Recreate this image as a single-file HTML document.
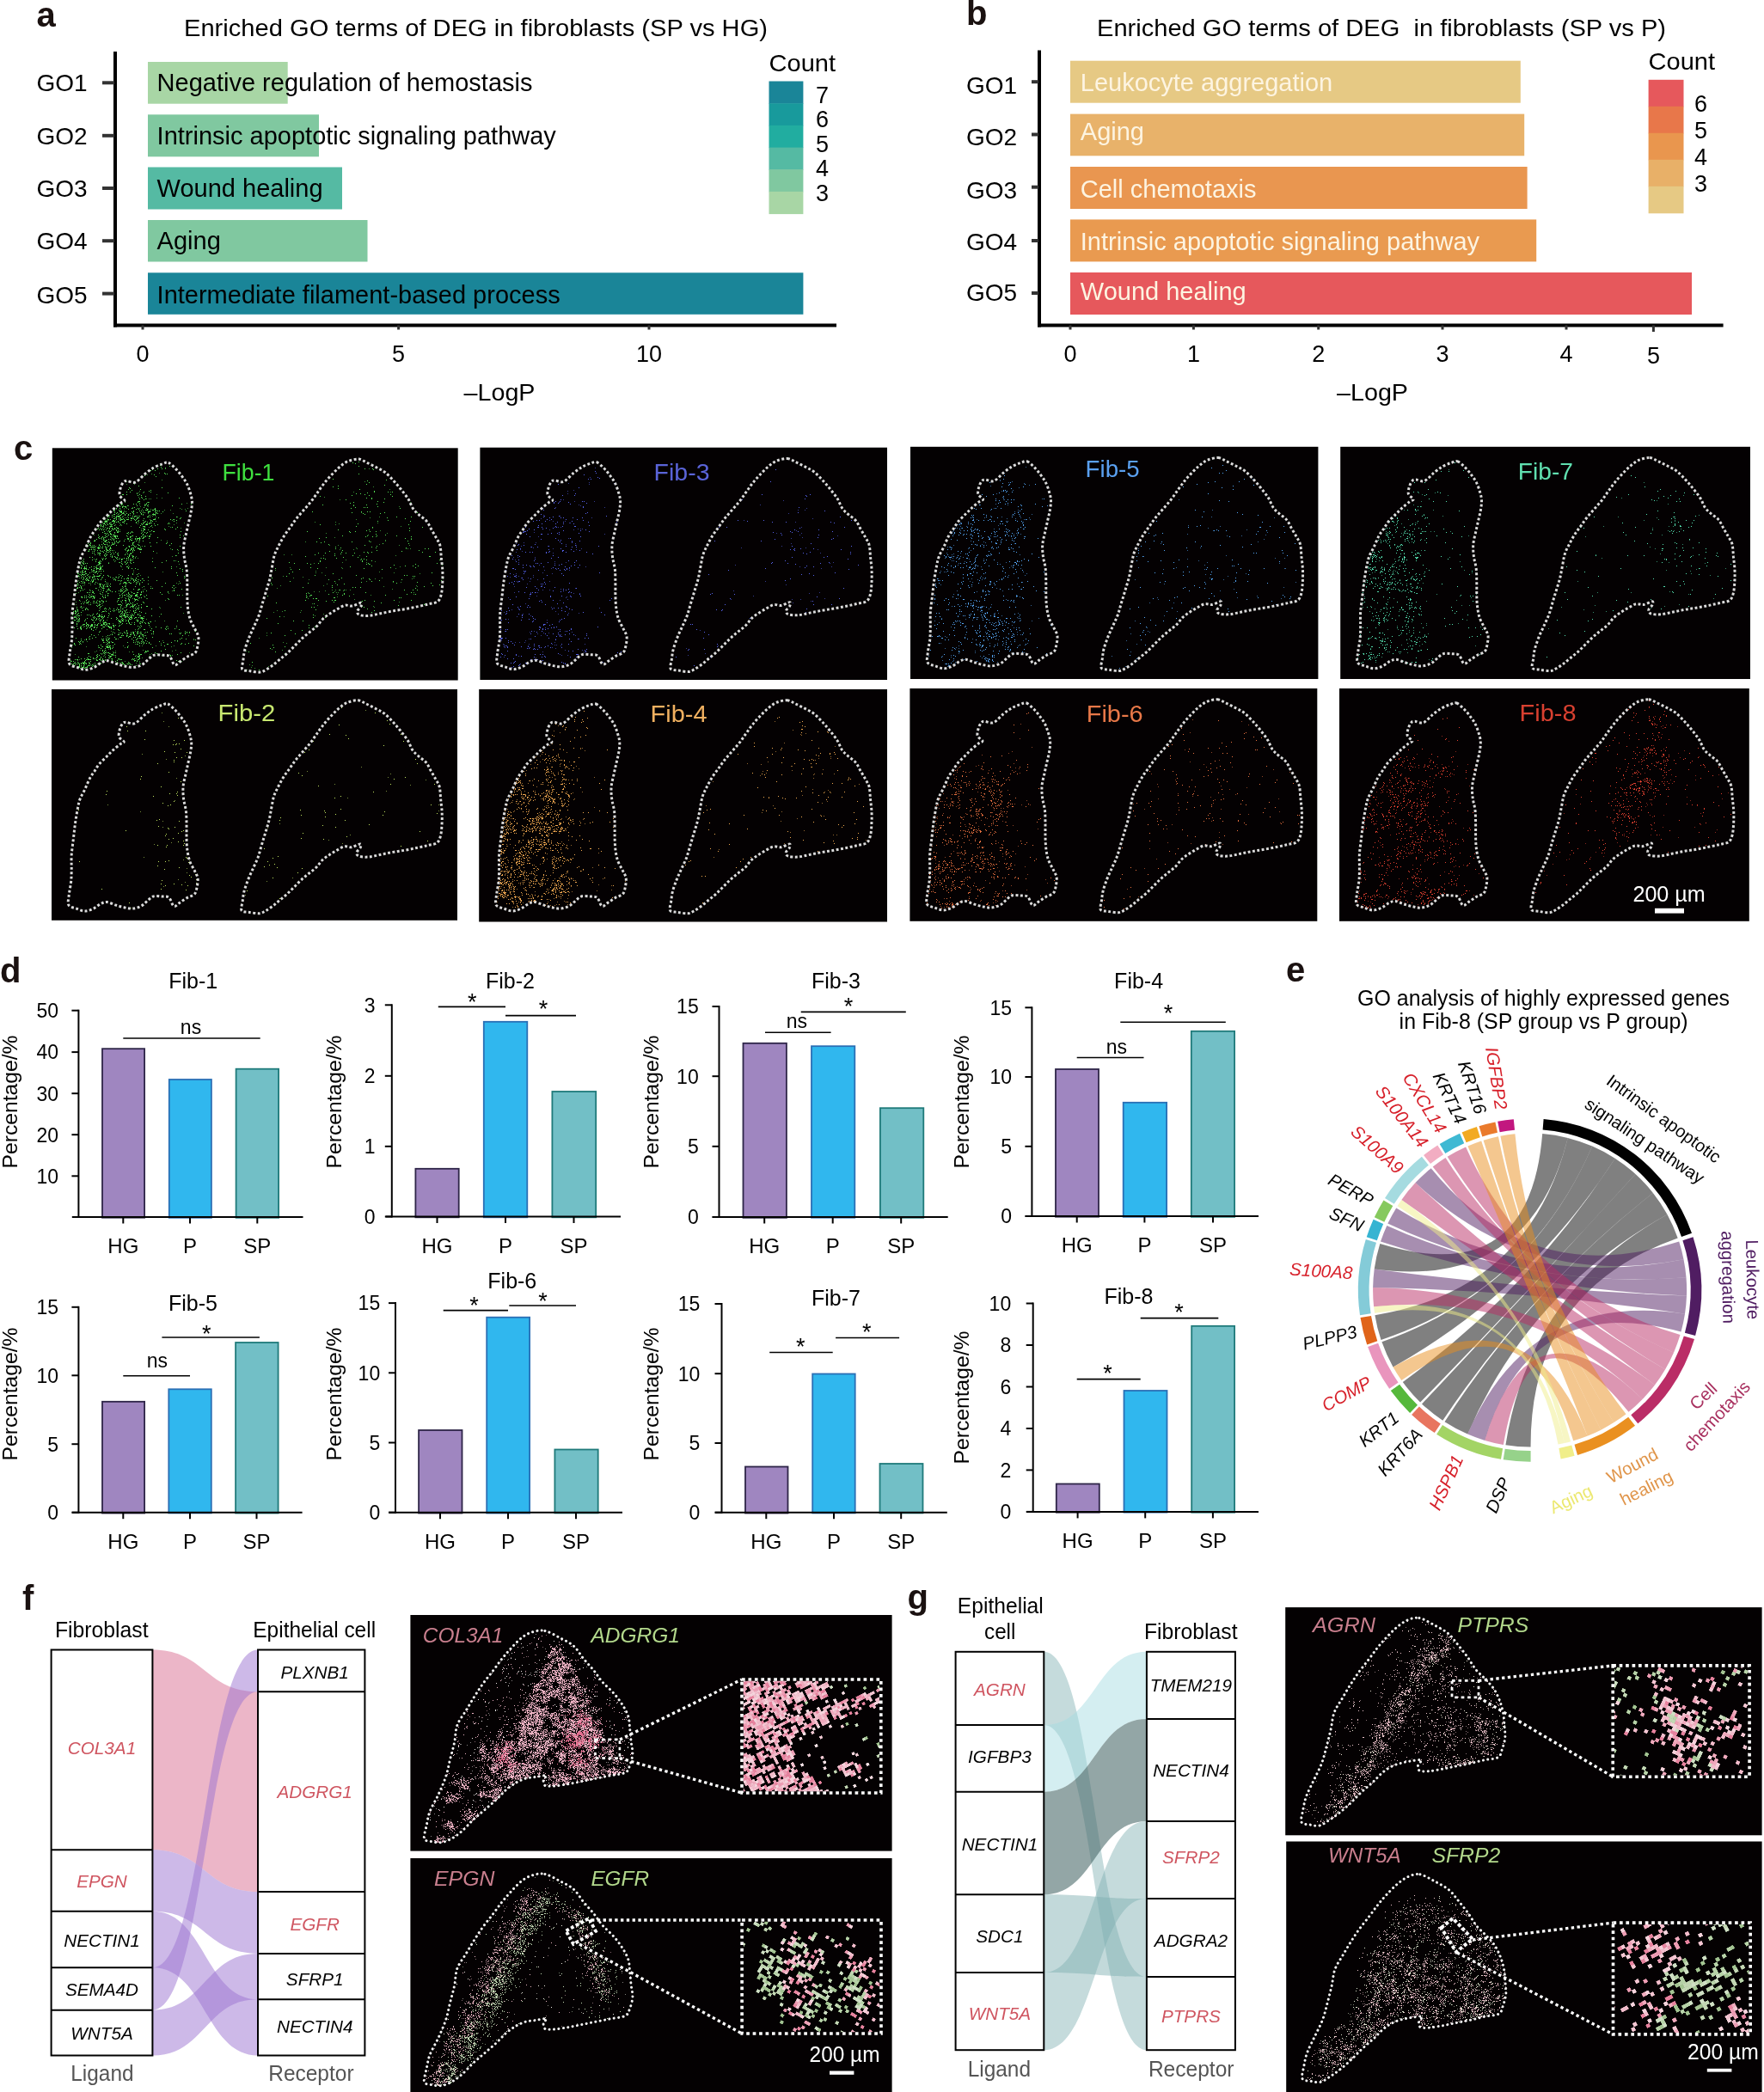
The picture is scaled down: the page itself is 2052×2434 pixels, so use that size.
<!DOCTYPE html>
<html><head><meta charset="utf-8"><title>Figure</title>
<style>
html,body{margin:0;padding:0;background:#fff;}
body{width:2052px;height:2434px;overflow:hidden;}
svg{display:block;font-family:"Liberation Sans",sans-serif;}
.mk{fill:none;stroke:none;}
</style></head><body>
<svg width="2052" height="2434" viewBox="0 0 2052 2434">
<rect width="2052" height="2434" fill="#fff"/>
<defs><marker id="m0" markerWidth="1.3" markerHeight="1.3" refX="0" refY="0" markerUnits="userSpaceOnUse"><rect width="1.3" height="1.3" fill="#55e055"/></marker><marker id="m1" markerWidth="1.3" markerHeight="1.3" refX="0" refY="0" markerUnits="userSpaceOnUse"><rect width="1.3" height="1.3" fill="#5560e8"/></marker><marker id="m2" markerWidth="1.3" markerHeight="1.3" refX="0" refY="0" markerUnits="userSpaceOnUse"><rect width="1.3" height="1.3" fill="#55a5f5"/></marker><marker id="m3" markerWidth="1.3" markerHeight="1.3" refX="0" refY="0" markerUnits="userSpaceOnUse"><rect width="1.3" height="1.3" fill="#55e0b0"/></marker><marker id="m4" markerWidth="1.3" markerHeight="1.3" refX="0" refY="0" markerUnits="userSpaceOnUse"><rect width="1.3" height="1.3" fill="#c0e060"/></marker><marker id="m5" markerWidth="1.3" markerHeight="1.3" refX="0" refY="0" markerUnits="userSpaceOnUse"><rect width="1.3" height="1.3" fill="#f0a850"/></marker><marker id="m6" markerWidth="1.3" markerHeight="1.3" refX="0" refY="0" markerUnits="userSpaceOnUse"><rect width="1.3" height="1.3" fill="#e87040"/></marker><marker id="m7" markerWidth="1.3" markerHeight="1.3" refX="0" refY="0" markerUnits="userSpaceOnUse"><rect width="1.3" height="1.3" fill="#e04030"/></marker><marker id="m8" markerWidth="1.1" markerHeight="1.1" refX="0" refY="0" markerUnits="userSpaceOnUse"><rect width="1.1" height="1.1" fill="#ece4e5"/></marker><marker id="m9" markerWidth="1.4" markerHeight="1.4" refX="0" refY="0" markerUnits="userSpaceOnUse"><rect width="1.4" height="1.4" fill="#ecb2c3"/></marker><marker id="m10" markerWidth="1.4" markerHeight="1.4" refX="0" refY="0" markerUnits="userSpaceOnUse"><rect width="1.4" height="1.4" fill="#e56f90"/></marker><clipPath id="cp1"><rect x="864.8" y="1955.8" width="158.2" height="128.4"/></clipPath><marker id="m11" markerWidth="3.6" markerHeight="3.6" refX="1.8" refY="1.8" markerUnits="userSpaceOnUse"><rect width="3.6" height="3.6" fill="#f4c6d2"/></marker><marker id="m12" markerWidth="3.6" markerHeight="3.6" refX="1.8" refY="1.8" markerUnits="userSpaceOnUse"><rect width="3.6" height="3.6" fill="#f0aabd"/></marker><marker id="m13" markerWidth="3.6" markerHeight="3.6" refX="1.8" refY="1.8" markerUnits="userSpaceOnUse"><rect width="3.6" height="3.6" fill="#e8839f"/></marker><marker id="m14" markerWidth="3.6" markerHeight="3.6" refX="1.8" refY="1.8" markerUnits="userSpaceOnUse"><rect width="3.6" height="3.6" fill="#ee9db4"/></marker><marker id="m15" markerWidth="3.6" markerHeight="3.6" refX="1.8" refY="1.8" markerUnits="userSpaceOnUse"><rect width="3.6" height="3.6" fill="#f6d3dc"/></marker><marker id="m16" markerWidth="3.6" markerHeight="3.6" refX="1.8" refY="1.8" markerUnits="userSpaceOnUse"><rect width="3.6" height="3.6" fill="#f2bccb"/></marker><marker id="m17" markerWidth="3.6" markerHeight="3.6" refX="1.8" refY="1.8" markerUnits="userSpaceOnUse"><rect width="3.6" height="3.6" fill="#cfe0c4"/></marker><marker id="m18" markerWidth="3.6" markerHeight="3.6" refX="1.8" refY="1.8" markerUnits="userSpaceOnUse"><rect width="3.6" height="3.6" fill="#b7d3a8"/></marker><marker id="m19" markerWidth="3.6" markerHeight="3.6" refX="1.8" refY="1.8" markerUnits="userSpaceOnUse"><rect width="3.6" height="3.6" fill="#f3d9df"/></marker><marker id="m20" markerWidth="3.6" markerHeight="3.6" refX="1.8" refY="1.8" markerUnits="userSpaceOnUse"><rect width="3.6" height="3.6" fill="#f6e3e7"/></marker><marker id="m21" markerWidth="3.6" markerHeight="3.6" refX="1.8" refY="1.8" markerUnits="userSpaceOnUse"><rect width="3.6" height="3.6" fill="#efc9d3"/></marker><marker id="m22" markerWidth="3.6" markerHeight="3.6" refX="1.8" refY="1.8" markerUnits="userSpaceOnUse"><rect width="3.6" height="3.6" fill="#a3c492"/></marker><marker id="m23" markerWidth="3.6" markerHeight="3.6" refX="1.8" refY="1.8" markerUnits="userSpaceOnUse"><rect width="3.6" height="3.6" fill="#c3d8b4"/></marker><marker id="m24" markerWidth="1.1" markerHeight="1.1" refX="0" refY="0" markerUnits="userSpaceOnUse"><rect width="1.1" height="1.1" fill="#e9e4dc"/></marker><marker id="m25" markerWidth="1.15" markerHeight="1.15" refX="0" refY="0" markerUnits="userSpaceOnUse"><rect width="1.15" height="1.15" fill="#e6b2bf"/></marker><marker id="m26" markerWidth="1.15" markerHeight="1.15" refX="0" refY="0" markerUnits="userSpaceOnUse"><rect width="1.15" height="1.15" fill="#c4dab5"/></marker><clipPath id="cp2"><rect x="864.9" y="2235.8" width="158.3" height="128.4"/></clipPath><marker id="m27" markerWidth="4" markerHeight="4" refX="2" refY="2" markerUnits="userSpaceOnUse"><rect width="4" height="4" fill="#ee9db4"/></marker><marker id="m28" markerWidth="4" markerHeight="4" refX="2" refY="2" markerUnits="userSpaceOnUse"><rect width="4" height="4" fill="#f6d3dc"/></marker><marker id="m29" markerWidth="4" markerHeight="4" refX="2" refY="2" markerUnits="userSpaceOnUse"><rect width="4" height="4" fill="#b7d3a8"/></marker><marker id="m30" markerWidth="4" markerHeight="4" refX="2" refY="2" markerUnits="userSpaceOnUse"><rect width="4" height="4" fill="#f2bccb"/></marker><marker id="m31" markerWidth="4" markerHeight="4" refX="2" refY="2" markerUnits="userSpaceOnUse"><rect width="4" height="4" fill="#f0aabd"/></marker><marker id="m32" markerWidth="4" markerHeight="4" refX="2" refY="2" markerUnits="userSpaceOnUse"><rect width="4" height="4" fill="#a3c492"/></marker><marker id="m33" markerWidth="4" markerHeight="4" refX="2" refY="2" markerUnits="userSpaceOnUse"><rect width="4" height="4" fill="#f4c6d2"/></marker><marker id="m34" markerWidth="4" markerHeight="4" refX="2" refY="2" markerUnits="userSpaceOnUse"><rect width="4" height="4" fill="#c3d8b4"/></marker><marker id="m35" markerWidth="4" markerHeight="4" refX="2" refY="2" markerUnits="userSpaceOnUse"><rect width="4" height="4" fill="#e8839f"/></marker><marker id="m36" markerWidth="4" markerHeight="4" refX="2" refY="2" markerUnits="userSpaceOnUse"><rect width="4" height="4" fill="#cfe0c4"/></marker><marker id="m37" markerWidth="1.15" markerHeight="1.15" refX="0" refY="0" markerUnits="userSpaceOnUse"><rect width="1.15" height="1.15" fill="#ecc2ca"/></marker><marker id="m38" markerWidth="1.1" markerHeight="1.1" refX="0" refY="0" markerUnits="userSpaceOnUse"><rect width="1.1" height="1.1" fill="#e4dfcf"/></marker><clipPath id="cp3"><rect x="1878.0" y="1939.7" width="155.3" height="125.7"/></clipPath><marker id="m39" markerWidth="4.5" markerHeight="4.5" refX="2.25" refY="2.25" markerUnits="userSpaceOnUse"><rect width="4.5" height="4.5" fill="#f0aabd"/></marker><marker id="m40" markerWidth="4.5" markerHeight="4.5" refX="2.25" refY="2.25" markerUnits="userSpaceOnUse"><rect width="4.5" height="4.5" fill="#b7d3a8"/></marker><marker id="m41" markerWidth="4.5" markerHeight="4.5" refX="2.25" refY="2.25" markerUnits="userSpaceOnUse"><rect width="4.5" height="4.5" fill="#ee9db4"/></marker><marker id="m42" markerWidth="4.5" markerHeight="4.5" refX="2.25" refY="2.25" markerUnits="userSpaceOnUse"><rect width="4.5" height="4.5" fill="#cfe0c4"/></marker><marker id="m43" markerWidth="4.5" markerHeight="4.5" refX="2.25" refY="2.25" markerUnits="userSpaceOnUse"><rect width="4.5" height="4.5" fill="#a3c492"/></marker><marker id="m44" markerWidth="4.5" markerHeight="4.5" refX="2.25" refY="2.25" markerUnits="userSpaceOnUse"><rect width="4.5" height="4.5" fill="#f4c6d2"/></marker><marker id="m45" markerWidth="4.5" markerHeight="4.5" refX="2.25" refY="2.25" markerUnits="userSpaceOnUse"><rect width="4.5" height="4.5" fill="#e8839f"/></marker><marker id="m46" markerWidth="4.5" markerHeight="4.5" refX="2.25" refY="2.25" markerUnits="userSpaceOnUse"><rect width="4.5" height="4.5" fill="#f6d3dc"/></marker><marker id="m47" markerWidth="4.5" markerHeight="4.5" refX="2.25" refY="2.25" markerUnits="userSpaceOnUse"><rect width="4.5" height="4.5" fill="#c3d8b4"/></marker><marker id="m48" markerWidth="4.5" markerHeight="4.5" refX="2.25" refY="2.25" markerUnits="userSpaceOnUse"><rect width="4.5" height="4.5" fill="#f2bccb"/></marker><marker id="m49" markerWidth="1.15" markerHeight="1.15" refX="0" refY="0" markerUnits="userSpaceOnUse"><rect width="1.15" height="1.15" fill="#ecc0c9"/></marker><marker id="m50" markerWidth="1.15" markerHeight="1.15" refX="0" refY="0" markerUnits="userSpaceOnUse"><rect width="1.15" height="1.15" fill="#dbe3cd"/></marker><clipPath id="cp4"><rect x="1878.3" y="2238.9" width="156.1" height="126.2"/></clipPath><marker id="m51" markerWidth="4.8" markerHeight="4.8" refX="2.4" refY="2.4" markerUnits="userSpaceOnUse"><rect width="4.8" height="4.8" fill="#f6d3dc"/></marker><marker id="m52" markerWidth="4.8" markerHeight="4.8" refX="2.4" refY="2.4" markerUnits="userSpaceOnUse"><rect width="4.8" height="4.8" fill="#f2bccb"/></marker><marker id="m53" markerWidth="4.8" markerHeight="4.8" refX="2.4" refY="2.4" markerUnits="userSpaceOnUse"><rect width="4.8" height="4.8" fill="#ee9db4"/></marker><marker id="m54" markerWidth="4.8" markerHeight="4.8" refX="2.4" refY="2.4" markerUnits="userSpaceOnUse"><rect width="4.8" height="4.8" fill="#f0aabd"/></marker><marker id="m55" markerWidth="4.8" markerHeight="4.8" refX="2.4" refY="2.4" markerUnits="userSpaceOnUse"><rect width="4.8" height="4.8" fill="#f4c6d2"/></marker><marker id="m56" markerWidth="4.8" markerHeight="4.8" refX="2.4" refY="2.4" markerUnits="userSpaceOnUse"><rect width="4.8" height="4.8" fill="#e8839f"/></marker><marker id="m57" markerWidth="4.8" markerHeight="4.8" refX="2.4" refY="2.4" markerUnits="userSpaceOnUse"><rect width="4.8" height="4.8" fill="#c3d8b4"/></marker><marker id="m58" markerWidth="4.8" markerHeight="4.8" refX="2.4" refY="2.4" markerUnits="userSpaceOnUse"><rect width="4.8" height="4.8" fill="#cfe0c4"/></marker><marker id="m59" markerWidth="4.8" markerHeight="4.8" refX="2.4" refY="2.4" markerUnits="userSpaceOnUse"><rect width="4.8" height="4.8" fill="#b7d3a8"/></marker><marker id="m60" markerWidth="4.8" markerHeight="4.8" refX="2.4" refY="2.4" markerUnits="userSpaceOnUse"><rect width="4.8" height="4.8" fill="#a3c492"/></marker></defs>
<g opacity="0.999">
<text x="42.5" y="30.6" font-size="40" fill="#1a1110" font-weight="bold">a</text>
<text x="214.0" y="41.5" font-size="27" fill="#000" textLength="679.0" lengthAdjust="spacingAndGlyphs">Enriched GO terms of DEG in fibroblasts (SP vs HG)</text>
<line x1="134.0" y1="60.0" x2="134.0" y2="380.5" stroke="#000" stroke-width="4"/>
<line x1="132.0" y1="378.5" x2="973.0" y2="378.5" stroke="#000" stroke-width="4"/>
<rect x="172.0" y="72.0" width="162.7" height="48.7" fill="#a8d6a5"/>
<line x1="119.0" y1="96.3" x2="133.0" y2="96.3" stroke="#333" stroke-width="4"/>
<text x="42.5" y="106.0" font-size="28" fill="#000">GO1</text>
<text x="182.6" y="106.0" font-size="29" fill="#000">Negative regulation of hemostasis</text>
<rect x="172.0" y="133.3" width="199.0" height="49.0" fill="#80c8a0"/>
<line x1="119.0" y1="157.8" x2="133.0" y2="157.8" stroke="#333" stroke-width="4"/>
<text x="42.5" y="167.6" font-size="28" fill="#000">GO2</text>
<text x="182.6" y="167.6" font-size="29" fill="#000">Intrinsic apoptotic signaling pathway</text>
<rect x="172.0" y="194.5" width="226.0" height="49.0" fill="#55baa3"/>
<line x1="119.0" y1="219.0" x2="133.0" y2="219.0" stroke="#333" stroke-width="4"/>
<text x="42.5" y="229.0" font-size="28" fill="#000">GO3</text>
<text x="182.6" y="229.0" font-size="29" fill="#000">Wound healing</text>
<rect x="172.0" y="256.0" width="255.5" height="48.5" fill="#80c8a0"/>
<line x1="119.0" y1="280.2" x2="133.0" y2="280.2" stroke="#333" stroke-width="4"/>
<text x="42.5" y="290.0" font-size="28" fill="#000">GO4</text>
<text x="182.6" y="290.0" font-size="29" fill="#000">Aging</text>
<rect x="172.0" y="317.3" width="762.4" height="48.5" fill="#1a8598"/>
<line x1="119.0" y1="341.6" x2="133.0" y2="341.6" stroke="#333" stroke-width="4"/>
<text x="42.5" y="352.5" font-size="28" fill="#000">GO5</text>
<text x="182.6" y="352.5" font-size="29" fill="#000">Intermediate filament-based process</text>
<line x1="166.0" y1="378.5" x2="166.0" y2="383.5" stroke="#333" stroke-width="3"/>
<text x="166.0" y="420.5" font-size="27" fill="#000" text-anchor="middle">0</text>
<line x1="463.6" y1="378.5" x2="463.6" y2="383.5" stroke="#333" stroke-width="3"/>
<text x="463.6" y="420.5" font-size="27" fill="#000" text-anchor="middle">5</text>
<line x1="755.0" y1="378.5" x2="755.0" y2="383.5" stroke="#333" stroke-width="3"/>
<text x="755.0" y="420.5" font-size="27" fill="#000" text-anchor="middle">10</text>
<text x="581.0" y="466.0" font-size="27.5" fill="#000" text-anchor="middle" textLength="83.0" lengthAdjust="spacingAndGlyphs">–LogP</text>
<text x="894.5" y="83.0" font-size="28" fill="#000" textLength="77.5" lengthAdjust="spacingAndGlyphs">Count</text>
<rect x="894.5" y="94.5" width="39.9" height="26.2" fill="#1a8598"/>
<rect x="894.5" y="120.2" width="39.9" height="26.2" fill="#189a9c"/>
<rect x="894.5" y="145.9" width="39.9" height="26.2" fill="#21ada0"/>
<rect x="894.5" y="171.6" width="39.9" height="26.2" fill="#55baa3"/>
<rect x="894.5" y="197.2" width="39.9" height="26.2" fill="#80c8a0"/>
<rect x="894.5" y="222.9" width="39.9" height="26.2" fill="#a8d6a5"/>
<text x="949.0" y="120.0" font-size="27" fill="#000">7</text>
<text x="949.0" y="148.4" font-size="27" fill="#000">6</text>
<text x="949.0" y="176.8" font-size="27" fill="#000">5</text>
<text x="949.0" y="205.2" font-size="27" fill="#000">4</text>
<text x="949.0" y="233.6" font-size="27" fill="#000">3</text>
<text x="1124.0" y="29.0" font-size="40" fill="#1a1110" font-weight="bold">b</text>
<text x="1276.0" y="41.5" font-size="27" fill="#000" textLength="662.0" lengthAdjust="spacingAndGlyphs">Enriched GO terms of DEG&#160;&#160;in fibroblasts (SP vs P)</text>
<line x1="1209.0" y1="58.5" x2="1209.0" y2="380.5" stroke="#000" stroke-width="4"/>
<line x1="1207.0" y1="378.5" x2="2004.6" y2="378.5" stroke="#000" stroke-width="4"/>
<rect x="1245.0" y="70.7" width="523.8" height="49.0" fill="#e6c984"/>
<line x1="1200.0" y1="95.2" x2="1208.0" y2="95.2" stroke="#333" stroke-width="4"/>
<text x="1124.0" y="109.0" font-size="28" fill="#000">GO1</text>
<text x="1256.8" y="106.0" font-size="29" fill="#fdf4e1">Leukocyte aggregation</text>
<rect x="1245.0" y="132.6" width="528.2" height="48.7" fill="#e8b26a"/>
<line x1="1200.0" y1="156.5" x2="1208.0" y2="156.5" stroke="#333" stroke-width="4"/>
<text x="1124.0" y="169.4" font-size="28" fill="#000">GO2</text>
<text x="1256.8" y="162.6" font-size="29" fill="#fdf4e1">Aging</text>
<rect x="1245.0" y="194.0" width="531.6" height="49.0" fill="#e99650"/>
<line x1="1200.0" y1="217.7" x2="1208.0" y2="217.7" stroke="#333" stroke-width="4"/>
<text x="1124.0" y="230.6" font-size="28" fill="#000">GO3</text>
<text x="1256.8" y="229.6" font-size="29" fill="#fdf4e1">Cell chemotaxis</text>
<rect x="1245.0" y="255.4" width="542.2" height="49.0" fill="#e99a50"/>
<line x1="1200.0" y1="280.0" x2="1208.0" y2="280.0" stroke="#333" stroke-width="4"/>
<text x="1124.0" y="290.8" font-size="28" fill="#000">GO4</text>
<text x="1256.8" y="290.8" font-size="29" fill="#fdf4e1">Intrinsic apoptotic signaling pathway</text>
<rect x="1245.0" y="317.0" width="723.0" height="49.0" fill="#e6585c"/>
<line x1="1200.0" y1="341.0" x2="1208.0" y2="341.0" stroke="#333" stroke-width="4"/>
<text x="1124.0" y="349.6" font-size="28" fill="#000">GO5</text>
<text x="1256.8" y="349.3" font-size="29" fill="#fdf4e1">Wound healing</text>
<line x1="1245.0" y1="378.5" x2="1245.0" y2="383.5" stroke="#333" stroke-width="3"/>
<text x="1245.0" y="420.5" font-size="27" fill="#000" text-anchor="middle">0</text>
<line x1="1388.4" y1="378.5" x2="1388.4" y2="383.5" stroke="#333" stroke-width="3"/>
<text x="1388.4" y="420.5" font-size="27" fill="#000" text-anchor="middle">1</text>
<line x1="1533.7" y1="378.5" x2="1533.7" y2="383.5" stroke="#333" stroke-width="3"/>
<text x="1533.7" y="420.5" font-size="27" fill="#000" text-anchor="middle">2</text>
<line x1="1678.0" y1="378.5" x2="1678.0" y2="383.5" stroke="#333" stroke-width="3"/>
<text x="1678.0" y="420.5" font-size="27" fill="#000" text-anchor="middle">3</text>
<line x1="1822.0" y1="378.5" x2="1822.0" y2="383.5" stroke="#333" stroke-width="3"/>
<text x="1822.0" y="420.5" font-size="27" fill="#000" text-anchor="middle">4</text>
<line x1="1923.4" y1="378.5" x2="1923.4" y2="386.0" stroke="#333" stroke-width="3"/>
<text x="1923.4" y="423.0" font-size="27" fill="#000" text-anchor="middle">5</text>
<text x="1596.5" y="466.0" font-size="27.5" fill="#000" text-anchor="middle" textLength="83.0" lengthAdjust="spacingAndGlyphs">–LogP</text>
<text x="1917.6" y="81.2" font-size="28" fill="#000" textLength="77.5" lengthAdjust="spacingAndGlyphs">Count</text>
<rect x="1917.6" y="92.8" width="40.9" height="31.5" fill="#e6585c"/>
<rect x="1917.6" y="123.8" width="40.9" height="31.5" fill="#e8774a"/>
<rect x="1917.6" y="154.8" width="40.9" height="31.5" fill="#e9964e"/>
<rect x="1917.6" y="185.8" width="40.9" height="31.5" fill="#e8b068"/>
<rect x="1917.6" y="216.8" width="40.9" height="31.5" fill="#e6c984"/>
<text x="1971.0" y="129.5" font-size="27" fill="#000">6</text>
<text x="1971.0" y="160.5" font-size="27" fill="#000">5</text>
<text x="1971.0" y="191.5" font-size="27" fill="#000">4</text>
<text x="1971.0" y="222.5" font-size="27" fill="#000">3</text>
<text x="16.0" y="535.4" font-size="40" fill="#1a1110" font-weight="bold">c</text>
<rect x="60.8" y="521.3" width="471.9" height="270.2" fill="#040102"/>
<path d="M186 541l11 1-10 1 5 1-9 1 5 0-11 1-2 1 5 0 11 3 1 1 2 0-15 1-11 1 13 1-16 1-14 5 10 5-11 2 38 0-37 1-2 1 14 0-10 1 22 0-2 1-26 1 4 0 16 0 8 0 20 1-36 1-17 1 1 0 4 0 15 0-2 1 4 0-24 1 29 0-5 1 1 1 43 0-46 1 7 0-2 1-6 2 1 0-2 1 12 0-10 1-21 1 1 0 13 0 3 0 12 0 41 0 11 0-81 1 28 0 3 0-24 1 11 0 9 0 3 0 29 0-64 1 3 0 3 0 3 0 1 0-4 1 4 0 10 0 11 0-32 1 4 0 14 0 7 0 10 0 10 0-47 1 16 0 9 0 3 0 10 0 9 0-48 1 6 0 31 0 1 0 1 0 6 0 1 0 2 0-48 1 1 0 6 0 2 0 14 0 7 0 2 0 2 0 8 0 7 0 2 0 2 0 31 0-77 1 1 0 1 0 3 0 2 0 7 0 2 0 17 0 1 0 1 0 6 0 9 0-56 1 3 0 5 0 2 0 11 0 5 0 4 0 3 0 2 0 4 0 9 0-46 1 7 0 1 0 4 0 4 0 4 0 9 0 17 0 2 0-51 1 1 0 4 0 4 0 4 0 4 0 15 0 2 0 11 0 1 0 1 0 1 0-54 1 4 0 9 0 1 0 5 0 4 0 24 0 7 0-54 1 6 0 3 0 1 0 1 0 1 0 16 0 3 0 1 0 2 0 2 0-37 1 5 0 8 0 1 0 3 0 14 0 15 0 1 0 2 0 31 0-70 1 5 0 9 0 3 0 2 0 5 0 1 0 1 0 23 0 26 0-78 1 1 0 5 0 2 0 3 0 9 0 1 0 2 0 4 0 8 0 13 0 29 0-84 1 1 0 2 0 7 0 5 0 1 0 1 0 2 0 3 0 1 0 1 0 7 0 2 0 20 0 1 0 1 0 18 0 4 0-78 1 7 0 1 0 8 0 5 0 7 0 5 0 4 0 5 0 9 0 30 0-83 1 1 0 1 0 6 0 1 0 1 0 1 0 4 0 7 0 16 0 9 0 6 0 2 0 25 0-83 1 3 0 2 0 9 0 2 0 2 0 5 0 1 0 15 0 9 0 1 0 3 0-50 1 7 0 4 0 7 0 5 0 14 0 8 0 8 0 1 0 21 0-76 1 1 0 3 0 3 0 20 0 17 0 6 0 1 0 2 0 6 0 16 0-78 1 5 0 3 0 3 0 1 0 1 0 10 0 25 0 4 0 1 0 1 0 12 0-66 1 3 0 13 0 30 0 13 0 4 0-63 1 2 0 9 0 1 0 1 0 36 0 1 0 1 0 7 0-40 1 27 0 6 0 32 0 6 0-92 1 10 0 1 0 2 0 3 0 3 0 3 0 1 0 29 0-53 1 4 0 10 0 3 0 2 0 5 0 30 0 1 0 23 0 13 0-89 1 3 0 2 0 3 0 8 0 4 0 32 0 1 0 4 0 20 0-66 1 3 0 6 0 2 0 27 0 2 0 10 0-55 1 6 0 1 0 9 0 2 0 14 0 21 0 4 0 1 0 31 0-91 1 8 0 6 0 3 0 1 0 12 0 3 0 2 0 14 0 3 0-49 1 6 0 20 0 3 0 13 0 6 0-62 1 15 0 5 0 1 0 37 0 9 0-61 1 12 0 5 0 1 0 34 0 43 0-87 1 11 0 1 0 2 0 11 0 7 0 20 0 39 0-98 1 4 0 5 0 4 0 4 0 1 0 1 0 2 0 15 0 1 0 6 0 6 0 3 0 2 0 4 0-59 1 4 0 4 0 12 0 17 0 11 0 5 0 16 0 26 0-94 1 2 0 3 0 10 0 5 0 2 0 11 0 1 0 8 0 2 0 1 0 1 0 1 0 4 0 7 0-61 1 14 0 2 0 4 0 17 0 2 0 6 0 2 0 3 0-52 1 10 0 3 0 9 0 20 0 1 0 9 0-53 1 1 0 11 0 1 0 1 0 12 0 4 0 5 0 6 0 8 0 8 0-44 1 4 0 7 0 5 0-33 1 19 0 3 0 3 0 7 0 17 0 1 0 19 0 8 0 12 0-92 1 3 0 15 0 11 0 2 0 21 0 39 0 6 0-95 1 14 0 3 0 1 0 2 0 6 0 2 0 22 0 6 0-56 1 1 0 4 0 6 0 14 0 6 0 8 0 10 0 2 0 6 0 36 0-95 1 14 0 3 0 7 0 24 0 6 0 12 0 7 0 34 0-104 1 1 0 1 0 2 0 1 0 4 0 8 0 2 0 4 0 22 0 7 0 6 0-55 1 5 0 1 0 1 0 1 0 2 0 1 0 4 0 5 0 19 0 6 0 2 0 5 0 53 0-99 1 9 0 5 0 18 0 6 0 8 0 1 0 1 0-58 1 2 0 18 0 3 0 18 0 4 0 3 0 3 0 7 0 1 0 1 0 36 0 6 0-93 1 3 0 5 0 3 0 1 0 3 0 2 0 18 0 1 0 2 0 3 0 2 0-53 1 6 0 8 0 2 0 4 0 25 0 30 0-58 1 4 0 2 0 8 0 20 0 9 0-56 1 2 0 5 0 1 0 1 0 21 0 15 0 55 0-91 1 6 0 7 0 3 0 4 0 12 0 3 0 1 0-42 1 5 0 9 0 4 0 9 0 8 0 5 0-29 1 2 0 14 0 13 0 4 0 50 0-82 1 8 0 3 0 17 0 4 0 1 0-51 1 3 0 23 0 4 0 2 0 13 0 5 0-31 1 12 0 9 0 3 0 2 0-52 1 15 0 7 0 3 0 14 0 2 0 3 0 1 0 5 0 4 0-44 1 4 0 8 0 13 0 9 0 8 0 5 0-58 1 20 0 31 0 4 0 1 0 41 0 9 0-108 1 3 0 14 0 4 0 2 0 24 0 4 0 32 0 30 0-112 1 19 0 1 0 24 0 6 0 3 0 3 0 4 0 33 0-92 1 3 0 2 0 14 0 1 0 10 0 15 0 6 0 5 0-55 1 18 0 27 0 4 0-52 1 1 1 5 0 12 0 4 0 3 0 21 0-42 1 8 0 3 0 9 0 29 0 1 0 51 0-107 1 2 0 4 0 6 0 8 0 4 0 1 0 32 0 31 0-86 1 3 0 1 0 1 0 1 0 9 0 3 0 1 0 1 0 2 0 1 0 32 0 4 0 4 0 42 0 10 0-109 1 2 0 4 0 6 0 3 0 1 0 1 0 43 0 52 0-116 1 12 0 1 0-14 1 4 0 13 0 3 0 2 0 3 0 92 0-119 1 3 0 2 0 1 0 9 0 3 0 1 0-22 1 6 0 8 0 6 0 95 0-115 1 9 0 1 0 13 0 4 0 37 0 7 0-66 1 1 0 2 0 4 0 6 0 46 0 5 0-65 1 7 0 15 0 4 0 5 0 15 0 9 0 57 0-116 1 1 0 8 0 4 0 7 0 2 0 1 0 1 0 1 0 11 0 16 0 18 0 54 0-117 1 10 0 2 0 10 0 9 0 7 0 37 0-78 1 7 0 3 0 3 0 11 0 13 0 6 0 4 0 7 0 10 0 56 0-117 1 3 0 10 0 3 0 20 0 11 0 3 0 2 0 3 0 2 0 11 0-69 1 3 0 2 0 1 0 6 0 6 0 3 0 15 0 2 0 21 0 2 0-57 1 2 0 1 0 5 0 29 0 2 0 2 0 7 0 7 0 3 0 5 0 4 0 15 0-88 1 13 0 1 0 14 0 34 0 4 0-68 1 6 0 9 0 4 0 33 0 1 0 5 0 8 0 7 0-69 1 2 0 5 0 22 0 18 0 2 0 1 0 1 0 4 0 1 0 10 0 30 0 17 0-119 1 20 0 5 0 1 0 1 0 6 0 5 0 11 0 19 0 14 0-83 1 27 0 3 0 2 0 4 0 21 0 16 0-69 1 23 0 4 0 82 0-108 1 22 0 4 0 4 0 1 0 3 0 14 0 3 0 12 0 10 0 21 0-98 1 2 0 2 0 24 0 82 0-111 1 1 0 4 0 17 0 8 0 1 0 26 0 29 0 2 0 25 0-76 1 21 0 8 0 6 0 1 0 49 0-123 1 8 0 8 0 10 0 6 0 5 0 2 0 13 0 6 0 2 0 12 0 42 0-109 1 14 0 21 0 10 0 3 0 1 0 4 0 24 0 32 0-94 1 15 0 7 0 4 0 6 0 4 0 20 0 2 0 29 0-94 1 3 0 3 0 1 0 11 0 24 0 6 0 4 0 6 0 1 0 4 0 22 0-98 1 21 0 7 0 9 0 17 0 7 0 6 0 1 0-39 1 30 0 3 0 9 0 4 0 1 0 24 0-84 1 18 0 3 0 14 0 3 0 2 0 1 0 4 0 2 0 2 0 4 0 1 0 5 0 7 0 36 0 2 0-110 1 2 0 8 0 11 0 33 0 5 0 1 0 1 0-65 1 1 0 10 0 1 0 2 0 1 0 13 0 20 0 7 0 1 0 2 0 8 0 8 0-73 1 3 0 2 0 4 0 5 0 11 0 2 0 29 0 11 0 2 0-55 1 7 0 21 0 1 0 8 0 3 0 7 0 39 0-94 1 49 0 7 0 1 0 1 0 37 0-104 1 8 0 18 0 19 0 5 0 3 0 1 0 4 0 7 0 3 0-57 1 6 0 6 0 4 0 4 0 23 0 4 0-52 1 4 0 14 0 4 0 21 0 25 0-66 1 1 0 1 0 6 0 2 0 2 0 34 0 5 0 3 0 13 0-73 1 3 0 52 0 3 0 7 0-73 1 19 0 11 0 21 0 1 0 1 0 1 0 7 0 1 0 2 0 4 0 3 0 7 0-52 1 3 0 26 0 6 0 7 0 2 0 5 0-67 1 19 0 4 0 30 0 5 0 2 0 1 0 15 0 1 0-82 1 27 0 24 0 6 0 5 0 3 0 7 0 3 0 46 0-115 1 5 0 22 0 5 0 9 0 21 0 2 0-70 1 10 0 2 0 20 0 2 0 9 0 8 0 2 0 18 0 1 0 15 0-86 1 9 0 3 0 33 0 2 0 1 0 9 0 11 0-71 1 3 0 6 0 19 0 16 0 2 0 7 0 4 0 2 0 9 0 2 0-72 1 2 0 1 0 2 0 29 0 1 0 3 0 5 0 10 0 2 0 2 0 3 0 10 0 7 0 57 0-131 1 6 0 44 0 4 0 4 0 2 0 9 0 7 0-79 1 2 0 4 0 22 0 13 0 15 0 3 0 2 0 23 0-79 1 18 0 4 0 28 0 2 0 2 0 9 0 7 0 27 0-103 1 5 0 12 0 2 0 12 0 3 0 26 0 3 0 1 0 6 0 6 0-69 1 1 0 13 0 10 0 1 0 5 0 5 0 13 0 2 0 2 0 1 0 1 0 7 0 1 0 2 0 7 0 1 0 13 0-89 1 22 0 5 0 1 0 2 0 1 0 1 0 2 0 18 0 1 0 5 0 2 0 1 0 4 0 15 0-81 1 2 0 20 0 2 0 8 0 2 0 5 0 10 0 10 0 4 0 2 0 1 0 1 0 4 0 1 0 3 0 3 0 1 0-76 1 3 0 9 0 8 0 3 0 3 0 4 0 10 0 7 0 6 0 8 0 3 0 3 0 8 0 1 0 1 0-77 1 3 0 14 0 6 0 23 0 6 0 2 0 7 0 1 0 1 0 13 0-79 1 1 0 4 0 16 0 1 0 3 0 5 0 1 0 3 0 17 0 5 0 7 0 11 0-70 1 2 0 6 0 22 0 19 0 3 0 1 0 3 0 3 0 10 0 1 0 6 0 40 0-117 1 2 0 25 0 22 0 1 0 1 0 9 0 14 0 12 0-90 1 15 0 9 0 11 0 1 0 1 0 1 0 17 0 10 0 6 0 9 0 3 0 4 0-83 1 11 0 14 0 6 0 4 0 2 0 1 0 15 0 5 0 3 0 13 0 6 0 4 0-84 1 8 0 1 0 3 0 1 0 4 0 1 0 3 0 3 0 5 0 2 0 1 0 2 0 29 0 4 0-60 1 4 0 3 0 3 0 1 0 3 0 2 0 1 0 4 0 1 0 4 0 9 0 1 0 2 0 5 0 34 0-84 1 5 0 6 0 2 0 3 0 1 0 1 0 18 0 1 0 6 0 6 0 22 0 4 0 41 0-112 1 12 0 4 0 1 0 10 0 1 0 5 0 1 0 2 0 3 0 30 0 19 0 12 0-107 1 7 0 1 0 7 0 3 0 5 0 3 0 15 0 2 0 58 0-97 1 4 0 6 0 6 0 12 0 11 0 32 0 15 0 16 0 3 0 8 0-109 1 12 0 26 0 5 0 30 0 1 0 25 0 15 0-100 1 30 0 9 0 28 0 51 0-110 1 31 0 13 0 18 0 49 0-112 1 16 0 13 0 10 0 1 0 4 0 4 0 8 0 7 0 39 0 3 0-87 1 5 0 2 0 5 0 2 0 1 0 7 0 5 0 50 0-68 1 13 0 4 0 4 0 1 0 12 0 2 0 19 0 2 0 10 0 6 0-109 1 24 0 7 0 1 0 13 0 1 0 4 0 9 0 1 0-57 1 16 0 16 0 2 0 4 0 9 0 6 0 5 0 2 0 43 0-108 1 43 0 3 0 1 0 10 0 1 0 4 0-55 1 22 0 6 0 1 0 9 0 6 0 2 0 20 0-89 1 19 0 16 0 4 0 33 0 2 0 1 0 1 0 6 0 41 0-117 1 6 0 4 0 14 0 2 0 6 0 8 0 1 0 18 0 6 0 50 0 7 0-116 1 19 0 4 0 1 0 2 0 32 0 69 0-133 1 25 0 1 0 4 0 31 0 14 0 34 0 3 0-115 1 2 0 3 0 29 0 35 0 4 0 2 0 19 0-93 1 28 0 6 0 1 0 3 0 1 0 17 0 7 0 5 0 7 0 6 0 17 0 9 0-113 1 7 0 32 0 37 0 2 0 3 0 3 0 3 0 38 0 8 0-133 1 6 0 32 0 9 0 26 0 16 0 19 0 1 0 15 0 5 0-128 1 30 0 70 0-73 1 11 0 2 0 1 0 3 0 31 0 29 0 34 0-106 1 4 0 1 0 1 0 2 0 21 0-33 1 9 0 1 0 1 0 2 0 3 0 17 0 29 0-60 1 5 0 6 0 2 0-2 1 64 0-73 1 3 0-3 1 50 0 2 0 1 0 15 0-66 1 33 0 15 0 1 0-50 1 2 0 1 0 2 0 1 0 6 0 2 0 34 0 12 0 30 0-108 1 1 0 14 0 4 0 6 0 34 0 21 0-69 1 16 0 1 0 1 0 24 0 6 0 2 0 1 0 30 0 12 0-94 1 3 0 11 0 4 0 2 0 2 0 28 0 36 0-95 1 10 0 14 0 1 0 1 0 28 0 3 0 1 0 1 0 36 0-107 1 14 0 12 0 5 0 6 0 6 0 25 0 2 0-60 1 7 0 4 0 14 0 1 0 35 0-68 1 4 0 4 0 6 0 2 0 6 0 3 0 11 0 8 0 16 0 2 0 6 0-75 1 2 0 1 0 10 0 2 0 1 0 1 0 1 0 7 0 3 0 1 0 3 0 3 0 2 0 15 0 2 0 12 0 2 0 5 0 1 0-62 1 13 0 1 0 4 0 2 0 3 0 3 0 5 0 6 0 20 0 1 0 48 0-123 1 3 0 13 0 7 0 29 0 25 0 48 0-120 1 3 0 6 0 2 0 5 0 33 0 6 0 7 0-63 1 5 0 3 0 2 0 1 0 1 0 1 0 5 0 6 0 7 0 23 0 10 0 12 0-79 1 2 0 2 0 1 0 2 0 2 0 2 0 3 0 3 0 3 0 39 0 1 0 5 0 1 0 2 0 12 0-79 1 8 0 6 0 9 0 37 0 9 0-67 1 6 0 2 0 3 0 5 0 1 0 1 0 4 0 50 0 3 0-71 1 1 0 1 0 5 0 4 0 6 0-15 1 3 0 1 0 1 0 2 0 1 0 1 0 9 0-17 1 2 0 3 0-3 1 4 0 2 0 316-241-7 1 3 1 4 3 7 3 9 0 1 1-17 5-30 6 62 1-22 1 2 2-3 2 21 1-54 1-6 1 6 2 25 1 17 2 0 1 16 0 5 0-29 1-13 1 5 0 5 1 30 0-45 1 20 0-57 1 84 0-30 2 6 0 0 1 15 0-45 1 37 2-28 1 35 0-39 1 31 1-63 1 51 0-15 1 28 1-26 1 10 0 4 0-19 1 57 0-102 4 57 0 7 0 3 0-21 1 38 0 38 0-63 1 20 0-18 1 37 3 17 0-28 1 21 1-20 2-12 1 38 0-61 3-44 1 103 0-61 2 19 1 58 0-15 1-83 2 36 0-3 1 50 0-119 1 49 0 7 0 17 0 7 0-30 1 30 2 11 1-50 1 29 0 11 0 23 0-36 1 8 0 45 0-99 1-8 1 100 0 7 1-49 2 45 0-106 1 9 0 32 0-36 1 72 1 30 0-93 1 42 1 14 1-48 1 42 0-36 1 41 0 35 0-82 1 104 0 4 0-100 2 40 0 49 0-104 1 84 0-70 1 26 0 4 0 5 0 59 0 15 0-136 1 8 0 24 0 10 0 16 0-39 1 7 0-30 1 23 1 21 0-55 1 71 0 73 0 1 0-101 1 17 0-43 1 3 0 15 0-13 1 42 0 3 0 3 1 85 0-139 1 49 0 11 0-60 1 49 0-85 1 6 1 15 0 13 0 58 0 80 0-147 1 65 0 3 0 54 0 30 0-55 1-26 1 39 0 9 0 6 0-79 1-46 1 93 0 29 0-163 1 49 0 54 0-85 1 10 0 96 0-104 3 162 1-166 1 51 0-21 2 48 0 56 0 3 0-140 1 147 0 2 0-166 2 81 0 25 0-2 1 9 0-47 1 12 0 36 0 37 0-26 1 72 0-176 1 52 0 43 0 25 0-37 1 65 0-170 1 43 0 103 0 40 0-101 1-84 1 76 0 119 0-125 1 117 0-10 1-141 1 34 0 24 0 3 0 6 0 64 1-88 2 5 0 70 0 10 0 5 0-98 3 38 0 53 0-122 1 3 0 41 0-18 1 18 0 73 0 10 0-127 1 5 0 1 0 36 0 50 0-137 1 49 0 46 0-50 1 32 1 1 0 75 0 2 0-102 1 3 0 1 0-13 2 15 0 16 0 3 0 1 0 34 0 34 0 20 0-99 1 42 0 14 0-47 1 32 0-99 1 122 0-78 1 128 1-30 1-42 1-59 1 3 0 58 0 4 2-60 1-36 1 104 0 18 0-21 2-68 3 15 0-54 2 39 1 14 0-68 1 31 3 11 0-29 3 36 2 7 2-7 1-21 3 13 0-36 3 28 1-12 2-40 9 26 2 14 2-13 1-4 1-25 4 31 0 11 2 1 0-4 4-35 6 23 3-15 6" class="mk" style="marker:url(#m0)"/>
<path d="M192 545l-7 5-9 1-5 1 17 6-41 2 21 1-12 1-9 1 9 0 6 8-3 2 2 0 5 0 16 2-42 1 21 2 21 1 6 0-18 1 3 0 2 0-30 1 15 2-15 1 26 0 2 0-3 1 47 0-49 1-30 1 24 0 6 0-30 1 1 0 4 0 6 0-6 1 1 0 19 0 9 0-18 1-10 1 3 0 7 0 8 0 47 0 9 0-83 1 5 0 25 0 7 0 3 0 4 0 32 0 4 0-71 1 37 0 10 0 7 0-58 1 32 0-32 2 42 0-44 1 6 0 28 0 6 0 9 0 14 0-46 1-28 1 24 0 15 0 9 0 3 0-35 1 5 0 8 0 16 0 5 0-50 1 6 0 2 0 2 0 44 0 25 0-72 1 11 0 2 0-23 1 11 0-13 1 16 0 36 0 27 0-79 1 4 0 8 0 5 0 37 0 24 0-79 1 24 0 36 0-58 1 38 0-34 1 2 0 44 0 3 0 29 0 9 0-95 1 13 0 28 0 6 0 1 0 30 0-81 1 18 0 68 0-79 1 6 0 10 0 2 0-27 1 6 0 7 0 25 0 44 0-76 1 2 0 6 0 45 0 4 0 21 0-82 1 3 0 91 0-89 1 12 0 1 0 30 0-25 1-14 2 11 0 30 0-1 1-44 1 3 0 1 0 8 0 14 0 2 1-40 1 16 0 4 0 4 0 2 1 18 0 12 0 3 0 1 0 2 0 2 0-50 1 7 0 18 0 26 0-54 1 1 0 8 0 37 0-34 1 2 0 19 0 10 0 2 0-47 1 2 0 1 0 9 0 15 0 3 0 66 0-90 1 5 0 30 0 28 0-26 1 33 0-76 1 17 0 21 0 6 0-42 1 13 0 3 0 25 0-46 2 16 0-24 1 18 0 2 0 35 0-54 1 3 0 11 0 27 0 9 0 7 0-11 2-48 1 4 0 5 0 12 0 2 0 24 0 2 0 8 0 1 0 34 0-98 1 3 0 5 0 1 0 1 0 13 0 30 0-50 1 7 0 16 0 6 0 14 0 61 0-105 1 5 0 20 0 27 0-41 1 15 0 3 0 16 0 35 1-69 1 10 0 23 0-25 1-5 1 14 0 22 0 53 0-77 1 20 0 10 0 42 0-43 1-39 1 2 0 19 0 16 0 2 0 3 0 17 0-68 1 43 0 0 1-18 1 70 0-71 1-36 1 19 0 10 0 12 0-45 1 4 0 20 0-24 1 21 0 2 0 92 0-95 1 1 0 35 0-38 2 5 0 25 0 9 0 55 0-105 1 11 0-13 2 21 0 23 0-36 1 49 0-48 1 2 0-14 1 11 0 4 0 4 0 41 0 34 0-95 1-3 1 4 0-3 1 1 0 4 0 41 0-47 1 6 0 12 0 6 0 48 0-71 1 3 0 10 0 3 0 1 0 29 0-43 1 9 0 30 0 4 0 14 0 63 0-123 1 5 0 3 0 3 0 5 0 41 0 4 1 5 0 8 0-60 1 4 0 12 0 38 0 1 0-70 1 15 0 28 0 15 0 2 0 6 0 15 0-82 1 5 0 2 0 8 0 35 0 68 0-112 1 27 0 23 0 3 0 6 0 5 0-70 1 4 0 11 0 8 0 27 0 19 0 46 0-43 1 45 0-116 1 7 0 7 0-15 1 6 0 28 0 3 0 18 0 56 0-83 1 4 0 24 0 29 0-60 1 5 0 23 0 22 0 39 0-109 1 17 0 9 0 5 0 16 0-44 1 19 0 23 0 1 0 2 0 25 0-74 1 30 0 2 0 18 0 17 0 5 0-61 1 13 0 2 0 20 0 60 0-84 1 8 0 21 0 7 0-61 1 11 0 93 0-69 1 12 0 58 0-93 1 3 0 13 0 22 0 17 0 1 1 53 0-106 1 1 0 3 0 15 0 14 0 8 0 1 0 5 0 14 0-65 1 1 0 16 0-9 1 29 0 2 0 4 0-38 1 47 0 7 0 9 0 1 0-22 1 7 0-43 1 79 0-99 1 7 0 8 0 4 0 5 0 3 0 16 0 4 0 16 0-68 1 8 0 16 0 3 0 21 0-31 1 14 0-6 1 2 0 3 0 24 0 6 0-60 1 15 0 12 0 41 0-42 1 5 0 27 0-6 1 13 0 5 0-65 1 1 0 3 0 47 0 41 0-70 1 40 0 9 0 22 0-70 1 12 0 15 0-17 1-38 1 34 0 29 0-30 1 11 0-47 1 33 0 32 0 6 0 2 0-70 1 68 0 57 0-126 1 28 0 12 0 29 0 6 0-68 1 13 0 38 0 4 0 2 0-63 1 2 0 17 0 35 0-56 1 3 0 24 0 28 0 5 0 4 0 35 0-98 1 4 0 50 0 5 0 17 0 0 1 4 0-76 1 8 0 15 0 4 0 27 0 14 0 11 0-71 1 16 0 9 0 14 0 2 0 7 0 11 0 8 0-82 1 54 0 3 0 39 0 11 0-82 1 10 0 3 0 38 0 4 0 1 0 9 0-21 1 9 0-46 1 5 0 10 0 7 0 24 0 10 0-76 1 28 0 3 0 14 0 10 0-49 1 3 0 14 0 5 0 39 0-65 1 25 0 71 0-97 1 6 0 10 0 6 0 9 0 46 0 21 0-67 1 35 0 42 0-112 1 18 1 13 0 33 0 3 0-31 2 28 0 58 0-63 1 8 0 4 0 5 0 46 0-63 1 10 0 6 0 40 0 7 0 2 0 3 0-90 1 18 0 4 0 2 0 6 0-46 1 14 0 19 0-20 1 15 0 6 0 10 0 7 0 54 0-100 1 4 0-20 1 22 0 16 0 26 0-42 1-22 1 34 0 28 0 1 0 59 0-127 1 67 0 60 0-60 1 24 0-88 1 26 0 2 0 29 0 13 0 35 0-110 1 25 0 2 0 34 0 5 0 3 0-38 1 60 0-93 1 63 0 3 0 6 0-82 1 39 0 3 0 17 1 6 0 16 0 16 0 21 0-102 1 18 0 81 0-116 1 31 0 13 0 18 0-19 2-10 1 50 0 38 0-92 1 9 0 2 0 11 0 66 0-90 1 21 0 19 0 70 1-101 1 9 0 3 0 45 0-89 1 31 0 4 0 52 0 23 0-76 1 37 0 30 0 12 0-80 1 53 0-61 1 1 0 4 1 44 0 4 0-36 1 8 0 21 0-66 1 9 0 29 0 7 0 3 0-58 1 8 0 34 0 35 0-76 1 62 0 11 0 6 0 49 0-130 1 60 0-60 1 19 0 38 0 4 0 1 0 15 0-62 1 8 0 4 0 5 0 34 0-42 1 4 0 2 0 34 0 6 0-64 1 19 0 4 0-16 1 335-230-5 15 10 6 19 3-42 3 43 0-84 1 7 5 18 3 82 3-66 3 53 2-39 1-5 6 21 5-11 1-16 2-48 3 24 0 49 1-45 1-4 1 76 2-33 2 9 3-63 3 71 0-22 2 9 2-48 1 89 1-30 2 0 1-93 1 75 0 1 0 10 3-58 1 10 0 71 0 12 0-62 3 1 1 57 0 2 0 3 0-82 1 16 0-81 6 9 0 37 1 42 0 42 0-58 5 17 0 17 2-38 1 28 0-61 1 65 1 84 1-49 2-128 1 42 0 18 0 1 1 62 0-140 2 47 1 74 1-74 1 7 0 84 0 30 1-110 2-49 1 23 1-11 1 103 0 37 0-45 1 43 0 36 0-156 1 67 2 31 1 9 0-76 1-10 1-54 2 50 0 108 0-38 1 39 0-163 2 134 1-70 1 4 0 4 0 8 0 5 0-29 1 21 0-34 1 6 0 18 0-31 1 33 0 2 0 88 0-89 2 19 0 70 0-50 1-74 2 35 0-36 1 2 1 54 1 52 3-101 2 131 0-125 2 65 1 1 1-113 4 28 0-22 1-10 1 31 0 27 2-10 2-36 1-20 19 0 3-9 3 28 5 4 1-17 7 12 1-42 1 4 16 3 1 19 1-20 1 4 1-9 2" class="mk" style="marker:url(#m0)" opacity="0.6"/>
<path d="M195.9 538.3C198.5 539.3 201.9 542.8 204.4 545.4C207.0 548.0 209.4 551.1 211.5 553.9C213.7 556.8 215.5 559.1 217.2 562.4C218.9 565.7 220.4 570.2 221.5 573.8C222.5 577.3 223.3 580.2 223.4 583.7C223.6 587.2 223.0 591.0 222.3 595.0C221.6 599.0 220.4 603.5 219.5 607.8C218.5 612.0 217.6 616.1 216.6 620.5C215.7 625.0 214.2 630.0 213.8 634.7C213.4 639.4 213.8 644.2 214.4 648.9C214.9 653.6 216.6 657.9 217.2 663.1C217.8 668.3 217.7 674.9 217.8 680.1C217.9 685.3 217.6 689.5 217.8 694.2C217.9 699.0 218.0 703.9 218.6 708.4C219.2 712.9 220.0 717.2 221.5 721.2C222.9 725.2 225.6 729.2 227.1 732.5C228.7 735.8 230.3 737.9 230.8 741.0C231.3 744.1 230.6 747.9 230.0 750.9C229.3 754.0 229.0 757.3 227.1 759.4C225.2 761.6 221.5 762.0 218.6 763.7C215.8 765.3 212.7 767.7 210.1 769.4C207.5 771.0 205.2 774.6 203.0 773.6C200.9 772.7 199.7 765.6 197.4 763.7C195.0 761.8 191.9 762.5 188.9 762.3C185.8 762.0 181.8 761.3 178.9 762.3C176.1 763.2 174.2 766.0 171.9 767.9C169.5 769.8 167.6 772.2 164.8 773.6C161.9 775.0 158.2 776.2 154.9 776.4C151.5 776.7 148.2 775.7 144.9 775.0C141.6 774.3 138.3 773.2 135.0 772.2C131.7 771.1 127.9 769.0 125.1 768.8C122.3 768.6 120.6 769.5 118.0 770.8C115.4 772.0 112.6 775.0 109.5 776.4C106.4 777.9 102.9 779.3 99.6 779.3C96.3 779.3 92.8 777.6 89.7 776.4C86.5 775.3 82.0 775.0 80.6 772.2C79.2 769.4 80.7 763.9 81.2 759.4C81.6 754.9 83.0 750.0 83.4 745.3C83.9 740.5 83.9 736.3 84.0 731.1C84.1 725.9 83.6 720.2 84.0 714.1C84.4 707.9 85.6 700.4 86.3 694.2C87.0 688.1 87.5 682.9 88.3 677.2C89.1 671.6 90.1 665.0 91.1 660.2C92.0 655.5 92.5 652.7 93.9 648.9C95.3 645.1 97.7 641.6 99.6 637.6C101.5 633.5 103.4 628.3 105.3 624.8C107.2 621.3 109.0 619.1 110.9 616.3C112.8 613.5 114.2 610.6 116.6 607.8C119.0 605.0 122.5 601.9 125.1 599.3C127.7 596.7 129.6 594.6 132.2 592.2C134.8 589.8 138.6 586.8 140.7 585.1C142.8 583.5 145.2 583.7 144.9 582.3C144.7 580.9 140.1 579.0 139.3 576.6C138.5 574.2 139.4 570.7 140.1 568.1C140.8 565.5 142.2 562.4 143.5 561.0C144.8 559.6 145.4 559.6 147.8 559.6C150.1 559.6 154.1 562.4 157.7 561.0C161.2 559.6 165.5 553.9 169.0 551.1C172.6 548.3 175.6 545.9 178.9 544.0C182.2 542.1 186.0 540.7 188.9 539.8C191.7 538.8 193.3 537.4 195.9 538.3Z" fill="none" stroke="#dcdcdc" stroke-width="3" stroke-dasharray="2.9 2.5"/>
<path d="M417.0 534.1C420.8 534.3 423.4 536.7 426.9 538.3C430.4 540.0 434.7 542.1 438.2 544.0C441.8 545.9 444.9 547.1 448.2 549.7C451.5 552.3 455.0 556.3 458.1 559.6C461.1 562.9 463.7 566.0 466.6 569.5C469.4 573.1 472.7 577.1 475.1 580.9C477.4 584.6 478.6 589.1 480.8 592.2C482.9 595.3 485.2 596.9 487.8 599.3C490.4 601.6 494.0 603.5 496.3 606.4C498.7 609.2 500.1 613.0 502.0 616.3C503.9 619.6 506.0 623.1 507.7 626.2C509.3 629.3 511.0 630.9 511.9 634.7C512.9 638.5 512.9 644.2 513.3 648.9C513.8 653.6 514.5 658.3 514.8 663.1C515.0 667.8 515.0 672.5 514.8 677.2C514.5 682.0 514.3 687.6 513.3 691.4C512.4 695.2 511.5 698.0 509.1 699.9C506.7 701.8 502.9 701.8 499.2 702.7C495.4 703.7 490.9 704.6 486.4 705.6C481.9 706.5 477.0 707.6 472.2 708.4C467.5 709.3 462.8 709.8 458.1 710.7C453.4 711.5 448.6 712.6 443.9 713.5C439.2 714.5 434.0 716.0 429.7 716.3C425.5 716.7 420.8 716.3 418.4 715.5C416.0 714.6 415.3 712.9 415.6 711.2C415.8 709.6 419.1 707.2 419.8 705.6C420.5 703.9 421.5 701.4 419.8 701.3C418.2 701.2 413.0 704.5 409.9 705.0C406.8 705.5 404.2 703.6 401.4 704.2C398.6 704.7 395.7 706.9 392.9 708.4C390.1 710.0 387.2 711.6 384.4 713.5C381.6 715.4 378.5 717.3 375.9 719.8C373.3 722.2 371.4 725.7 368.8 728.3C366.2 730.9 363.1 733.0 360.3 735.3C357.5 737.7 354.6 739.8 351.8 742.4C349.0 745.0 346.1 748.1 343.3 750.9C340.5 753.8 337.6 756.8 334.8 759.4C332.0 762.0 329.1 764.2 326.3 766.5C323.5 768.9 320.6 771.5 317.8 773.6C315.0 775.7 311.9 777.9 309.3 779.3C306.7 780.7 305.3 781.9 302.2 782.1C299.1 782.3 294.3 781.3 290.9 780.7C287.5 780.1 283.1 780.8 281.8 778.7C280.5 776.6 282.5 771.6 282.9 767.9C283.4 764.3 283.6 760.9 284.6 756.6C285.7 752.3 287.7 746.9 289.5 742.4C291.2 737.9 293.2 733.9 295.1 729.7C297.0 725.4 299.1 721.4 300.8 716.9C302.5 712.4 303.6 707.5 305.1 702.7C306.5 698.0 307.9 693.3 309.3 688.6C310.7 683.8 312.4 679.1 313.6 674.4C314.7 669.7 315.4 665.0 316.4 660.2C317.3 655.5 317.9 650.3 319.2 646.1C320.5 641.8 322.4 638.5 324.3 634.7C326.2 630.9 328.3 626.9 330.6 623.4C332.8 619.8 335.3 616.8 337.6 613.5C340.0 610.2 342.1 606.8 344.7 603.5C347.3 600.2 350.4 596.9 353.2 593.6C356.1 590.3 359.1 587.0 361.7 583.7C364.3 580.4 366.5 577.1 368.8 573.8C371.2 570.5 373.3 567.2 375.9 563.9C378.5 560.5 381.3 557.2 384.4 553.9C387.5 550.6 391.0 546.8 394.3 544.0C397.6 541.2 400.5 538.6 404.2 536.9C408.0 535.3 413.2 533.9 417.0 534.1Z" fill="none" stroke="#dcdcdc" stroke-width="3" stroke-dasharray="2.9 2.5"/>
<text x="258.5" y="559.2" font-size="28" fill="#3fe03f" textLength="61.0" lengthAdjust="spacingAndGlyphs">Fib-1</text>
<rect x="558.4" y="520.7" width="473.6" height="270.3" fill="#040102"/>
<path d="M692 548l1 2-14 2 16 3 2 1-13 1 3 0 27 5-65 1 24 4-4 7-15 2 14 0-16 5-6 2 5 0 26 0 2 0-35 1 17 0-17 1 5 0 33 0-19 1 15 3 0 1-47 1 14 0-13 2 51 3-2 1-52 1 4 2 17 0 55 0-73 1 11 0-4 1 13 0 3 0 11 0 11 0-41 2 5 0 17 0 13 0-47 1 3 0 51 0-58 1 14 0 31 0-17 1 7 0 29 0 33 0-87 2 16 0 9 0 12 0-41 2 59 0-39 1 8 0 14 0 1 0-58 1 14 0 1 0 4 0 17 0-12 1 8 0-28 1 16 0-10 1 60 0-68 1 42 0 20 0-66 1 2 0 74 0-77 1 42 0-9 1 7 0 25 0-61 1 17 0 1 0 7 0 13 0-34 3 59 0-29 2 17 0-34 1 20 1 3 0 22 1-23 1 14 0-12 2-50 1 19 0-20 1 7 0 60 0-31 1 20 0 38 0-78 1 7 0 40 0 5 0-65 2 47 0-51 1 37 0 26 0-10 1 1 0 19 0-35 1 15 0 13 0-56 1 5 0 3 0 16 0 3 0 20 0 24 0-47 1 54 1-94 2 7 0 41 0-39 1 45 1-8 1-45 1 26 0-19 1 18 1 40 0 9 0-70 1 37 1 31 0-45 1 2 0 4 0-26 1 50 0-45 1 4 0 33 0 5 0 18 0 6 0-58 1 4 0 44 0-47 1 4 0 11 0 25 0-49 1 35 0 19 0 10 0-76 1 1 0 49 0 3 0 10 0-60 1 57 0 3 0-71 1 38 0 25 0 6 0-48 1 2 0-1 1 87 1-104 1 16 0 44 0-53 2 36 0 19 0-65 1 8 0 1 0 1 1 7 1 10 1 15 0-24 1-10 2 5 0 1 0-9 1 38 0-41 1 70 0-65 1 32 0 2 0 3 0-12 3 7 0-17 1 21 0 12 0-21 1 46 0-15 1 6 0-35 1 32 0-15 1 12 0-52 1 49 0 10 0-52 1 9 0 3 0 39 0 3 0-48 2 1 0 57 0-34 2 13 0 10 0 12 0-75 1 40 0 24 0-49 2 96 0-118 1 36 1 14 0 66 0-82 1 3 1 25 1-7 1-52 1 38 0-20 1-9 1 53 0-56 1 11 0 3 0 43 0-68 1 53 0 5 0 4 0-50 1 39 0 20 0-58 1 61 0-82 1 9 0 61 0-64 1 68 0 21 1 21 0-110 1-1 1 15 0 12 0-8 1 53 0 43 0-96 1 12 1-12 1 13 1 36 0-68 1 27 0 7 0 31 0-70 1 23 0 45 0-31 1-1 1 31 0-59 1 45 0-4 2 1 0 9 0-10 1 7 0-12 2 20 0 48 0-67 1 13 0 3 0-13 1 6 0 27 0-82 1 6 0 2 0 37 0 4 0 3 0 17 0 13 0-2 1-74 1 30 0 12 0 21 0 8 0-35 1 25 1-32 1 17 0 9 0 19 0 20 0-25 1 10 0-31 1 15 0 31 0-60 1 25 0 4 0 2 0-71 2 1 0 1 0 4 0 50 0 42 0 4 0-103 1 2 0 34 0 45 0 10 0-90 1 64 0-55 1 3 1 70 0-73 1 5 1 45 0-20 1 32 0 8 0-75 1 12 0-10 1 33 0 5 0 1 0 10 0-51 1 4 0 16 0 8 0 20 0-44 1 26 0 11 0 2 0 11 0 13 0-40 1 2 0 6 0-1 1 2 0 3 0 47 0 10 0-92 2 71 0 5 0 15 0 0 1 41 0-4 1-135 1 66 0-65 1 16 0 22 0 6 0 3 0 39 0 1 0 1 0-85 1 13 0 6 1 27 0-51 1 39 0 9 0 4 0 29 0 7 0-80 2 7 0 20 1 4 0 4 0-7 1 10 0 3 0-32 1 29 0-30 1 55 0-74 1 15 0 3 0 14 0 27 0 17 0-43 1 45 0-53 1-1 1-6 1-2 1-3 1 310-231-6 14-10 15 56 0-5 1 1 1-2 3-73 1 66 9 30 4-31 2 49 5-119 4 30 0 102 0-121 1 29 1 16 0 52 0 4 1-134 5 9 0 137 0-52 1-6 2 28 0-33 2 9 0 40 0-69 1 22 0-13 1 1 2 43 0-1 3 18 1-68 1 66 0-136 2 54 0 58 3-22 3 69 0-66 3 7 0 15 0-27 1 4 0 55 0-54 1 18 2 47 0-55 1 4 1 51 0-27 3-41 1 37 0 28 2-73 2-15 2 66 0-67 1 19 0 38 0-29 1 73 1-60 1 8 1-10 1-46 1 97 1-140 1 124 3-30 1-117 1 108 0 14 1-27 4-6 2 68 9-153 6-2 1 28 0 96 3-101 2 127 0-31 3-102 4 103 0 21 0-29 5-105 1 7 0-1 1 98 2-65 7-69 7 2 0 5 6 9 3 5 3-6 4 16 7 0 3-33 3 18 0-19 1-14 8 40 0-19 10" class="mk" style="marker:url(#m1)"/>
<path d="M692 544l-6 11-1 6-24 1 24 1-18 7-7 1 0 3-5 7 13 2 23 0-41 1 23 3 2 1-29 2 57 0-71 9 19 1 37 2-59 1 10 2 4 1 14 0 5 2 1 0-18 5 4 0 3 0 20 2 3 0 2 0-38 1 28 0-57 2-1 1 12 0 82 2-77 3 35 2 4 3-56 2 14 0 42 0-65 1 69 0-11 1 12 1-64 1 31 0-20 1 3 1 23 1 33 0-71 1 65 0-63 2-7 1 43 1-46 5 5 0 20 0-23 3 46 2-42 1 55 0-13 1-18 2 54 2-40 2 21 0-15 1-14 1 29 0-31 3-31 1 42 0-45 1 23 1-17 1-10 1 27 0-14 1 8 0 11 2-24 2 15 0 23 0-37 1 11 2 17 2-32 1 32 0 39 2-17 1-21 1 8 0-41 3 19 0 6 0 2 0-8 1 50 0 7 0-89 1 31 2 8 0 35 1-68 1 67 0 2 2-9 1-40 4 30 4 56 1-102 2 51 2-60 1 75 1 12 0-65 1 41 0-66 1 34 1-16 1-10 3-9 1 54 0-2 5-6 3 16 0-10 1 15 2-62 2 34 0 36 0-41 1 49 0-33 1 6 0-13 1 24 1 1 0 2 0-23 1 40 0-54 4 31 0 27 0-90 2 28 0-12 2 5 0 6 0 35 0-60 2 30 0 27 0 38 0-35 1 2 0-58 1 25 0 38 0-65 2 46 0 9 0 4 1 11 2 20 0 3 0-1 1-48 1 48 1-28 2 32 0-30 1 7 0-57 1-17 1 37 1 6 3 72 2-71 1 27 0-52 1 306-190-27 5 54 4-10 2 8 0-19 4 28 6-80 2 60 2 7 6-6 4-23 3 29 0-2 2 44 1-41 2-13 1 0 6-11 3-47 2 75 0 14 2 3 4 57 5-42 6-4 1-110 2 75 2 37 0-12 2-65 15 24 4-61 7 100 2-12 1-65 3 83 3-109 1 71 0 10 0 12 2-21 2-108 32 21 18-37 3 22 6-20 2" class="mk" style="marker:url(#m1)" opacity="0.6"/>
<path d="M694.0 537.7C696.6 538.7 700.0 542.2 702.6 544.8C705.2 547.4 707.5 550.5 709.7 553.3C711.8 556.2 713.7 558.5 715.4 561.8C717.0 565.1 718.6 569.6 719.6 573.2C720.7 576.7 721.5 579.6 721.6 583.1C721.8 586.6 721.1 590.4 720.5 594.4C719.8 598.4 718.6 602.9 717.6 607.2C716.7 611.4 715.7 615.5 714.8 619.9C713.8 624.4 712.3 629.4 712.0 634.1C711.6 638.8 712.0 643.6 712.5 648.3C713.1 653.0 714.8 657.3 715.4 662.5C715.9 667.7 715.8 674.3 715.9 679.5C716.0 684.7 715.8 688.9 715.9 693.6C716.1 698.4 716.2 703.3 716.8 707.8C717.4 712.3 718.2 716.6 719.6 720.6C721.1 724.6 723.8 728.6 725.3 731.9C726.9 735.2 728.5 737.3 729.0 740.4C729.5 743.5 728.8 747.3 728.2 750.3C727.5 753.4 727.2 756.7 725.3 758.8C723.4 761.0 719.6 761.4 716.8 763.1C713.9 764.7 710.9 767.1 708.3 768.8C705.6 770.4 703.3 774.0 701.1 773.0C699.0 772.1 697.8 765.0 695.5 763.1C693.1 761.2 690.0 761.9 686.9 761.7C683.8 761.4 679.8 760.7 677.0 761.7C674.1 762.6 672.2 765.4 669.9 767.3C667.5 769.2 665.6 771.6 662.7 773.0C659.9 774.4 656.1 775.6 652.8 775.8C649.5 776.1 646.2 775.1 642.8 774.4C639.5 773.7 636.2 772.6 632.9 771.6C629.6 770.5 625.8 768.4 622.9 768.2C620.1 768.0 618.4 768.9 615.8 770.2C613.2 771.4 610.4 774.4 607.3 775.8C604.2 777.3 600.7 778.7 597.3 778.7C594.0 778.7 590.6 777.0 587.4 775.8C584.2 774.7 579.7 774.4 578.3 771.6C576.9 768.8 578.4 763.3 578.8 758.8C579.3 754.3 580.6 749.4 581.1 744.7C581.6 739.9 581.6 735.7 581.7 730.5C581.8 725.3 581.3 719.6 581.7 713.5C582.1 707.3 583.3 699.8 584.0 693.6C584.7 687.5 585.2 682.3 586.0 676.6C586.8 671.0 587.9 664.4 588.8 659.6C589.8 654.9 590.2 652.1 591.6 648.3C593.1 644.5 595.4 641.0 597.3 637.0C599.2 632.9 601.1 627.7 603.0 624.2C604.9 620.7 606.8 618.5 608.7 615.7C610.6 612.9 612.0 610.0 614.4 607.2C616.8 604.4 620.3 601.3 622.9 598.7C625.5 596.1 627.4 594.0 630.0 591.6C632.6 589.2 636.4 586.2 638.6 584.5C640.7 582.9 643.1 583.1 642.8 581.7C642.6 580.3 638.0 578.4 637.2 576.0C636.3 573.6 637.3 570.1 638.0 567.5C638.7 564.9 640.1 561.8 641.4 560.4C642.7 559.0 643.3 559.0 645.7 559.0C648.1 559.0 652.1 561.8 655.6 560.4C659.2 559.0 663.5 553.3 667.0 550.5C670.6 547.7 673.7 545.3 677.0 543.4C680.3 541.5 684.1 540.1 686.9 539.2C689.8 538.2 691.4 536.8 694.0 537.7Z" fill="none" stroke="#dcdcdc" stroke-width="3" stroke-dasharray="2.9 2.5"/>
<path d="M915.9 533.5C919.7 533.7 922.3 536.1 925.8 537.7C929.4 539.4 933.6 541.5 937.2 543.4C940.8 545.3 943.8 546.5 947.2 549.1C950.5 551.7 954.0 555.7 957.1 559.0C960.2 562.3 962.8 565.4 965.6 568.9C968.5 572.5 971.8 576.5 974.2 580.3C976.5 584.0 977.7 588.5 979.9 591.6C982.0 594.7 984.4 596.3 987.0 598.7C989.6 601.0 993.1 602.9 995.5 605.8C997.9 608.6 999.3 612.4 1001.2 615.7C1003.1 619.0 1005.2 622.5 1006.9 625.6C1008.5 628.7 1010.2 630.3 1011.1 634.1C1012.1 637.9 1012.1 643.6 1012.6 648.3C1013.0 653.0 1013.8 657.7 1014.0 662.5C1014.2 667.2 1014.2 671.9 1014.0 676.6C1013.8 681.4 1013.5 687.0 1012.6 690.8C1011.6 694.6 1010.7 697.4 1008.3 699.3C1005.9 701.2 1002.1 701.2 998.3 702.1C994.6 703.1 990.1 704.0 985.6 705.0C981.0 705.9 976.1 707.0 971.3 707.8C966.6 708.7 961.9 709.2 957.1 710.1C952.4 710.9 947.6 712.0 942.9 712.9C938.1 713.9 932.9 715.4 928.7 715.7C924.4 716.1 919.7 715.7 917.3 714.9C914.9 714.0 914.2 712.3 914.4 710.6C914.7 709.0 918.0 706.6 918.7 705.0C919.4 703.3 920.4 700.8 918.7 700.7C917.1 700.6 911.8 703.9 908.8 704.4C905.7 704.9 903.1 703.0 900.2 703.6C897.4 704.1 894.5 706.3 891.7 707.8C888.9 709.4 886.0 711.0 883.2 712.9C880.3 714.8 877.2 716.7 874.6 719.2C872.0 721.6 870.1 725.1 867.5 727.7C864.9 730.3 861.8 732.4 859.0 734.7C856.1 737.1 853.3 739.2 850.5 741.8C847.6 744.4 844.8 747.5 841.9 750.3C839.1 753.2 836.2 756.2 833.4 758.8C830.5 761.4 827.7 763.6 824.9 765.9C822.0 768.3 819.2 770.9 816.3 773.0C813.5 775.1 810.4 777.3 807.8 778.7C805.2 780.1 803.8 781.3 800.7 781.5C797.6 781.7 792.7 780.7 789.3 780.1C785.9 779.5 781.5 780.2 780.2 778.1C778.9 776.0 780.9 771.0 781.3 767.3C781.8 763.7 782.0 760.3 783.1 756.0C784.1 751.7 786.1 746.3 787.9 741.8C789.6 737.3 791.7 733.3 793.6 729.1C795.5 724.8 797.6 720.8 799.3 716.3C800.9 711.8 802.1 706.9 803.5 702.1C805.0 697.4 806.4 692.7 807.8 688.0C809.2 683.2 810.9 678.5 812.1 673.8C813.2 669.1 814.0 664.4 814.9 659.6C815.9 654.9 816.4 649.7 817.8 645.5C819.1 641.2 821.0 637.9 822.9 634.1C824.8 630.3 826.9 626.3 829.1 622.8C831.4 619.2 833.9 616.2 836.2 612.9C838.6 609.6 840.7 606.2 843.3 602.9C846.0 599.6 849.0 596.3 851.9 593.0C854.7 589.7 857.8 586.4 860.4 583.1C863.0 579.8 865.2 576.5 867.5 573.2C869.9 569.9 872.0 566.6 874.6 563.3C877.2 559.9 880.1 556.6 883.2 553.3C886.2 550.0 889.8 546.2 893.1 543.4C896.4 540.6 899.3 538.0 903.1 536.3C906.9 534.7 912.1 533.3 915.9 533.5Z" fill="none" stroke="#dcdcdc" stroke-width="3" stroke-dasharray="2.9 2.5"/>
<text x="760.6" y="559.4" font-size="28" fill="#5a64d8" textLength="64.9" lengthAdjust="spacingAndGlyphs">Fib-3</text>
<rect x="1059.0" y="519.8" width="474.4" height="270.2" fill="#040102"/>
<path d="M1168 553l-1 4-16 4 24 0-9 1 8 1 18 0 12 0-31 1-8 2 25 0-14 2-9 2 2 0-2 1 4 0-1 1 7 0-15 1-20 2 13 0-15 2 7 0 20 0 0 2-9 1 56 0-42 1 4 0 3 0-21 1 4 0 8 1-7 1 13 0-15 1 11 0-3 1 35 0-65 1 48 0 1 1 30 0-34 1 28 0-79 2 8 0 17 0 6 0-29 1 18 0 35 0-2 2-2 2-4 1 10 0-46 1 34 0 7 0-55 1 2 0 15 0 39 1-55 1 16 0 6 0 24 0-48 1 3 0 28 0-28 2 19 0 42 0-62 1 1 0 6 0 6 0 5 0 32 0-28 1 3 0 8 0 1 0 18 0 5 0-62 1 7 0 38 0-54 1 72 0-71 1 8 0 3 0 34 0 3 0-50 1 15 0 59 0-21 1 21 0-65 2 5 0 57 0 5 0-81 1 8 0-3 1 13 0 5 0 28 0 8 0 14 0 6 0-54 1 36 0-51 1 4 0 5 0 2 0 7 0 35 0 9 0-53 1 15 0 11 0 3 0 11 0-60 1 6 0 17 0 24 0 14 0 13 0-77 1 3 0 7 0 20 0 16 0 24 0 7 0-63 1 3 0 5 0 28 0 14 0-56 1 5 0 49 0-61 1 23 0 7 0 22 0 9 0 4 0 3 0 3 0-41 1 11 0 7 0 2 0 34 0-49 1 7 0 13 0 18 0-57 1 6 0 12 0 9 0 29 0 11 0 16 0-101 1 44 0 1 0 14 0-52 1 25 0 22 0 10 0 7 0-13 1 15 0-47 1 21 0 5 1 6 0-6 1 1 0 22 0-51 1 4 0 42 0-40 1 8 0-4 1 71 0-106 1 39 0 10 0 7 0 24 0-79 1 21 0 26 0 6 0 14 0 3 0-44 1 23 0 23 0-76 1 4 0 67 0 1 0-60 2 4 0 32 0 29 0-52 1 55 0-20 1-39 1 2 0 27 0 48 0-98 1 35 0 16 0-55 1 16 0 12 0 10 0 11 0 2 0 2 0-51 1 9 0 39 0-48 1 4 0 1 0 1 0 7 0 22 0 73 0-92 1 8 0 1 0-10 1 76 0-44 1 9 0-12 1 39 0 5 0 8 0-84 1 16 0 6 0 40 0 9 0 2 0-61 1 9 0 47 0 1 0-78 1 14 0 4 0 24 0 37 0-52 1 30 0 22 0-80 1 32 0 1 0 44 0 5 0 4 0-82 1 5 0 13 0 13 0 13 0 28 0-83 1 16 0 17 0 6 0 32 0-68 1 11 0 8 0 3 0 7 0 1 0 50 0-47 1 2 0 34 0-66 1 29 0 12 0 39 0 8 1-87 1 64 0-60 1 26 0 50 0 32 0-121 1 16 0 27 0 10 0 23 0-41 1 1 0 15 0 35 0-59 1 5 0-22 1 22 0 6 0 38 1 3 1-52 1 20 0 6 0 21 0 17 0-94 1 36 0 39 0 0 1-74 1 5 0 43 0-19 1 32 0 7 0 36 0-77 1 34 0 36 0-96 1 46 0 18 0-68 1 26 0 5 0 32 0-21 1 21 0 6 0 20 0-89 1 38 0 20 0 39 1 17 0-113 1 38 0 27 0 36 0-73 1 46 1 10 0 4 0 11 0-45 1 0 1 6 0 56 0-62 1 3 0 4 0 64 0-81 1-19 2 36 0-63 1 27 0 32 0-29 1 50 0 15 0 1 0-75 1 33 0 48 1-102 1 13 0 12 0 33 0 45 0-103 1 16 0 17 0 1 0-23 1 31 0 6 0 10 0 22 0 5 0 4 0 3 0-43 1 3 0 40 1-93 1 18 0 22 0 6 0-9 1 3 0 3 0-26 1 11 0 15 1 2 0 1 0-22 1 6 0 9 0 6 0 4 0 7 0-4 1 2 0 1 0 1 0 5 0 5 0 22 0 7 0-49 1-31 2 2 0 13 0 21 0 4 1 1 0 18 0-44 1 2 0 13 0 17 1-59 1 3 0 20 0 34 0 2 0-19 1 4 0 23 0 24 0-53 1 6 0 8 0 3 0 42 0-66 1 2 0 6 0 17 0 7 0 4 0-68 1 5 0 21 0 31 0 11 0 1 0-30 1 5 0 1 0 4 0 9 0 14 0 1 0 9 1 1 0 4 0 11 0-91 1 41 0 11 0 1 0-5 1 7 0 13 0-52 1 5 0 52 0 18 0-25 1 4 0 12 0 3 0-71 1 8 0 30 0 4 0 7 0 4 0 8 0 9 0-82 1 22 0 1 0 36 0 10 0 7 0-83 1 18 0 2 0 43 0 9 0-75 1 30 0 22 0 7 0 9 0 4 0 2 0 5 0 56 0-99 1 8 0 14 0 12 0-35 1 17 0-29 1 37 0 25 0 13 0-96 1 50 0 20 0-4 1 2 0 11 0 7 0 7 0-73 1 25 0 3 0 12 0 17 0 20 0-89 1 54 0 16 0 9 0-52 1 11 0 4 0 22 0-25 1 12 0 10 0 32 0-43 1 7 0 4 0 15 0 5 0 20 0-94 1 46 0 5 0 24 0 10 0-97 1 18 0 30 0 19 0 18 0-93 1 6 0 1 0 2 0 45 0 2 0 4 0 6 0 1 0 5 0 2 0 21 0-57 1 31 0 2 0 15 0 6 0 1 0-82 1 1 0 26 0 26 0 5 0 14 0 5 0-47 1 33 0 15 0 20 0-94 1 4 0 32 0 9 0 5 0 31 0-36 1 52 0-114 1 33 0 51 0 14 0-63 1 13 0 10 0 30 0-78 1 26 1 17 0 4 0 31 0 6 0 17 0-57 1 4 0 3 0 14 0 3 0 6 0 20 0-44 1 1 0 8 0-9 1 14 0 17 0-65 1 39 0 25 0 11 0 23 0-96 1 36 1 23 0 3 0 3 0 16 0-109 1 25 0 13 0 20 0 4 0 31 0-60 1 27 0 13 0 7 0 12 0-59 1 74 0-11 1-17 1 18 0 38 0-119 1 11 1 45 0 2 0-45 1 33 0 10 0-59 1 59 0 2 0-10 1-37 1 36 0 3 0 2 0-46 1 17 0 29 0 4 0-7 1 2 0 5 0-18 1 13 0 6 0-49 2-6 1 1 0 2 0 0 2 1 0 318-233-13 3 17 3-8 3 4 0 25 7-34 3 28 0-36 1-13 2 66 1-24 1-58 1 45 1 13 2-29 5 13 8 11 1-39 10 10 2 39 1 6 2 18 1-65 2-53 5 123 1-72 4-4 1 85 0 16 0-111 1 83 0 1 0-51 3-3 1 5 0 9 0 47 0-10 1 31 1-158 1 16 0 109 1-117 1-2 1 88 1 58 1-146 4-10 1 19 0 39 0 116 2-153 1 102 0-36 1-92 1 70 0 48 1-65 1-56 3 30 0 137 0-167 3 134 0 3 0 31 0 5 3-175 1 7 0 42 4 62 0-111 1 28 0-15 1 153 0-123 1 75 2-7 2 2 0-54 1 23 1-39 1 51 0 27 0 27 0-67 1 50 1 54 0-131 2 7 0 26 0-66 1 95 0-86 1 56 1 44 0-76 1 61 3-28 1 1 0-1 1 28 1-82 1 82 0 14 0-102 1 52 0 73 1-72 1-13 2-63 2 52 0 17 0-19 1 25 0-18 3 55 2-29 1 83 2-80 1-43 1 125 0 7 0-135 1 97 0-122 1 65 0 94 0-50 1-90 1 119 1-105 2 110 2-160 3 39 1 23 0-72 1 114 0 36 0-107 3 72 0-98 7 37 1-30 2 15 1-27 3-30 1 48 1-11 2-19 1 16 3-1 2 3 3-6 1 1 5 5 6-21 5 21 4-18 3 8 4-20 11-1 2" class="mk" style="marker:url(#m2)"/>
<path d="M1193 543l-25 7-5 8 0 1 14 1-4 1 18 1 6 2-45 1 33 2-7 3-13 1-6 3 14 1-7 3 46 2-45 1 1 0-10 5-18 1 32 0-12 2-4 2-4 2 32 0-4 2 4 0 16 3-23 1 2 0-27 1 13 1-20 1 42 0 10 0-26 1 10 0-45 1 16 0 39 0 3 0 4 0-28 2 2 0 18 1-72 1-2 1-2 1 47 1-44 1 7 0-11 2 5 0 19 1 19 0 35 0-62 1 4 0 4 0-28 1 8 0-9 1 60 0 5 0-35 2 44 0-73 1 70 0 8 0-59 1 2 0 53 0-42 1 11 0 24 1 15 0-62 1 48 1-48 3 15 1 2 1 34 1-44 1 6 0 21 0-54 1 31 0 7 0-45 2 2 0 3 1 19 1 3 2-28 3 16 0-8 1-2 1 42 0 37 0-83 2 4 0 10 0 3 1-21 1 9 0 4 0 22 0-29 1 22 0 7 0 10 0-10 1 62 0-89 1 2 0 25 0-12 1 24 1 14 0 10 0-55 1 17 0 31 1-49 1 62 1-35 1-9 1 42 0-40 1 53 0-61 1-32 2 4 1 2 0 90 0 4 2-21 2 19 0-51 1 2 2-52 1 39 0 15 0-8 1 5 0 20 0-70 1 1 0 35 1 23 0-20 1 58 0-37 2 31 0-89 1-6 2 42 0 29 2 28 1-74 2 53 0-30 1 15 0-42 3 38 0 0 1 35 0 0 2 4 0-72 2 56 1-37 1 42 1 3 0-88 4 36 0 6 0 21 0-35 1 81 0-92 1 16 0 21 0-19 1 12 0 3 1 1 1 9 0-10 3 2 1 3 1 12 0 4 0 23 0-68 1 30 0 11 1-43 1 51 0-23 1 43 0-50 1 7 0 41 0-88 1 37 0 11 0 41 0 24 0-85 1 8 1 30 0 26 0-100 1 26 0 1 0 86 0-88 1 58 0-78 1 62 0 8 1 1 1 6 1 8 0-71 2 40 0 33 1 3 0-58 1 73 0-57 3 6 1 37 0-47 2-13 1 60 0 4 0-48 1-40 1 48 0 15 0-61 1 30 2 30 1 9 1 20 0-15 1-81 2 57 0 9 0 7 0 28 0-3 2-77 1 24 0 45 0-15 1-57 1 29 0-42 1 16 0-4 1 23 2-18 1 18 1 57 0-76 1 35 1-44 1-26 1 16 0 44 0-34 1 36 1 5 0-1 2 5 0-55 1 13 0-1 1 21 0 18 0 3 0-39 1 39 0 10 0-61 2 12 0-9 3 2 0-6 3 359-221-86 24 39 12-1 8 73 1-100 9 37 1-14 2 45 2-39 1 63 2-93 2 91 1-45 1 17 0 26 4-7 3-113 2 46 5-72 1 13 0 44 2 45 6-96 1 153 2 11 0-113 1 13 2 10 2 84 1-87 2-77 3 44 0 126 1 1 0-142 1 48 0 48 5-47 1 26 2-21 2-87 2 103 0 12 3 72 0-153 2 139 4-58 2-16 2 43 6-116 2 93 0 51 1-143 1 72 0-82 4 28 0 4 10-15 5-34 6 14 8 1 4 2 1-22 2-5 8 12 4-7 9-22 5 16 12" class="mk" style="marker:url(#m2)" opacity="0.6"/>
<path d="M1194.9 536.8C1197.5 537.8 1200.8 541.3 1203.4 543.9C1206.0 546.5 1208.4 549.6 1210.5 552.4C1212.7 555.3 1214.6 557.6 1216.2 560.9C1217.9 564.2 1219.5 568.7 1220.5 572.3C1221.5 575.8 1222.4 578.7 1222.5 582.2C1222.6 585.7 1222.0 589.5 1221.4 593.5C1220.7 597.5 1219.5 602.0 1218.5 606.3C1217.6 610.5 1216.6 614.6 1215.7 619.0C1214.7 623.5 1213.2 628.5 1212.8 633.2C1212.4 637.9 1212.8 642.7 1213.4 647.4C1213.9 652.1 1215.7 656.4 1216.2 661.6C1216.8 666.8 1216.7 673.4 1216.8 678.6C1216.9 683.8 1216.7 688.0 1216.8 692.7C1216.9 697.5 1217.0 702.4 1217.7 706.9C1218.3 711.4 1219.1 715.7 1220.5 719.7C1221.9 723.7 1224.6 727.7 1226.2 731.0C1227.8 734.3 1229.4 736.4 1229.9 739.5C1230.4 742.6 1229.7 746.4 1229.0 749.4C1228.4 752.5 1228.1 755.8 1226.2 757.9C1224.3 760.1 1220.5 760.5 1217.7 762.2C1214.8 763.8 1211.7 766.2 1209.1 767.9C1206.5 769.5 1204.1 773.1 1202.0 772.1C1199.8 771.2 1198.7 764.1 1196.3 762.2C1193.9 760.3 1190.8 761.0 1187.7 760.8C1184.7 760.5 1180.6 759.8 1177.8 760.8C1174.9 761.7 1173.0 764.5 1170.6 766.4C1168.3 768.3 1166.4 770.7 1163.5 772.1C1160.7 773.5 1156.9 774.7 1153.6 774.9C1150.2 775.2 1146.9 774.2 1143.6 773.5C1140.3 772.8 1136.9 771.7 1133.6 770.7C1130.3 769.6 1126.5 767.5 1123.6 767.3C1120.8 767.1 1119.1 768.0 1116.5 769.3C1113.9 770.5 1111.1 773.5 1108.0 774.9C1104.9 776.4 1101.3 777.8 1098.0 777.8C1094.7 777.8 1091.2 776.1 1088.0 774.9C1084.8 773.8 1080.3 773.5 1078.9 770.7C1077.5 767.9 1079.0 762.4 1079.5 757.9C1080.0 753.4 1081.3 748.5 1081.8 743.8C1082.2 739.0 1082.2 734.8 1082.3 729.6C1082.4 724.4 1082.0 718.7 1082.3 712.6C1082.7 706.4 1083.9 698.9 1084.6 692.7C1085.3 686.6 1085.8 681.4 1086.6 675.7C1087.4 670.1 1088.5 663.5 1089.5 658.7C1090.4 654.0 1090.9 651.2 1092.3 647.4C1093.7 643.6 1096.1 640.1 1098.0 636.1C1099.9 632.0 1101.8 626.8 1103.7 623.3C1105.6 619.8 1107.5 617.6 1109.4 614.8C1111.3 612.0 1112.7 609.1 1115.1 606.3C1117.5 603.5 1121.0 600.4 1123.6 597.8C1126.3 595.2 1128.2 593.1 1130.8 590.7C1133.4 588.3 1137.2 585.3 1139.3 583.6C1141.4 582.0 1143.8 582.2 1143.6 580.8C1143.3 579.4 1138.7 577.5 1137.9 575.1C1137.1 572.7 1138.0 569.2 1138.7 566.6C1139.5 564.0 1140.9 560.9 1142.2 559.5C1143.4 558.1 1144.1 558.1 1146.4 558.1C1148.8 558.1 1152.8 560.9 1156.4 559.5C1160.0 558.1 1164.2 552.4 1167.8 549.6C1171.4 546.8 1174.4 544.4 1177.8 542.5C1181.1 540.6 1184.9 539.2 1187.7 538.3C1190.6 537.3 1192.3 535.9 1194.9 536.8Z" fill="none" stroke="#dcdcdc" stroke-width="3" stroke-dasharray="2.9 2.5"/>
<path d="M1417.1 532.6C1420.9 532.8 1423.5 535.2 1427.0 536.8C1430.6 538.5 1434.9 540.6 1438.4 542.5C1442.0 544.4 1445.1 545.6 1448.4 548.2C1451.7 550.8 1455.3 554.8 1458.4 558.1C1461.5 561.4 1464.1 564.5 1466.9 568.0C1469.8 571.6 1473.1 575.6 1475.5 579.4C1477.9 583.1 1479.0 587.6 1481.2 590.7C1483.3 593.8 1485.7 595.4 1488.3 597.8C1490.9 600.1 1494.5 602.0 1496.8 604.9C1499.2 607.7 1500.6 611.5 1502.5 614.8C1504.4 618.1 1506.6 621.6 1508.2 624.7C1509.9 627.8 1511.6 629.4 1512.5 633.2C1513.5 637.0 1513.5 642.7 1513.9 647.4C1514.4 652.1 1515.1 656.8 1515.4 661.6C1515.6 666.3 1515.6 671.0 1515.4 675.7C1515.1 680.5 1514.9 686.1 1513.9 689.9C1513.0 693.7 1512.0 696.5 1509.7 698.4C1507.3 700.3 1503.5 700.3 1499.7 701.2C1495.9 702.2 1491.4 703.1 1486.9 704.1C1482.4 705.0 1477.4 706.1 1472.6 706.9C1467.9 707.8 1463.1 708.3 1458.4 709.2C1453.6 710.0 1448.9 711.1 1444.1 712.0C1439.4 713.0 1434.2 714.5 1429.9 714.8C1425.6 715.2 1420.9 714.8 1418.5 714.0C1416.1 713.1 1415.4 711.4 1415.7 709.7C1415.9 708.1 1419.2 705.7 1419.9 704.1C1420.6 702.4 1421.6 699.9 1419.9 699.8C1418.3 699.7 1413.0 703.0 1410.0 703.5C1406.9 704.0 1404.3 702.1 1401.4 702.7C1398.6 703.2 1395.7 705.4 1392.9 706.9C1390.0 708.5 1387.2 710.1 1384.3 712.0C1381.5 713.9 1378.4 715.8 1375.8 718.3C1373.2 720.7 1371.3 724.2 1368.6 726.8C1366.0 729.4 1362.9 731.5 1360.1 733.8C1357.2 736.2 1354.4 738.3 1351.6 740.9C1348.7 743.5 1345.9 746.6 1343.0 749.4C1340.2 752.3 1337.3 755.3 1334.5 757.9C1331.6 760.5 1328.8 762.7 1325.9 765.0C1323.1 767.4 1320.2 770.0 1317.4 772.1C1314.5 774.2 1311.4 776.4 1308.8 777.8C1306.2 779.2 1304.8 780.4 1301.7 780.6C1298.6 780.8 1293.7 779.8 1290.3 779.2C1286.9 778.6 1282.5 779.3 1281.2 777.2C1279.9 775.1 1281.8 770.1 1282.3 766.4C1282.8 762.8 1282.9 759.4 1284.0 755.1C1285.1 750.8 1287.1 745.4 1288.9 740.9C1290.6 736.4 1292.7 732.4 1294.6 728.2C1296.5 723.9 1298.6 719.9 1300.3 715.4C1301.9 710.9 1303.1 706.0 1304.5 701.2C1306.0 696.5 1307.4 691.8 1308.8 687.1C1310.2 682.3 1311.9 677.6 1313.1 672.9C1314.3 668.2 1315.0 663.5 1315.9 658.7C1316.9 654.0 1317.5 648.8 1318.8 644.6C1320.1 640.3 1322.0 637.0 1323.9 633.2C1325.8 629.4 1328.0 625.4 1330.2 621.9C1332.4 618.3 1334.9 615.3 1337.3 612.0C1339.7 608.7 1341.8 605.3 1344.4 602.0C1347.0 598.7 1350.1 595.4 1353.0 592.1C1355.8 588.8 1358.9 585.5 1361.5 582.2C1364.1 578.9 1366.3 575.6 1368.6 572.3C1371.0 569.0 1373.2 565.7 1375.8 562.4C1378.4 559.0 1381.2 555.7 1384.3 552.4C1387.4 549.1 1391.0 545.3 1394.3 542.5C1397.6 539.7 1400.5 537.1 1404.3 535.4C1408.1 533.8 1413.3 532.4 1417.1 532.6Z" fill="none" stroke="#dcdcdc" stroke-width="3" stroke-dasharray="2.9 2.5"/>
<text x="1262.6" y="554.8" font-size="28" fill="#5aa0f0" textLength="63.1" lengthAdjust="spacingAndGlyphs">Fib-5</text>
<rect x="1559.2" y="519.8" width="476.8" height="270.2" fill="#040102"/>
<path d="M1692 538l10 9-26 1 9 0 23 7-38 3-25 3 12 0 4 8-17 3 5 0 23 0 3 1-16 2-2 1 5 4 5 3 15 0-33 6 3 0-6 3-9 1 9 0 3 0-2 1 50 0-51 4 10 1-33 1 31 0-29 2 33 0 2 0-40 1 5 0 1 2-7 1 1 0 5 0 24 0-33 1 5 0 4 1 18 1 19 0-38 1 22 0-6 1 19 1 44 0-78 1 8 0-20 1 3 0 34 0-39 1 34 0 8 0 26 0-56 1 16 1-23 1 8 0 10 0 9 0 11 0 2 0 2 0-41 1 65 0-70 1 4 0 17 0 2 0 2 0 15 0 1 0 36 0-50 1 1 0-28 1 1 0 1 0 5 0 13 0 8 1 31 0-57 1 15 0 8 0 8 0 55 0-85 1 6 0 15 1 1 0 5 0 17 0-44 1 2 0 17 0 8 0-39 1 8 0 41 0-46 1 3 0 25 0 11 0-33 1 4 0-10 1 38 0 15 0 22 0-59 2 8 0-14 1 13 0 2 0-6 1 1 1-9 1 7 0 65 1-61 1-22 1 19 0 5 0 1 0 26 0-54 1-7 1 2 0 6 0 38 0-18 1 24 0 1 0 1 0-21 1 4 0 13 0-51 1 2 0 1 0 100 0-99 1 1 0 44 0 8 0-56 1 2 0 3 0 6 0 21 0 5 0 43 0-79 1 3 0 4 0 3 0 20 0 6 0 1 0 12 0 2 0 1 0-53 1 9 0 28 0 14 0 1 0-52 1 35 0 53 0-57 1 4 0 2 0 3 0-40 1 12 0 39 0-51 1 4 0 23 0 7 0 2 1-39 2 20 0 7 0 14 1 21 0-36 1 9 0-37 1 8 0 20 0 2 0 79 0-108 1 2 0 3 0 2 0 8 0 10 0 7 0-32 1 4 0 36 0 3 0 52 0-93 1 2 0 1 0 11 0 2 0 6 0 11 0 16 0-48 1 5 0 1 0 9 0 52 0-56 1 9 0 18 0 79 0-106 1 2 0 12 0 37 0-52 1 34 0-28 1 9 0 6 0 21 0-54 1 23 0 3 0 32 0 58 0-75 1-16 1 39 0-40 1 25 0-45 1 2 0 4 0 8 0-11 1 22 0 19 0 3 0 4 0 5 0-44 1 36 0 2 0-57 1 38 0 7 0 1 0 10 0 5 0-56 1 14 0 2 0-21 1 5 0 21 0 3 0-23 1 14 0 9 0 6 0 4 0 20 0-63 1 7 0 7 0 5 0 9 0 4 0 4 0 18 0 1 0 36 0-64 1 3 0 7 0 8 0-29 1 34 0-47 1 10 0 7 0 42 0 47 0-80 1 6 0 22 0 5 0-51 1 7 0 1 0 9 0 33 0 6 0-39 1 4 0 2 0 3 0 14 0-24 1 14 0 5 0 21 0-67 1 42 0 6 0 6 0-38 1 1 0 38 0 1 0-57 1 31 0 29 0 3 1 51 2 11 1 3 0-104 1 27 0-20 1-29 1 9 0 44 0-2 1 2 0 1 0-43 1 42 0 73 1-126 1 38 0 22 0-62 1 17 0 37 0 3 0-30 1-28 1 29 0 23 0 3 1 2 0 11 1-62 1 5 0 25 0 10 0 12 0 4 0 42 0-79 1 1 0 7 0 13 0 10 0 5 0 2 0 4 0-38 1 26 0 13 0-46 1 22 0 3 0 1 0 57 1-72 1 17 0 10 0 50 0-93 1 12 0-17 1 13 0 28 0 55 0-76 1 34 0 1 1 2 0 54 0-107 1 3 0 8 0 4 0 12 0 9 0 3 1 5 0-34 1 25 0 1 0-35 1 3 0 5 0 10 0 19 0 42 0-68 1 30 0 59 0-106 1 9 0 5 0 1 0 4 0 9 0 20 0-9 1-24 1 27 0 1 0-35 1 1 0 0 1 32 1 50 0 3 0-54 2 46 0-50 1 7 0-53 1 5 0 10 0 25 0 19 0 11 0 53 0 8 0 8 2-93 1 1 0-39 2 58 0-47 1 1 0 3 0 22 0 14 0-8 1-54 1 28 0 112 0-95 1 15 0-46 1 23 0 22 0 16 0 2 0 53 0 6 0-114 1 46 0 5 0 54 0-117 1 7 0 1 0 14 0 38 0-61 1 17 0 3 0 25 1-31 1 3 0 9 0 24 0-34 1 3 0 35 0 12 0-39 1 29 0 1 0-42 1-16 1 23 0 34 0-63 1 8 0 16 0 3 0 6 1 23 0 3 0-48 1 1 0 8 1 6 0 2 0 5 0 8 0-15 1 32 0-48 1 18 0 21 0 3 0 6 0 18 0-37 1 30 0-4 1 1 0-23 1 2 0-36 1-7 1 3 0 15 0 4 0 12 0-39 1 5 0 8 0 1 0 2 0 124 0-129 1 10 0 2 0-12 1 2 1 7 0-22 1 14 0 3 0 3 0 48 0-54 1 73 0-79 1 7 0 6 1 65 0-80 2 57 0 4 0 1 0-64 1 54 0-51 2 311-220 5 2 11 11 18 3-3 2 21 0 10 2-65 2 76 0-27 1-8 1-55 1 49 1 11 0 13 1-32 1 3 1 26 1 4 0-26 11 19 2-32 2 57 2-118 1 93 0-3 2 4 0 13 2 9 0-26 2 8 0-65 1 81 0-20 1 0 1 0 1 6 0 0 1 1 0 12 0-129 1 64 0 62 0-122 1 80 2 22 1 14 0-16 1 4 0 7 0-65 1 32 1 25 0-54 2 74 5-64 2 47 2 28 0-60 1 34 0-16 1 16 4 7 0 12 0-36 1 1 0 50 0-51 2 25 0-124 1 150 1 13 1-49 1 28 1-120 1 37 0 19 0 42 0 42 0-29 1 31 0-32 1 17 1-47 1 2 0 10 0-10 1 18 2-23 1 53 0 27 2-63 2 17 0 18 0-163 1 63 2 91 0-142 2 9 2 118 2 15 1-117 2 139 0-75 3 90 2-63 1 8 0 1 3-5 2-19 1 1 0-89 1 156 1-109 1 74 1-23 2-125 1 126 0 20 2 29 0-143 2-29 4 97 0-40 1 13 2 71 5-32 3-56 2-24 10-41 1 36 1-4 12-29 2 6 3-21 25 20 7" class="mk" style="marker:url(#m3)"/>
<path d="M1685 546l-13 1-22 26 19 0-15 2 30 1-31 7-9 4 9 2-20 4 34 0-11 5 22 2-21 3-19 1 8 4 2 0-18 1 12 1-20 1 3 3 11 2-2 1-22 1 52 0 4 0 19 0-73 1 9 0 10 0-27 1 8 0 16 0 13 1 0 1 65 1-69 2-34 2 48 0-40 1 24 0 20 0-19 1 4 1-3 1-25 1 15 1-7 1-6 1 11 0 1 0 1 2 17 3 7 0-54 3 34 0 18 1-49 1 44 0 1 0-53 2 0 1 12 0 41 0 39 0-55 1-38 1 8 0 21 0 11 0 14 0-43 2 22 0 6 1 1 0 65 0-76 2-28 1 13 3 3 1-4 1 4 0 49 0-42 2 4 0 82 0-111 1 15 0 16 0 11 0-35 1 26 0-29 1 29 0 87 0-56 1-35 1 25 0-39 1 36 1 4 0 9 0-15 2-47 1 26 0-31 1 30 0 9 0 9 0 7 0-21 2-35 1 26 0 3 0 9 0 29 1-38 1 19 0-49 1 54 2-52 1 18 0 1 0 43 0-39 1 4 0 26 0 7 0-23 1 5 2 4 0-5 1 8 1 9 1 24 1 46 0-19 2-111 1 124 1-90 1-25 1 18 0 80 1-35 1-45 1 28 2 58 2 9 0-115 1-9 1 27 0 27 0-40 2-6 3 12 0 22 0 26 0-41 4-15 2 5 2 8 0-12 2 40 0 68 0-109 1 16 0 29 1-37 1 48 1 6 0 37 0-93 1 1 1 55 0-34 1 97 1-86 2-22 1 12 0 3 1 10 0 5 0-5 2 22 2-32 1 28 0 0 1-62 2 51 0 13 0-65 1-2 1 9 0 38 0 9 0 0 1-42 1 1 0 1 1 3 0 31 0 4 0 5 0 7 1-21 1 9 1 8 0-41 1 17 0 21 1 65 0-78 1-44 2 17 2 41 0-38 2 2 0-21 1 42 0-52 1 43 0-30 3 9 1-15 2-1 1 71 0-43 1 13 1-32 1 312-209 46 15-72 3 41 3 13 4 36 13-94 2 64 0 2 0-21 1 2 2-17 1 36 0 0 1-83 6 76 0 5 0-24 2 33 1-15 2 7 0 3 2-17 3-89 2 121 4-8 5-38 3 6 2 6 6-75 1 113 1-16 1-90 2 64 4 14 1 42 1-6 6 30 0-34 1-35 1 28 1 1 3 22 2-154 7 107 12-84 1 39 0 67 2 29 5-40 7-98 1 81 1-120 1 104 1-78 2 26 2-15 1-52 19 47 15" class="mk" style="marker:url(#m3)" opacity="0.6"/>
<path d="M1695.7 536.8C1698.4 537.8 1701.7 541.3 1704.3 543.9C1707.0 546.5 1709.4 549.6 1711.5 552.4C1713.6 555.3 1715.6 557.6 1717.2 560.9C1718.9 564.2 1720.5 568.7 1721.5 572.3C1722.6 575.8 1723.4 578.7 1723.5 582.2C1723.7 585.7 1723.0 589.5 1722.4 593.5C1721.7 597.5 1720.5 602.0 1719.5 606.3C1718.6 610.5 1717.6 614.6 1716.7 619.0C1715.7 623.5 1714.2 628.5 1713.8 633.2C1713.4 637.9 1713.8 642.7 1714.4 647.4C1714.9 652.1 1716.7 656.4 1717.2 661.6C1717.8 666.8 1717.7 673.4 1717.8 678.6C1717.9 683.8 1717.7 688.0 1717.8 692.7C1717.9 697.5 1718.0 702.4 1718.7 706.9C1719.3 711.4 1720.1 715.7 1721.5 719.7C1723.0 723.7 1725.7 727.7 1727.2 731.0C1728.8 734.3 1730.5 736.4 1731.0 739.5C1731.4 742.6 1730.7 746.4 1730.1 749.4C1729.5 752.5 1729.2 755.8 1727.2 757.9C1725.3 760.1 1721.5 760.5 1718.7 762.2C1715.8 763.8 1712.7 766.2 1710.1 767.9C1707.4 769.5 1705.1 773.1 1702.9 772.1C1700.8 771.2 1699.6 764.1 1697.2 762.2C1694.8 760.3 1691.7 761.0 1688.6 760.8C1685.5 760.5 1681.4 759.8 1678.6 760.8C1675.7 761.7 1673.8 764.5 1671.4 766.4C1669.0 768.3 1667.1 770.7 1664.3 772.1C1661.4 773.5 1657.6 774.7 1654.2 774.9C1650.9 775.2 1647.6 774.2 1644.2 773.5C1640.9 772.8 1637.5 771.7 1634.2 770.7C1630.8 769.6 1627.0 767.5 1624.2 767.3C1621.3 767.1 1619.6 768.0 1617.0 769.3C1614.4 770.5 1611.5 773.5 1608.4 774.9C1605.3 776.4 1601.7 777.8 1598.4 777.8C1595.1 777.8 1591.6 776.1 1588.4 774.9C1585.2 773.8 1580.6 773.5 1579.2 770.7C1577.8 767.9 1579.3 762.4 1579.8 757.9C1580.3 753.4 1581.6 748.5 1582.1 743.8C1582.6 739.0 1582.6 734.8 1582.6 729.6C1582.7 724.4 1582.3 718.7 1582.6 712.6C1583.0 706.4 1584.2 698.9 1584.9 692.7C1585.7 686.6 1586.1 681.4 1586.9 675.7C1587.8 670.1 1588.9 663.5 1589.8 658.7C1590.8 654.0 1591.2 651.2 1592.7 647.4C1594.1 643.6 1596.5 640.1 1598.4 636.1C1600.3 632.0 1602.2 626.8 1604.1 623.3C1606.0 619.8 1607.9 617.6 1609.9 614.8C1611.8 612.0 1613.2 609.1 1615.6 606.3C1618.0 603.5 1621.5 600.4 1624.2 597.8C1626.8 595.2 1628.7 593.1 1631.3 590.7C1634.0 588.3 1637.8 585.3 1639.9 583.6C1642.1 582.0 1644.4 582.2 1644.2 580.8C1644.0 579.4 1639.3 577.5 1638.5 575.1C1637.7 572.7 1638.6 569.2 1639.3 566.6C1640.1 564.0 1641.5 560.9 1642.8 559.5C1644.1 558.1 1644.7 558.1 1647.1 558.1C1649.5 558.1 1653.5 560.9 1657.1 559.5C1660.7 558.1 1665.0 552.4 1668.5 549.6C1672.1 546.8 1675.2 544.4 1678.6 542.5C1681.9 540.6 1685.7 539.2 1688.6 538.3C1691.5 537.3 1693.1 535.9 1695.7 536.8Z" fill="none" stroke="#dcdcdc" stroke-width="3" stroke-dasharray="2.9 2.5"/>
<path d="M1919.1 532.6C1922.9 532.8 1925.5 535.2 1929.1 536.8C1932.7 538.5 1937.0 540.6 1940.6 542.5C1944.1 544.4 1947.2 545.6 1950.6 548.2C1953.9 550.8 1957.5 554.8 1960.6 558.1C1963.7 561.4 1966.3 564.5 1969.2 568.0C1972.1 571.6 1975.4 575.6 1977.8 579.4C1980.2 583.1 1981.4 587.6 1983.5 590.7C1985.7 593.8 1988.0 595.4 1990.7 597.8C1993.3 600.1 1996.9 602.0 1999.3 604.9C2001.6 607.7 2003.1 611.5 2005.0 614.8C2006.9 618.1 2009.0 621.6 2010.7 624.7C2012.4 627.8 2014.1 629.4 2015.0 633.2C2016.0 637.0 2016.0 642.7 2016.4 647.4C2016.9 652.1 2017.6 656.8 2017.9 661.6C2018.1 666.3 2018.1 671.0 2017.9 675.7C2017.6 680.5 2017.4 686.1 2016.4 689.9C2015.5 693.7 2014.5 696.5 2012.1 698.4C2009.8 700.3 2005.9 700.3 2002.1 701.2C1998.3 702.2 1993.8 703.1 1989.2 704.1C1984.7 705.0 1979.7 706.1 1974.9 706.9C1970.1 707.8 1965.4 708.3 1960.6 709.2C1955.8 710.0 1951.1 711.1 1946.3 712.0C1941.5 713.0 1936.3 714.5 1932.0 714.8C1927.7 715.2 1922.9 714.8 1920.5 714.0C1918.1 713.1 1917.4 711.4 1917.7 709.7C1917.9 708.1 1921.2 705.7 1921.9 704.1C1922.7 702.4 1923.6 699.9 1921.9 699.8C1920.3 699.7 1915.0 703.0 1911.9 703.5C1908.8 704.0 1906.2 702.1 1903.3 702.7C1900.5 703.2 1897.6 705.4 1894.7 706.9C1891.9 708.5 1889.0 710.1 1886.2 712.0C1883.3 713.9 1880.2 715.8 1877.6 718.3C1874.9 720.7 1873.0 724.2 1870.4 726.8C1867.8 729.4 1864.7 731.5 1861.8 733.8C1859.0 736.2 1856.1 738.3 1853.2 740.9C1850.4 743.5 1847.5 746.6 1844.6 749.4C1841.8 752.3 1838.9 755.3 1836.1 757.9C1833.2 760.5 1830.3 762.7 1827.5 765.0C1824.6 767.4 1821.7 770.0 1818.9 772.1C1816.0 774.2 1812.9 776.4 1810.3 777.8C1807.7 779.2 1806.2 780.4 1803.1 780.6C1800.0 780.8 1795.1 779.8 1791.7 779.2C1788.2 778.6 1783.8 779.3 1782.5 777.2C1781.2 775.1 1783.2 770.1 1783.7 766.4C1784.1 762.8 1784.3 759.4 1785.4 755.1C1786.5 750.8 1788.5 745.4 1790.2 740.9C1792.0 736.4 1794.1 732.4 1796.0 728.2C1797.9 723.9 1800.0 719.9 1801.7 715.4C1803.4 710.9 1804.6 706.0 1806.0 701.2C1807.4 696.5 1808.8 691.8 1810.3 687.1C1811.7 682.3 1813.4 677.6 1814.6 672.9C1815.8 668.2 1816.5 663.5 1817.4 658.7C1818.4 654.0 1819.0 648.8 1820.3 644.6C1821.6 640.3 1823.5 637.0 1825.5 633.2C1827.4 629.4 1829.5 625.4 1831.8 621.9C1834.0 618.3 1836.5 615.3 1838.9 612.0C1841.3 608.7 1843.4 605.3 1846.1 602.0C1848.7 598.7 1851.8 595.4 1854.7 592.1C1857.5 588.8 1860.6 585.5 1863.3 582.2C1865.9 578.9 1868.0 575.6 1870.4 572.3C1872.8 569.0 1874.9 565.7 1877.6 562.4C1880.2 559.0 1883.1 555.7 1886.2 552.4C1889.3 549.1 1892.8 545.3 1896.2 542.5C1899.5 539.7 1902.4 537.1 1906.2 535.4C1910.0 533.8 1915.3 532.4 1919.1 532.6Z" fill="none" stroke="#dcdcdc" stroke-width="3" stroke-dasharray="2.9 2.5"/>
<text x="1765.8" y="558.4" font-size="28" fill="#60e0b0" textLength="64.2" lengthAdjust="spacingAndGlyphs">Fib-7</text>
<rect x="60.0" y="802.0" width="472.0" height="268.8" fill="#040102"/>
<path d="M207 835l-60 10 1 5 21 0-1 10 34 1 12 0-9 4 3 0-7 1 3 0 6 5-19 3 12 1 14 0-12 6 6 0-9 3 0 2-19 2 13 10-32 5-1 3 47 3-23 6-63 5 82 1-9 2 8 0-82 1 83 1-28 1 24 6-13 2 9 2-3 1-104 5 94 11-3 1 26 1-24 6 19 1-8 1 1 1-50 2 67 0-2 1-4 2-14 1-1 2 9 3-5 1 21 0-4 2-6 1 7 2-31 2 11 0 19 0-20 2 23 12 1 1-21 3-104 1 92 0 8 0 27 1-36 4 25 2-17 2 36 6-7 1 2 2 6 3-40 1 40 3-41 1 15 0 9 1-19 1 26 0-100 4 69 0 29 1-66 15 247-227 39 6 14 9 3 4-59 1-11 11 83 0-64 1 3 4-41 3 105 0-23 5-87 5-5 3 129 8 2 5-138 11 4 3 120 2-13 2-4 6 51 0-135 2 64 7-38 5-7 2 112 8-105 5-47 1 28 1 70 1-69 1 130 1-118 1-40 1 95 0-67 2-52 1-1 3 76 0 28 5-54 1 15 2 98 5-136 2 51 4-53 2 26 1 121 2-31 6-159 3 16 9-6 2-6 4 8 3-6 1-6 2 15 1 29 1-5 5-29 6-30 15 38 9" class="mk" style="marker:url(#m4)"/>
<path d="M188 829l2 10 6 6-31 32 50 2-22 4 12 22-2 26-78 5 89 3-51 5 26 11 0 7 10 18-20 2-12 15 46 3 7 1-3 9 0 5-10 8 8 3-25 5-38 25 273-230-5 66-63 5 97 3-3 4 44 3-106 5 88 1-28 7-45 8 106 8 0 7 3 4-188 11-14 5 96 8-25 6 16 4-58 40-30 4-25 16 38 8" class="mk" style="marker:url(#m4)" opacity="0.6"/>
<path d="M195.2 819.0C197.8 820.0 201.1 823.5 203.7 826.1C206.3 828.7 208.6 831.8 210.8 834.6C212.9 837.5 214.8 839.8 216.4 843.1C218.1 846.4 219.6 850.9 220.7 854.5C221.7 858.0 222.5 860.9 222.7 864.4C222.8 867.9 222.2 871.7 221.5 875.7C220.9 879.7 219.6 884.2 218.7 888.5C217.8 892.7 216.8 896.8 215.9 901.2C214.9 905.7 213.4 910.7 213.0 915.4C212.7 920.1 213.0 924.9 213.6 929.6C214.2 934.3 215.9 938.6 216.4 943.8C217.0 949.0 216.9 955.6 217.0 960.8C217.1 966.0 216.9 970.2 217.0 974.9C217.1 979.7 217.2 984.6 217.9 989.1C218.5 993.6 219.3 997.9 220.7 1001.9C222.1 1005.9 224.8 1009.9 226.4 1013.2C227.9 1016.5 229.6 1018.6 230.0 1021.7C230.5 1024.8 229.8 1028.6 229.2 1031.6C228.6 1034.7 228.2 1038.0 226.4 1040.1C224.5 1042.3 220.7 1042.7 217.9 1044.4C215.0 1046.0 211.9 1048.4 209.3 1050.1C206.7 1051.7 204.4 1055.3 202.3 1054.3C200.1 1053.4 199.0 1046.3 196.6 1044.4C194.2 1042.5 191.2 1043.2 188.1 1043.0C185.0 1042.7 181.0 1042.0 178.2 1043.0C175.3 1043.9 173.4 1046.7 171.1 1048.6C168.7 1050.5 166.8 1052.9 164.0 1054.3C161.2 1055.7 157.4 1056.9 154.1 1057.1C150.8 1057.4 147.5 1056.4 144.2 1055.7C140.8 1055.0 137.5 1053.9 134.2 1052.9C130.9 1051.8 127.1 1049.7 124.3 1049.5C121.5 1049.3 119.8 1050.2 117.2 1051.5C114.6 1052.7 111.8 1055.7 108.7 1057.1C105.7 1058.6 102.1 1060.0 98.8 1060.0C95.5 1060.0 92.0 1058.3 88.9 1057.1C85.7 1056.0 81.2 1055.7 79.8 1052.9C78.4 1050.1 79.9 1044.6 80.4 1040.1C80.9 1035.6 82.2 1030.7 82.6 1026.0C83.1 1021.2 83.1 1017.0 83.2 1011.8C83.3 1006.6 82.8 1000.9 83.2 994.8C83.6 988.6 84.8 981.1 85.5 974.9C86.2 968.8 86.7 963.6 87.5 957.9C88.3 952.3 89.4 945.7 90.3 940.9C91.2 936.2 91.7 933.4 93.1 929.6C94.6 925.8 96.9 922.3 98.8 918.3C100.7 914.2 102.6 909.0 104.5 905.5C106.4 902.0 108.3 899.8 110.1 897.0C112.0 894.2 113.4 891.3 115.8 888.5C118.2 885.7 121.7 882.6 124.3 880.0C126.9 877.4 128.8 875.3 131.4 872.9C134.0 870.5 137.8 867.5 139.9 865.8C142.0 864.2 144.4 864.4 144.2 863.0C143.9 861.6 139.3 859.7 138.5 857.3C137.7 854.9 138.6 851.4 139.3 848.8C140.0 846.2 141.5 843.1 142.7 841.7C144.0 840.3 144.6 840.3 147.0 840.3C149.4 840.3 153.4 843.1 156.9 841.7C160.5 840.3 164.7 834.6 168.2 831.8C171.8 829.0 174.9 826.6 178.2 824.7C181.5 822.8 185.3 821.4 188.1 820.5C190.9 819.5 192.6 818.1 195.2 819.0Z" fill="none" stroke="#dcdcdc" stroke-width="3" stroke-dasharray="2.9 2.5"/>
<path d="M416.3 814.8C420.0 815.0 422.6 817.4 426.2 819.0C429.7 820.7 434.0 822.8 437.5 824.7C441.1 826.6 444.1 827.8 447.4 830.4C450.7 833.0 454.3 837.0 457.4 840.3C460.4 843.6 463.0 846.7 465.9 850.2C468.7 853.8 472.0 857.8 474.4 861.6C476.7 865.3 477.9 869.8 480.0 872.9C482.2 876.0 484.5 877.6 487.1 880.0C489.7 882.3 493.3 884.2 495.6 887.1C498.0 889.9 499.4 893.7 501.3 897.0C503.2 900.3 505.3 903.8 507.0 906.9C508.6 910.0 510.3 911.6 511.2 915.4C512.2 919.2 512.2 924.9 512.6 929.6C513.1 934.3 513.8 939.0 514.1 943.8C514.3 948.5 514.3 953.2 514.1 957.9C513.8 962.7 513.6 968.3 512.6 972.1C511.7 975.9 510.7 978.7 508.4 980.6C506.0 982.5 502.2 982.5 498.5 983.4C494.7 984.4 490.2 985.3 485.7 986.3C481.2 987.2 476.3 988.3 471.5 989.1C466.8 990.0 462.1 990.5 457.4 991.4C452.6 992.2 447.9 993.3 443.2 994.2C438.5 995.2 433.3 996.7 429.0 997.0C424.8 997.4 420.0 997.0 417.7 996.2C415.3 995.3 414.6 993.6 414.8 991.9C415.1 990.3 418.4 987.9 419.1 986.3C419.8 984.6 420.8 982.1 419.1 982.0C417.4 981.9 412.2 985.2 409.2 985.7C406.1 986.2 403.5 984.3 400.7 984.9C397.8 985.4 395.0 987.6 392.2 989.1C389.3 990.7 386.5 992.3 383.7 994.2C380.8 996.1 377.8 998.0 375.2 1000.5C372.6 1002.9 370.7 1006.4 368.1 1009.0C365.5 1011.6 362.4 1013.7 359.6 1016.0C356.7 1018.4 353.9 1020.5 351.1 1023.1C348.2 1025.7 345.4 1028.8 342.6 1031.6C339.7 1034.5 336.9 1037.5 334.1 1040.1C331.2 1042.7 328.4 1044.9 325.6 1047.2C322.7 1049.6 319.9 1052.2 317.1 1054.3C314.2 1056.4 311.2 1058.6 308.6 1060.0C306.0 1061.4 304.5 1062.6 301.5 1062.8C298.4 1063.0 293.5 1062.0 290.1 1061.4C286.7 1060.8 282.4 1061.5 281.1 1059.4C279.7 1057.3 281.7 1052.3 282.2 1048.6C282.7 1045.0 282.8 1041.6 283.9 1037.3C285.0 1033.0 287.0 1027.6 288.7 1023.1C290.5 1018.6 292.5 1014.6 294.4 1010.4C296.3 1006.1 298.4 1002.1 300.1 997.6C301.7 993.1 302.9 988.2 304.3 983.4C305.7 978.7 307.1 974.0 308.6 969.3C310.0 964.5 311.6 959.8 312.8 955.1C314.0 950.4 314.7 945.7 315.6 940.9C316.6 936.2 317.2 931.0 318.5 926.8C319.8 922.5 321.7 919.2 323.6 915.4C325.5 911.6 327.6 907.6 329.8 904.1C332.0 900.5 334.5 897.5 336.9 894.2C339.3 890.9 341.4 887.5 344.0 884.2C346.6 880.9 349.7 877.6 352.5 874.3C355.3 871.0 358.4 867.7 361.0 864.4C363.6 861.1 365.7 857.8 368.1 854.5C370.4 851.2 372.6 847.9 375.2 844.6C377.8 841.2 380.6 837.9 383.7 834.6C386.7 831.3 390.3 827.5 393.6 824.7C396.9 821.9 399.7 819.3 403.5 817.6C407.3 816.0 412.5 814.6 416.3 814.8Z" fill="none" stroke="#dcdcdc" stroke-width="3" stroke-dasharray="2.9 2.5"/>
<text x="253.5" y="839.0" font-size="28" fill="#c8e870" textLength="66.7" lengthAdjust="spacingAndGlyphs">Fib-2</text>
<rect x="557.2" y="802.0" width="474.8" height="270.5" fill="#040102"/>
<path d="M679 827l-14 7 4 0 14 1-15 2 9 0-9 2 10 0-2 1-30 2 9 2-1 1 4 1 24 0 1 1-26 1 14 1-29 6 39 0-37 1 31 1-7 1-5 4-12 4 16 4-16 1-8 1 12 0 51 0-76 1 1 2 3 2 15 0-11 2 9 0 2 0-6 1-1 1 8 0 23 0-38 1 4 0 6 0-11 1 9 0-19 1 9 0 4 0 8 0 6 0 2 0 3 0-16 1 6 0 10 0 11 1 1 0-46 1 13 0-10 2 31 0 0 1 8 0-6 1-22 1 6 0-21 1 3 0 33 0 10 0-49 1 19 0-4 1 3 0 1 0-2 1 17 0 14 0-57 1 28 0 4 0 12 0-18 1 1 0 2 0 5 1-32 1 23 0 15 0 4 0-9 1 11 0 1 0-45 1 24 0 10 0-41 1 35 1 15 0-51 1 18 1 14 0 2 0 18 0 1 0 15 0-69 1 52 0 4 0 7 0 38 0-100 1 2 0 11 0 10 0 10 0 5 0 30 0-71 1 4 0 36 0-40 1 3 0 2 0 26 0 7 0 2 0-39 1 55 0 6 0 35 0-98 1 30 0 2 0 21 0 1 0 1 0 13 0-68 1 7 0 14 0 17 0-29 1 48 0-13 1 13 0-54 1 2 0 37 0 34 0-76 1 8 0 1 0 47 0-56 1 4 0 1 0 40 0 10 0 1 0 44 0-64 1 7 0-41 1 19 0 15 0-37 1 8 0 32 0 4 0 11 0 1 0 5 0-45 1 8 0 10 0 9 0 6 0-41 1 24 0 9 0 19 0 6 0-69 1 2 0 2 0 2 0 5 0 2 0 1 0 1 0 13 0 13 0 5 0 8 0 1 0 10 0-63 1 14 0 4 0 13 0 7 0 2 0 24 0-67 1 17 0 23 0 1 0 3 0 23 0-67 1 15 0 4 0 1 0 4 0 3 0 14 0 2 0 3 0 22 0-55 1 6 0 19 0 9 0 11 0-61 1 17 0 1 0 22 0 3 0 5 0 3 0 3 0 6 0-34 1 5 0 10 0 7 0 5 0 12 0-40 1 4 0 17 0 1 0 5 0-43 1 5 0 10 0 25 0 3 0 1 0 9 0 8 0-66 1 14 0 34 0 2 0-36 1 5 0 23 0 5 0 3 0 8 0 4 0-55 1 52 0-65 1 17 0 55 0-24 1 16 0 1 0 1 0-44 1 30 0 18 0-56 1 32 0 3 0-32 1 19 0-24 1 11 0 12 0 9 0 8 0-26 1 17 0 19 0 9 0-73 1 59 0 5 0 46 0-106 1 17 0 4 0 2 0 21 0-41 1 44 0 2 0 38 0 6 0 22 0-116 1 35 0 5 0 8 0-47 1 1 0 21 0 15 0 4 0 4 0 1 0 1 0 7 0 3 0 2 0-60 1 57 0 2 0-55 1 36 0 5 0-11 1 1 0 3 0 12 0 9 0-62 1 1 0 4 0 19 0 15 0 3 0 1 0 1 0 12 0 19 0-65 1 12 0 7 0 1 0 2 0 1 0 2 0 2 0 3 0 3 0 1 0 30 0 18 0 34 0-127 1 27 0 11 0 2 0 21 0 5 0 14 0-81 1 5 0 25 0 4 0 5 0 2 0 17 0 20 0-74 1 9 0 18 0 3 0 47 0-78 1 5 0 32 0 1 0 2 0 4 0 3 0 5 0 1 0 14 0 34 0 20 0-121 1 1 0 12 0 18 0 5 0 26 0 1 0 1 0 9 0 14 0 11 0-92 1 1 0 6 0 16 0 3 0 1 0 6 0 3 0 4 0 1 0 2 0 6 0 9 0 15 0-78 1 4 0 20 0 4 0 7 0 12 0 14 0 1 0-53 1 9 0 34 0 5 0 1 0 1 0 26 0-88 1 5 0 6 0 11 0 4 0 10 0 11 0 11 0-60 1 3 0 9 0 14 0 11 0 4 0 8 0 2 0 2 0 1 0 1 0 10 0 4 0 60 0-123 1 25 0 6 0 7 0 12 0 12 0 2 0-61 1 3 0 12 0 8 0 2 0 1 0 4 0 6 0 1 0 2 0 1 0 6 0 8 0 5 0 5 0-69 1 1 0 2 0 3 0 4 0 2 0 12 0 16 0 9 0 2 0 13 0-67 1 13 0 1 0 8 0 2 0 5 0 6 0 3 0 4 0 9 0 9 0 10 0 1 0-59 1 14 0 1 0 4 0 3 0 14 0 11 0 1 0 2 0 3 0 1 0 1 0-62 1 4 0 40 0 27 0-72 1 2 0 7 0 2 0 9 0 18 0 1 0 10 0 3 0 1 0-55 1 1 0 21 0-26 1 47 0 5 0 1 0 2 0-53 1 1 0 22 0 22 0 6 0 25 0 13 0-91 1 1 0 3 0 50 0 28 0-82 1 1 0 34 0 15 0-45 2 2 0 3 0 27 0 3 0 1 0 5 0 9 0 39 0-87 1 18 0 6 0 6 0 13 0 4 0 1 0 32 0-85 1 1 0 17 0 1 0 13 0 8 0 16 0 44 0-71 1 1 0 5 0 7 0 2 0 8 0 1 0-35 1 12 0 3 0 1 0 13 0 1 0 1 0 7 0 7 0-32 1 19 0 14 0 2 0-67 1 1 0 27 0 3 0 5 0 4 0 4 0 1 0 4 0 2 0 4 0-40 1 19 0 9 0 2 0 4 0 10 0 4 0 2 0 5 0 5 0-47 1 8 0 11 0-23 1 6 0 1 0-6 1 8 0 1 0 12 0 4 0 6 0 12 0 6 0 17 0-87 1 22 0 7 0 29 0 14 0 26 0 1 0 9 0-113 1 22 0 18 0 1 0 2 0 1 0 1 0 24 0-66 1 1 0 12 0 1 0 42 0 1 0 5 0 28 0-94 1 1 0 23 0 4 0 4 0 11 0 74 0-116 1 21 0 3 0 11 0 4 0 27 0-64 1 17 0 2 0 1 0 10 0 19 0 19 0-71 1 1 0 17 0 20 0-14 1 2 0 3 0 57 0-69 1 9 0 1 0 4 0 11 0-20 1 40 0 10 0-65 1 23 0 3 0 16 0 1 0 19 0 1 0-70 1 5 0 14 0 3 0 5 0 1 0 22 0 15 0 8 0 1 0 10 0-81 1 13 0 3 0 2 0 3 0 7 0 31 0 5 0 14 0-62 1 32 0 9 0 9 0 9 0 4 0-60 1 10 0 33 0 7 0 7 0-80 1 3 0 1 0 16 0 3 0 2 0 26 0 10 0 4 0 10 0-73 1 12 0 5 0 1 0 6 0 2 0 34 0-60 1 4 0 13 0 3 0 1 0 9 0 2 0 1 0 26 0 13 0-54 1 7 0 36 0-63 1 4 0 16 0 5 0 13 0 77 0-113 1 12 0 49 0 1 0 7 0-64 1 2 0 33 0 50 0-89 1 4 0 6 0 1 0 14 0 34 0 1 0 5 0 22 0 32 0-82 1 4 0 20 0 2 0 68 0-126 1 12 0 25 0 52 0-80 1 7 0 19 0-41 1 3 0 2 0 2 0 2 0 5 0 13 0 24 0 26 0 15 0-93 1 4 0 5 0 15 0 12 0 41 0-69 1 8 0 11 0 3 0 31 0-61 1 12 0 14 0 8 0 2 0 2 0-36 1 10 0 5 0 6 0 1 0 2 0 13 0 11 0 23 0 29 0-101 1 1 0 10 0 15 0 3 0 2 0 10 0 8 0 3 0-31 1 1 0 47 0 1 0 5 0-65 1 1 0 4 0 4 0 8 0 12 0 34 0-75 1 9 0 41 0 30 0 28 0 14 0-118 1 25 0 11 0 16 0 27 0 22 0-105 1 3 0 3 0 36 0 7 0 1 0 2 0 29 0-80 1 5 0 14 0 7 0 2 0 7 0 7 0 5 0 7 0 7 0 5 0 1 0 18 0-87 1 6 0 4 0 2 0 4 0 22 0 2 0 2 0 2 0 24 0 3 0 8 0-77 1 2 0 4 0 1 0 20 0 53 0 7 0 1 0 19 0-107 1 1 0 3 0 1 0 2 0 6 0 10 0 11 0 4 0 6 0 3 0 2 0 11 0 7 0 3 0 9 0-78 1 8 0 2 0 15 0 14 0 5 0 7 0 12 0 7 0 1 0 8 0-77 1 6 0 5 0 32 0 2 0 17 0 2 0 4 0-61 1 1 0 25 0 12 0 17 0 4 0 4 0 9 0 7 0 42 0-133 1 1 0 16 0 2 0 29 0 24 0-73 1 7 0 6 0 2 0 4 0 13 0 5 0 5 0 19 0 5 0 2 0 4 0-71 1 2 0 10 0 5 0 12 0 35 0 3 0 4 0 10 0-67 1 4 0 38 0 7 0 1 0 2 0 2 0 5 0 1 0 5 0-79 1 4 0 5 0 2 0 6 0 14 0 31 0-59 1 1 0 2 0 26 0 30 0 1 0 3 0 4 0-57 1 4 0 1 0 37 0 18 0 2 0 1 0 4 0 1 0-83 1 7 0 1 0 1 0 1 0 5 0 13 0 32 0 8 0 5 0 1 0 1 0 4 0 1 0-78 1 1 0 5 0 1 0 46 0 10 0-61 1 1 0 1 0 3 0 7 0 4 0 14 0 2 0 20 0 7 0 3 0 8 0-62 1 1 0 16 0 12 0 3 0 25 0 7 0 7 0-79 1 2 0 2 0 30 0 10 0 4 0-51 1 5 0 14 0 1 0 1 0 2 0 2 0 15 0 6 0 5 0 22 0-67 1 1 0 9 0 4 0 4 0 17 0 27 0 65 0-133 1 17 0 8 0 1 0 9 0 2 0 2 0 2 0-29 1 2 0 12 0 24 0 1 0 6 0-31 1 1 0 12 0 3 0 1 0 18 0-45 1 5 0 6 0 9 0 5 0 1 0 2 0-27 1 1 0 8 0 16 0 37 0 2 0-43 1 46 0-74 1 3 0 5 0 4 0 35 0-30 1 44 0-49 1 33 0-32 1 40 0-43 1 3 0 304-221-2 1 29 4-3 1 3 4 3 1-4 3 1 0 18 3 11 0-30 1 31 0-19 9-67 3 0 4 21 2 11 0 43 0-44 2 20 0 8 1 34 2-16 1 11 0-107 1 40 0 67 0 6 0-22 1 3 1-60 2 19 0 63 1-39 1 9 0-3 1 5 0-37 3 15 1 19 0 6 0-5 4-10 2-42 2 82 0-99 3 11 1 46 0 24 0-67 1 20 0-19 3 99 2-3 1-83 2 65 2 11 0 15 3-57 1-56 1 51 4 33 1 17 0-37 1 13 0-6 3-47 1-17 1 75 0 16 0-85 1 16 0 16 0-13 1 48 1 36 2-46 1 53 5-103 2-75 1 118 0-122 1 65 0 4 1-73 2 175 0-128 3 41 0 49 1-23 1 28 3 36 0-50 3-121 1 23 1 146 0 19 0-38 1 6 1-2 2-110 2-45 1 92 2 82 2-167 1 88 4 78 0-6 1 6 1-63 1 35 1-11 2 12 1-122 1-22 5 9 3 116 0-78 7-9 2-61 2-2 1 60 0-64 4 59 3-40 10 4 0-3 31" class="mk" style="marker:url(#m5)"/>
<path d="M649 844l8 5-13 1 7 2-9 13-3 2 36 3 2 0-2 1 5 2-21 2-29 2-2 2-5 1-1 1 9 2 16 0-4 2-15 1 34 0-23 2 13 0-35 1 34 0 0 2 19 0-29 1 17 0 1 0 1 0 1 2 1 0 11 0-33 1-28 1 42 0-5 2-8 1-37 3 34 0 4 2 49 0-46 2 1 0 12 0-23 1 22 0 4 0-46 1 4 0 34 1-51 1-2 1 5 0 2 0 7 0 40 0 4 1-16 1-35 1 34 0-17 1 33 1-60 2 45 0 1 0-45 1 5 0 2 0 31 0 1 0 2 0-29 1 12 0 16 0 5 0-4 1 38 0-41 1 21 0 9 0-72 1 32 0 8 0 2 0 23 0-48 1 11 0 4 0 35 0 1 1-55 1 21 0 5 0 6 0 23 0-56 1 43 0-7 1-26 1 13 0 9 0 5 0 9 0 9 0 7 0-67 1 10 0 3 0 29 0 2 0 22 0-77 1 6 0 36 0 21 0 7 0-59 1 3 0 32 0-43 2 7 0 3 0 4 1 8 0 34 0 7 0-66 1 66 0-44 1 23 0-2 1 21 0 37 1-87 1 32 0-46 1 16 0 25 0 9 1-42 1-5 1 4 0 18 0 19 0 8 0-15 1 21 0-34 1 22 0 9 0-4 1-47 1 32 0-36 1 37 0 7 1 12 0 12 0-68 1 33 0-29 1 2 0 47 0 4 0 6 0-65 1 1 0 10 0 21 0 10 0 30 0 3 0 15 0-87 1 58 0 15 0-74 1 25 0 5 0 1 0 53 0-89 1 38 0 41 0-79 1 1 0 32 0 9 0 2 0 5 0 17 1 10 0 19 0-57 1 39 0-74 1 2 0-1 1 4 0 27 0 6 0 2 0 3 0 11 0-29 1 29 0 18 0-76 1 8 0 5 0 15 0 7 0 4 0 2 0 2 0 26 0-68 1 60 0 9 0 4 0-42 1 7 0 13 0 4 0 3 0 1 0 4 0 5 0-56 1 15 0 7 0 12 0 20 0 7 0-69 1 39 0 7 0 8 0 3 0-57 1 30 0 14 0 3 0-50 1 64 0-64 1 5 0 40 2 4 0-50 1 38 0 0 1-37 1 1 0 34 1-3 1 9 0 5 0 29 0-77 1 6 0 25 0 9 0 7 1 2 0 20 0-47 1 8 0 9 1 7 0 11 0 14 0-66 1 4 0 26 0 7 0 6 0 2 0 12 0 10 0 8 1-75 1 1 0 21 0 18 1 2 0 28 0-62 1 9 0 22 0 7 0-50 1 20 0 31 0 1 0 3 0-24 1-34 1 21 0 14 0 23 0-54 1 40 0-42 1 1 0 30 0-29 1 25 0 1 0 84 0-91 1 31 0-55 2 23 0 10 0-17 1 6 0 2 0 2 0 1 1 34 0 3 0-47 1 2 0 15 0 2 0 13 0 19 0-66 1 53 0 7 0 14 0 7 0-74 1 7 0 6 0 43 0 13 0-68 1 7 0 11 0 4 0 2 0 17 0 18 0 8 0-56 1 1 0-12 1 72 0-32 1 17 0-60 1 18 0 3 0 19 0 14 0-35 1 14 0-39 1 21 1 1 0 0 1 85 0-95 1 9 0 1 0 16 0-25 1 4 1 44 0 35 0-94 1 22 0 15 0 55 0-88 1 19 0 1 0 14 0-31 1 12 0 7 0 50 0-72 1 70 0-71 1 66 0-66 1 3 0 32 0 18 0 13 0 1 0-41 1-23 1 42 0 22 0-4 1 14 0-73 1 21 0 2 0 31 0 6 0 11 0 4 0 35 0-105 1 16 0 2 0 10 0-26 1 52 0 19 0 19 0-58 1 97 0-120 1 8 0 2 0-24 1 1 0 9 0 41 0 1 0-64 1 1 0 6 0 32 0 3 0 8 0-47 1 4 0 5 0 12 0 10 0 26 0 4 0 14 0 37 0-81 1 1 0 25 0 4 0 1 0 6 0 59 0-128 1 8 0 1 0 3 0 54 0 15 0-44 1 30 1 3 0-67 1 15 0 37 0-59 1 13 0 18 0 33 0 2 0 10 0 56 0-74 1 4 0 16 0 37 0-108 1 9 0 27 0 21 0 3 0 19 0-82 1 79 0-69 1 14 0 5 0 20 0 5 0-49 1 30 0-38 1 2 0 3 0 2 1 1 0 2 0 9 0 48 0 2 0-61 1 59 0 3 0 25 0-86 1 57 0-52 1 50 0 8 0 8 0-61 1 5 0 34 0-42 2 21 0 1 0 38 0-78 1 25 0 11 0 23 0 11 0-43 1 3 0 39 2 13 0-20 1 5 0-49 2 305-216 21 10 15 4-6 1 1 1-20 9 59 4-69 6 64 6-14 2 14 0-18 2-55 2-24 2 16 1 35 2 1 0 22 1 14 3-36 1-34 1 4 2 56 1 23 0-24 1-62 1 103 2-41 1 41 0 0 1-158 3 170 3-54 6 18 1-4 2 7 1-33 3-39 2 68 5-6 2-135 3 78 0 10 7-23 1 68 3 4 1-31 3-19 3 27 11-16 2 50 3 4 0 34 6-95 4-76 7-6 9" class="mk" style="marker:url(#m5)" opacity="0.6"/>
<path d="M693.2 819.0C695.8 820.0 699.1 823.5 701.7 826.1C704.3 828.7 706.7 831.8 708.9 834.6C711.0 837.5 712.9 839.8 714.6 843.1C716.2 846.4 717.8 850.9 718.8 854.5C719.9 858.0 720.7 860.9 720.8 864.4C721.0 867.9 720.4 871.7 719.7 875.7C719.0 879.7 717.8 884.2 716.8 888.5C715.9 892.7 714.9 896.8 714.0 901.2C713.0 905.7 711.5 910.7 711.1 915.4C710.8 920.1 711.1 924.9 711.7 929.6C712.3 934.3 714.0 938.6 714.6 943.8C715.1 949.0 715.0 955.6 715.1 960.8C715.2 966.0 715.0 970.2 715.1 974.9C715.3 979.7 715.4 984.6 716.0 989.1C716.6 993.6 717.4 997.9 718.8 1001.9C720.3 1005.9 723.0 1009.9 724.5 1013.2C726.1 1016.5 727.8 1018.6 728.2 1021.7C728.7 1024.8 728.0 1028.6 727.4 1031.6C726.8 1034.7 726.4 1038.0 724.5 1040.1C722.6 1042.3 718.8 1042.7 716.0 1044.4C713.1 1046.0 710.0 1048.4 707.4 1050.1C704.8 1051.7 702.4 1055.3 700.3 1054.3C698.2 1053.4 697.0 1046.3 694.6 1044.4C692.2 1042.5 689.1 1043.2 686.0 1043.0C683.0 1042.7 678.9 1042.0 676.1 1043.0C673.2 1043.9 671.3 1046.7 668.9 1048.6C666.6 1050.5 664.7 1052.9 661.8 1054.3C659.0 1055.7 655.2 1056.9 651.8 1057.1C648.5 1057.4 645.2 1056.4 641.9 1055.7C638.5 1055.0 635.2 1053.9 631.9 1052.9C628.5 1051.8 624.7 1049.7 621.9 1049.5C619.0 1049.3 617.4 1050.2 614.8 1051.5C612.2 1052.7 609.3 1055.7 606.2 1057.1C603.1 1058.6 599.6 1060.0 596.2 1060.0C592.9 1060.0 589.4 1058.3 586.3 1057.1C583.1 1056.0 578.6 1055.7 577.1 1052.9C575.7 1050.1 577.2 1044.6 577.7 1040.1C578.2 1035.6 579.5 1030.7 580.0 1026.0C580.5 1021.2 580.5 1017.0 580.6 1011.8C580.6 1006.6 580.2 1000.9 580.6 994.8C580.9 988.6 582.1 981.1 582.8 974.9C583.5 968.8 584.0 963.6 584.8 957.9C585.6 952.3 586.7 945.7 587.7 940.9C588.6 936.2 589.1 933.4 590.5 929.6C592.0 925.8 594.3 922.3 596.2 918.3C598.1 914.2 600.0 909.0 601.9 905.5C603.8 902.0 605.7 899.8 607.6 897.0C609.5 894.2 611.0 891.3 613.3 888.5C615.7 885.7 619.3 882.6 621.9 880.0C624.5 877.4 626.4 875.3 629.0 872.9C631.6 870.5 635.4 867.5 637.6 865.8C639.7 864.2 642.1 864.4 641.9 863.0C641.6 861.6 637.0 859.7 636.2 857.3C635.3 854.9 636.3 851.4 637.0 848.8C637.7 846.2 639.1 843.1 640.4 841.7C641.7 840.3 642.3 840.3 644.7 840.3C647.1 840.3 651.1 843.1 654.7 841.7C658.2 840.3 662.5 834.6 666.1 831.8C669.7 829.0 672.7 826.6 676.1 824.7C679.4 822.8 683.2 821.4 686.0 820.5C688.9 819.5 690.6 818.1 693.2 819.0Z" fill="none" stroke="#dcdcdc" stroke-width="3" stroke-dasharray="2.9 2.5"/>
<path d="M915.6 814.8C919.4 815.0 922.0 817.4 925.6 819.0C929.1 820.7 933.4 822.8 937.0 824.7C940.5 826.6 943.6 827.8 946.9 830.4C950.3 833.0 953.8 837.0 956.9 840.3C960.0 843.6 962.6 846.7 965.5 850.2C968.3 853.8 971.7 857.8 974.0 861.6C976.4 865.3 977.6 869.8 979.7 872.9C981.9 876.0 984.2 877.6 986.9 880.0C989.5 882.3 993.0 884.2 995.4 887.1C997.8 889.9 999.2 893.7 1001.1 897.0C1003.0 900.3 1005.2 903.8 1006.8 906.9C1008.5 910.0 1010.1 911.6 1011.1 915.4C1012.0 919.2 1012.0 924.9 1012.5 929.6C1013.0 934.3 1013.7 939.0 1013.9 943.8C1014.2 948.5 1014.2 953.2 1013.9 957.9C1013.7 962.7 1013.5 968.3 1012.5 972.1C1011.6 975.9 1010.6 978.7 1008.2 980.6C1005.9 982.5 1002.1 982.5 998.3 983.4C994.5 984.4 989.9 985.3 985.4 986.3C980.9 987.2 975.9 988.3 971.2 989.1C966.4 990.0 961.7 990.5 956.9 991.4C952.2 992.2 947.4 993.3 942.7 994.2C937.9 995.2 932.7 996.7 928.4 997.0C924.1 997.4 919.4 997.0 917.0 996.2C914.6 995.3 913.9 993.6 914.2 991.9C914.4 990.3 917.7 987.9 918.4 986.3C919.1 984.6 920.1 982.1 918.4 982.0C916.8 981.9 911.5 985.2 908.4 985.7C905.4 986.2 902.7 984.3 899.9 984.9C897.0 985.4 894.2 987.6 891.3 989.1C888.5 990.7 885.6 992.3 882.8 994.2C879.9 996.1 876.8 998.0 874.2 1000.5C871.6 1002.9 869.7 1006.4 867.1 1009.0C864.5 1011.6 861.4 1013.7 858.6 1016.0C855.7 1018.4 852.8 1020.5 850.0 1023.1C847.1 1025.7 844.3 1028.8 841.4 1031.6C838.6 1034.5 835.7 1037.5 832.9 1040.1C830.0 1042.7 827.2 1044.9 824.3 1047.2C821.5 1049.6 818.6 1052.2 815.8 1054.3C812.9 1056.4 809.8 1058.6 807.2 1060.0C804.6 1061.4 803.2 1062.6 800.1 1062.8C797.0 1063.0 792.1 1062.0 788.7 1061.4C785.3 1060.8 780.9 1061.5 779.6 1059.4C778.2 1057.3 780.2 1052.3 780.7 1048.6C781.2 1045.0 781.3 1041.6 782.4 1037.3C783.5 1033.0 785.5 1027.6 787.3 1023.1C789.0 1018.6 791.1 1014.6 793.0 1010.4C794.9 1006.1 797.0 1002.1 798.7 997.6C800.3 993.1 801.5 988.2 803.0 983.4C804.4 978.7 805.8 974.0 807.2 969.3C808.7 964.5 810.3 959.8 811.5 955.1C812.7 950.4 813.4 945.7 814.4 940.9C815.3 936.2 815.9 931.0 817.2 926.8C818.5 922.5 820.4 919.2 822.3 915.4C824.2 911.6 826.4 907.6 828.6 904.1C830.8 900.5 833.4 897.5 835.7 894.2C838.1 890.9 840.3 887.5 842.9 884.2C845.5 880.9 848.6 877.6 851.4 874.3C854.3 871.0 857.4 867.7 860.0 864.4C862.6 861.1 864.7 857.8 867.1 854.5C869.5 851.2 871.6 847.9 874.2 844.6C876.8 841.2 879.7 837.9 882.8 834.6C885.9 831.3 889.4 827.5 892.8 824.7C896.1 821.9 898.9 819.3 902.7 817.6C906.5 816.0 911.8 814.6 915.6 814.8Z" fill="none" stroke="#dcdcdc" stroke-width="3" stroke-dasharray="2.9 2.5"/>
<text x="756.5" y="840.0" font-size="28" fill="#f0b060" textLength="66.0" lengthAdjust="spacingAndGlyphs">Fib-4</text>
<rect x="1058.4" y="801.0" width="473.9" height="270.8" fill="#040102"/>
<path d="M1196 829l-2 1-15 13 17 6-17 3-14 27-13 1 30 4-38 3-23 1 74 1-23 1-30 1-26 1 59 0 11 0 9 0-54 2 12 0-10 1-32 1 83 0-74 1 9 0 34 0-40 1 56 0-30 1 6 0 20 1 8 0 31 0-105 1 10 1 0 1 5 0 18 0 12 0 19 1-30 1 2 0 22 0-55 1 43 0-14 1 16 0 13 0 4 0-56 1 9 1 12 0 15 0 5 0 2 0-50 1 3 0 7 0 2 0 20 0-43 1 68 0-63 1 5 0 14 0 11 0 5 0 4 0 17 0 5 0-64 1 13 0 12 0 12 0 4 0 22 0-59 1 18 0 25 0 5 0 10 0-16 1-39 1 2 0 6 0 1 0 22 0 11 0-16 1 11 0 62 0-77 1 15 0 10 1 6 0-47 1 2 0 33 0 1 0 2 0-41 1 52 0-53 1 9 0 21 0 11 0 3 0-40 1 30 0 11 0-49 1 3 0 1 0 1 0 51 0 11 0-33 1 12 0 12 0-50 1 28 0 0 1 11 0 9 0-62 1 80 0-88 1 13 0 9 0 15 0 4 0 21 0 3 0-30 1 16 0 17 0-45 1 13 0 23 0 1 0 11 0 11 0-81 1 13 0 28 0 18 0 12 0-58 1 7 0 16 0 26 0 17 0-16 1 1 0 14 0-67 1 28 0 21 0 9 0 1 0 11 0 2 0 19 0-105 1 7 0 3 0 15 0 33 0 12 0-72 1 16 0 3 0 23 0 22 0 5 0 2 0 2 0 11 0-2 1 6 0 1 0 15 0-104 1 9 0 31 0 14 0-39 1 11 0 9 0 32 0 3 0-24 1 1 0 3 0 1 0-11 1-1 1 7 0 3 0 1 0 25 0-29 1 2 0 31 0 3 0-19 1-16 1 5 0 22 0-25 1 4 0 16 0 4 0 3 0-69 1 33 0 7 0 6 0 1 0 17 0-30 1 22 0 11 0 3 0-49 1 38 0 7 0 9 0-69 1 2 0 14 0 21 0 7 0-10 1 23 0 51 0-90 1 37 0 4 0 47 0-120 2 71 0-62 1 58 0 51 0-102 1 1 0 12 0 18 0-8 1 26 0 2 0-27 1 17 0-52 1 2 0 2 0 34 0 27 0 2 0 11 0-54 1 33 0-56 1 39 0-40 1 1 0 35 0 1 0 8 1-50 1 3 0 35 0 6 0 1 0 2 0 11 0 8 0-37 1 3 0 2 0 10 0 5 0 2 0 1 0 7 0-24 1 2 0 10 0 5 0 1 0 16 0 15 0-84 1 2 0 37 0 3 0 2 0 4 0 4 0 12 0 6 0-27 1 25 0-56 1 22 0 29 0-1 1 4 0-69 1 31 0 9 0 4 0-7 1-17 2-8 1 9 0-7 1 28 0-27 1 3 0 2 0 9 0 20 0 6 0 18 0 9 0 20 0-81 1 1 0 3 0 3 0 26 0 1 0-44 1 7 0 18 0 18 0 55 0-41 1 5 0 30 0-87 1 36 0 28 0 27 0-103 1 25 0 87 0-83 2 21 0 3 0-29 1 24 0 5 0 1 0 20 0 2 0 1 0 5 2-49 1 41 0 1 0 6 1 8 0-92 1 32 0 52 0-88 1 7 0 24 0 2 0 7 0 1 0 17 0 3 0 10 0 20 0-67 1 13 0 52 0-50 1 10 0 20 0 19 0-56 1 22 0 8 0-57 1 1 0 46 0 19 0 1 0 22 0-88 1 52 0 16 0 18 0 24 0-116 1 2 0 3 0 43 0 6 0 16 0-69 1 39 0 8 0 10 0 5 0 1 0 2 0 57 0-74 1-33 1 8 0 97 0-111 1 5 0 2 0 30 0 14 0-39 1 2 0 14 0 12 0 1 0 16 0-49 1 7 0 19 0 17 0 2 0 7 0 16 0 3 0 5 0-84 1 10 0 34 0 14 0 3 0 2 0 4 0 11 0 5 0-84 1 6 0 4 0 1 0 18 0 2 0 15 0 1 0 18 0-64 1 14 0 1 0 2 0 21 0 22 0 23 0-86 1 2 0 2 0 42 0-47 1 8 0 3 0 2 0 3 0 14 0 1 0 25 0 26 0-79 1 1 0 22 0 2 0 23 0 1 0 1 0 2 0 12 0 1 0 17 0-86 1 2 0 2 0 5 0 11 0 5 0 2 0 28 0 7 0 3 0 20 0 5 0-90 1 11 0 24 0-26 1 1 0 8 0 5 0 40 0-66 1 10 0 13 0 3 0 9 0 16 0 5 0 17 0-64 2 62 0-74 1 3 0 25 0 47 0 17 0-73 2 60 0-57 1 22 0 2 0 26 0 3 0 4 0 21 0-94 1 13 0 3 0 3 0 17 0 5 0 38 0 3 0 11 0 4 0 38 0-66 1 28 0 9 0-105 1-6 1 11 0 5 0 12 0 116 0-128 1 10 0 10 0 1 0-32 1 3 0 3 0 15 0-13 1 56 0-32 1 2 0 46 0-84 1 6 0 4 0 16 0 9 0-18 1 7 0 18 0 7 0 34 0-70 1 30 0 9 0-49 1 14 0 11 0 4 0 1 0 28 0-38 1 4 0 7 0 25 0-61 1 16 0 6 0 8 0 26 0 3 0-33 1 30 0 2 0-38 1 5 0 63 0-90 1 4 0 2 0 55 0 18 0-71 1 16 0 24 0 1 0 15 0-63 1 46 0 36 0 9 0 5 0-15 1-24 2 23 0 1 0 49 0-54 1 10 0 3 0-64 1-4 1 26 0 8 0-46 1 66 0-29 1 32 0-69 2 3 0 24 0-38 1 29 0 6 0 36 0-53 1 3 0 3 0 6 0 26 0 14 0-55 1 8 0 3 0 3 0 1 0 3 0 36 0 1 0-41 1 43 0 8 0-75 1 25 0-20 1 15 0 4 0-12 1 285-219 37 1-43 9 75 5-2 1-71 1 82 3 9 1-20 1-70 2 84 0-29 2-11 1-58 2-4 2 67 0 44 1-65 1 13 0-35 1 77 1 2 0-80 2 6 2 34 0 5 0-66 3 72 1-72 2 52 3 18 2-23 1 11 3 54 0-58 2-7 1-54 1 70 0-19 1-68 1 27 0 45 1 44 2-85 1 37 1-5 1 52 0-83 2 47 1-30 1 37 0 62 0-117 2 59 0-9 1 65 0-114 1 135 0-39 1-90 1 8 2 7 0 31 3-83 2 43 0 36 2-29 1 51 0-52 1-17 1 23 0 30 4-3 1-9 1 34 0-106 1 42 1 95 0-154 1 14 0 34 0 73 1-34 1 40 0-53 1-58 1 71 0-20 1 94 0-12 1-91 1-9 1-53 1 151 2-127 1 65 0 35 1-37 1 104 0 2 0-191 1 157 1-131 2 57 0 3 0 13 0-69 2 61 0 29 0-94 1 54 0 22 0 18 0 52 1-45 1 43 1 20 0-175 1 12 0 102 0-93 1-3 4 22 1 64 1-102 3 44 3 43 0-34 1-53 5 103 0-26 1 88 0-21 1-79 2-97 4 65 1-10 3 7 3-12 12-40 4 32 1-26 2-16 5 30 0-32 5 32 3-20 7-1 11-7 2-23 2 0 8 23 2" class="mk" style="marker:url(#m6)"/>
<path d="M1187 842l-1 17 14 10-23 5-4 2-31 2 37 10-41 2-21 1 18 0-21 2 28 0 39 0 4 1-72 1 0 1 37 0 27 0 4 1-68 1 14 0 59 1-29 3-45 1-2 2 43 1 19 0-18 1-5 3 7 0-30 1 2 0 31 1 1 0-15 1 16 0-44 1 19 0 2 1 2 0-28 2 26 0 5 0-29 1 31 0 7 0 10 0 10 1-13 1 6 0-28 1 26 0-66 2 16 0 31 0 1 1 9 0 1 1 10 1-51 1 31 0-53 1 102 3-98 1 3 0 10 0 51 0-52 1 57 0-56 1 45 0 26 1-73 1 81 0 10 0-84 1-11 1 9 0 46 0-42 1 39 0 17 0-80 1 72 0 3 0-11 2 10 2-13 1 1 0 10 0-67 1 26 0 15 0 32 0-46 1 1 0 10 0 24 0-72 1 18 1 27 0 5 0 5 0-52 1 12 0 19 0 8 0-40 1 30 0-29 1 58 0 13 0-20 2 14 0 11 1 3 1 1 0-81 2 33 1 31 1 25 0-55 1 15 0-50 1 39 0-42 2 122 0-120 2 11 0 85 0-56 1 3 0-2 2 2 0-9 1-13 1-19 2 36 0 0 1-21 1 15 0 16 0-1 1 0 1-24 3 51 0-60 1 28 0-22 1 47 0-56 1 68 0-82 1 100 0-40 1-35 5 13 0 19 1 2 0 1 0-27 1 52 0-3 1 15 0-40 2 34 0-89 1 18 0 1 0 32 0 29 0-67 1 32 0-14 1 0 1 25 0 14 0 13 0-81 1 61 0 7 0-27 1 1 0 13 0-1 1 20 0-21 1-53 1 8 0 28 0-18 1 52 0-40 1 26 0 36 0-26 1 22 0-38 1 5 0 30 0 19 0-82 1 50 0-61 1 12 0 63 0-69 1 10 0 19 0-7 1 35 1-70 1 20 0 22 0-47 2 15 1 55 0 38 0-107 2 67 1 6 0-70 1 5 1 5 0-3 1 23 0 4 0 91 0-70 1-29 1 4 0 12 2 85 0-132 1 9 0 12 0-23 2 3 0 89 0-67 1 4 0 15 1 1 2-44 1 109 0-66 1 11 0 27 0-78 2 38 0 31 1 3 0-1 3-32 1-29 2-8 2 51 0-37 1 36 0 20 0-2 1-57 1 54 0-50 1-5 1-6 2 7 0-3 1 3 0 286-218 57 2 8 4-68 9-6 20 31 3 9 9-34 2 16 3 3 3 30 0-38 3 86 0 19 3-161 2 129 3-101 4-21 5 22 0 52 2-73 1 103 1-20 2-41 2-19 3 52 1 15 0-50 2 21 1-61 2 140 0-74 1-2 4-93 1 53 4-40 2 89 0 68 3-120 3 84 0-42 4-1 4 80 2-126 2-6 5 61 4 0 6-60 6 27 1 37 1-85 5 8 12-14 11-20 24 13 9" class="mk" style="marker:url(#m6)" opacity="0.6"/>
<path d="M1194.1 818.0C1196.7 819.0 1200.0 822.5 1202.7 825.1C1205.3 827.7 1207.6 830.8 1209.8 833.6C1211.9 836.5 1213.8 838.8 1215.5 842.1C1217.1 845.4 1218.7 849.9 1219.7 853.5C1220.8 857.0 1221.6 859.9 1221.7 863.4C1221.9 866.9 1221.2 870.7 1220.6 874.7C1219.9 878.7 1218.7 883.2 1217.7 887.5C1216.8 891.7 1215.8 895.8 1214.9 900.2C1213.9 904.7 1212.4 909.7 1212.0 914.4C1211.7 919.1 1212.0 923.9 1212.6 928.6C1213.2 933.3 1214.9 937.6 1215.5 942.8C1216.0 948.0 1215.9 954.6 1216.0 959.8C1216.1 965.0 1215.9 969.2 1216.0 973.9C1216.2 978.7 1216.3 983.6 1216.9 988.1C1217.5 992.6 1218.3 996.9 1219.7 1000.9C1221.2 1004.9 1223.9 1008.9 1225.4 1012.2C1227.0 1015.5 1228.6 1017.6 1229.1 1020.7C1229.6 1023.8 1228.9 1027.6 1228.3 1030.6C1227.7 1033.7 1227.3 1037.0 1225.4 1039.1C1223.5 1041.3 1219.7 1041.7 1216.9 1043.4C1214.0 1045.0 1211.0 1047.4 1208.3 1049.1C1205.7 1050.7 1203.4 1054.3 1201.2 1053.3C1199.1 1052.4 1197.9 1045.3 1195.5 1043.4C1193.2 1041.5 1190.1 1042.2 1187.0 1042.0C1183.9 1041.7 1179.9 1041.0 1177.0 1042.0C1174.2 1042.9 1172.3 1045.7 1169.9 1047.6C1167.6 1049.5 1165.7 1051.9 1162.8 1053.3C1160.0 1054.7 1156.2 1055.9 1152.9 1056.1C1149.5 1056.4 1146.2 1055.4 1142.9 1054.7C1139.6 1054.0 1136.3 1052.9 1132.9 1051.9C1129.6 1050.8 1125.8 1048.7 1123.0 1048.5C1120.1 1048.3 1118.5 1049.2 1115.9 1050.5C1113.2 1051.7 1110.4 1054.7 1107.3 1056.1C1104.2 1057.6 1100.7 1059.0 1097.4 1059.0C1094.0 1059.0 1090.6 1057.3 1087.4 1056.1C1084.2 1055.0 1079.7 1054.7 1078.3 1051.9C1076.9 1049.1 1078.4 1043.6 1078.9 1039.1C1079.3 1034.6 1080.7 1029.7 1081.1 1025.0C1081.6 1020.2 1081.6 1016.0 1081.7 1010.8C1081.8 1005.6 1081.3 999.9 1081.7 993.8C1082.1 987.6 1083.3 980.1 1084.0 973.9C1084.7 967.8 1085.2 962.6 1086.0 956.9C1086.8 951.3 1087.9 944.7 1088.8 939.9C1089.8 935.2 1090.2 932.4 1091.7 928.6C1093.1 924.8 1095.5 921.3 1097.4 917.3C1099.3 913.2 1101.2 908.0 1103.1 904.5C1104.9 901.0 1106.8 898.8 1108.7 896.0C1110.6 893.2 1112.1 890.3 1114.4 887.5C1116.8 884.7 1120.4 881.6 1123.0 879.0C1125.6 876.4 1127.5 874.3 1130.1 871.9C1132.7 869.5 1136.5 866.5 1138.6 864.8C1140.8 863.2 1143.1 863.4 1142.9 862.0C1142.7 860.6 1138.0 858.7 1137.2 856.3C1136.4 853.9 1137.3 850.4 1138.1 847.8C1138.8 845.2 1140.2 842.1 1141.5 840.7C1142.8 839.3 1143.4 839.3 1145.7 839.3C1148.1 839.3 1152.1 842.1 1155.7 840.7C1159.3 839.3 1163.5 833.6 1167.1 830.8C1170.6 828.0 1173.7 825.6 1177.0 823.7C1180.4 821.8 1184.2 820.4 1187.0 819.5C1189.9 818.5 1191.5 817.1 1194.1 818.0Z" fill="none" stroke="#dcdcdc" stroke-width="3" stroke-dasharray="2.9 2.5"/>
<path d="M1416.1 813.8C1419.9 814.0 1422.5 816.4 1426.1 818.0C1429.6 819.7 1433.9 821.8 1437.4 823.7C1441.0 825.6 1444.1 826.8 1447.4 829.4C1450.7 832.0 1454.3 836.0 1457.4 839.3C1460.4 842.6 1463.1 845.7 1465.9 849.2C1468.7 852.8 1472.1 856.8 1474.4 860.6C1476.8 864.3 1478.0 868.8 1480.1 871.9C1482.3 875.0 1484.6 876.6 1487.2 879.0C1489.9 881.3 1493.4 883.2 1495.8 886.1C1498.2 888.9 1499.6 892.7 1501.5 896.0C1503.4 899.3 1505.5 902.8 1507.2 905.9C1508.8 909.0 1510.5 910.6 1511.4 914.4C1512.4 918.2 1512.4 923.9 1512.9 928.6C1513.3 933.3 1514.0 938.0 1514.3 942.8C1514.5 947.5 1514.5 952.2 1514.3 956.9C1514.0 961.7 1513.8 967.3 1512.9 971.1C1511.9 974.9 1511.0 977.7 1508.6 979.6C1506.2 981.5 1502.4 981.5 1498.6 982.4C1494.8 983.4 1490.3 984.3 1485.8 985.3C1481.3 986.2 1476.3 987.3 1471.6 988.1C1466.8 989.0 1462.1 989.5 1457.4 990.4C1452.6 991.2 1447.9 992.3 1443.1 993.2C1438.4 994.2 1433.2 995.7 1428.9 996.0C1424.6 996.4 1419.9 996.0 1417.5 995.2C1415.1 994.3 1414.4 992.6 1414.7 990.9C1414.9 989.3 1418.2 986.9 1418.9 985.3C1419.7 983.6 1420.6 981.1 1418.9 981.0C1417.3 980.9 1412.1 984.2 1409.0 984.7C1405.9 985.2 1403.3 983.3 1400.4 983.9C1397.6 984.4 1394.8 986.6 1391.9 988.1C1389.1 989.7 1386.2 991.3 1383.4 993.2C1380.5 995.1 1377.4 997.0 1374.8 999.5C1372.2 1001.9 1370.3 1005.4 1367.7 1008.0C1365.1 1010.6 1362.0 1012.7 1359.2 1015.0C1356.3 1017.4 1353.5 1019.5 1350.6 1022.1C1347.8 1024.7 1345.0 1027.8 1342.1 1030.6C1339.3 1033.5 1336.4 1036.5 1333.6 1039.1C1330.7 1041.7 1327.9 1043.9 1325.0 1046.2C1322.2 1048.6 1319.3 1051.2 1316.5 1053.3C1313.6 1055.4 1310.6 1057.6 1308.0 1059.0C1305.3 1060.4 1303.9 1061.6 1300.8 1061.8C1297.8 1062.0 1292.9 1061.0 1289.5 1060.4C1286.0 1059.8 1281.7 1060.5 1280.3 1058.4C1279.0 1056.3 1281.0 1051.3 1281.5 1047.6C1282.0 1044.0 1282.1 1040.6 1283.2 1036.3C1284.3 1032.0 1286.3 1026.6 1288.0 1022.1C1289.8 1017.6 1291.8 1013.6 1293.7 1009.4C1295.6 1005.1 1297.8 1001.1 1299.4 996.6C1301.1 992.1 1302.3 987.2 1303.7 982.4C1305.1 977.7 1306.5 973.0 1308.0 968.3C1309.4 963.5 1311.0 958.8 1312.2 954.1C1313.4 949.4 1314.1 944.7 1315.1 939.9C1316.0 935.2 1316.6 930.0 1317.9 925.8C1319.2 921.5 1321.1 918.2 1323.0 914.4C1324.9 910.6 1327.1 906.6 1329.3 903.1C1331.5 899.5 1334.0 896.5 1336.4 893.2C1338.8 889.9 1340.9 886.5 1343.5 883.2C1346.1 879.9 1349.2 876.6 1352.1 873.3C1354.9 870.0 1358.0 866.7 1360.6 863.4C1363.2 860.1 1365.3 856.8 1367.7 853.5C1370.1 850.2 1372.2 846.9 1374.8 843.6C1377.4 840.2 1380.3 836.9 1383.4 833.6C1386.5 830.3 1390.0 826.5 1393.3 823.7C1396.7 820.9 1399.5 818.3 1403.3 816.6C1407.1 815.0 1412.3 813.6 1416.1 813.8Z" fill="none" stroke="#dcdcdc" stroke-width="3" stroke-dasharray="2.9 2.5"/>
<text x="1263.7" y="840.0" font-size="28" fill="#e87848" textLength="66.0" lengthAdjust="spacingAndGlyphs">Fib-6</text>
<rect x="1558.0" y="801.0" width="476.8" height="270.8" fill="#040102"/>
<path d="M1683 835l-5 1 19 10-25 2-27 7 37 4-1 1-32 1 46 0-41 10-16 1 27 5-29 3 36 0 18 0-61 1 15 0 44 0-61 1 18 0-22 1 4 0 16 0-6 1 27 0-31 1-2 1 32 0 4 0 22 0-22 1-27 1-15 1 5 0-6 1 5 0 21 0 12 0-24 1 3 0 19 0 9 0-48 1 22 0 13 0 5 0 20 0-9 1 6 0 1 0 3 0-43 1 27 0 13 0-56 1 68 0 23 0-74 1 18 0 21 0 26 0-80 1 53 0 5 0 22 1-88 1 8 0 48 0 14 0-10 1-48 1 41 0 16 0-67 1 10 0 41 0-7 1 20 0-64 1 4 0 52 0-55 1 14 0 4 0 67 0-69 1-20 1 19 0-7 1 8 0 14 0 9 0-23 1 5 0 13 0-45 1 17 0 11 0 3 0 16 0-46 1 15 0 17 0 2 0 5 0 9 0-21 1 7 0 16 0-51 1 25 0 20 0-54 1 13 0 6 0 13 0 9 0 16 0-49 1 11 0 47 0-40 1 37 0-58 1 25 0 4 0 9 0 3 0-39 2 9 0 19 0 4 0 4 0 10 0-17 1 2 0 45 0 2 0-77 1 5 0 4 0 2 0 10 0 12 0 10 1 15 0 17 0-51 1 3 0 26 0-44 1 3 0 3 0 46 0 25 0-99 1 31 0 7 0 34 0-14 1 13 0-69 1 1 0 23 0 1 0 2 0 37 0 24 0-52 1 26 0-34 1 7 0 16 0-48 1 38 0 14 0 40 0-75 1 23 0-17 1 3 0 6 0 1 0 7 0 13 0 3 0 35 0-71 1 19 0 6 0 16 0 21 0-89 1 10 0 3 0 15 0 5 0 3 0 8 0 7 0 4 0 9 0 41 0-44 1-18 1 6 0 11 0 5 0-36 1 26 0 8 0 2 0 2 0-68 1 26 0 4 0 3 0 1 0 16 0 6 0-42 1 11 0 8 0 8 0 8 0-10 1 11 0 12 0 1 0-58 1 24 0-25 1 20 0 14 0 23 0-38 1 63 0 29 0-65 1 8 0-52 1 17 0 1 0 22 0 2 0 40 0 4 0 29 0-120 1 24 0 6 0 25 0 5 0-59 1 7 0 7 0 30 0 14 0 6 0-60 1 10 0 31 0-30 1 4 0 4 0 2 0 2 0 21 0 34 0-86 1 19 0 41 0 2 0 9 0 6 0-75 1 30 0 26 0-52 1 49 0 2 0-52 1 16 0 4 0 13 0 19 0 10 0-70 1 68 0 2 0 14 0-74 1 18 0 14 0 24 0-58 1 52 0-23 1 2 0 35 0 24 0 3 0-90 1 2 0 26 0 10 0 49 0 8 0-77 1 14 0 5 0 14 0 14 0-50 1 1 0 12 0 22 0 20 0-40 1 3 0 31 0-54 1 1 0 16 0 15 0 2 0-53 1 18 0 34 0 22 0 1 0 45 0-123 1 16 0 7 0-24 1 92 0 33 0-74 1 3 0 2 0 17 0 10 0 39 0-107 1 1 0 29 0 38 0 9 0-77 1 46 0 11 0 13 0 3 0-46 1 17 0-20 1 8 0 22 0 22 0 5 0-4 1 1 0 3 1-41 1 1 0 7 0 5 0-48 1 1 1 24 0 4 0 19 0 22 0-50 1 24 0 4 0 17 0 4 0 27 0-72 1 26 0 23 0-75 1 40 0 14 0 3 0 7 0 16 0 19 0-56 1 6 0 27 0-80 1 43 0 7 0 38 0-49 1 55 0-85 1 28 0 8 0 1 0 44 0 27 0-65 1 28 1-82 1 11 0 18 0 18 0 8 0-50 1 34 0 38 0 12 0-61 1 19 0-22 1 28 0 4 0-24 1 12 0 8 0 24 0 6 0-54 1 7 0 19 0 18 0-42 1 26 0 9 0-69 1 35 0 6 0 3 0 5 0 21 0 4 0 30 0-101 1 29 0 53 0 2 0 6 0 28 0-105 1 15 0 35 0 10 0-46 1 34 0 3 0 7 0 3 0-57 1 14 0 8 0 74 0-119 1 56 0 17 0 27 0-66 1 7 0 15 0 14 0 27 0 26 0-119 1 31 0 21 0 40 0-72 1 45 0 30 0-76 1-4 1 79 0-103 1 35 0 60 0 6 0-77 1 7 0 7 0 44 0 41 0-106 1 64 0-67 1 14 0 38 0 55 0-103 1 3 0 1 0 98 0-83 1 2 0 4 0 68 0-84 2 35 0-28 1 23 0 9 0 64 0 10 1-144 1 5 0 31 0 20 0 12 0 37 0-48 1 50 0-106 1 29 0-30 1 103 0-99 1 21 0 41 0-38 1 65 0-30 1-41 1 38 0-55 1 56 0 4 0 2 0 76 0-117 1 29 0 9 0 5 0 2 0 42 0-107 1 20 0 50 0 30 0-30 1 35 0-86 1 40 0 4 0 6 0 31 0-44 1-34 1 21 0 13 0 41 0-74 1 69 0 11 0 3 0-88 1 3 0 79 0-83 1 9 0 33 0 47 0 9 0-87 1 33 0-18 1 27 0 19 0-61 1 13 1 14 0 18 0 7 0 6 0 6 0-78 1 63 0 4 0 4 0-72 1 32 0 31 0 41 0 1 0-105 1 25 0 4 0 25 0 9 0-31 1 19 0 5 0 7 0 8 0-92 1 9 0 36 0 9 0 19 0 2 0 13 0 7 0 5 0 24 0-118 1 1 0 67 0 2 0 9 0 1 0 10 0 26 0-104 1 3 0 1 0 10 0 1 0 47 0 40 0-114 1 10 0 51 0 4 0 3 0-73 1 7 0 6 0 5 0 7 0 9 0 14 0 4 0 16 0 4 0 11 0-81 1 40 0 38 0 6 0 4 0 2 0-93 1 1 0 2 0 5 0 33 0 31 0 8 0 1 0-66 1 1 0 24 0 6 0 2 0 19 0-60 1 12 0 27 0 9 0 20 0 8 0-38 1 37 0-83 1 58 0 18 0 6 0-19 1 11 0-57 1 13 0 44 0 4 0 4 0-76 1 29 0 42 0-69 1 11 0-9 1 21 0-19 1 3 0-3 1 327-241 5 4-5 3-24 3 19 1 23 1-36 2 3 1 32 1 3 1-20 1 20 0-38 1 23 0 8 0-13 1 6 1 6 0-32 2 20 0 1 0 12 1-26 1 16 1 1 1 3 0-3 1 5 0 16 0-17 3 11 0-48 6 40 0 1 0-27 1 9 0 10 0-27 2 34 2-51 1 54 0-16 1 6 0-16 1 19 0 16 0-65 1 49 0-42 3-11 3 49 0-53 1 24 0 12 1 13 0 21 0-23 1 9 0 51 0-63 1 1 0 3 0 4 0-1 1 2 0 1 0-52 1 55 0 7 0 5 0-37 1 7 1 12 0 5 0-69 1 1 0 46 0 14 0 10 0 39 0-84 1 45 0 8 0 1 0-31 1 11 0 20 0 6 0-6 1-2 1 8 0-89 1 86 0 37 0-119 1 43 0 3 0 13 0 45 0-70 1 19 0 30 0 19 0-46 1 23 0 5 0 7 0-37 1 27 0 31 0-119 1 57 0 23 0 6 0-8 1 39 0-72 1 27 0 10 0 1 0 17 0-97 1 129 0-80 1 15 0 8 0 14 0 40 0 4 0-65 1 9 0-33 1 90 0 16 0-119 1 36 0 20 0-95 1 43 0 26 0 22 0-13 1 13 0 11 0 21 0-29 1 6 0-59 1 9 0 96 0-84 1 3 0 30 0 2 0-37 1 1 0-3 1 5 0 4 0-20 1 50 0-50 1 46 0 58 0-43 1-44 1-16 1 26 0 63 0-65 1 3 0 3 0-80 1 47 0-33 1 55 0 8 0 2 0 3 0 3 0-19 1 2 0 1 0 1 0 4 0 20 0 6 0 8 0-67 1 36 0 1 0 3 0-20 1 1 0 1 0 16 0 17 0 6 0-43 1 1 0 9 0 13 0 9 0-34 1 1 0 5 0 34 0 26 0-89 1 44 0-7 1 10 0 78 0-113 1 11 0 11 0 5 0 6 0 22 0-44 1 5 0 3 0 2 0 1 0 13 0 5 0 1 0-93 1 54 0 3 0 10 0 1 0 2 0 10 0 25 0 3 0 19 0-57 1 3 0 21 0 2 0-79 1 56 0 4 0 1 1 1 0-23 1 2 0 1 0 4 0 4 0 23 0-51 1 7 0 28 0 4 0 1 0 90 0 12 0-102 1 19 0-39 1 5 0 13 0-25 1 17 0 23 0 15 0-101 1 40 2 25 0 15 1 2 0-33 1-37 1 24 0 6 0 13 0 8 0 5 0 1 1 85 0-122 1 12 0 5 1 50 0 24 0-141 1 64 0 36 0 47 0 6 0-100 1 5 0 2 0 3 0 14 0 101 0-110 1 4 0 3 0 13 0-23 1 2 0 18 0-75 1 151 0-91 1 3 0 11 0 77 0-105 1 32 0-53 1 28 0 33 2 64 0-101 1 7 0 2 0 5 0-58 1 50 0 127 0-119 2 12 0 18 0 56 0-111 1 12 0 8 0 5 0 3 0 108 0-132 1 9 0 13 0-17 1 17 0-14 2 6 0 66 0-78 1 2 0 18 0 6 0-2 1 2 0 2 0-70 1 43 0 22 0 1 0 25 0 60 0-151 1 144 0-91 1 17 0 17 0-28 2-78 1 65 1 23 0 19 1-74 2 8 0 21 0 24 0 25 0 17 0-64 1 14 0-9 1 16 0 77 0-152 1 56 0 0 2 7 0 40 0-35 2-13 1 15 0 93 0-108 1 53 1-72 1 4 0 131 1-170 2 42 1-2 1-55 1 174 0-100 1 92 0-116 2 7 0-32 1 31 1-38 1 36 0-50 2 126 0-133 1 23 0 33 0-14 7-4 3-2 2 6 6 1 2-31 6-27 8 0 1 30 2 20 3-56 6" class="mk" style="marker:url(#m7)"/>
<path d="M1677 856l8 6 8 12-45 3-21 1 6 4 29 0-30 5 8 0 5 1 12 1 14 0 6 0 30 0-50 1-26 1 26 0 28 0 10 0-49 1-12 1 16 0 14 1 13 2-2 1-45 3 46 0 13 0-12 1 14 0 23 0-33 2 6 0-52 1 4 1 29 0-51 3 46 0-4 1-43 1 2 0 24 0 25 0-44 2 33 0-24 1 1 1 76 0-80 1 31 0-53 1 34 0-20 1 18 0 1 0 15 0 25 0-71 1 6 0 66 0-64 1 12 0 3 0-31 2 37 0-32 1 10 0 80 1-77 1 41 0-45 2 12 0-26 1 67 0-50 2 4 1-29 1 34 0 6 0 51 0-76 2 36 0 16 1-66 1 25 0-18 1 26 0 22 0 3 0-50 1 28 0 5 0 10 0-24 1 32 0 21 0-27 2 41 0-90 2 26 0 28 1 5 0-8 1 30 0-55 1 30 0-47 1 45 0 26 1-84 1 1 1 1 0 16 0 35 0 2 0-59 2 67 1-25 1 57 0-78 1-25 1 15 0 59 0 30 0-39 1-36 1-28 2 11 0 8 0 1 0 66 0-62 2 4 2 87 0-74 1 11 0 30 2 5 0 4 0-76 2 62 0 10 0-33 2 6 0 24 0-54 1 32 1 25 0-31 1 11 0 8 0 0 1 13 0 2 1-27 1 45 0-19 2-71 2 38 0 4 0 4 0-11 2 53 0 3 0-90 1 39 0 2 0 40 0-56 1 9 0-7 1 4 3 41 0-5 1 8 1-41 1 6 0 23 0-28 1 9 0-21 1 10 0 2 0 23 1 8 1-54 1 14 0-28 1 62 1 2 0-43 1-12 1 3 0 41 0 36 1-36 1-52 1 67 0-87 1 20 0 9 1-15 1 44 0 59 0-87 1 1 0 77 0-2 1-75 1 9 0 97 0-109 3-30 1 70 1 27 0-34 1 2 1 72 0-132 1 16 0 10 1 30 0 47 0 6 0-53 2 2 1 14 0-77 1 44 0 62 3-106 1 66 0-38 1 1 1 34 0 6 0 10 0-32 1 46 2-3 3 7 1-99 1 54 0 2 0 72 0-74 1 22 0 16 0-32 1 12 0 5 0 5 0 16 0-91 1 16 1 37 0 16 0-31 1 25 0 8 0 55 0-123 1 0 1 13 0 7 0-17 1 14 0 55 0 2 0-51 1 54 0-45 1 43 0-88 1 87 0-74 1 38 0 26 0-61 1 40 1 23 0-8 2-56 1 0 1 56 0-63 1 311-232 21 0-16 9 23 1-6 4 11 0-8 2 2 2-3 1 3 1 14 0-4 1-2 1 19 0-15 1-2 1-1 7-10 1 5 0-33 4 35 1-7 7-6 3 6 0 12 1-21 1 0 1 5 0 2 0 38 0-44 1-2 1 6 1 3 0 30 0-40 3 10 0 11 0 43 1-65 1 43 0-15 4-83 1 53 0 17 0 2 1 10 1-29 1 6 1 21 0-6 4-38 1 6 0 6 1 1 1-4 1 12 1 31 2 55 0-27 1-74 1 38 1-20 1 19 0-24 2 32 0 29 0-60 1 2 0 1 0 0 1 21 0-28 1 13 1 24 0-42 3-8 1-16 1 13 0 14 0-20 1 13 0 18 1 6 0-16 1 10 0-35 2 23 0 11 0-34 1 43 0 85 0-177 2 58 0 10 3 61 0-38 1-32 1 111 0-126 1 89 1-51 3 5 0-82 1 78 1-21 1 79 0-83 1 23 0-31 4 10 0-10 2-64 2 62 0 97 0-97 1 2 0 5 0 3 0-9 1 6 0 2 0 1 0 4 0 24 0 16 0-42 1 12 0-15 1 32 0-37 1 17 0-4 1 2 0-23 1 23 0 78 6-57 1-16 2 29 0 37 0 26 3-2 3-100 1-6 1 31 1 10 0-41 1 63 2-72 2 13 2-12 2-37 1 111 9-99 1 10 1-40 2-16 2 55 0-15 1-25 2-3 1-16 5-10 8 3 5-8 10" class="mk" style="marker:url(#m7)" opacity="0.6"/>
<path d="M1694.5 818.0C1697.2 819.0 1700.5 822.5 1703.1 825.1C1705.8 827.7 1708.2 830.8 1710.3 833.6C1712.4 836.5 1714.4 838.8 1716.0 842.1C1717.7 845.4 1719.3 849.9 1720.3 853.5C1721.4 857.0 1722.2 859.9 1722.3 863.4C1722.5 866.9 1721.8 870.7 1721.2 874.7C1720.5 878.7 1719.3 883.2 1718.3 887.5C1717.4 891.7 1716.4 895.8 1715.5 900.2C1714.5 904.7 1713.0 909.7 1712.6 914.4C1712.2 919.1 1712.6 923.9 1713.2 928.6C1713.7 933.3 1715.5 937.6 1716.0 942.8C1716.6 948.0 1716.5 954.6 1716.6 959.8C1716.7 965.0 1716.5 969.2 1716.6 973.9C1716.7 978.7 1716.8 983.6 1717.5 988.1C1718.1 992.6 1718.9 996.9 1720.3 1000.9C1721.8 1004.9 1724.5 1008.9 1726.0 1012.2C1727.6 1015.5 1729.3 1017.6 1729.8 1020.7C1730.2 1023.8 1729.5 1027.6 1728.9 1030.6C1728.3 1033.7 1728.0 1037.0 1726.0 1039.1C1724.1 1041.3 1720.3 1041.7 1717.5 1043.4C1714.6 1045.0 1711.5 1047.4 1708.9 1049.1C1706.2 1050.7 1703.9 1054.3 1701.7 1053.3C1699.6 1052.4 1698.4 1045.3 1696.0 1043.4C1693.6 1041.5 1690.5 1042.2 1687.4 1042.0C1684.3 1041.7 1680.2 1041.0 1677.4 1042.0C1674.5 1042.9 1672.6 1045.7 1670.2 1047.6C1667.8 1049.5 1665.9 1051.9 1663.1 1053.3C1660.2 1054.7 1656.4 1055.9 1653.0 1056.1C1649.7 1056.4 1646.4 1055.4 1643.0 1054.7C1639.7 1054.0 1636.3 1052.9 1633.0 1051.9C1629.6 1050.8 1625.8 1048.7 1623.0 1048.5C1620.1 1048.3 1618.4 1049.2 1615.8 1050.5C1613.2 1051.7 1610.3 1054.7 1607.2 1056.1C1604.1 1057.6 1600.5 1059.0 1597.2 1059.0C1593.9 1059.0 1590.4 1057.3 1587.2 1056.1C1584.0 1055.0 1579.4 1054.7 1578.0 1051.9C1576.6 1049.1 1578.1 1043.6 1578.6 1039.1C1579.1 1034.6 1580.4 1029.7 1580.9 1025.0C1581.4 1020.2 1581.4 1016.0 1581.4 1010.8C1581.5 1005.6 1581.1 999.9 1581.4 993.8C1581.8 987.6 1583.0 980.1 1583.7 973.9C1584.5 967.8 1584.9 962.6 1585.7 956.9C1586.6 951.3 1587.7 944.7 1588.6 939.9C1589.6 935.2 1590.0 932.4 1591.5 928.6C1592.9 924.8 1595.3 921.3 1597.2 917.3C1599.1 913.2 1601.0 908.0 1602.9 904.5C1604.8 901.0 1606.7 898.8 1608.7 896.0C1610.6 893.2 1612.0 890.3 1614.4 887.5C1616.8 884.7 1620.3 881.6 1623.0 879.0C1625.6 876.4 1627.5 874.3 1630.1 871.9C1632.8 869.5 1636.6 866.5 1638.7 864.8C1640.9 863.2 1643.2 863.4 1643.0 862.0C1642.8 860.6 1638.1 858.7 1637.3 856.3C1636.5 853.9 1637.4 850.4 1638.1 847.8C1638.9 845.2 1640.3 842.1 1641.6 840.7C1642.9 839.3 1643.5 839.3 1645.9 839.3C1648.3 839.3 1652.3 842.1 1655.9 840.7C1659.5 839.3 1663.8 833.6 1667.3 830.8C1670.9 828.0 1674.0 825.6 1677.4 823.7C1680.7 821.8 1684.5 820.4 1687.4 819.5C1690.3 818.5 1691.9 817.1 1694.5 818.0Z" fill="none" stroke="#dcdcdc" stroke-width="3" stroke-dasharray="2.9 2.5"/>
<path d="M1917.9 813.8C1921.7 814.0 1924.3 816.4 1927.9 818.0C1931.5 819.7 1935.8 821.8 1939.4 823.7C1942.9 825.6 1946.0 826.8 1949.4 829.4C1952.7 832.0 1956.3 836.0 1959.4 839.3C1962.5 842.6 1965.1 845.7 1968.0 849.2C1970.9 852.8 1974.2 856.8 1976.6 860.6C1979.0 864.3 1980.2 868.8 1982.3 871.9C1984.5 875.0 1986.8 876.6 1989.5 879.0C1992.1 881.3 1995.7 883.2 1998.1 886.1C2000.4 888.9 2001.9 892.7 2003.8 896.0C2005.7 899.3 2007.8 902.8 2009.5 905.9C2011.2 909.0 2012.9 910.6 2013.8 914.4C2014.8 918.2 2014.8 923.9 2015.2 928.6C2015.7 933.3 2016.4 938.0 2016.7 942.8C2016.9 947.5 2016.9 952.2 2016.7 956.9C2016.4 961.7 2016.2 967.3 2015.2 971.1C2014.3 974.9 2013.3 977.7 2010.9 979.6C2008.6 981.5 2004.7 981.5 2000.9 982.4C1997.1 983.4 1992.6 984.3 1988.0 985.3C1983.5 986.2 1978.5 987.3 1973.7 988.1C1968.9 989.0 1964.2 989.5 1959.4 990.4C1954.6 991.2 1949.9 992.3 1945.1 993.2C1940.3 994.2 1935.1 995.7 1930.8 996.0C1926.5 996.4 1921.7 996.0 1919.3 995.2C1916.9 994.3 1916.2 992.6 1916.5 990.9C1916.7 989.3 1920.0 986.9 1920.7 985.3C1921.5 983.6 1922.4 981.1 1920.7 981.0C1919.1 980.9 1913.8 984.2 1910.7 984.7C1907.6 985.2 1905.0 983.3 1902.1 983.9C1899.3 984.4 1896.4 986.6 1893.5 988.1C1890.7 989.7 1887.8 991.3 1885.0 993.2C1882.1 995.1 1879.0 997.0 1876.4 999.5C1873.7 1001.9 1871.8 1005.4 1869.2 1008.0C1866.6 1010.6 1863.5 1012.7 1860.6 1015.0C1857.8 1017.4 1854.9 1019.5 1852.0 1022.1C1849.2 1024.7 1846.3 1027.8 1843.4 1030.6C1840.6 1033.5 1837.7 1036.5 1834.9 1039.1C1832.0 1041.7 1829.1 1043.9 1826.3 1046.2C1823.4 1048.6 1820.5 1051.2 1817.7 1053.3C1814.8 1055.4 1811.7 1057.6 1809.1 1059.0C1806.5 1060.4 1805.0 1061.6 1801.9 1061.8C1798.8 1062.0 1793.9 1061.0 1790.5 1060.4C1787.0 1059.8 1782.6 1060.5 1781.3 1058.4C1780.0 1056.3 1782.0 1051.3 1782.5 1047.6C1782.9 1044.0 1783.1 1040.6 1784.2 1036.3C1785.3 1032.0 1787.3 1026.6 1789.0 1022.1C1790.8 1017.6 1792.9 1013.6 1794.8 1009.4C1796.7 1005.1 1798.8 1001.1 1800.5 996.6C1802.2 992.1 1803.4 987.2 1804.8 982.4C1806.2 977.7 1807.6 973.0 1809.1 968.3C1810.5 963.5 1812.2 958.8 1813.4 954.1C1814.6 949.4 1815.3 944.7 1816.2 939.9C1817.2 935.2 1817.8 930.0 1819.1 925.8C1820.4 921.5 1822.3 918.2 1824.3 914.4C1826.2 910.6 1828.3 906.6 1830.6 903.1C1832.8 899.5 1835.3 896.5 1837.7 893.2C1840.1 889.9 1842.2 886.5 1844.9 883.2C1847.5 879.9 1850.6 876.6 1853.5 873.3C1856.3 870.0 1859.4 866.7 1862.1 863.4C1864.7 860.1 1866.8 856.8 1869.2 853.5C1871.6 850.2 1873.7 846.9 1876.4 843.6C1879.0 840.2 1881.9 836.9 1885.0 833.6C1888.1 830.3 1891.6 826.5 1895.0 823.7C1898.3 820.9 1901.2 818.3 1905.0 816.6C1908.8 815.0 1914.1 813.6 1917.9 813.8Z" fill="none" stroke="#dcdcdc" stroke-width="3" stroke-dasharray="2.9 2.5"/>
<text x="1767.5" y="838.8" font-size="28" fill="#d84030" textLength="66.0" lengthAdjust="spacingAndGlyphs">Fib-8</text>
<text x="1899.4" y="1049.4" font-size="26" fill="#fff" textLength="84.4" lengthAdjust="spacingAndGlyphs">200 &#181;m</text>
<rect x="1925.0" y="1056.8" width="34.0" height="5.8" fill="#fff"/>
<text x="0.0" y="1142.5" font-size="40" fill="#1a1110" font-weight="bold">d</text>
<text x="224.7" y="1149.7" font-size="25" fill="#000" text-anchor="middle">Fib-1</text>
<text transform="translate(20.0,1282.0) rotate(-90)" font-size="23" text-anchor="middle" textLength="155" lengthAdjust="spacingAndGlyphs">Percentage/%</text>
<rect x="119.0" y="1220.2" width="49.1" height="196.5" fill="#9f86c0" stroke="#2e2548" stroke-width="1.8"/>
<rect x="196.8" y="1256.0" width="49.1" height="160.8" fill="#30b7ee" stroke="#2a6fb5" stroke-width="1.8"/>
<rect x="274.6" y="1243.7" width="49.5" height="173.1" fill="#72bfc6" stroke="#1f7a7a" stroke-width="1.8"/>
<line x1="91.4" y1="1174.7" x2="91.4" y2="1417.0" stroke="#000" stroke-width="2"/>
<line x1="83.8" y1="1416.0" x2="352.5" y2="1416.0" stroke="#000" stroke-width="2"/>
<line x1="83.4" y1="1175.7" x2="91.4" y2="1175.7" stroke="#000" stroke-width="2"/>
<text x="68.0" y="1184.0" font-size="23" fill="#000" text-anchor="end">50</text>
<line x1="83.4" y1="1224.1" x2="91.4" y2="1224.1" stroke="#000" stroke-width="2"/>
<text x="68.0" y="1232.4" font-size="23" fill="#000" text-anchor="end">40</text>
<line x1="83.4" y1="1272.2" x2="91.4" y2="1272.2" stroke="#000" stroke-width="2"/>
<text x="68.0" y="1280.5" font-size="23" fill="#000" text-anchor="end">30</text>
<line x1="83.4" y1="1320.2" x2="91.4" y2="1320.2" stroke="#000" stroke-width="2"/>
<text x="68.0" y="1328.5" font-size="23" fill="#000" text-anchor="end">20</text>
<line x1="83.4" y1="1368.3" x2="91.4" y2="1368.3" stroke="#000" stroke-width="2"/>
<text x="68.0" y="1376.6" font-size="23" fill="#000" text-anchor="end">10</text>
<line x1="143.3" y1="1416.0" x2="143.3" y2="1423.5" stroke="#000" stroke-width="2"/>
<text x="143.3" y="1458.0" font-size="24" fill="#000" text-anchor="middle">HG</text>
<line x1="221.0" y1="1416.0" x2="221.0" y2="1423.5" stroke="#000" stroke-width="2"/>
<text x="221.0" y="1458.0" font-size="24" fill="#000" text-anchor="middle">P</text>
<line x1="299.3" y1="1416.0" x2="299.3" y2="1423.5" stroke="#000" stroke-width="2"/>
<text x="299.3" y="1458.0" font-size="24" fill="#000" text-anchor="middle">SP</text>
<line x1="143.3" y1="1208.0" x2="302.7" y2="1208.0" stroke="#000" stroke-width="1.6"/>
<text x="222.0" y="1203.3" font-size="23" fill="#000" text-anchor="middle">ns</text>
<text x="593.5" y="1149.7" font-size="25" fill="#000" text-anchor="middle">Fib-2</text>
<text transform="translate(396.5,1282.0) rotate(-90)" font-size="23" text-anchor="middle" textLength="155" lengthAdjust="spacingAndGlyphs">Percentage/%</text>
<rect x="483.4" y="1359.8" width="50.3" height="56.5" fill="#9f86c0" stroke="#2e2548" stroke-width="1.8"/>
<rect x="562.8" y="1188.8" width="50.5" height="227.5" fill="#30b7ee" stroke="#2a6fb5" stroke-width="1.8"/>
<rect x="642.4" y="1270.0" width="50.8" height="146.3" fill="#72bfc6" stroke="#1f7a7a" stroke-width="1.8"/>
<line x1="455.8" y1="1168.3" x2="455.8" y2="1416.5" stroke="#000" stroke-width="2"/>
<line x1="448.6" y1="1415.5" x2="722.0" y2="1415.5" stroke="#000" stroke-width="2"/>
<line x1="447.8" y1="1169.3" x2="455.8" y2="1169.3" stroke="#000" stroke-width="2"/>
<text x="436.6" y="1177.6" font-size="23" fill="#000" text-anchor="end">3</text>
<line x1="447.8" y1="1251.8" x2="455.8" y2="1251.8" stroke="#000" stroke-width="2"/>
<text x="436.6" y="1260.1" font-size="23" fill="#000" text-anchor="end">2</text>
<line x1="447.8" y1="1333.8" x2="455.8" y2="1333.8" stroke="#000" stroke-width="2"/>
<text x="436.6" y="1342.1" font-size="23" fill="#000" text-anchor="end">1</text>
<line x1="447.8" y1="1415.5" x2="455.8" y2="1415.5" stroke="#000" stroke-width="2"/>
<text x="436.6" y="1423.8" font-size="23" fill="#000" text-anchor="end">0</text>
<line x1="508.5" y1="1415.5" x2="508.5" y2="1423.0" stroke="#000" stroke-width="2"/>
<text x="508.5" y="1457.5" font-size="24" fill="#000" text-anchor="middle">HG</text>
<line x1="588.0" y1="1415.5" x2="588.0" y2="1423.0" stroke="#000" stroke-width="2"/>
<text x="588.0" y="1457.5" font-size="24" fill="#000" text-anchor="middle">P</text>
<line x1="667.5" y1="1415.5" x2="667.5" y2="1423.0" stroke="#000" stroke-width="2"/>
<text x="667.5" y="1457.5" font-size="24" fill="#000" text-anchor="middle">SP</text>
<line x1="509.8" y1="1171.4" x2="588.0" y2="1171.4" stroke="#000" stroke-width="1.6"/>
<text x="549.3" y="1174.5" font-size="27" fill="#000" text-anchor="middle">*</text>
<line x1="588.0" y1="1181.6" x2="670.0" y2="1181.6" stroke="#000" stroke-width="1.6"/>
<text x="632.0" y="1183.0" font-size="27" fill="#000" text-anchor="middle">*</text>
<text x="972.5" y="1149.7" font-size="25" fill="#000" text-anchor="middle">Fib-3</text>
<text transform="translate(765.8,1282.0) rotate(-90)" font-size="23" text-anchor="middle" textLength="155" lengthAdjust="spacingAndGlyphs">Percentage/%</text>
<rect x="864.5" y="1213.8" width="50.4" height="203.0" fill="#9f86c0" stroke="#2e2548" stroke-width="1.8"/>
<rect x="944.0" y="1217.2" width="50.3" height="199.5" fill="#30b7ee" stroke="#2a6fb5" stroke-width="1.8"/>
<rect x="1023.9" y="1289.2" width="50.4" height="127.6" fill="#72bfc6" stroke="#1f7a7a" stroke-width="1.8"/>
<line x1="836.5" y1="1170.0" x2="836.5" y2="1417.0" stroke="#000" stroke-width="2"/>
<line x1="828.8" y1="1416.0" x2="1102.7" y2="1416.0" stroke="#000" stroke-width="2"/>
<line x1="828.5" y1="1171.0" x2="836.5" y2="1171.0" stroke="#000" stroke-width="2"/>
<text x="812.7" y="1179.3" font-size="23" fill="#000" text-anchor="end">15</text>
<line x1="828.5" y1="1252.2" x2="836.5" y2="1252.2" stroke="#000" stroke-width="2"/>
<text x="812.7" y="1260.5" font-size="23" fill="#000" text-anchor="end">10</text>
<line x1="828.5" y1="1333.8" x2="836.5" y2="1333.8" stroke="#000" stroke-width="2"/>
<text x="812.7" y="1342.1" font-size="23" fill="#000" text-anchor="end">5</text>
<line x1="828.5" y1="1416.0" x2="836.5" y2="1416.0" stroke="#000" stroke-width="2"/>
<text x="812.7" y="1424.3" font-size="23" fill="#000" text-anchor="end">0</text>
<line x1="889.2" y1="1416.0" x2="889.2" y2="1423.5" stroke="#000" stroke-width="2"/>
<text x="889.2" y="1458.0" font-size="24" fill="#000" text-anchor="middle">HG</text>
<line x1="968.7" y1="1416.0" x2="968.7" y2="1423.5" stroke="#000" stroke-width="2"/>
<text x="968.7" y="1458.0" font-size="24" fill="#000" text-anchor="middle">P</text>
<line x1="1048.2" y1="1416.0" x2="1048.2" y2="1423.5" stroke="#000" stroke-width="2"/>
<text x="1048.2" y="1458.0" font-size="24" fill="#000" text-anchor="middle">SP</text>
<line x1="890.0" y1="1201.2" x2="966.6" y2="1201.2" stroke="#000" stroke-width="1.6"/>
<text x="926.8" y="1196.0" font-size="23" fill="#000" text-anchor="middle">ns</text>
<line x1="931.7" y1="1177.4" x2="1053.8" y2="1177.4" stroke="#000" stroke-width="1.6"/>
<text x="987.0" y="1179.5" font-size="27" fill="#000" text-anchor="middle">*</text>
<text x="1324.6" y="1149.7" font-size="25" fill="#000" text-anchor="middle">Fib-4</text>
<text transform="translate(1127.0,1282.0) rotate(-90)" font-size="23" text-anchor="middle" textLength="155" lengthAdjust="spacingAndGlyphs">Percentage/%</text>
<rect x="1228.0" y="1244.0" width="50.0" height="171.7" fill="#9f86c0" stroke="#2e2548" stroke-width="1.8"/>
<rect x="1306.7" y="1282.8" width="50.4" height="133.0" fill="#30b7ee" stroke="#2a6fb5" stroke-width="1.8"/>
<rect x="1385.8" y="1199.8" width="50.3" height="216.0" fill="#72bfc6" stroke="#1f7a7a" stroke-width="1.8"/>
<line x1="1200.4" y1="1171.3" x2="1200.4" y2="1416.0" stroke="#000" stroke-width="2"/>
<line x1="1192.8" y1="1415.0" x2="1464.0" y2="1415.0" stroke="#000" stroke-width="2"/>
<line x1="1192.4" y1="1172.3" x2="1200.4" y2="1172.3" stroke="#000" stroke-width="2"/>
<text x="1177.0" y="1180.6" font-size="23" fill="#000" text-anchor="end">15</text>
<line x1="1192.4" y1="1253.0" x2="1200.4" y2="1253.0" stroke="#000" stroke-width="2"/>
<text x="1177.0" y="1261.3" font-size="23" fill="#000" text-anchor="end">10</text>
<line x1="1192.4" y1="1333.8" x2="1200.4" y2="1333.8" stroke="#000" stroke-width="2"/>
<text x="1177.0" y="1342.1" font-size="23" fill="#000" text-anchor="end">5</text>
<line x1="1192.4" y1="1415.0" x2="1200.4" y2="1415.0" stroke="#000" stroke-width="2"/>
<text x="1177.0" y="1423.3" font-size="23" fill="#000" text-anchor="end">0</text>
<line x1="1252.7" y1="1415.0" x2="1252.7" y2="1422.5" stroke="#000" stroke-width="2"/>
<text x="1252.7" y="1457.0" font-size="24" fill="#000" text-anchor="middle">HG</text>
<line x1="1331.4" y1="1415.0" x2="1331.4" y2="1422.5" stroke="#000" stroke-width="2"/>
<text x="1331.4" y="1457.0" font-size="24" fill="#000" text-anchor="middle">P</text>
<line x1="1411.0" y1="1415.0" x2="1411.0" y2="1422.5" stroke="#000" stroke-width="2"/>
<text x="1411.0" y="1457.0" font-size="24" fill="#000" text-anchor="middle">SP</text>
<line x1="1252.7" y1="1230.5" x2="1330.5" y2="1230.5" stroke="#000" stroke-width="1.6"/>
<text x="1298.8" y="1225.5" font-size="23" fill="#000" text-anchor="middle">ns</text>
<line x1="1303.3" y1="1189.3" x2="1425.8" y2="1189.3" stroke="#000" stroke-width="1.6"/>
<text x="1359.0" y="1187.5" font-size="27" fill="#000" text-anchor="middle">*</text>
<text x="224.5" y="1525.0" font-size="25" fill="#000" text-anchor="middle">Fib-5</text>
<text transform="translate(20.0,1622.0) rotate(-90)" font-size="23" text-anchor="middle" textLength="155" lengthAdjust="spacingAndGlyphs">Percentage/%</text>
<rect x="119.0" y="1630.8" width="49.1" height="129.7" fill="#9f86c0" stroke="#2e2548" stroke-width="1.8"/>
<rect x="196.3" y="1616.3" width="49.5" height="144.1" fill="#30b7ee" stroke="#2a6fb5" stroke-width="1.8"/>
<rect x="274.1" y="1562.0" width="49.5" height="198.5" fill="#72bfc6" stroke="#1f7a7a" stroke-width="1.8"/>
<line x1="91.4" y1="1519.8" x2="91.4" y2="1760.7" stroke="#000" stroke-width="2"/>
<line x1="83.8" y1="1759.7" x2="351.6" y2="1759.7" stroke="#000" stroke-width="2"/>
<line x1="83.4" y1="1520.8" x2="91.4" y2="1520.8" stroke="#000" stroke-width="2"/>
<text x="68.0" y="1529.1" font-size="23" fill="#000" text-anchor="end">15</text>
<line x1="83.4" y1="1600.3" x2="91.4" y2="1600.3" stroke="#000" stroke-width="2"/>
<text x="68.0" y="1608.6" font-size="23" fill="#000" text-anchor="end">10</text>
<line x1="83.4" y1="1680.2" x2="91.4" y2="1680.2" stroke="#000" stroke-width="2"/>
<text x="68.0" y="1688.5" font-size="23" fill="#000" text-anchor="end">5</text>
<line x1="83.4" y1="1759.7" x2="91.4" y2="1759.7" stroke="#000" stroke-width="2"/>
<text x="68.0" y="1768.0" font-size="23" fill="#000" text-anchor="end">0</text>
<line x1="143.3" y1="1759.7" x2="143.3" y2="1767.2" stroke="#000" stroke-width="2"/>
<text x="143.3" y="1801.7" font-size="24" fill="#000" text-anchor="middle">HG</text>
<line x1="221.0" y1="1759.7" x2="221.0" y2="1767.2" stroke="#000" stroke-width="2"/>
<text x="221.0" y="1801.7" font-size="24" fill="#000" text-anchor="middle">P</text>
<line x1="298.5" y1="1759.7" x2="298.5" y2="1767.2" stroke="#000" stroke-width="2"/>
<text x="298.5" y="1801.7" font-size="24" fill="#000" text-anchor="middle">SP</text>
<line x1="143.3" y1="1600.7" x2="221.0" y2="1600.7" stroke="#000" stroke-width="1.6"/>
<text x="182.8" y="1591.0" font-size="23" fill="#000" text-anchor="middle">ns</text>
<line x1="188.4" y1="1556.0" x2="301.9" y2="1556.0" stroke="#000" stroke-width="1.6"/>
<text x="240.2" y="1561.0" font-size="27" fill="#000" text-anchor="middle">*</text>
<text x="595.8" y="1499.0" font-size="25" fill="#000" text-anchor="middle">Fib-6</text>
<text transform="translate(396.5,1622.0) rotate(-90)" font-size="23" text-anchor="middle" textLength="155" lengthAdjust="spacingAndGlyphs">Percentage/%</text>
<rect x="487.1" y="1664.0" width="50.4" height="96.5" fill="#9f86c0" stroke="#2e2548" stroke-width="1.8"/>
<rect x="566.2" y="1532.7" width="49.9" height="227.8" fill="#30b7ee" stroke="#2a6fb5" stroke-width="1.8"/>
<rect x="645.4" y="1686.5" width="50.3" height="73.9" fill="#72bfc6" stroke="#1f7a7a" stroke-width="1.8"/>
<line x1="460.0" y1="1515.1" x2="460.0" y2="1760.7" stroke="#000" stroke-width="2"/>
<line x1="452.4" y1="1759.7" x2="724.0" y2="1759.7" stroke="#000" stroke-width="2"/>
<line x1="452.0" y1="1516.1" x2="460.0" y2="1516.1" stroke="#000" stroke-width="2"/>
<text x="442.2" y="1524.4" font-size="23" fill="#000" text-anchor="end">15</text>
<line x1="452.0" y1="1597.3" x2="460.0" y2="1597.3" stroke="#000" stroke-width="2"/>
<text x="442.2" y="1605.6" font-size="23" fill="#000" text-anchor="end">10</text>
<line x1="452.0" y1="1678.5" x2="460.0" y2="1678.5" stroke="#000" stroke-width="2"/>
<text x="442.2" y="1686.8" font-size="23" fill="#000" text-anchor="end">5</text>
<line x1="452.0" y1="1759.7" x2="460.0" y2="1759.7" stroke="#000" stroke-width="2"/>
<text x="442.2" y="1768.0" font-size="23" fill="#000" text-anchor="end">0</text>
<line x1="512.0" y1="1759.7" x2="512.0" y2="1767.2" stroke="#000" stroke-width="2"/>
<text x="512.0" y="1801.7" font-size="24" fill="#000" text-anchor="middle">HG</text>
<line x1="591.0" y1="1759.7" x2="591.0" y2="1767.2" stroke="#000" stroke-width="2"/>
<text x="591.0" y="1801.7" font-size="24" fill="#000" text-anchor="middle">P</text>
<line x1="670.0" y1="1759.7" x2="670.0" y2="1767.2" stroke="#000" stroke-width="2"/>
<text x="670.0" y="1801.7" font-size="24" fill="#000" text-anchor="middle">SP</text>
<line x1="515.7" y1="1524.6" x2="591.0" y2="1524.6" stroke="#000" stroke-width="1.6"/>
<text x="551.4" y="1528.0" font-size="27" fill="#000" text-anchor="middle">*</text>
<line x1="592.3" y1="1519.0" x2="670.0" y2="1519.0" stroke="#000" stroke-width="1.6"/>
<text x="631.4" y="1522.5" font-size="27" fill="#000" text-anchor="middle">*</text>
<text x="972.5" y="1518.7" font-size="25" fill="#000" text-anchor="middle">Fib-7</text>
<text transform="translate(765.8,1622.0) rotate(-90)" font-size="23" text-anchor="middle" textLength="155" lengthAdjust="spacingAndGlyphs">Percentage/%</text>
<rect x="867.0" y="1706.5" width="49.5" height="54.0" fill="#9f86c0" stroke="#2e2548" stroke-width="1.8"/>
<rect x="945.2" y="1598.5" width="49.5" height="161.9" fill="#30b7ee" stroke="#2a6fb5" stroke-width="1.8"/>
<rect x="1023.5" y="1703.0" width="50.0" height="57.4" fill="#72bfc6" stroke="#1f7a7a" stroke-width="1.8"/>
<line x1="839.5" y1="1516.0" x2="839.5" y2="1760.7" stroke="#000" stroke-width="2"/>
<line x1="831.8" y1="1759.7" x2="1101.8" y2="1759.7" stroke="#000" stroke-width="2"/>
<line x1="831.5" y1="1517.0" x2="839.5" y2="1517.0" stroke="#000" stroke-width="2"/>
<text x="814.4" y="1525.3" font-size="23" fill="#000" text-anchor="end">15</text>
<line x1="831.5" y1="1598.2" x2="839.5" y2="1598.2" stroke="#000" stroke-width="2"/>
<text x="814.4" y="1606.5" font-size="23" fill="#000" text-anchor="end">10</text>
<line x1="831.5" y1="1679.0" x2="839.5" y2="1679.0" stroke="#000" stroke-width="2"/>
<text x="814.4" y="1687.3" font-size="23" fill="#000" text-anchor="end">5</text>
<line x1="831.5" y1="1759.7" x2="839.5" y2="1759.7" stroke="#000" stroke-width="2"/>
<text x="814.4" y="1768.0" font-size="23" fill="#000" text-anchor="end">0</text>
<line x1="891.3" y1="1759.7" x2="891.3" y2="1767.2" stroke="#000" stroke-width="2"/>
<text x="891.3" y="1801.7" font-size="24" fill="#000" text-anchor="middle">HG</text>
<line x1="970.0" y1="1759.7" x2="970.0" y2="1767.2" stroke="#000" stroke-width="2"/>
<text x="970.0" y="1801.7" font-size="24" fill="#000" text-anchor="middle">P</text>
<line x1="1048.2" y1="1759.7" x2="1048.2" y2="1767.2" stroke="#000" stroke-width="2"/>
<text x="1048.2" y="1801.7" font-size="24" fill="#000" text-anchor="middle">SP</text>
<line x1="895.2" y1="1573.5" x2="968.7" y2="1573.5" stroke="#000" stroke-width="1.6"/>
<text x="931.3" y="1576.0" font-size="27" fill="#000" text-anchor="middle">*</text>
<line x1="972.1" y1="1556.5" x2="1046.1" y2="1556.5" stroke="#000" stroke-width="1.6"/>
<text x="1008.3" y="1559.0" font-size="27" fill="#000" text-anchor="middle">*</text>
<text x="1313.0" y="1517.4" font-size="25" fill="#000" text-anchor="middle">Fib-8</text>
<text transform="translate(1127.0,1626.0) rotate(-90)" font-size="23" text-anchor="middle" textLength="155" lengthAdjust="spacingAndGlyphs">Percentage/%</text>
<rect x="1228.8" y="1726.5" width="50.0" height="33.2" fill="#9f86c0" stroke="#2e2548" stroke-width="1.8"/>
<rect x="1307.5" y="1618.0" width="50.0" height="141.6" fill="#30b7ee" stroke="#2a6fb5" stroke-width="1.8"/>
<rect x="1386.2" y="1542.8" width="49.9" height="216.9" fill="#72bfc6" stroke="#1f7a7a" stroke-width="1.8"/>
<line x1="1201.7" y1="1515.5" x2="1201.7" y2="1759.9" stroke="#000" stroke-width="2"/>
<line x1="1194.0" y1="1758.9" x2="1464.0" y2="1758.9" stroke="#000" stroke-width="2"/>
<line x1="1193.7" y1="1516.5" x2="1201.7" y2="1516.5" stroke="#000" stroke-width="2"/>
<text x="1176.2" y="1524.8" font-size="23" fill="#000" text-anchor="end">10</text>
<line x1="1193.7" y1="1565.0" x2="1201.7" y2="1565.0" stroke="#000" stroke-width="2"/>
<text x="1176.2" y="1573.3" font-size="23" fill="#000" text-anchor="end">8</text>
<line x1="1193.7" y1="1613.5" x2="1201.7" y2="1613.5" stroke="#000" stroke-width="2"/>
<text x="1176.2" y="1621.8" font-size="23" fill="#000" text-anchor="end">6</text>
<line x1="1193.7" y1="1662.0" x2="1201.7" y2="1662.0" stroke="#000" stroke-width="2"/>
<text x="1176.2" y="1670.3" font-size="23" fill="#000" text-anchor="end">4</text>
<line x1="1193.7" y1="1710.4" x2="1201.7" y2="1710.4" stroke="#000" stroke-width="2"/>
<text x="1176.2" y="1718.7" font-size="23" fill="#000" text-anchor="end">2</text>
<line x1="1193.7" y1="1758.9" x2="1201.7" y2="1758.9" stroke="#000" stroke-width="2"/>
<text x="1176.2" y="1767.2" font-size="23" fill="#000" text-anchor="end">0</text>
<line x1="1253.6" y1="1758.9" x2="1253.6" y2="1766.4" stroke="#000" stroke-width="2"/>
<text x="1253.6" y="1800.9" font-size="24" fill="#000" text-anchor="middle">HG</text>
<line x1="1332.2" y1="1758.9" x2="1332.2" y2="1766.4" stroke="#000" stroke-width="2"/>
<text x="1332.2" y="1800.9" font-size="24" fill="#000" text-anchor="middle">P</text>
<line x1="1410.9" y1="1758.9" x2="1410.9" y2="1766.4" stroke="#000" stroke-width="2"/>
<text x="1410.9" y="1800.9" font-size="24" fill="#000" text-anchor="middle">SP</text>
<line x1="1252.7" y1="1604.6" x2="1326.7" y2="1604.6" stroke="#000" stroke-width="1.6"/>
<text x="1288.5" y="1607.0" font-size="27" fill="#000" text-anchor="middle">*</text>
<line x1="1326.7" y1="1533.6" x2="1417.3" y2="1533.6" stroke="#000" stroke-width="1.6"/>
<text x="1371.4" y="1535.5" font-size="27" fill="#000" text-anchor="middle">*</text>
<text x="1496.0" y="1142.0" font-size="40" fill="#1a1110" font-weight="bold">e</text>
<text x="1795.6" y="1169.8" font-size="26" fill="#000" text-anchor="middle" textLength="433.0" lengthAdjust="spacingAndGlyphs">GO analysis of highly expressed genes</text>
<text x="1795.6" y="1197.3" font-size="26" fill="#000" text-anchor="middle" textLength="336.0" lengthAdjust="spacingAndGlyphs">in Fib-8 (SP group vs P group)</text>
<g opacity="1">
<path d="M1939.5 1413.0A182.5 182.5 0 0 1 1951.7 1440.4Q1779.6 1501.0 1780.6 1683.5A182.5 182.5 0 0 1 1751.4 1681.3Q1779.6 1501.0 1939.5 1413.0Z" fill="#000000" fill-opacity="0.5"/>
<path d="M1922.9 1388.0A182.5 182.5 0 0 1 1939.5 1413.0Q1779.6 1501.0 1707.2 1668.5A182.5 182.5 0 0 1 1680.5 1654.2Q1779.6 1501.0 1922.9 1388.0Z" fill="#000000" fill-opacity="0.5"/>
<path d="M1902.5 1366.0A182.5 182.5 0 0 1 1922.9 1388.0Q1779.6 1501.0 1678.3 1652.8A182.5 182.5 0 0 1 1654.0 1633.4Q1779.6 1501.0 1902.5 1366.0Z" fill="#000000" fill-opacity="0.5"/>
<path d="M1878.7 1347.7A182.5 182.5 0 0 1 1902.5 1366.0Q1779.6 1501.0 1652.1 1631.6A182.5 182.5 0 0 1 1631.8 1608.0Q1779.6 1501.0 1878.7 1347.7Z" fill="#000000" fill-opacity="0.5"/>
<path d="M1852.2 1333.6A182.5 182.5 0 0 1 1878.7 1347.7Q1779.6 1501.0 1620.5 1590.4A182.5 182.5 0 0 1 1607.4 1561.3Q1779.6 1501.0 1852.2 1333.6Z" fill="#000000" fill-opacity="0.5"/>
<path d="M1823.8 1323.9A182.5 182.5 0 0 1 1852.2 1333.6Q1779.6 1501.0 1606.5 1558.9A182.5 182.5 0 0 1 1599.4 1530.2Q1779.6 1501.0 1823.8 1323.9Z" fill="#000000" fill-opacity="0.5"/>
<path d="M1794.2 1319.1A182.5 182.5 0 0 1 1823.8 1323.9Q1779.6 1501.0 1598.7 1476.6A182.5 182.5 0 0 1 1605.3 1447.0Q1779.6 1501.0 1794.2 1319.1Z" fill="#000000" fill-opacity="0.5"/>
<path d="M1960.0 1528.7A182.5 182.5 0 0 1 1955.5 1549.5Q1779.6 1501.0 1727.3 1675.9A182.5 182.5 0 0 1 1707.2 1668.5Q1779.6 1501.0 1960.0 1528.7Z" fill="#501d62" fill-opacity="0.5"/>
<path d="M1962.0 1507.5A182.5 182.5 0 0 1 1960.0 1528.7Q1779.6 1501.0 1597.1 1498.1A182.5 182.5 0 0 1 1598.7 1476.6Q1779.6 1501.0 1962.0 1507.5Z" fill="#501d62" fill-opacity="0.5"/>
<path d="M1961.5 1486.2A182.5 182.5 0 0 1 1962.0 1507.5Q1779.6 1501.0 1606.0 1444.6A182.5 182.5 0 0 1 1613.3 1425.9Q1779.6 1501.0 1961.5 1486.2Z" fill="#501d62" fill-opacity="0.5"/>
<path d="M1958.5 1465.2A182.5 182.5 0 0 1 1961.5 1486.2Q1779.6 1501.0 1614.3 1423.6A182.5 182.5 0 0 1 1624.2 1405.4Q1779.6 1501.0 1958.5 1465.2Z" fill="#501d62" fill-opacity="0.5"/>
<path d="M1953.2 1444.6A182.5 182.5 0 0 1 1958.5 1465.2Q1779.6 1501.0 1646.5 1376.1A182.5 182.5 0 0 1 1664.7 1359.2Q1779.6 1501.0 1953.2 1444.6Z" fill="#501d62" fill-opacity="0.5"/>
<path d="M1910.6 1628.0A182.5 182.5 0 0 1 1894.5 1642.8Q1779.6 1501.0 1748.9 1680.9A182.5 182.5 0 0 1 1727.3 1675.9Q1779.6 1501.0 1910.6 1628.0Z" fill="#ba2d66" fill-opacity="0.5"/>
<path d="M1924.9 1611.4A182.5 182.5 0 0 1 1910.6 1628.0Q1779.6 1501.0 1598.1 1520.2A182.5 182.5 0 0 1 1597.1 1498.1Q1779.6 1501.0 1924.9 1611.4Z" fill="#ba2d66" fill-opacity="0.5"/>
<path d="M1937.1 1593.2A182.5 182.5 0 0 1 1924.9 1611.4Q1779.6 1501.0 1630.4 1395.9A182.5 182.5 0 0 1 1646.5 1376.1Q1779.6 1501.0 1937.1 1593.2Z" fill="#ba2d66" fill-opacity="0.5"/>
<path d="M1947.0 1573.7A182.5 182.5 0 0 1 1937.1 1593.2Q1779.6 1501.0 1666.7 1357.6A182.5 182.5 0 0 1 1681.5 1347.1Q1779.6 1501.0 1947.0 1573.7Z" fill="#ba2d66" fill-opacity="0.5"/>
<path d="M1954.5 1553.1A182.5 182.5 0 0 1 1947.0 1573.7Q1779.6 1501.0 1683.7 1345.7A182.5 182.5 0 0 1 1705.1 1334.4Q1779.6 1501.0 1954.5 1553.1Z" fill="#ba2d66" fill-opacity="0.5"/>
<path d="M1846.6 1670.8A182.5 182.5 0 0 1 1830.2 1676.3Q1779.6 1501.0 1630.3 1605.9A182.5 182.5 0 0 1 1620.5 1590.4Q1779.6 1501.0 1846.6 1670.8Z" fill="#ea9020" fill-opacity="0.5"/>
<path d="M1862.3 1663.7A182.5 182.5 0 0 1 1846.6 1670.8Q1779.6 1501.0 1707.4 1333.4A182.5 182.5 0 0 1 1723.2 1327.4Q1779.6 1501.0 1862.3 1663.7Z" fill="#ea9020" fill-opacity="0.5"/>
<path d="M1877.3 1655.1A182.5 182.5 0 0 1 1862.3 1663.7Q1779.6 1501.0 1725.6 1326.7A182.5 182.5 0 0 1 1742.9 1322.2Q1779.6 1501.0 1877.3 1655.1Z" fill="#ea9020" fill-opacity="0.5"/>
<path d="M1891.5 1645.2A182.5 182.5 0 0 1 1877.3 1655.1Q1779.6 1501.0 1745.4 1321.7A182.5 182.5 0 0 1 1762.4 1319.3Q1779.6 1501.0 1891.5 1645.2Z" fill="#ea9020" fill-opacity="0.5"/>
<path d="M1819.9 1679.0A182.5 182.5 0 0 1 1812.5 1680.5Q1779.6 1501.0 1599.1 1527.7A182.5 182.5 0 0 1 1598.1 1520.2Q1779.6 1501.0 1819.9 1679.0Z" fill="#f0ee8a" fill-opacity="0.5"/>
<path d="M1827.1 1677.2A182.5 182.5 0 0 1 1819.9 1679.0Q1779.6 1501.0 1625.5 1403.2A182.5 182.5 0 0 1 1630.4 1395.9Q1779.6 1501.0 1827.1 1677.2Z" fill="#f0ee8a" fill-opacity="0.5"/>
</g>
<path d="M1795.6 1301.9A199.7 199.7 0 0 1 1968.0 1434.7L1956.0 1438.9A187.0 187.0 0 0 0 1794.6 1314.6Z" fill="#000000"/>
<path d="M1969.5 1439.3A199.7 199.7 0 0 1 1972.1 1554.0L1959.9 1550.7A187.0 187.0 0 0 0 1957.4 1443.2Z" fill="#501d62"/>
<path d="M1971.0 1558.1A199.7 199.7 0 0 1 1905.3 1656.2L1897.3 1646.3A187.0 187.0 0 0 0 1958.8 1554.4Z" fill="#ba2d66"/>
<path d="M1902.0 1658.8A199.7 199.7 0 0 1 1835.0 1692.9L1831.5 1680.7A187.0 187.0 0 0 0 1894.2 1648.8Z" fill="#ea9020"/>
<path d="M1831.6 1693.8A199.7 199.7 0 0 1 1815.6 1697.4L1813.4 1684.9A187.0 187.0 0 0 0 1828.3 1681.5Z" fill="#f0ee8a"/>
<path d="M1780.6 1700.7A199.7 199.7 0 0 1 1748.7 1698.3L1750.7 1685.7A187.0 187.0 0 0 0 1780.6 1688.0Z" fill="#96d28a"/>
<path d="M1746.0 1697.8A199.7 199.7 0 0 1 1671.1 1668.7L1678.0 1658.0A187.0 187.0 0 0 0 1748.1 1685.3Z" fill="#a3d465"/>
<path d="M1668.8 1667.1A199.7 199.7 0 0 1 1642.1 1645.9L1650.9 1636.6A187.0 187.0 0 0 0 1675.8 1656.6Z" fill="#e8755f"/>
<path d="M1640.1 1643.9A199.7 199.7 0 0 1 1617.8 1618.1L1628.1 1610.7A187.0 187.0 0 0 0 1649.0 1634.8Z" fill="#56b83c"/>
<path d="M1616.2 1615.8A199.7 199.7 0 0 1 1591.1 1567.0L1603.1 1562.8A187.0 187.0 0 0 0 1626.6 1608.5Z" fill="#e995bd"/>
<path d="M1590.2 1564.4A199.7 199.7 0 0 1 1582.5 1532.9L1595.0 1530.9A187.0 187.0 0 0 0 1602.3 1560.3Z" fill="#e0641a"/>
<path d="M1582.0 1530.2A199.7 199.7 0 0 1 1588.8 1441.9L1601.0 1445.7A187.0 187.0 0 0 0 1594.6 1528.3Z" fill="#84cbd8"/>
<path d="M1589.7 1439.3A199.7 199.7 0 0 1 1597.6 1418.8L1609.2 1424.0A187.0 187.0 0 0 0 1601.8 1443.2Z" fill="#36b4d2"/>
<path d="M1598.8 1416.3A199.7 199.7 0 0 1 1609.5 1396.4L1620.3 1403.0A187.0 187.0 0 0 0 1610.3 1421.7Z" fill="#86c95e"/>
<path d="M1611.0 1394.0A199.7 199.7 0 0 1 1653.9 1345.8L1661.9 1355.7A187.0 187.0 0 0 0 1621.7 1400.8Z" fill="#a5dbe0"/>
<path d="M1656.1 1344.1A199.7 199.7 0 0 1 1672.3 1332.6L1679.1 1343.3A187.0 187.0 0 0 0 1664.0 1354.0Z" fill="#f2adc2"/>
<path d="M1674.7 1331.1A199.7 199.7 0 0 1 1698.1 1318.7L1703.2 1330.3A187.0 187.0 0 0 0 1681.3 1341.9Z" fill="#3fb9d3"/>
<path d="M1700.6 1317.6A199.7 199.7 0 0 1 1717.9 1311.1L1721.8 1323.2A187.0 187.0 0 0 0 1705.6 1329.3Z" fill="#f2aa22"/>
<path d="M1720.5 1310.2A199.7 199.7 0 0 1 1739.4 1305.4L1742.0 1317.8A187.0 187.0 0 0 0 1724.3 1322.4Z" fill="#ea7a2c"/>
<path d="M1742.2 1304.8A199.7 199.7 0 0 1 1760.8 1302.2L1762.0 1314.8A187.0 187.0 0 0 0 1744.6 1317.3Z" fill="#c2177f"/>
<text transform="translate(1751.1,1720.2) rotate(-65.9)" x="0" y="7.3" text-anchor="end" font-size="20.6" font-style="italic" fill="#000">DSP</text>
<text transform="translate(1696.0,1694.1) rotate(-65.4)" x="0" y="7.3" text-anchor="end" font-size="20.6" font-style="italic" fill="#d7202a">HSPB1</text>
<text transform="translate(1650.5,1665.0) rotate(-47.8)" x="0" y="7.3" text-anchor="end" font-size="20.6" font-style="italic" fill="#000">KRT6A</text>
<text transform="translate(1624.3,1646.8) rotate(-37.7)" x="0" y="7.3" text-anchor="end" font-size="20.6" font-style="italic" fill="#000">KRT1</text>
<text transform="translate(1593.4,1606.8) rotate(-28.5)" x="0" y="7.3" text-anchor="end" font-size="20.6" font-style="italic" fill="#d7202a">COMP</text>
<text transform="translate(1578.0,1548.7) rotate(-13.4)" x="0" y="7.3" text-anchor="end" font-size="20.6" font-style="italic" fill="#000">PLPP3</text>
<text transform="translate(1573.4,1480.8) rotate(3.5)" x="0" y="7.3" text-anchor="end" font-size="20.6" font-style="italic" fill="#d7202a">S100A8</text>
<text transform="translate(1585.3,1426.8) rotate(24.0)" x="0" y="7.3" text-anchor="end" font-size="20.6" font-style="italic" fill="#000">SFN</text>
<text transform="translate(1596.1,1397.6) rotate(28.7)" x="0" y="7.3" text-anchor="end" font-size="20.6" font-style="italic" fill="#000">PERP</text>
<text transform="translate(1629.7,1361.5) rotate(41.5)" x="0" y="7.3" text-anchor="end" font-size="20.6" font-style="italic" fill="#d7202a">S100A9</text>
<text transform="translate(1657.0,1332.3) rotate(52.0)" x="0" y="7.3" text-anchor="end" font-size="20.6" font-style="italic" fill="#d7202a">S100A14</text>
<text transform="translate(1677.6,1316.3) rotate(58.8)" x="0" y="7.3" text-anchor="end" font-size="20.6" font-style="italic" fill="#d7202a">CXCL14</text>
<text transform="translate(1700.4,1306.1) rotate(64.5)" x="0" y="7.3" text-anchor="end" font-size="20.6" font-style="italic" fill="#000">KRT14</text>
<text transform="translate(1723.1,1295.2) rotate(71.3)" x="0" y="7.3" text-anchor="end" font-size="20.6" font-style="italic" fill="#000">KRT16</text>
<text transform="translate(1746.7,1290.7) rotate(81.0)" x="0" y="7.3" text-anchor="end" font-size="20.6" font-style="italic" fill="#d7202a">IGFBP2</text>
<text transform="translate(1934.9,1302.3) rotate(36.1)" x="0" y="6" text-anchor="middle" font-size="20.4" fill="#000">Intrinsic apoptotic</text>
<text transform="translate(1912.7,1328.1) rotate(33.8)" x="0" y="6" text-anchor="middle" font-size="20.4" fill="#000">signaling pathway</text>
<text transform="translate(2037.9,1488.8) rotate(89.0)" x="0" y="6" text-anchor="middle" font-size="20.4" fill="#501d62">Leukocyte</text>
<text transform="translate(2009.4,1486.1) rotate(89.0)" x="0" y="6" text-anchor="middle" font-size="20.4" fill="#501d62">aggregation</text>
<text transform="translate(1982.0,1625.0) rotate(-43.5)" x="0" y="6" text-anchor="middle" font-size="20.4" fill="#a8305f">Cell</text>
<text transform="translate(1997.7,1648.1) rotate(-47.0)" x="0" y="6" text-anchor="middle" font-size="20.4" fill="#a8305f">chemotaxis</text>
<text transform="translate(1899.4,1706.1) rotate(-27.8)" x="0" y="6" text-anchor="middle" font-size="20.4" fill="#e0954a">Wound</text>
<text transform="translate(1915.6,1731.9) rotate(-26.6)" x="0" y="6" text-anchor="middle" font-size="20.4" fill="#e0954a">healing</text>
<text transform="translate(1827.9,1745.0) rotate(-25.0)" x="0" y="6" text-anchor="middle" font-size="20.4" fill="#ece870">Aging</text>
<text x="26.0" y="1872.6" font-size="40" fill="#1a1110" font-weight="bold">f</text>
<text x="63.9" y="1904.7" font-size="25" fill="#000" textLength="108.7" lengthAdjust="spacingAndGlyphs">Fibroblast</text>
<text x="294.3" y="1904.7" font-size="25" fill="#000" textLength="142.8" lengthAdjust="spacingAndGlyphs">Epithelial cell</text>
<path d="M177.4 1919.5C238.7 1919.5 238.7 1968.3 300.0 1968.3L300.0 2201.0C238.7 2201.0 238.7 2152.2 177.4 2152.2Z" fill="#d96d91" fill-opacity="0.5"/>
<path d="M177.4 2152.2C238.7 2152.2 238.7 2201.0 300.0 2201.0L300.0 2272.9C238.7 2272.9 238.7 2223.8 177.4 2223.8Z" fill="#9b73d1" fill-opacity="0.5"/>
<path d="M177.4 2223.8C238.7 2223.8 238.7 2326.2 300.0 2326.2L300.0 2391.5C238.7 2391.5 238.7 2289.3 177.4 2289.3Z" fill="#9b73d1" fill-opacity="0.5"/>
<path d="M177.4 2289.3C238.7 2289.3 238.7 1919.5 300.0 1919.5L300.0 1968.3C238.7 1968.3 238.7 2338.7 177.4 2338.7Z" fill="#9b73d1" fill-opacity="0.5"/>
<path d="M177.4 2338.7C238.7 2338.7 238.7 2272.9 300.0 2272.9L300.0 2326.2C238.7 2326.2 238.7 2391.5 177.4 2391.5Z" fill="#9b73d1" fill-opacity="0.5"/>
<rect x="59.6" y="1919.5" width="117.8" height="472.0" fill="#fff" stroke="#000" stroke-width="2"/>
<line x1="59.6" y1="2152.2" x2="177.4" y2="2152.2" stroke="#000" stroke-width="2"/>
<line x1="59.6" y1="2223.8" x2="177.4" y2="2223.8" stroke="#000" stroke-width="2"/>
<line x1="59.6" y1="2289.3" x2="177.4" y2="2289.3" stroke="#000" stroke-width="2"/>
<line x1="59.6" y1="2338.7" x2="177.4" y2="2338.7" stroke="#000" stroke-width="2"/>
<text x="118.5" y="2040.5" font-size="20.7" fill="#cf5560" text-anchor="middle" font-style="italic">COL3A1</text>
<text x="118.5" y="2196.1" font-size="20.7" fill="#cf5560" text-anchor="middle" font-style="italic">EPGN</text>
<text x="118.5" y="2265.3" font-size="20.7" fill="#000" text-anchor="middle" font-style="italic">NECTIN1</text>
<text x="118.5" y="2322.1" font-size="20.7" fill="#000" text-anchor="middle" font-style="italic">SEMA4D</text>
<text x="118.5" y="2373.2" font-size="20.7" fill="#000" text-anchor="middle" font-style="italic">WNT5A</text>
<rect x="300.0" y="1919.5" width="124.4" height="472.0" fill="#fff" stroke="#000" stroke-width="2"/>
<line x1="300.0" y1="1968.3" x2="424.4" y2="1968.3" stroke="#000" stroke-width="2"/>
<line x1="300.0" y1="2201.0" x2="424.4" y2="2201.0" stroke="#000" stroke-width="2"/>
<line x1="300.0" y1="2272.9" x2="424.4" y2="2272.9" stroke="#000" stroke-width="2"/>
<line x1="300.0" y1="2326.2" x2="424.4" y2="2326.2" stroke="#000" stroke-width="2"/>
<text x="366.2" y="1953.1" font-size="20.7" fill="#000" text-anchor="middle" font-style="italic">PLXNB1</text>
<text x="366.2" y="2091.6" font-size="20.7" fill="#cf5560" text-anchor="middle" font-style="italic">ADGRG1</text>
<text x="366.2" y="2246.3" font-size="20.7" fill="#cf5560" text-anchor="middle" font-style="italic">EGFR</text>
<text x="366.2" y="2310.2" font-size="20.7" fill="#000" text-anchor="middle" font-style="italic">SFRP1</text>
<text x="366.2" y="2364.7" font-size="20.7" fill="#000" text-anchor="middle" font-style="italic">NECTIN4</text>
<text x="82.3" y="2420.5" font-size="25" fill="#555" textLength="73.2" lengthAdjust="spacingAndGlyphs">Ligand</text>
<text x="312.2" y="2420.5" font-size="25" fill="#555" textLength="99.4" lengthAdjust="spacingAndGlyphs">Receptor</text>
<rect x="477.4" y="1879.0" width="560.2" height="274.6" fill="#040102"/>
<path d="M633 1898l-12 7 23 4-38 3 18 0-16 4 14 2 19 4-46 1 49 1 1 0 9 1 4 2-64 2 53 0 14 0-62 1 34 0 10 0-16 1 21 0-2 3-1 1-38 2 49 2-71 1 83 0 10 0-89 1 85 0-90 1 84 0-83 2 18 0 3 0-4 1 20 0 2 0-52 1 19 1 16 0 25 0-21 1 5 0 31 0 44 0-102 2 33 0-35 2 66 0-14 2 57 0-108 3-11 1 31 1 9 0-26 2 23 0 34 3 10 1 19 1-42 1-43 1 88 0 1 0-70 1 47 4 33 0 1 0 2 0-29 2 22 0-131 2 76 0 74 0-25 1 28 0-145 2 123 0-119 1 149 0-54 1 46 0-94 1 30 0 16 1-14 1 30 1-6 1-95 2 0 1 23 0 54 0 24 0 12 0 1 0 4 0-107 1 139 0-44 1 41 1-41 2-42 1 46 0 2 0-131 1 128 1 42 0-52 1 10 0-94 1 24 0 16 1 3 0 44 0 10 0-128 1 149 0-59 2 25 0-124 1 54 0 80 1 6 0-125 2 73 1 70 0-106 2 13 0 96 0-132 3 9 0 122 4-9 1-117 1 38 0 65 0-102 1-37 1 181 0-102 1 3 0 8 0 72 0-141 2 42 0 82 0 32 0-89 1 62 0-75 1 107 0-40 1-158 3 56 0 49 0-105 1 30 0 64 0 103 0-175 1 2 0 173 0-159 1 46 0-65 1 25 0 10 0 11 0 71 0-90 1 147 0-96 1-104 1 25 1 59 0-47 1 19 0 9 0 7 0 15 0 60 1 2 0-148 1 20 0 40 0 13 0 21 0 4 0-35 1 34 0 53 0-60 2 19 1-83 1 22 0 92 0 42 0-161 1 9 0 122 0 13 0-25 2-69 1-22 1 64 0 28 2 53 2-54 1-59 2 0 1-17 2 8 0 67 0 18 0-106 1 131 0-178 1 82 0 47 0-123 2 42 0 52 0 39 0-118 1-24 1 8 0 27 0 2 0-16 1-13 1 11 0 3 0 53 0 85 0-55 1 2 0 42 0-138 2 99 1 1 2-52 2 0 1 3 0-44 4 8 3-1 1-2 1 29 3-67 2 37 1 8 0 10 2-19 3 12 1-45 2 33 0-39 3 36 0-46 5 42 0-32 2 34 4-44 1 32 2-36 8 30 10" class="mk" style="marker:url(#m8)"/>
<path d="M623 1901l-23 12 13 1 34 0-41 3 28 1 19 1-40 1 44 2-4 1-61 2 42 2 2 0-50 3 5 0-1 1-8 2 80 0-38 2 55 0-64 1 48 0 6 0-78 1 91 2-37 2 27 1-47 1 24 0 10 0-36 1-12 2 6 0 7 2-10 1 4 0 10 1 14 1 7 0-3 1 21 1 1 0-85 1 12 1 54 0-57 3 36 7 23 0-2 2-1 1-19 1 50 1-11 1-14 1 9 0 8 0-57 1 66 1-19 2-49 1 65 1-125 1 62 0 17 0-15 3 57 4 3 1-98 2 71 1 7 0 43 0-13 1-118 2 114 0 6 0-119 2 52 0 3 0 30 0 40 2-78 1-49 2 161 0-33 1 1 0 34 0-118 4 10 0 54 0-30 2 64 0-117 2 62 0-71 4 113 0-134 1 157 0-79 1 32 2 60 3-34 1-66 1-35 1 120 0-20 3-151 1 151 0-72 1-91 1 1 0 85 0-78 1 168 1-10 1-19 1 20 0-114 2-56 1 88 0 11 1-36 1 72 0-102 1 16 0-50 1 176 0-152 1 49 2-5 1-65 1 23 2 73 1 45 0-14 1-8 1 18 0 34 0 2 0-101 2 105 0-130 2-32 1 58 0-54 1 88 0-60 1-32 3 47 1 22 1-71 1 33 0 35 0-55 1 143 0-106 1 64 1-108 1 29 0 55 1 3 0-107 1 10 2 18 2 38 0-17 1-16 1-25 5 35 5-57 6-6 1 38 3-46 6 2 3 40 1 17 0-5 2-54 3-5 4 31 11-30 11 15 0 5 3-2 2" class="mk" style="marker:url(#m8)" opacity="0.55"/>
<path d="M630 1903l-4 3 0 1 27 1-24 1 21 1-34 2 8 1 15 0 11 0 3 0-29 1 17 1 6 0 17 0-62 1 23 0 15 0 8 0 7 0-13 1 3 0 6 0-9 1 1 0 1 0 1 0 6 0-7 1 1 0 1 0 4 0 1 0 1 0-59 1 48 0 4 0 5 0 2 0-17 1 6 0 1 0 1 0 1 0 2 0 2 0 2 0-52 1 42 0 2 0 2 0 2 0 1 0 1 0 7 0-48 1 33 0 4 0 3 0 5 0 14 0-26 1 4 0 4 0-11 1 1 0 1 0 2 0 7 0 5 0-15 1 1 0 1 0 3 0 2 0-7 1 3 0 7 0 5 0 1 0 1 0-18 1 1 0 2 0 7 0 1 0 2 0 3 0 1 0 2 0 2 0-19 1 8 0 2 0 1 0 1 0 1 0 1 0 2 0 20 0-33 1 6 0 3 0 1 0 3 0 1 0-9 1 4 0 1 0 12 0 1 0 4 0 3 0-30 1 1 0 1 0 2 0 2 0 2 0 3 0 1 0-14 1 2 0 2 0 5 0 5 0-32 1 19 0 13 0 1 0 1 0 3 0-21 1 4 0 7 0 1 0 2 0 2 0 1 0 1 0 3 0 1 0 2 0 1 0-72 1 3 0 40 0 1 0 2 0 2 0 1 0 9 0 1 0 1 0 1 0 2 0 3 0 1 0 1 0 2 0 1 0-22 1 1 0 1 0 7 0 1 0 4 0 2 0 1 0 1 0 3 0 2 0 1 0-30 1 4 0 12 0 1 0 3 0 1 0 2 0 2 0 2 0 1 0 1 0 2 0-34 1 7 0 1 0 1 0 1 0 9 0 3 0 1 0 1 0 3 0 2 0 1 0-57 1 29 0 3 0 1 0 1 0 2 0 4 0 2 0 4 0 1 0 4 0 1 0 2 0 2 0 1 0-75 1 10 0 28 0 10 0 3 0 3 0 1 0 6 0 3 0 2 0 1 0 1 0 2 0 4 0 1 0 2 0 1 0 1 0-38 1 5 0 1 0 1 0 1 0 1 0 13 0 2 0 1 0 1 0 2 0 2 0 3 0 5 0 2 0 7 0-38 1 6 0 1 0 1 0 1 0 2 0 1 0 2 0 2 0 3 0 1 0 1 0 2 0 5 0-53 1 19 0 1 0 4 0 7 0 4 0 2 0 3 0 1 0 3 0 9 0 2 0 3 0 1 0-43 1 2 0 2 0 1 0 2 0 2 0 4 0 2 0 3 0 1 0 1 0 2 0 3 0 1 0 1 0 1 0 1 0 1 0 1 0 1 0 1 0 3 0 4 0-83 1 46 0 1 0 3 0 10 0 2 0 1 0 3 0 1 0 2 0 3 0 3 0 2 0 5 0-65 1 30 0 1 0 2 0 9 0 1 0 2 0 4 0 2 0 3 0 4 0 8 0-46 1 8 0 9 0 2 0 1 0 4 0 1 0 1 0 3 0 4 0 37 0-64 1 4 0 8 0 2 0 6 0 2 0 1 0 1 0 2 0 2 0 14 0-39 1 2 0 10 0 1 0 1 0 2 0 5 0 19 0 1 0-78 1 16 0 20 0 1 0 6 0 1 0 1 0 1 0 3 0 2 0 3 0 1 0 1 0 2 0 1 0 1 0 11 0 5 0 1 0 1 0 20 0-60 1 5 0 4 0 2 0 1 0 3 0 1 0 1 0 3 0 1 0 14 0 3 0 14 0 9 0-53 1 4 0 1 0 4 0 1 0 1 0 1 0 1 0 1 0 1 0 3 0 7 0 2 0 5 0-40 1 1 0 1 0 1 0 6 0 1 0 3 0 3 0 1 0 1 0 1 0 1 0 1 0 2 0 1 0 1 0 3 0 2 0 2 0 2 0 1 0 1 0 1 0 2 0 1 0 2 0-91 1 47 0 1 0 1 0 2 0 1 0 3 0 2 0 1 0 2 0 2 0 4 0 4 0 2 0 2 0 3 0 9 0-40 1 7 0 5 0 1 0 2 0 1 0 6 0 4 0 2 0 2 0 4 0 2 0 3 0 1 0 4 0 1 0-41 1 3 0 2 0 11 0 1 0 2 0 1 0 2 0 2 0 9 0 1 0 8 0-55 1 2 0 5 0 2 0 1 0 1 0 1 0 8 0 3 0 8 0 1 0 2 0 1 0 3 0 2 0 2 0 1 0 6 0 3 0 2 0-49 1 1 0 1 0 2 0 1 0 6 0 1 0 4 0 15 0 1 0 1 0 3 0 2 0 1 0 2 0 1 0 1 0 2 0 2 0-62 1 14 0 1 0 1 0 1 0 1 0 5 0 5 0 16 0 1 0 2 0 5 0 5 0 1 0 2 0 1 0 3 0 19 0 2 0-73 1 5 0 2 0 3 0 1 0 2 0 5 0 2 0 1 0 8 0 7 0 2 0 2 0 4 0 2 0 4 0 7 0 26 0-83 1 1 0 1 0 1 0 1 0 2 0 12 0 1 0 1 0 5 0 5 0 2 0 1 0 1 0 2 0 3 0 1 0 2 0 6 0 6 0 16 0-113 1 43 0 4 0 2 0 9 0 3 0 2 0 1 0 7 0 1 0 3 0 2 0 2 0 4 0 1 0 1 0 8 0 2 0 1 0 1 0 2 0-54 1 1 0 14 0 1 0 4 0 11 0 6 0 9 0 11 0 2 0-77 1 15 0 1 0 3 0 1 0 1 0 1 0 2 0 11 0 8 0 1 0 1 0 4 0 1 0 1 0 1 0 1 0 3 0 1 0 9 0 2 0 1 0 5 0 1 0 9 0-121 1 39 0 14 0 1 0 2 0 1 0 3 0 1 0 1 0 1 0 5 0 1 0 2 0 3 0 2 0 1 0 2 0 2 0 5 0 1 0 7 0 8 0 5 0 5 0 5 0-126 1 61 0 3 0 7 0 1 0 1 0 1 0 7 0 3 0 1 0 2 0 1 0 1 0 1 0 1 0 1 0 1 0 21 0 2 0 5 0 5 0-65 1 3 0 8 0 1 0 1 0 2 0 1 0 5 0 1 0 1 0 1 0 2 0 2 0 2 0 11 0 1 0 10 0 5 0 11 0 4 0 2 0-74 1 11 0 1 0 2 0 5 0 1 0 1 0 4 0 3 0 1 0 5 0 1 0 2 0 4 0 1 0 2 0 2 0 5 0 1 0 2 0 3 0-113 1 52 0 9 0 3 0 4 0 1 0 5 0 1 0 2 0 2 0 2 0 5 0 1 0 2 0 10 0 2 0 7 0 2 0 1 0-66 1 13 0 2 0 1 0 2 0 4 0 3 0 2 0 1 0 1 0 1 0 2 0 1 0 2 0 2 0 1 0 1 0 2 0 4 0 11 0 6 0 2 0 5 0 4 0 8 0-85 1 11 0 4 0 1 0 2 0 12 0 5 0 1 0 5 0 1 0 1 0 2 0 2 0 1 0 2 0 8 0 1 0 4 0 7 0-59 1 1 0 3 0 2 0 2 0 1 0 1 0 2 0 4 0 4 0 2 0 1 0 2 0 1 0 3 0 1 0 3 0 9 0 4 0 2 0 2 0 2 0 13 0 3 0-95 1 29 0 6 0 3 0 2 0 3 0 1 0 4 0 1 0 5 0 2 0 4 0 1 0 8 0 3 0 1 0 1 0 1 0 2 0 1 0 2 0 15 0 2 0-101 1 24 0 3 0 6 0 1 0 2 0 1 0 7 0 3 0 1 0 1 0 1 0 2 0 1 0 7 0 8 0 1 0 4 0 2 0 1 0 3 0 1 0 1 0 1 0 1 0 3 0 1 0 37 0-115 1 19 0 3 0 3 0 4 0 6 0 5 0 5 0 10 0 2 0 3 0 3 0 8 0 1 0 1 0 1 0 1 0 1 0 3 0 2 0 6 0 1 0 1 0-121 1 16 0 40 0 2 0 1 0 3 0 2 0 4 0 2 0 3 0 16 0 4 0 1 0 1 0 2 0 3 0 1 0 1 0 1 0 3 0 1 0 4 0 5 0-105 1 38 0 8 0 4 0 1 0 1 0 1 0 3 0 1 0 2 0 1 0 4 0 1 0 1 0 15 0 3 0 1 0 1 0 7 0 1 0 2 0 6 0 1 0 2 0 4 0 1 0 1 0-120 1 60 0 1 0 2 0 4 0 2 0 1 0 1 0 1 0 17 0 1 0 10 0 1 0 1 0 1 0 1 0 2 0 1 0 1 0 2 0 8 0 4 0-70 1 2 0 1 0 4 0 9 0 24 0 1 0 4 0 1 0 2 0 1 0 1 0 2 0 1 0 1 0 1 0 1 0 6 0 1 0 3 0 2 0 3 0 31 0-110 1 4 0 6 0 2 0 1 0 2 0 9 0 2 0 2 0 28 0 1 0 2 0 2 0 11 0 1 0 2 0-66 1 2 0 2 0 6 0 24 0 2 0 13 0 2 0 2 0 7 0 1 0 1 0 3 0 23 0-90 1 1 0 2 0 7 0 38 0 1 0 5 0 3 0 3 0 3 0-96 1 16 0 4 0 7 0 6 0 3 0 2 0 2 0 2 0 19 0 8 0 1 0 1 0 9 0 4 0 2 0 1 0 3 0 2 0 1 0 1 0 1 0 1 0 2 0 1 0-116 1 22 0 28 0 2 0 4 0 1 0 6 0 7 0 1 0 16 0 1 0 10 0 2 0 2 0 2 0 1 0 3 0 3 0 2 0 2 0 1 0-73 1 9 0 1 0 4 0 1 0 1 0 11 0 17 0 2 0 9 0 7 0 5 0 13 0 2 0 3 0 21 0-128 1 26 0 1 0 1 0 2 0 4 0 1 0 3 0 1 0 2 0 6 0 2 0 2 0 1 0 3 0 26 0 1 0 1 0 1 0 11 0 3 0 1 0 5 0 9 0 13 0-113 1 9 0 2 0 2 0 2 0 8 0 2 0 1 0 2 0 1 0 1 0 1 0 1 0 1 0 3 0 1 0 15 0 4 0 1 0 2 0 2 0 7 0 7 0 10 0 6 0 2 0 5 0-90 1 1 0 3 0 2 0 3 0 3 0 3 0 4 0 1 0 3 0 1 0 1 0 1 0 18 0 2 0 1 0 3 0 4 0 1 0 5 0 15 0 10 0-89 1 5 0 4 0 1 0 1 0 2 0 1 0 1 0 3 0 3 0 1 0 2 0 1 0 3 0 4 0 14 0 3 0 3 0 3 0 4 0 1 0 2 0 2 0 10 0 4 0 1 0 5 0-144 1 68 0 2 0 3 0 2 0 4 0 2 0 2 0 1 0 1 0 1 0 5 0 1 0 2 0 18 0 1 0 1 0 2 0 1 0 6 0 1 0 1 0 1 0 2 0 6 0 1 0 15 0-83 1 1 0 2 0 1 0 1 0 2 0 1 0 1 0 1 0 1 0 1 0 1 0 2 0 2 0 5 0 5 0 8 0 1 0 7 0 1 0 7 0 2 0 4 0 2 0 10 0 2 0 3 0 7 0 29 0-171 1 1 0 54 0 9 0 3 0 1 0 1 0 1 0 1 0 1 0 3 0 1 0 3 0 1 0 1 0 2 0 5 0 1 0 3 0 1 0 1 0 1 0 3 0 3 0 18 0 1 0 9 0 3 0 1 0 7 0 4 0-79 1 2 0 1 0 1 0 5 0 2 0 2 0 1 0 1 0 2 0 1 0 1 0 9 0 2 0 3 0 3 0 21 0 1 0 1 0 3 0 5 0-137 1 21 0 36 0 14 0 3 0 5 0 1 0 1 0 1 0 6 0 1 0 1 0 1 0 2 0 2 0 1 0 2 0 1 0 2 0 1 0 1 0 2 0 1 0 2 0 2 0 15 0 6 0 1 0 3 0 4 0 1 0 1 0 1 0-101 1 18 0 8 0 1 0 1 0 1 0 3 0 1 0 2 0 1 0 2 0 2 0 1 0 3 0 2 0 1 0 4 0 1 0 3 0 1 0 1 0 3 0 2 0 19 0 1 0 1 0 3 0 2 0 3 0 2 0-89 1 16 0 10 0 2 0 4 0 3 0 1 0 8 0 1 0 7 0 4 0 3 0 2 0 7 0 10 0 6 0-63 1 3 0 1 0 3 0 3 0 3 0 1 0 1 0 2 0 5 0 6 0 1 0 1 0 5 0 1 0 1 0 2 0 8 0 23 0 2 0 2 0 1 0 1 0 2 0 11 0 30 0-134 1 13 0 3 0 2 0 2 0 1 0 1 0 2 0 2 0 3 0 1 0 3 0 3 0 5 0 4 0 3 0 1 0 1 0 4 0 20 0 3 0 1 0 3 0 1 0 4 0 2 0 3 0 1 0-106 1 19 0 9 0 4 0 1 0 1 0 2 0 1 0 2 0 3 0 2 0 1 0 1 0 1 0 13 0 6 0 1 0 2 0 6 0 1 0 1 0 1 0 3 0 1 0 1 0 4 0 2 0 2 0 4 0 5 0 2 0 1 0 40 0 2 0-139 1 20 0 4 0 1 0 2 0 1 0 2 0 3 0 4 0 3 0 2 0 12 0 5 0 3 0 8 0 3 0 2 0 2 0 1 0 1 0 8 0 1 0 5 0 1 0 3 0 1 0 3 0 2 0 7 0-91 1 1 0 2 0 1 0 2 0 6 0 4 0 1 0 1 0 1 0 2 0 3 0 12 0 4 0 2 0 1 0 5 0 3 0 2 0 3 0 1 0 1 0 1 0 1 0 2 0 1 0 2 0 1 0 1 0 2 0 4 0 1 0 1 0 1 0 1 0 1 0 1 0 1 0 1 0 4 0 4 0 10 0-155 1 54 0 5 0 1 0 1 0 1 0 2 0 3 0 2 0 1 0 1 0 3 0 2 0 1 0 1 0 1 0 1 0 2 0 12 0 9 0 2 0 1 0 1 0 2 0 7 0 1 0 1 0 2 0 1 0 3 0 2 0 2 0 2 0 7 0 1 0 4 0 3 0 1 0-143 1 51 0 1 0 1 0 1 0 1 0 2 0 1 0 3 0 1 0 3 0 1 0 3 0 1 0 1 0 3 0 2 0 1 0 1 0 2 0 12 0 5 0 1 0 2 0 2 0 5 0 2 0 2 0 2 0 1 0 5 0 1 0 1 0 3 0 1 0 5 0 1 0 2 0 7 0 4 0-157 1 12 0 4 0 41 0 1 0 2 0 7 0 1 0 1 0 3 0 2 0 1 0 1 0 1 0 3 0 3 0 4 0 2 0 2 0 11 0 1 0 4 0 1 0 5 0 4 0 1 0 6 0 1 0 2 0 3 0 1 0 1 0 1 0 4 0 1 0 5 0 1 0 2 0 1 0 6 0 2 0 3 0 1 0-113 1 3 0 1 0 17 0 1 0 1 0 3 0 1 0 1 0 1 0 1 0 1 0 2 0 1 0 3 0 2 0 1 0 1 0 1 0 2 0 15 0 1 0 2 0 2 0 6 0 4 0 1 0 3 0 1 0 1 0 1 0 1 0 4 0 2 0 1 0 2 0 2 0 4 0 1 0 1 0 2 0 1 0 8 0 4 0 14 0-116 1 1 0 4 0 3 0 3 0 1 0 3 0 1 0 6 0 6 0 10 0 7 0 1 0 3 0 2 0 1 0 1 0 5 0 4 0 3 0 1 0 3 0 1 0 3 0 8 0 6 0 1 0 1 0 6 0 21 0-171 1 65 0 1 0 2 0 3 0 6 0 7 0 2 0 1 0 18 0 1 0 2 0 1 0 3 0 1 0 9 0 1 0 1 0 2 0 8 0 1 0 1 0 2 0 5 0 1 0 5 0-159 1 9 0 43 0 14 0 1 0 3 0 1 0 4 0 1 0 1 0 1 0 2 0 1 0 10 0 1 0 3 0 14 0 6 0 2 0 1 0 2 0 1 0 2 0 6 0 1 0 1 0 2 0 2 0 1 0 1 0 6 0 1 0 1 0 1 0 1 0 1 0 4 0-142 1 62 0 1 0 1 0 1 0 1 0 4 0 2 0 1 0 1 0 1 0 4 0 2 0 1 0 2 0 22 0 1 0 1 0 2 0 10 0 5 0 3 0 3 0 1 0 1 0 2 0 3 0 1 0 1 0 1 0 4 0 2 0 2 0 1 0 31 0-184 1 19 0 24 0 16 0 1 0 2 0 6 0 2 0 4 0 1 0 2 0 2 0 2 0 4 0 3 0 1 0 7 0 19 0 2 0 2 0 1 0 2 0 1 0 1 0 1 0 1 0 3 0 1 0 1 0 7 0 2 0 1 0 2 0 2 0 1 0 1 0 1 0 1 0 11 0-119 1 25 0 2 0 1 0 3 0 7 0 2 0 3 0 1 0 8 0 1 0 1 0 20 0 1 0 2 0 2 0 1 0 1 0 1 0 1 0 1 0 2 0 4 0 5 0 1 0 1 0 4 0 3 0 1 0 1 0 1 0 1 0 1 0 2 0 3 0 5 0-104 1 7 0 1 0 1 0 1 0 1 0 1 0 2 0 1 0 2 0 1 0 2 0 1 0 3 0 1 0 1 0 1 0 1 0 1 0 2 0 5 0 4 0 6 0 4 0 2 0 7 0 2 0 2 0 6 0 2 0 1 0 2 0 5 0 4 0 1 0 1 0 4 0 1 0 1 0 1 0 2 0 1 0 1 0 1 0 2 0 3 0 1 0 1 0 16 0-137 1 3 0 8 0 10 0 6 0 2 0 2 0 1 0 4 0 3 0 1 0 1 0 2 0 7 0 2 0 5 0 6 0 1 0 1 0 1 0 2 0 10 0 2 0 3 0 1 0 4 0 3 0 3 0 6 0 3 0 2 0 3 0 1 0 3 0 4 0 2 0-127 1 12 0 2 0 9 0 12 0 3 0 2 0 3 0 2 0 3 0 1 0 2 0 1 0 1 0 1 0 7 0 3 0 1 0 6 0 2 0 1 0 1 0 4 0 4 0 6 0 2 0 9 0 5 0 1 0 2 0 2 0 2 0 2 0 6 0 3 0 1 0 3 0 1 0-115 1 21 0 2 0 1 0 2 0 1 0 1 0 3 0 1 0 1 0 1 0 1 0 1 0 1 0 2 0 1 0 2 0 1 0 2 0 1 0 1 0 2 0 5 0 2 0 5 0 7 0 2 0 1 0 4 0 2 0 2 0 1 0 1 0 2 0 2 0 5 0 1 0 4 0 2 0 3 0 4 0 4 0 3 0 2 0 4 0-117 1 14 0 9 0 1 0 8 0 1 0 1 0 1 0 1 0 1 0 3 0 1 0 2 0 2 0 7 0 6 0 1 0 1 0 1 0 1 0 3 0 2 0 4 0 2 0 5 0 2 0 2 0 1 0 1 0 1 0 1 0 6 0 2 0 3 0 1 0 1 0 1 0 1 0 2 0 2 0 2 0 1 0 1 0 6 0-159 1 17 0 25 0 1 0 11 0 2 0 10 0 1 0 1 0 3 0 1 0 5 0 2 0 4 0 2 0 2 0 1 0 5 0 2 0 1 0 1 0 3 0 9 0 1 0 17 0 2 0 1 0 1 0 1 0 3 0 2 0 1 0 1 0 1 0 3 0 1 0 1 0 3 0 5 0 4 0 1 0 1 0 1 0 16 0-150 1 12 0 3 0 2 0 7 0 6 0 9 0 4 0 8 0 7 0 1 0 3 0 3 0 2 0 1 0 6 0 2 0 3 0 4 0 11 0 6 0 1 0 3 0 7 0 2 0 4 0 3 0 1 0 4 0 3 0 1 0-139 1 25 0 15 0 10 0 2 0 2 0 1 0 1 0 2 0 4 0 3 0 12 0 2 0 1 0 1 0 5 0 1 0 2 0 17 0 2 0 4 0 2 0 1 0 1 0 2 0 2 0 2 0 4 0 6 0 5 0 4 0 2 0 1 0-168 1 22 0 25 0 2 0 5 0 17 0 9 0 8 0 3 0 2 0 2 0 3 0 1 0 2 0 6 0 20 0 2 0 9 0 2 0 1 0 4 0 7 0 1 0 1 0 2 0 2 0 2 0 2 0 3 0 2 0 1 0 1 0-131 1 32 0 5 0 1 0 2 0 1 0 1 0 10 0 6 0 1 0 2 0 1 0 5 0 3 0 20 0 10 0 1 0 4 0 2 0 11 0 4 0 3 0 2 0 32 0-149 1 3 0 2 0 20 0 1 0 1 0 1 0 2 0 3 0 6 0 4 0 1 0 1 0 1 0 1 0 2 0 1 0 12 0 33 0 4 0 1 0 1 0 5 0 1 0 2 0 3 0 6 0 6 0-144 1 25 0 21 0 1 0 1 0 4 0 4 0 1 0 6 0 1 0 5 0 1 0 5 0 5 0 1 0 3 0 18 0 9 0 1 0 3 0 3 0 1 0 4 0 4 0 2 0 2 0 5 0 5 0 3 0 1 0-138 1 7 0 11 0 2 0 1 0 8 0 10 0 1 0 1 0 3 0 2 0 2 0 1 0 2 0 1 0 7 0 1 0 6 0 1 0 2 0 2 0 1 0 3 0 1 0 6 0 2 0 4 0 2 0 16 0 2 0 1 0 2 0 2 0 1 0 2 0 2 0 2 0 2 0 1 0 6 0 5 0 1 0 6 0-175 1 41 0 4 0 11 0 7 0 1 0 4 0 3 0 1 0 1 0 3 0 1 0 2 0 1 0 5 0 10 0 1 0 1 0 1 0 2 0 3 0 1 0 4 0 2 0 7 0 1 0 2 0 18 0 1 0 2 0 1 0 3 0 1 0 1 0 2 0 1 0 1 0 2 0 2 0 1 0 3 0 2 0 1 0 1 0 9 0 3 0 6 0 11 0-166 1 25 0 4 0 2 0 2 0 3 0 1 0 8 0 1 0 3 0 3 0 1 0 6 0 2 0 2 0 2 0 3 0 8 0 1 0 2 0 1 0 6 0 3 0 6 0 14 0 6 0 2 0 1 0 2 0 7 0 1 0 2 0 5 0 3 0 4 0 2 0 4 0 9 0-181 1 27 0 11 0 12 0 4 0 1 0 6 0 3 0 4 0 1 0 1 0 1 0 2 0 1 0 1 0 3 0 2 0 1 0 3 0 3 0 2 0 2 0 1 0 3 0 5 0 2 0 5 0 1 0 1 0 4 0 1 0 3 0 14 0 8 0 4 0 3 0 1 0 1 0 2 0 2 0 1 0 4 0 25 0 6 0-163 1 3 0 15 0 2 0 4 0 5 0 2 0 2 0 4 0 2 0 5 0 1 0 3 0 2 0 1 0 1 0 4 0 1 0 1 0 8 0 1 0 5 0 1 0 2 0 1 0 2 0 2 0 1 0 1 0 1 0 4 0 20 0 1 0 3 0 2 0 1 0 1 0 3 0 1 0 2 0 3 0 1 0 1 0 1 0 3 0 6 0 15 0-177 1 28 0 9 0 1 0 5 0 1 0 2 0 5 0 4 0 5 0 2 0 1 0 1 0 5 0 2 0 1 0 4 0 2 0 1 0 1 0 2 0 5 0 1 0 2 0 1 0 1 0 4 0 4 0 1 0 2 0 1 0 1 0 1 0 1 0 1 0 2 0 1 0 2 0 7 0 15 0 2 0 4 0 1 0 1 0 4 0 1 0 2 0 3 0 22 0-150 1 3 0 2 0 1 0 14 0 10 0 1 0 4 0 4 0 9 0 2 0 2 0 5 0 1 0 1 0 1 0 2 0 1 0 3 0 1 0 3 0 3 0 2 0 3 0 2 0 2 0 3 0 2 0 1 0 7 0 2 0 15 0 5 0 4 0 1 0 1 0 5 0 1 0 1 0 4 0 18 0 4 0 3 0-155 1 1 0 12 0 13 0 1 0 1 0 1 0 3 0 6 0 3 0 2 0 3 0 2 0 2 0 1 0 4 0 5 0 1 0 1 0 2 0 2 0 2 0 1 0 2 0 8 0 5 0 1 0 10 0 4 0 2 0 5 0 12 0 2 0 1 0 1 0 1 0 2 0 6 0 1 0 9 0 4 0 2 0 3 0 1 0-152 1 15 0 2 0 3 0 5 0 1 0 2 0 1 0 1 0 3 0 2 0 7 0 1 0 4 0 4 0 1 0 1 0 6 0 5 0 1 0 1 0 2 0 1 0 1 0 2 0 2 0 1 0 1 0 9 0 11 0 6 0 2 0 16 0 5 0 3 0 3 0 1 0 1 0 2 0 5 0 3 0 1 0 1 0 4 0 3 0-154 1 1 0 3 0 2 0 6 0 7 0 8 0 2 0 9 0 2 0 1 0 4 0 1 0 1 0 3 0 1 0 15 0 6 0 3 0 2 0 1 0 4 0 1 0 16 0 4 0 2 0 19 0 3 0 1 0 2 0 3 0 10 0 3 0 8 0-155 1 1 0 2 0 1 0 3 0 1 0 5 0 4 0 1 0 7 0 3 0 3 0 1 0 12 0 2 0 1 0 3 0 2 0 1 0 13 0 3 0 1 0 1 0 5 0 1 0 1 0 5 0 11 0 30 0 2 0 1 0 3 0 16 0 2 0 2 0 4 0-154 1 1 0 1 0 16 0 7 0 2 0 2 0 1 0 10 0 3 0 2 0 1 0 3 0 1 0 16 0 1 0 3 0 2 0 1 0 1 0 3 0 1 0 5 0 11 0 6 0 4 0 3 0 1 0 2 0 10 0 4 0 2 0 2 0 1 0 3 0 11 0 9 0 3 0-156 1 4 0 1 0 2 0 11 0 1 0 1 0 3 0 6 0 3 0 2 0 23 0 4 0 7 0 2 0 1 0 2 0 1 0 3 0 1 0 2 0 6 0 6 0 5 0 1 0 6 0 1 0 1 0 1 0 1 0 2 0 1 0 1 0 8 0 7 0 2 0 2 0 18 0 2 0 1 0 1 0 1 0 1 0 1 0-154 1 3 0 13 0 1 0 3 0 6 0 1 0 2 0 4 0 1 0 1 0 6 0 2 0 1 0 11 0 2 0 1 0 1 0 2 0 2 0 1 0 6 0 2 0 2 0 2 0 14 0 2 0 4 0 8 0 1 0 4 0 11 0 4 0 1 0 4 0 15 0 3 0 2 0 2 0 1 0-153 1 1 0 1 0 3 0 5 0 1 0 3 0 4 0 3 0 2 0 1 0 3 0 2 0 1 0 1 0 1 0 1 0 8 0 8 0 10 0 3 0 2 0 1 0 1 0 1 0 1 0 1 0 2 0 4 0 2 0 1 0 8 0 3 0 1 0 4 0 1 0 3 0 3 0 2 0 1 0 7 0 1 0 13 0 19 0 2 0 1 0 5 0 7 0 17 0-193 1 22 0 1 0 15 0 2 0 1 0 2 0 2 0 1 0 2 0 1 0 1 0 1 0 7 0 10 0 2 0 11 0 3 0 3 0 1 0 2 0 2 0 13 0 1 0 1 0 1 0 2 0 1 0 1 0 2 0 3 0 3 0 3 0 6 0 4 0 1 0 1 0 7 0 2 0 8 0 5 0 5 0 6 0 3 0 1 0 7 0 14 0-206 1 38 0 1 0 1 0 10 0 2 0 4 0 2 0 24 0 10 0 3 0 5 0 4 0 1 0 17 0 2 0 1 0 1 0 2 0 1 0 7 0 3 0 2 0 1 0 2 0 3 0 10 0 1 0 1 0 5 0 1 0 7 0 1 0 1 0 6 0 1 0 2 0 9 0 13 0-173 1 1 0 2 0 10 0 5 0 3 0 2 0 2 0 1 0 2 0 1 0 5 0 22 0 3 0 1 0 5 0 1 0 7 0 3 0 11 0 2 0 3 0 1 0 1 0 1 0 1 0 5 0 1 0 3 0 2 0 1 0 1 0 2 0 1 0 12 0 1 0 1 0 5 0 5 0 1 0 3 0 1 0 10 0 1 0 12 0-163 1 1 0 2 0 4 0 4 0 9 0 2 0 1 0 1 0 3 0 2 0 5 0 3 0 16 0 2 0 4 0 3 0 1 0 1 0 3 0 1 0 2 0 14 0 3 0 3 0 1 0 1 0 3 0 1 0 7 0 1 0 5 0 1 0 1 0 1 0 1 0 11 0 8 0 4 0 2 0 5 0 6 0 1 0 1 0-149 1 2 0 3 0 1 0 2 0 10 0 1 0 1 0 1 0 1 0 4 0 1 0 1 0 1 0 3 0 4 0 12 0 5 0 4 0 2 0 3 0 4 0 1 0 18 0 2 0 3 0 3 0 1 0 4 0 6 0 2 0 6 0 1 0 8 0 2 0 6 0 1 0 4 0 4 0 2 0 11 0 11 0-188 1 18 0 2 0 4 0 3 0 6 0 1 0 3 0 3 0 2 0 2 0 5 0 5 0 1 0 1 0 20 0 4 0 1 0 1 0 1 0 9 0 4 0 6 0 11 0 1 0 1 0 2 0 3 0 4 0 14 0 1 0 9 0 6 0 7 0 12 0 2 0 1 0 2 0 5 0 5 0-164 1 3 0 4 0 5 0 1 0 10 0 4 0 4 0 1 0 4 0 16 0 1 0 1 0 8 0 6 0 8 0 6 0 7 0 1 0 1 0 1 0 12 0 7 0 8 0 4 0 1 0 4 0 18 0 1 0 1 0 1 0-150 1 7 0 1 0 4 0 3 0 5 0 1 0 8 0 2 0 3 0 1 0 1 0 1 0 1 0 21 0 9 0 10 0 4 0 9 0 1 0 1 0 3 0 9 0 1 0 2 0 1 0 2 0 6 0 12 0 3 0 1 0 15 0 5 0 1 0 1 0 2 0 4 0-171 1 5 0 1 0 11 0 5 0 2 0 3 0 2 0 9 0 5 0 3 0 11 0 4 0 1 0 4 0 6 0 1 0 14 0 2 0 2 0 9 0 1 0 3 0 1 0 2 0 5 0 1 0 1 0 2 0 3 0 18 0 2 0 2 0 3 0 20 0 4 0 9 0-164 1 10 0 4 0 1 0 5 0 5 0 3 0 1 0 4 0 1 0 17 0 2 0 7 0 3 0 11 0 2 0 11 0 3 0 1 0 1 0 2 0 7 0 3 0 1 0 8 0 3 0 1 0 9 0 4 0 1 0 22 0 1 0 2 0-145 1 2 0 4 0 1 0 2 0 1 0 4 0 1 0 3 0 2 0 1 0 4 0 1 0 12 0 2 0 4 0 6 0 2 0 12 0 4 0 10 0 11 0 2 0 2 0 9 0 11 0 1 0 2 0 2 0 22 0 7 0-146 1 7 0 1 0 1 0 8 0 5 0 2 0 4 0 1 0 1 0 2 0 1 0 5 0 1 0 25 0 1 0 2 0 11 0 1 0 1 0 10 0 1 0 4 0 1 0 7 0 1 0 2 0 2 0 4 0 7 0 19 0 2 0 10 0-182 1 20 0 10 0 4 0 2 0 3 0 2 0 9 0 1 0 1 0 1 0 2 0 1 0 4 0 4 0 1 0 1 0 1 0 6 0 4 0 1 0 2 0 1 0 1 0 3 0 3 0 2 0 21 0 7 0 4 0 6 0 2 0 1 0 1 0 2 0 2 0 2 0 2 0 1 0 2 0 3 0 3 0 1 0 1 0 23 0 1 0-152 1 5 0 1 0 1 0 5 0 6 0 7 0 1 0 1 0 2 0 5 0 1 0 2 0 7 0 1 0 1 0 1 0 1 0 1 0 1 0 3 0 2 0 1 0 1 0 2 0 4 0 35 0 1 0 1 0 3 0 2 0 1 0 1 0 1 0 1 0 5 0 4 0 3 0 3 0 1 0 2 0 4 0 1 0 10 0 21 0-162 1 8 0 1 0 1 0 3 0 4 0 14 0 1 0 13 0 3 0 2 0 2 0 1 0 1 0 3 0 2 0 1 0 1 0 6 0 5 0 18 0 6 0 1 0 6 0 1 0 1 0 3 0 5 0 1 0 4 0 5 0-122 1 4 0 4 0 5 0 1 0 1 0 1 0 7 0 4 0 1 0 1 0 1 0 1 0 1 0 2 0 3 0 2 0 2 0 1 0 1 0 4 0 1 0 1 0 2 0 1 0 1 0 3 0 37 0 2 0 3 0 1 0 1 0 4 0 3 0 1 0 2 0 2 0 1 0 1 0 1 0 2 0 2 0 2 0 2 0 8 0 14 0 5 0 8 0-186 1 5 0 16 0 8 0 4 0 1 0 1 0 1 0 5 0 1 0 9 0 1 0 2 0 3 0 2 0 3 0 6 0 1 0 2 0 1 0 1 0 1 0 2 0 1 0 1 0 3 0 4 0 2 0 1 0 1 0 22 0 12 0 3 0 1 0 2 0 3 0 2 0 2 0 1 0 1 0 7 0 1 0 5 0 2 0 1 0 7 0 13 0-152 1 7 0 2 0 1 0 1 0 2 0 1 0 2 0 1 0 9 0 5 0 1 0 3 0 4 0 1 0 1 0 4 0 1 0 1 0 1 0 2 0 1 0 3 0 1 0 6 0 1 0 2 0 3 0 1 0 11 0 3 0 16 0 8 0 3 0 1 0 2 0 1 0 2 0 2 0 5 0 4 0 4 0 2 0 2 0 12 0 3 0 2 0 1 0 12 0-182 1 25 0 2 0 2 0 6 0 7 0 6 0 4 0 1 0 2 0 1 0 9 0 3 0 7 0 1 0 2 0 1 0 1 0 3 0 1 0 21 0 22 0 3 0 3 0 3 0 4 0 1 0 2 0 2 0 3 0 1 0 16 0 1 0 2 0 2 0 1 0 2 0 3 0-159 1 10 0 1 0 1 0 1 0 3 0 1 0 8 0 5 0 1 0 1 0 1 0 2 0 1 0 4 0 4 0 3 0 1 0 2 0 1 0 1 0 1 0 1 0 7 0 3 0 2 0 1 0 13 0 3 0 6 0 1 0 1 0 4 0 11 0 4 0 1 0 1 0 9 0 1 0 1 0 4 0 2 0 4 0 1 0 4 0 1 0 2 0 2 0 4 0 1 0 5 0 1 0 4 0 4 0 1 0 1 0 1 0-168 1 6 0 9 0 1 0 12 0 3 0 1 0 3 0 3 0 2 0 1 0 2 0 3 0 2 0 3 0 4 0 2 0 1 0 4 0 51 0 2 0 7 0 5 0 1 0 4 0 2 0 4 0 9 0 2 0 1 0 2 0 3 0 4 0 1 0-156 1 12 0 1 0 1 0 1 0 7 0 8 0 1 0 1 0 1 0 1 0 1 0 2 0 4 0 1 0 2 0 1 0 2 0 2 0 3 0 2 0 3 0 1 0 1 0 22 0 27 0 1 0 3 0 1 0 1 0 1 0 10 0 2 0 6 0 1 0 4 0 2 0 2 0 2 0 1 0 1 0 1 0 1 0 2 0 1 0 2 0 1 0 1 0 1 0 2 0 1 0 4 0-196 1 42 0 2 0 1 0 12 0 5 0 1 0 3 0 2 0 4 0 1 0 1 0 2 0 2 0 2 0 1 0 4 0 2 0 1 0 1 0 9 0 5 0 10 0 1 0 1 0 2 0 3 0 1 0 1 0 2 0 1 0 1 0 15 0 6 0 1 0 5 0 1 0 1 0 3 0 5 0 3 0 4 0 8 0 2 0 1 0 2 0 1 0 1 0 1 0 1 0 3 0 1 0 1 0 1 0-200 1 11 0 28 0 2 0 1 0 13 0 1 0 1 0 6 0 2 0 1 0 4 0 3 0 1 0 1 0 9 0 2 0 1 0 3 0 7 0 2 0 4 0 2 0 1 0 6 0 9 0 2 0 8 0 2 0 3 0 12 0 4 0 1 0 1 0 1 0 1 0 1 0 3 0 9 0 2 0 1 0 5 0 14 0 1 0 1 0 1 0-196 1 52 0 6 0 7 0 1 0 1 0 1 0 3 0 1 0 1 0 4 0 4 0 3 0 2 0 2 0 4 0 1 0 4 0 9 0 1 0 23 0 1 0 3 0 1 0 4 0 1 0 3 0 6 0 4 0 1 0 1 0 1 0 1 0 2 0 4 0 2 0 2 0 2 0 2 0 1 0 1 0 1 0 1 0 5 0 1 0 1 0 6 0 1 0 1 0 3 0 1 0 1 0-188 1 28 0 11 0 8 0 9 0 8 0 1 0 2 0 1 0 2 0 3 0 1 0 2 0 1 0 1 0 3 0 1 0 1 0 2 0 1 0 1 0 24 0 5 0 3 0 1 0 1 0 2 0 1 0 1 0 3 0 1 0 2 0 1 0 17 0 3 0 4 0 1 0 1 0 2 0 3 0 2 0 1 0 1 0 2 0 6 0 7 0 6 0-189 1 34 0 4 0 1 0 2 0 12 0 3 0 1 0 3 0 1 0 7 0 1 0 1 0 1 0 2 0 1 0 2 0 1 0 1 0 1 0 3 0 2 0 4 0 7 0 4 0 13 0 5 0 7 0 2 0 2 0 10 0 13 0 2 0 3 0 2 0 3 0 2 0 1 0 3 0-141 1 8 0 8 0 1 0 5 0 11 0 3 0 2 0 1 0 1 0 1 0 1 0 1 0 1 0 1 0 8 0 6 0 1 0 1 0 12 0 14 0 2 0 1 0 1 0 1 0 1 0 2 0 4 0 1 0 1 0 1 0 1 0 2 0 6 0 4 0 1 0 4 0 7 0 1 0 1 0 4 0 4 0 5 0 1 0-156 1 6 0 13 0 2 0 3 0 4 0 13 0 2 0 2 0 6 0 4 0 1 0 1 0 3 0 3 0 2 0 1 0 1 0 1 0 4 0 4 0 23 0 5 0 2 0 8 0 1 0 2 0 1 0 1 0 1 0 3 0 1 0 1 0 13 0 3 0 2 0 13 0 5 0-147 1 12 0 4 0 10 0 2 0 6 0 1 0 1 0 2 0 5 0 3 0 1 0 2 0 1 0 2 0 28 0 6 0 8 0 3 0 1 0 3 0 3 0 1 0 1 0 2 0 2 0 1 0 3 0 1 0 1 0 7 0 3 0 1 0 2 0 1 0 2 0 2 0 1 0 2 0-173 1 18 0 4 0 8 0 17 0 4 0 4 0 10 0 2 0 4 0 7 0 6 0 2 0 35 0 2 0 7 0 2 0 1 0 2 0 1 0 1 0 1 0 3 0 1 0 3 0 1 0 1 0 18 0 1 0 1 0 2 0 1 0 2 0-160 1 1 0 6 0 3 0 1 0 4 0 22 0 2 0 3 0 1 0 5 0 5 0 1 0 1 0 5 0 52 0 6 0 2 0 1 0 4 0 1 0 1 0 15 0 13 0-153 1 1 0 4 0 5 0 1 0 5 0 22 0 1 0 6 0 6 0 14 0 51 0 3 0 2 0 2 0 2 0 1 0 2 0 19 0-153 1 2 0 1 0 6 0 2 0 9 0 22 0 8 0 12 0 6 0 1 0 1 0 1 0 47 0 3 0 11 0 1 0 2 0 1 0 1 0 12 0-152 1 8 0 2 0 1 0 3 0 4 0 2 0 2 0 1 0 22 0 3 0 6 0 1 0 8 0 10 0 50 0 2 0 8 0 4 0 1 0 1 0-135 1 5 0 3 0 3 0 1 0 3 0 30 0 2 0 4 0 16 0 5 0 44 0 1 0 1 0 2 0 1 0 1 0 8 0 1 0 1 0 3 0-133 1 9 0 1 0 4 0 14 0 15 0 1 0 1 0 6 0 57 0 4 0 3 0 2 0 1 0 1 0 12 0-130 1 8 0 1 0 1 0 2 0 1 0 13 0 14 0 5 0 2 0 5 0 1 0 9 0 51 0 1 0 1 0 1 0-112 1 6 0 1 0 3 0 1 0 12 0 16 0 7 0 66 0-128 1 19 0 1 0 3 0 4 0 18 0 1 0 1 0 10 0 7 0 2 0 7 0-50 1 3 0 1 0 34 0 2 0 1 0 2 0 7 0 2 0-57 1 5 0 1 0 2 0 3 0 29 0 1 0 1 0 1 0 4 0-68 1 44 0 4 0 11 0 3 0 1 0 2 0 1 0 1 0 1 0 1 0-49 1 34 0 3 0 2 0 1 0 2 0 2 0 2 0 1 0 1 0-62 1 14 0 2 0 22 0 4 0 4 0 3 0 2 0 1 0 3 0 4 0 3 0 2 0-64 1 1 0 3 0 35 0 1 0 2 0 4 0 3 0 1 0 5 0 4 0-60 1 12 0 27 0 1 0 3 0 1 0 13 0 3 0 5 0-59 1 5 0 2 0 2 0 24 0 1 0 3 0 1 0 6 0 1 0 5 0 2 0 1 0 3 0 2 0-62 1 4 0 8 0 2 0 21 0 2 0 1 0 2 0 4 0 5 0 3 0 6 0 2 0-60 1 3 0 2 0 1 0 1 0 30 0 1 0 1 0 4 0 2 0 3 0 7 0 4 0 1 0-66 1 7 0 4 0 2 0 1 0 7 0 23 0 1 0 7 0 1 0 1 0 1 0 1 0 2 0 1 0 4 0-61 1 2 0 11 0 1 0 4 0 24 0 6 0 7 0 1 0 2 0 1 0 1 0-58 1 3 0 1 0 4 0 4 0 1 0 1 0 4 0 36 0 2 0 1 0 2 0-56 1 2 0 2 0 3 0 3 0 45 0 1 0-69 1 10 0 1 0 3 0 1 0 3 0 17 0 29 0 3 0-58 1 1 0 1 0 2 0 1 0 5 0 2 0 1 0 42 0 1 0 2 0-70 1 19 0-5 1 1 0 1 0 4 0 18 0-39 1 14 0 23 2 14 2 6 0 2 1-19 1-7 1 7 0-34 1 34 0 9 0-19 1 5 0 6 0 1 0 5 0 1 0-53 1 16 0 24 0 6 0 1 0-2 1 3 0 1 0 3 0-9 1 1 0 7 0 1 0 3 0-18 1 11 0 2 0 1 0 4 0-17 1 3 0 1 0 4 0 1 0 1 0 1 0 4 0-13 1 3 0 4 0 3 0 3 0-9 1 1 0 1 0 2 0 3 0 3 0-12 1 3 0 1 0-8 1 1 0 1 0 3 0 2 0 7 0-35 1 23 0 10 0-36 1 7 0 20 0 8 0-42 1 14 0 1 0 2 0 22 0-25 1 3 0 1 0 11 0-16 1 1 0 1 0-25 1 20 0 1 0 2 0 5 0 1 0 18 0-29 1 5 0 1 0 5 0-9 1 3 0 2 0 2 0 1 0 1 0-19 1 9 0 2 0 4 0 2 0 1 0 1 0 1 0 4 0 1 0-8 1 6 0 10 0-17 1 3 0 1 0 1 0-10 1 6 0 4 0 11 0-14 1 1 1 2 2-7 1-10 2 18 0-21 1 7 0 7 0-7 1-21 1 14 0 4 0 2 0 2 0 1 0-8 1 1 0 1 0 2 0 2 0 7 0-15 1 2 0 3 0-7 1 1 0 3 0 6 0-8 1 1 0 2 0 4 0 1 0-7 1 2 0 4 0" class="mk" style="marker:url(#m9)"/>
<path d="M635 1902l-8 3-9 6 33 3-11 1-9 1 15 0-3 1 1 0 8 1-9 1 7 3 1 0-9 1 7 0-11 1 4 0 4 0 1 0 4 0-29 1 1 0 19 0 1 0 1 0 8 0-3 1-37 1 2 0 42 0-62 1 15 0 46 0-10 1 1 0 2 0 8 0-13 1 1 0 1 0 4 0-6 1 16 0-18 1 8 0 2 0 8 0 3 0 1 0 7 0-29 1 2 0-6 1 6 0 10 0-23 1 7 0 6 0 14 0-21 1 19 0 1 0 4 0-73 1 49 0 2 0 1 0 21 0 2 0-29 1 8 0 1 0 11 0 3 0 2 0-63 1 50 0 11 0 1 0 2 0 4 0-11 1 5 0 2 0 3 0-29 1 5 0 13 0 7 0-29 1 1 0 8 0 25 0 3 0-34 1 2 0 12 0 5 0 7 0 8 0-33 1 11 0 1 0-10 1 13 0 14 0-30 1 6 0 1 0 3 0 7 0 5 0 11 0-32 1 8 0 4 0 2 0 2 0 2 0 2 0 1 0-17 1 14 0 1 0 1 0 16 0-23 1 2 0-42 1 32 0 7 0 5 0 2 0 1 0-10 1-51 1 53 0 22 0 5 0-42 1 2 0 5 0 1 0 2 0 1 0 4 0 1 0-9 1 2 0 30 0 21 0-49 1 14 0 3 0 3 0 4 0 1 0 6 0-40 1 6 0 9 0 4 0 1 0 1 0 4 0 6 0 2 0 1 0-39 1 6 0 6 0 11 0 18 0-32 1 1 0 1 0 11 0 3 0 6 0 7 0 2 0 3 0-49 1 13 0 3 0 2 0 2 0 10 0-21 1 5 0 1 0 14 0 1 0 7 0 1 0 4 0 2 0 9 0-52 1 1 0 1 0 5 0 7 0 1 0 15 0 6 0 12 0 12 0-63 1 9 0 2 0 12 0 14 0 6 0 9 0 3 0-22 1 4 0 2 0 1 0 13 0 10 0-60 1 4 0 21 0 6 0 2 0 1 0 7 0 9 0 6 0-60 1 5 0 16 0 2 0 3 0 15 0 17 0 1 0 4 0-61 1 6 0 12 0 10 0 5 0 19 0-103 1 55 0 1 0 9 0 1 0 19 0 2 0 10 0 2 0 8 0 3 0-50 1 8 0 3 0 5 0 2 0 7 0 1 0 12 0-38 1 1 0 3 0 5 0 6 0 3 0 4 0 58 0-90 1 7 0 5 0 3 0 1 0 7 0 5 0 5 0 12 0 2 0-51 1 28 0 9 0 12 0 8 0-40 1 2 0 4 0 4 0 35 0-48 1 4 0 1 0 3 0 7 0 8 0 1 0 7 0 3 0 2 0 13 0 4 0-77 1 15 0 11 0 4 0 1 0 3 0 7 0 8 0 14 0 4 0 1 0-81 1 36 0 22 0 1 0 12 0 6 0 1 0-48 1 6 0 4 0 1 0 19 0 4 0 5 0 28 0-56 1 3 0 1 0 1 0 12 0 3 0 17 0-85 1 67 0 12 0 4 0 2 0 4 0 13 0 27 0-130 1 45 0 1 0 25 0 7 0 7 0 10 0-110 1 35 0 29 0 1 0 29 0 4 0-37 1 1 0 23 0 2 0 7 0 3 0 11 0-66 1 5 0 2 0 46 0 3 0-87 1 34 0 5 0 1 0 2 0 1 0 1 0 44 0 8 0 1 0 6 0-69 1 2 0 18 0 2 0 28 0 3 0 3 0-89 1 32 0 1 0 2 0 2 0 8 0 1 0 39 0 11 0 7 0 7 0-75 1 9 0 1 0 1 0 6 0 18 0 2 0 11 0 2 0 2 0 11 0-73 1 11 0 2 0 3 0 4 0 6 0 2 0 19 0 7 0 37 0-153 1 25 0 22 0 27 0 3 0 5 0 7 0 20 0 8 0 8 0 3 0 3 0 13 0 8 0-87 1 1 0 4 0 1 0 8 0 1 0 4 0 35 0 3 0 20 0 3 0 4 0 2 0 1 0-130 1 49 0 11 0 3 0 3 0 2 0 13 0 13 0-60 1 30 0 1 0 1 0 1 0 3 0 27 0 31 0 20 0-90 1 5 0 1 0 3 0 1 0 1 0 9 0 38 0 3 0-70 1 24 0 23 0 17 0-59 1 2 0 2 0 11 0 1 0 1 0 3 0 1 0 26 0 1 0 10 0 6 0-72 1 2 0 7 0 1 0 6 0 1 0 1 0 11 0 14 0 12 0 1 0 4 0 5 0 5 0-81 1 5 0 16 0 2 0 3 0 3 0 26 0 2 0 19 0 5 0-136 1 52 0 14 0 1 0 5 0 4 0 4 0 14 0 2 0 13 0 11 0 12 0 4 0 1 0 1 0-132 1 8 0 1 0 19 0 2 0 39 0 1 0 6 0 1 0 1 0 12 0 2 0 4 0 7 0-48 1 2 0 9 0 4 0 4 0 4 0 12 0 5 0 1 0 7 0 1 0 14 0 10 0 2 0 16 0-155 1 63 0 13 0 3 0 2 0 15 0 6 0 1 0 3 0 17 0 5 0 3 0 12 0 9 0 4 0-91 1 1 0 4 0 9 0 1 0 2 0 3 0 2 0 28 0 9 0 16 0 3 0-78 1 5 0 2 0 1 0 12 0 1 0 11 0 16 0 5 0 6 0 7 0 2 0 1 0 16 0 5 0-107 1 12 0 4 0 1 0 7 0 3 0 4 0 20 0 6 0 10 0 7 0 7 0 7 0 2 0 12 0 5 0-96 1 7 0 11 0 22 0 10 0 5 0 4 0 2 0 12 0 6 0 11 0 6 0-92 1 13 0 7 0 18 0 1 0 6 0 8 0 4 0 13 0 5 0 4 0 3 0 2 0 4 0-106 1 22 0 1 0 7 0 11 0 14 0 1 0 7 0 1 0 5 0 5 0 7 0 7 0 4 0-72 1 9 0 1 0 1 0 4 0 23 0 11 0 4 0 4 0 1 0 6 0 3 0 1 0 1 0 1 0 2 0 1 0 1 0 1 0 1 0 4 0-85 1 3 0 10 0 12 0 7 0 10 0 1 0 7 0 1 0 16 0 1 0 2 0 2 0 5 0 9 0-84 1 2 0 5 0 14 0 4 0 3 0 19 0 15 0 20 0-77 1 1 0 3 0 12 0 2 0 26 0 11 0 1 0 1 0 2 0 8 0 2 0 8 0 4 0-94 1 4 0 2 0 4 0 2 0 2 0 1 0 1 0 13 0 1 0 22 0 5 0 7 0 15 0 1 0 2 0 3 0 9 0 20 0-101 1 4 0 1 0 2 0 14 0 17 0 2 0 29 0 12 0-76 1 11 0 3 0 6 0 5 0 3 0 1 0 1 0 7 0 8 0 1 0 5 0 5 0 5 0 7 0 6 0 5 0-87 1 5 0 5 0 6 0 1 0 8 0 1 0 1 0 12 0 15 0 3 0 4 0 6 0 1 0 8 0 10 0 1 0 4 0-104 1 5 0 12 0 6 0 15 0 6 0 2 0 16 0 4 0 3 0 1 0 17 0 8 0 11 0 1 0-93 1 13 0 3 0 7 0 2 0 10 0 3 0 21 0 23 0 2 0 1 0 5 0 3 0-122 1 1 0 29 0 1 0 3 0 12 0 4 0 2 0 1 0 2 0 4 0 9 0 15 0 2 0 10 0 11 0 2 0 7 0 5 0-105 1 2 0 8 0 4 0 1 0 11 0 1 0 2 0 6 0 2 0 2 0 4 0 7 0 10 0 2 0 1 0 1 0 1 0 8 0 8 0 11 0 3 0 5 0-87 1 4 0 8 0 1 0 8 0 1 0 2 0 3 0 36 0 9 0 1 0 1 0 3 0 3 0 2 0 3 0-88 1 18 0 4 0 4 0 28 0 16 0 4 0 11 0 2 0-128 1 49 0 15 0 13 0 9 0 1 0 11 0 9 0 8 0 1 0 7 0 4 0 2 0 2 0-92 1 1 0 19 0 4 0 47 0 11 0 1 0 1 0 2 0 4 0 3 0-128 1 13 0 23 0 7 0 10 0 7 0 11 0 4 0 13 0 37 0 1 0-98 1 9 0 32 0 1 0 1 0 15 0 19 0 1 0 2 0 1 0 3 0 1 0 22 0-169 1 57 0 18 0 28 0 4 0 9 0 21 0 17 0 6 0 1 0 2 0 1 0 6 0-151 1 9 0 22 0 10 0 1 0 3 0 1 0 18 0 18 0 4 0 8 0 2 0 27 0 5 0 4 0 2 0 14 0 2 0-129 1 4 0 4 0 4 0 13 0 2 0 6 0 2 0 1 0 3 0 8 0 9 0 10 0 2 0 7 0 6 0 25 0 1 0 1 0 1 0 2 0 6 0 4 0 1 0-132 1 10 0 1 0 18 0 1 0 1 0 5 0 18 0 7 0 9 0 2 0 2 0 2 0 1 0 6 0 22 0 3 0 1 0 2 0 11 0 5 0 3 0 1 0 12 0-117 1 5 0 1 0 10 0 1 0 2 0 4 0 11 0 6 0 14 0 1 0 4 0 4 0 23 0 4 0 3 0 6 0 20 0 19 0-153 1 16 0 2 0 11 0 3 0 2 0 2 0 4 0 2 0 2 0 10 0 2 0 17 0 2 0 22 0 6 0 5 0 2 0 6 0 19 0 7 0-133 1 4 0 4 0 1 0 2 0 1 0 6 0 6 0 2 0 2 0 11 0 1 0 4 0 5 0 2 0 3 0 2 0 3 0 30 0 1 0 1 0 2 0 6 0 3 0 23 0-147 1 16 0 2 0 7 0 9 0 9 0 5 0 9 0 11 0 5 0 1 0 1 0 19 0 1 0 15 0 10 0 7 0 1 0 27 0-156 1 2 0 12 0 1 0 10 0 10 0 5 0 7 0 8 0 6 0 1 0 1 0 5 0 6 0 5 0 45 0 1 0-112 1 12 0 2 0 2 0 12 0 6 0 10 0 4 0 3 0 2 0 1 0 1 0 10 0 21 0 6 0 23 0 3 0 18 0-149 1 10 0 4 0 5 0 9 0 9 0 29 0 14 0 3 0 12 0 2 0 26 0 3 0 16 0 1 0 7 0-149 1 1 0 1 0 23 0 5 0 9 0 2 0 3 0 13 0 9 0 2 0 4 0 1 0 20 0 13 0 18 0 18 0 5 0 1 0 3 0-127 1 5 0 9 0 1 0 12 0 12 0 8 0 46 0 1 0 1 0 10 0 11 0 3 0-143 1 13 0 6 0 7 0 12 0 22 0 4 0 1 0 4 0 2 0 2 0 2 0 11 0 6 0 1 0 12 0 12 0 7 0 11 0 13 0-152 1 5 0 2 0 16 0 31 0 23 0 15 0 8 0 9 0 7 0 3 0 13 0 10 0 8 0 1 0 1 0-131 1 10 0 29 0 2 0 2 0 3 0 2 0 1 0 5 0 22 0 3 0 5 0 9 0 1 0 14 0 1 0 10 0 10 0 3 0 1 0-140 1 6 0 2 0 4 0 2 0 2 0 1 0 10 0 8 0 13 0 3 0 2 0 27 0 4 0 8 0 5 0 3 0 2 0 3 0 7 0 24 0 3 0 3 0 1 0-152 1 3 0 11 0 11 0 3 0 38 0 2 0 21 0 6 0 1 0 17 0 40 0 7 0 1 0-144 1 1 0 7 0 7 0 2 0 19 0 2 0 1 0 3 0 26 0 7 0 1 0 32 0 2 0 1 0 6 0 12 0-128 1 7 0 6 0 30 0 14 0 10 0 7 0 16 0 17 0 4 0 20 0 4 0 8 0-172 1 9 0 20 0 10 0 25 0 13 0 2 0 23 0 2 0 10 0 2 0 3 0 2 0 20 0 17 0 8 0 4 0-161 1 2 0 7 0 13 0 3 0 1 0 3 0 1 0 21 0 10 0 6 0 1 0 26 0 1 0 12 0 6 0 18 0 3 0 24 0 3 0-147 1 3 0 6 0 4 0 24 0 1 0 2 0 27 0 16 0 10 0 8 0 1 0 2 0 2 0 6 0 1 0 25 0-154 1 2 0 13 0 22 0 19 0 3 0 35 0 4 0 20 0 4 0 8 0 2 0 2 0 1 0 2 0 21 0 1 0 2 0 7 0-165 1 5 0 16 0 13 0 5 0 7 0 20 0 13 0 25 0 5 0-147 1 67 0 1 0 2 0 4 0 18 0 4 0 6 0 3 0 12 0 10 0 4 0 10 0 2 0 13 0 1 0 5 0 8 0 19 0 1 0 5 0 1 0-142 1 12 0 4 0 5 0 20 0 7 0 1 0 2 0 1 0 2 0 46 0 9 0 2 0 5 0 2 0 19 0 4 0 4 0 1 0 4 0-152 1 3 0 3 0 2 0 14 0 7 0 7 0 1 0 3 0 4 0 21 0 30 0 6 0 15 0 5 0 23 0-145 1 1 0 2 0 2 0 1 0 2 0 12 0 5 0 6 0 4 0 8 0 11 0 2 0 27 0 5 0 1 0 7 0 6 0 1 0 4 0 1 0 1 0 2 0 4 0 3 0 2 0 12 0-155 1 12 0 22 0 7 0 1 0 1 0 2 0 1 0 4 0 2 0 1 0 1 0 4 0 7 0 9 0 4 0 31 0 7 0 1 0 1 0 4 0 1 0 3 0 5 0 1 0 1 0 3 0 2 0 2 0 1 0 6 0-140 1 3 0 12 0 1 0 3 0 1 0 1 0 11 0 2 0 2 0 9 0 5 0 6 0 9 0 3 0 36 0 9 0 2 0 1 0 3 0 9 0 4 0 12 0-180 1 32 0 17 0 1 0 5 0 1 0 12 0 3 0 2 0 3 0 3 0 5 0 1 0 3 0 5 0 4 0 4 0 3 0 12 0 23 0 3 0 6 0 1 0 8 0 5 0 4 0 2 0 23 0 14 0-168 1 11 0 4 0 8 0 8 0 6 0 9 0 13 0 4 0 5 0 1 0 10 0 23 0 2 0 15 0 2 0 1 0 14 0 6 0 4 0 10 0 13 0-156 1 3 0 3 0 16 0 4 0 4 0 1 0 1 0 3 0 4 0 57 0 5 0 28 0 1 0 1 0 10 0 3 0 2 0 6 0-154 1 15 0 2 0 3 0 13 0 1 0 16 0 9 0 14 0 2 0 10 0 24 0 2 0 5 0 15 0 2 0 4 0-131 1 11 0 1 0 3 0 1 0 13 0 6 0 6 0 2 0 4 0 6 0 14 0 2 0 2 0 3 0 33 0 8 0 7 0 1 0 7 0 3 0 19 0-155 1 12 0 5 0 10 0 1 0 11 0 15 0 1 0 17 0 34 0 1 0 4 0 1 0 5 0 2 0 1 0 18 0-139 1 3 0 18 0 1 0 4 0 27 0 23 0 23 0 3 0 4 0 11 0 1 0 1 0 3 0 24 0-170 1 8 0 24 0 9 0 2 0 2 0 10 0 1 0 3 0 6 0 13 0 24 0 2 0 16 0 1 0 2 0 12 0 5 0 4 0 9 0 5 0 2 0 2 0-178 1 28 0 15 0 7 0 7 0 5 0 1 0 1 0 9 0 2 0 38 0 7 0 9 0 1 0 16 0 4 0 2 0 12 0 11 0 9 0-128 1 2 0 12 0 14 0 21 0 7 0 21 0 9 0 29 0-137 1 22 0 2 0 3 0 8 0 10 0 2 0 2 0 29 0 3 0 10 0 8 0 2 0 11 0 2 0 8 0 3 0-133 1 6 0 13 0 1 0 2 0 18 0 1 0 1 0 1 0 1 0 12 0 57 0 19 0-126 1 23 0 4 0 1 0 6 0 3 0 8 0 1 0 2 0 1 0 3 0 30 0 2 0 2 0 5 0 6 0 6 0 4 0 5 0 2 0 5 0 3 0 4 0 7 0-158 1 1 0 8 0 8 0 5 0 2 0 3 0 8 0 6 0 12 0 5 0 16 0 31 0 1 0 7 0 8 0 6 0 11 0 1 0 3 0 5 0 3 0-141 1 23 0 18 0 10 0 7 0 42 0 8 0 1 0 3 0 14 0 3 0 1 0 2 0 1 0-144 1 6 0 20 0 35 0 40 0 8 0 11 0 1 0 2 0 1 0 14 0 1 0 4 0-119 1 10 0 72 0 1 0 4 0 1 0 11 0 3 0 13 0 1 0-109 1 4 0 5 0 71 0 1 0 10 0-134 1 3 0 40 0 25 0 50 0 7 0 8 0-128 1 3 0 61 0 55 0 10 0 1 0-126 1 7 0 27 0 7 0 6 0 12 0-70 1 17 0 20 0 87 0 1 0-113 1 10 0 47 0 2 0-60 1 4 0 1 0 53 0-58 1 4 0 1 0 3 0-8 1 10 0 29 0 6 0-5 1-2 1 5 0-18 1 1 0 3 0 2 0 5 0 7 0-13 1 9 0 4 0 1 0 2 0 5 0-46 1 22 0 13 0 1 0 2 0-46 1 29 0 4 0 2 0 6 0 2 0 5 0-50 1 26 0 2 0 5 0 1 0 1 0 2 0 2 0 6 0 1 0 2 0-54 1 2 0 37 0 3 0 3 0 2 0 2 0 1 0 1 0 1 0 2 0-50 1 12 0 22 0 11 0 5 0-55 1 3 0 3 0 1 0 4 0 1 0 30 0-49 1 2 0 4 0 4 0 52 0-60 1 3 0 3 0 2 0 2 0 47 0-48 1 4 0 44 0-50 1 36 0-41 1 5 0 5 0 5 0 19 0-15 2 4 1 16 1-18 3 13 0-11 3-1 1 2 0-3 2 6 0 9 0 2 1-17 1 1 0 15 0-11 1-9 1 10 0-3 1 4 1 3 0 1 0 1 0-38 1 34 0 1 0 1 0-26 1 25 0-6 1-20 2 23 0-27 1 4 0 1 0 1 0 1 0-4 1 2 0 4 0-15 1 9 0 2 0 10 0-15 1 4 0 4 0-12 1 8 0 0 1 2 0 1 0-10 1 4 0 2 0 10 0 4 0 2 0-15 2 6 0-20 3 15 0-16 5 1 0 0 1 1 0 3 0 11 0-16 1 10 0 2 0-12 1 7 0-7 1 6 0-5 1-3 1 3 0 3 0" class="mk" style="marker:url(#m9)" opacity="0.55"/>
<path d="M666 1965l10 5 0 3 1 4 8 1-2 1 2 3 23 2-34 1 3 4-5 1 4 0-1 1 0 2 2 0-15 1 6 0 6 0-31 1 10 0 4 0 3 0 10 0 4 0 2 0 1 0 2 0 1 0-9 1 1 0 9 0-16 1 6 0 3 0 1 0 1 0 4 0 6 0-12 1 8 0 3 0 2 0 12 0-41 1 4 0 11 0 2 0 2 0 2 0 1 0 1 0 1 0 1 0 1 0-34 1 27 0 4 0 1 0 1 0 1 0 3 0 12 0-37 1 4 0 7 0 2 0 1 0 1 0 4 0 2 0 1 0 2 0 4 0-40 1 24 0 4 0 2 0 2 0 13 0-45 1 4 0 18 0 1 0 2 0 1 0-30 1 23 0 4 0 1 0 1 0 5 0 2 0 5 0 1 0 4 0-23 1 2 0 1 0 3 0 1 0 1 0 2 0 2 0 2 0 5 0 5 0 5 0-29 1 6 0 4 0 1 0 2 0 13 0-24 1 6 0 1 0 1 0 6 0 2 0-31 1 4 0 12 0 2 0 5 0 1 0 3 0 12 0 9 0-38 1 1 0 5 0 7 0 5 0 5 0 2 0-31 1 14 0 22 1-42 1 28 0-22 1 14 0 8 0-25 1 4 0 13 0 3 0 1 0 1 0 1 0 2 0 1 0-29 1 6 0 12 0 1 0 1 0 1 0 1 0 2 0 1 0 4 0 8 0-27 1 1 0 6 0 1 0 1 0 1 0 1 0 1 0 3 0 3 0 1 0-28 1 3 0 4 0 3 0 3 0 3 0 1 0 1 0 2 0 1 0 1 0 14 0 6 0-106 1 70 0 3 0 5 0 1 0 1 0 1 0 2 0 1 0 1 0 1 0 1 0 1 0 1 0 10 0 2 0 1 0 2 0-40 1 5 0 1 0 1 0 1 0 2 0 1 0 1 0 1 0 1 0 2 0 1 0 4 0 1 0 1 0 18 0-41 1 3 0 1 0 1 0 8 0 5 0 6 0 2 0 2 0 5 0 2 0 1 0 2 0 4 0 2 0-50 1 16 0 3 0 1 0 1 0 4 0 3 0 2 0 3 0 10 0 1 0 2 0-38 1 2 0 2 0 1 0 5 0 5 0 1 0 4 0 1 0 3 0 5 0 1 0 3 0 8 0 3 0-47 1 6 0 2 0 1 0 3 0 3 0 1 0 3 0 1 0 2 0 1 0 3 0 1 0 4 0 1 0 1 0 7 0 17 0-55 1 3 0 2 0 1 0 1 0 1 0 7 0 1 0 2 0 3 0 1 0 1 0 5 0 1 0 1 0 9 0 2 0-51 1 6 0 6 0 1 0 1 0 1 0 2 0 5 0 1 0 1 0 2 0 3 0 1 0 5 0 3 0 1 0 1 0 5 0 5 0-107 1 2 0 1 0 61 0 5 0 3 0 4 0 2 0 1 0 3 0 3 0 3 0 1 0 6 0 1 0 2 0 3 0 1 0 4 0-108 1 69 0 11 0 3 0 1 0 1 0 1 0 1 0 2 0 1 0 9 0 6 0 2 0 5 0 1 0-121 1 10 0 1 0 3 0 5 0 63 0 1 0 3 0 1 0 4 0 1 0 3 0 1 0 1 0 2 0 9 0 4 0-102 1 70 0 3 0 1 0 2 0 1 0 1 0 1 0 3 0 4 0 3 0 7 0 1 0 1 0 2 0 2 0 1 0 3 0 1 0-112 1 6 0 64 0 9 0 2 0 2 0 2 0 2 0 1 0 3 0 11 0 1 0 4 0 2 0 3 0-36 1 2 0 2 0 2 0 2 0 2 0 1 0 2 0 23 0-117 1 2 0 8 0 4 0 2 0 10 0 51 0 1 0 1 0 9 0 1 0 1 0 4 0 5 0 8 0 4 0 10 0-122 1 6 0 2 0 2 0 2 0 1 0 2 0 5 0 56 0 6 0 7 0 3 0 3 0 2 0 2 0 8 0 1 0 4 0-113 1 1 0 9 0 7 0 1 0 62 0 3 0 13 0 13 0 4 0 2 0 8 0-122 1 2 0 2 0 2 0 7 0 1 0 1 0 2 0 65 0 5 0 22 0 13 0 4 0-121 1 4 0 3 0 3 0 5 0 1 0 15 0 56 0 6 0 10 0 1 0-103 1 1 0 1 0 1 0 3 0 3 0 2 0 81 0 1 0 1 0 1 0 22 0-131 1 10 0 3 0 5 0 14 0 52 0 1 0 21 0 27 0-114 1-10 1 7 0 2 0 54 0-60 1 4 0 1 0 3 0 6 0 3 0 67 0 6 0 2 0 6 0 18 0-115 1 1 0 2 0 3 0 7 0 2 0 67 0 10 0 2 0 24 0-125 1 5 0 2 0 1 0 3 0 9 0 50 0 22 0 5 0 1 0-96 1 1 0 3 0 1 0 3 0 1 0 3 0 79 0 6 0-94 1 2 0 1 0 2 0 1 0 74 0 2 0 5 0 5 0 3 0 14 0-110 1 5 0 1 0 4 0 72 0 10 0 1 0 1 0 7 0 2 0-104 1 2 0 1 0 1 0 2 0 1 0 1 0 3 0 1 0 72 0 10 0 3 0 9 0 10 0-120 1 2 0 2 0 2 0 1 0 3 0 3 0 2 0 53 0 16 0 2 0 1 0 3 0 8 0 3 0 2 0 4 0 4 0-109 1 5 0 3 0 2 0 2 0 81 0 1 0 1 0 2 0 1 0 1 0 13 0-113 1 10 0 1 0 2 0 12 0 66 0 5 0 1 0 2 0 2 0 8 0-104 1 1 0 2 0 5 0 3 0 2 0 5 0 10 0 53 0 5 0 2 0 3 0 3 0 1 0 2 0 3 0-114 1 23 0 3 0 2 0 2 0 51 0 19 0 1 0 12 0 1 0 2 0-97 1 5 0 2 0 4 0 3 0 4 0 58 0 3 0 1 0 2 0 2 0 2 0 1 0 7 0 3 0-105 1 11 0 2 0 2 0 71 0 4 0 1 0 3 0-91 1 14 0 68 0 13 0 2 0 3 0-103 1 15 0 2 0 7 0 78 0-103 1 10 0 7 0 89 0 3 0-102 1 2 0 75 0-82 1 17 0 60 0 22 0 6 0-91 1 1 0 1 0 85 0 3 0-101 1 11 0 78 0 1 1 1 1 2 0-92 1 80 0 24 0-16 2 17 0-28 1 3 1-9 1 17 1" class="mk" style="marker:url(#m10)"/>
<path d="M687 1978l-3 3-18 7 9 1-2 1-12 1 13 0-5 2 9 4-13 1 13 0 8 0 2 1-13 1 4 2 8 0 0 1 3 0-18 1 6 1-30 1 22 0 3 1 7 0 3 0-9 2 17 2-32 3 13 0 19 0 4 0-13 1 2 0-7 1 1 0-4 1 5 0 3 0-23 1 14 0 10 1-20 1 1 0 2 0 11 0 15 0-33 1 8 0 4 0 1 0 17 0-26 1 1 0 12 0 3 0-8 1 4 0 3 0 13 0-9 1 8 0-37 1 11 0 1 0 6 0 7 0 2 0 15 0-29 1 3 0 3 0 3 0 1 0 24 0-37 1 25 0-100 1 75 0 9 0 5 0 2 0 9 0-18 1 2 0-19 1 11 0 4 0 2 0-77 1 70 0 4 0 8 0 1 0 14 0-115 1 11 0 6 0 82 0 1 0 10 0-23 1 2 0 2 0-83 1 13 0 71 0 1 0 10 0 6 1-106 1 90 0-80 1-3 1 90 0-88 1 86 0 3 0 26 0-117 1 2 0 2 0 1 0 1 0 70 0 21 0 8 0-106 1 4 0 74 0-77 1 8 1 74 0 23 0-106 1 5 0 111 0-111 1-12 1 6 0 1 0 17 0 70 0 4 0 12 0-103 1 82 0 11 0 3 0 7 0-12 1 4 0-91 1 4 0 1 0 8 0 80 0-16 1 5 0-91 1 19 0 68 0 16 0-84 1 4 0 7 0-21 1 13 0-20 1 6 0 5 0 3 0 1 0 74 2-91 2 16 0 4 2 65 1 9 0-2 3 7 0-4 3-14 1" class="mk" style="marker:url(#m10)" opacity="0.55"/>
<path d="M633.9 1897.5C638.9 1898.6 645.1 1902.2 650.6 1905.2C656.2 1908.1 662.6 1911.0 667.4 1915.2C672.1 1919.4 675.2 1925.5 679.1 1930.2C683.0 1935.0 687.1 1939.2 690.8 1943.6C694.4 1948.1 696.9 1952.5 700.8 1957.0C704.7 1961.4 710.3 1965.9 714.2 1970.4C718.1 1974.8 721.4 1979.3 724.2 1983.7C727.0 1988.2 729.5 1992.7 730.9 1997.1C732.3 2001.6 732.0 2005.5 732.6 2010.5C733.1 2015.5 733.7 2022.2 734.2 2027.2C734.8 2032.2 736.2 2036.1 735.9 2040.6C735.6 2045.1 734.0 2050.4 732.6 2054.0C731.2 2057.6 731.2 2060.4 727.6 2062.3C723.9 2064.3 716.4 2064.6 710.8 2065.7C705.3 2066.8 699.7 2067.9 694.1 2069.0C688.5 2070.1 683.0 2071.3 677.4 2072.4C671.8 2073.5 666.2 2074.8 660.7 2075.7C655.1 2076.7 648.4 2077.8 643.9 2078.1C639.5 2078.3 635.9 2078.6 633.9 2077.4C632.0 2076.2 632.0 2072.7 632.2 2070.7C632.5 2068.8 637.0 2066.2 635.6 2065.7C634.2 2065.1 627.8 2066.8 623.9 2067.4C620.0 2067.9 616.1 2067.9 612.2 2069.0C608.3 2070.1 604.4 2071.8 600.5 2074.0C596.6 2076.3 592.7 2079.1 588.8 2082.4C584.9 2085.8 581.2 2090.2 577.1 2094.1C572.9 2098.0 568.1 2101.9 563.7 2105.8C559.2 2109.7 554.8 2113.3 550.3 2117.5C545.8 2121.7 541.1 2127.3 536.9 2130.9C532.7 2134.5 529.1 2137.1 525.2 2139.3C521.3 2141.4 517.4 2143.1 513.5 2143.6C509.6 2144.2 505.2 2143.3 501.8 2142.6C498.5 2141.9 494.4 2142.3 493.4 2139.3C492.5 2136.2 495.0 2129.5 496.1 2124.2C497.2 2118.9 497.8 2113.6 500.1 2107.5C502.5 2101.4 507.1 2094.1 510.2 2087.4C513.2 2080.7 516.3 2074.0 518.5 2067.4C520.8 2060.7 521.9 2054.0 523.5 2047.3C525.2 2040.6 527.2 2033.9 528.6 2027.2C530.0 2020.5 529.7 2013.3 531.9 2007.2C534.1 2001.0 538.6 1996.0 541.9 1990.4C545.3 1984.9 548.6 1979.0 552.0 1973.7C555.3 1968.4 558.4 1963.7 562.0 1958.7C565.6 1953.6 570.1 1948.4 573.7 1943.6C577.3 1938.9 580.4 1934.4 583.7 1930.2C587.1 1926.1 589.9 1922.7 593.8 1918.5C597.7 1914.3 602.7 1908.5 607.2 1905.2C611.6 1901.8 616.1 1899.7 620.5 1898.5C625.0 1897.2 628.9 1896.3 633.9 1897.5Z" fill="none" stroke="#f4f4f4" stroke-width="3" stroke-linecap="round" stroke-dasharray="0.1 5.35"/>
<text x="491.8" y="1910.8" font-size="24" fill="#c97f8e" font-style="italic" textLength="93.6" lengthAdjust="spacingAndGlyphs">COL3A1</text>
<text x="687.4" y="1910.8" font-size="24" fill="#b3d98c" font-style="italic" textLength="103.6" lengthAdjust="spacingAndGlyphs">ADGRG1</text>
<rect x="692.4" y="2023.9" width="28.5" height="21.7" fill="none" stroke="#fff" stroke-width="2.6" stroke-dasharray="3.7 3.75"/>
<line x1="721.0" y1="2024.0" x2="863.0" y2="1954.0" stroke="#fff" stroke-width="3.3" stroke-dasharray="3.4 3.4"/>
<line x1="721.0" y1="2045.6" x2="863.0" y2="2086.0" stroke="#fff" stroke-width="3.3" stroke-dasharray="3.4 3.4"/>
<rect x="863.0" y="1954.0" width="161.8" height="132.0" fill="#040102"/>
<g clip-path="url(#cp1)"><g transform="rotate(-27 943.9 2020.0)">
<path d="M900.5 1927l3.1 0 0 6.2 6.2 6.2 15.5 0-34.1 3.1 15.5 0 21.7 0-27.9 3.1 12.4 0 15.5 0 12.4 0-46.5 6.2 15.5 0 31 0-37.2 3.1 15.5 0 18.6 0-34.1 6.2-21.7 3.1 6.2 0 27.9 0 6.2 0 18.6 0 37.2 0-89.9 3.1 65.1 0-71.3 3.1 65.1 0 3.1 0 3.1 0-52.7 3.1 24.8 0 6.2 0 6.2 0 9.3 0 9.3 0 24.8 0-86.8 3.1 9.3 0 21.7 0 58.9 0 3.1 0-99.2 3.1 6.2 0 18.6 0 55.8 0-89.9 3.1 21.7 0 21.7 0 55.8 0-102.3 3.1 6.2 0 9.3 0 21.7 0 18.6 0-43.4 3.1-15.5 6.2 80.6 0-43.4 3.1 34.1 0 21.7 0 9.3 0-68.2 3.1 21.7 0 12.4 0 18.6 0 12.4 0-89.9 3.1 6.2 0 15.5 0 40.3 0 12.4 0 40.3 0-89.9 3.1 21.7 0 27.9 0 9.3 0 46.5 0 15.5 0 3.1 0-173.6 3.1 3.1 0 3.1 0 6.2 0 34.1 0 74.4 0 24.8 0 21.7 0-164.3 3.1 21.7 0 142.6 0-167.4 3.1 12.4 0-3.1 3.1 37.2 0 9.3 3.1-55.8 3.1 37.2 0-18.6 3.1 18.6 0-18.6 3.1-15.5 3.1 9.3 0-24.8 3.1 65.1 0-55.8 3.1 27.9 0 12.4 3.1-6.2 6.2 3.1 0 3.1 0 9.3 0-34.1 3.1 21.7 0-21.7 3.1 37.2 0-31 3.1 37.2 0 6.2 3.1-31 3.1 27.9 3.1 43.4 0 3.1 0 3.1 0 3.1 0-9.3 6.2-43.4 3.1 9.3 3.1" class="mk" style="marker:url(#m11)"/>
<path d="M900.5 1930.1l0 3.1 6.2 6.2-9.3 3.1 24.8 0 0 3.1-9.3 3.1 21.7 0 15.5 0-15.5 3.1-46.5 3.1 21.7 0 18.6 0 34.1 0-52.7 3.1 9.3 0 3.1 0 9.3 0 9.3 0 21.7 0 6.2 0-68.2 3.1 21.7 0 12.4 0 27.9 0 9.3 0-80.6 3.1 71.3 0-49.6 3.1 3.1 0 9.3 0 12.4 0-52.7 3.1 46.5 0 9.3 0 21.7 0 24.8 3.1-55.8 3.1 37.2 0-49.6 3.1 3.1 0 34.1 0 9.3 0-89.9 3.1 15.5 0 55.8 0 18.6 0 9.3 0-80.6 3.1 3.1 0 6.2 0 43.4 0 27.9 0-96.1 3.1 15.5 0 15.5 0 18.6 0-62 3.1 9.3 0 46.5 0 15.5 0-37.2 3.1 40.3 0-77.5 3.1 9.3 0 12.4 0 3.1 0 52.7 0 12.4 0 18.6 0-83.7 3.1 21.7 0 12.4 0 31 0 37.2 0 9.3 0-133.3 3.1 31 0 55.8 0 9.3 0 6.2 0 9.3 0 40.3 0-151.9 3.1 55.8 0 31 0 9.3 0 6.2 0 9.3 0 46.5 0-130.2 3.1 43.4 0 9.3 0 15.5 0 3.1 0 55.8 0-120.9 3.1 3.1 0 15.5 0 65.1 0-102.3 3.1 15.5 0-27.9 3.1 12.4 0 9.3 0 24.8 0-12.4 3.1 6.2 0-40.3 3.1 3.1 0-24.8 3.1 9.3 0 9.3 0 3.1 0 3.1 0 6.2 0 9.3 0 27.9 0-6.2 3.1-55.8 6.2 6.2 0 6.2 0-24.8 3.1 24.8 0-15.5 6.2 34.1 3.1 31 3.1-34.1 3.1 0 3.1 9.3 0 12.4 0 12.4 0-21.7 3.1 0 3.1 65.1 0 6.2 0-68.2 3.1 9.3 6.2" class="mk" style="marker:url(#m12)"/>
<path d="M903.6 1930.1l9.3 0-15.5 3.1 12.4 0 15.5 3.1-9.3 6.2 9.3 0-9.3 3.1 9.3 0 9.3 0 9.3 0-43.4 3.1 3.1 0 18.6 0 18.6 0 3.1 3.1-37.2 3.1 6.2 0-27.9 3.1 15.5 0 27.9 0-46.5 3.1 12.4 0 15.5 0 21.7 0 24.8 0 3.1 0-74.4 3.1 12.4 0 12.4 0 9.3 0 9.3 0 9.3 0-58.9 3.1 21.7 0 18.6 0 9.3 0-34.1 3.1 3.1 0 12.4 0 34.1 0-68.2 3.1 3.1 0 9.3 0 3.1 0 12.4 0 15.5 0 9.3 0 43.4 0-93 3.1 6.2 0 6.2 0 15.5 0 68.2 0-74.4 3.1 31 0 12.4 0 27.9 0 6.2 0 3.1 0-99.2 3.1 24.8 0 6.2 0 6.2 0 49.6 0-58.9 3.1 68.2 0 3.1 0-83.7 3.1-27.9 3.1 24.8 0 31 0 9.3 0-65.1 3.1 18.6 0 46.5 0-58.9 3.1 31 0 12.4 0 31 0 12.4 0-77.5 3.1 108.5 0-130.2 3.1 43.4 0 12.4 0 52.7 0 15.5 0 18.6 0 6.2 0 3.1 0-155 3.1 31 0 34.1 0 12.4 0 9.3 0 3.1 0 68.2 0 21.7 0-155 3.1 12.4 0 111.6 0 31 0-167.4 3.1 6.2 0 18.6 0 80.6 0 27.9 0 9.3 0-136.4 3.1 111.6 0 6.2 0-136.4 6.2 6.2 0-12.4 3.1 12.4 0 37.2 0 3.1 0-55.8 3.1 3.1 0 9.3 0 40.3 0 6.2 0-52.7 3.1 31 0-12.4 6.2 18.6 0-31 3.1 40.3 0-3.1 3.1-37.2 3.1 6.2 0 27.9 0 3.1 0-18.6 3.1 18.6 0-27.9 3.1 3.1 0 21.7 0 6.2 3.1 15.5 3.1-18.6 3.1 6.2 0 3.1 0 12.4 0-31 3.1 27.9 0 3.1 0-27.9 3.1 62 0-34.1 3.1 6.2 0 49.6 3.1 0 3.1-12.4 3.1" class="mk" style="marker:url(#m13)"/>
<path d="M906.7 1930.1l3.1 0-9.3 6.2 6.2 0 3.1 0 6.2 0-18.6 3.1 12.4 3.1 3.1 0 24.8 3.1-40.3 3.1 34.1 0 12.4 0-24.8 3.1 40.3 3.1-65.1 3.1 43.4 0 9.3 0-9.3 3.1 6.2 0 24.8 0-43.4 3.1 34.1 0-65.1 3.1 37.2 0 40.3 0 6.2 0-99.2 3.1 34.1 0 6.2 0 9.3 0 37.2 0 6.2 0-89.9 3.1 15.5 0 24.8 0 18.6 0 21.7 0 3.1 0-83.7 3.1 40.3 0 31 0 3.1 0 15.5 0-93 3.1 31 0 18.6 0-43.4 3.1 9.3 0 3.1 0 12.4 0 15.5 0 15.5 0 9.3 0-58.9 6.2 12.4 0-24.8 3.1 3.1 0 34.1 0 15.5 0-37.2 3.1 9.3 0 12.4 0 27.9 0 12.4 0-58.9 3.1 40.3 0-55.8 3.1 21.7 0 80.6 0 12.4 0-111.6 3.1 31 0 12.4 0 3.1 0-37.2 3.1 9.3 0 40.3 0 40.3 0 6.2 0 24.8 0 21.7 0-158.1 3.1 102.3 0-117.8 6.2 24.8 0 6.2 0 18.6 0-55.8 3.1 3.1 0 40.3 0 9.3 0 3.1 0 89.9 0 18.6 0 3.1 0-161.2 6.2 52.7 0-34.1 3.1 24.8 0-52.7 3.1 31 0 21.7 0-52.7 3.1 3.1 0 9.3 0-21.7 6.2 52.7 0-52.7 3.1 18.6 0 12.4 0 15.5 0 6.2 0-15.5 3.1 6.2 0 6.2 0 15.5 0-52.7 3.1 12.4 0 9.3 0 0 3.1 6.2 0 3.1 0 6.2 3.1-9.3 3.1 3.1 3.1 9.3 0 9.3 3.1-3.1 3.1 18.6 0 49.6 0-58.9 3.1 3.1 0 3.1 0 43.4 3.1 6.2 3.1 6.2 0-52.7 3.1 52.7 0-46.5 3.1" class="mk" style="marker:url(#m14)"/>
<path d="M906.7 1933.2l-12.4 6.2 21.7 0 12.4 0-27.9 3.1 34.1 0-40.3 3.1 3.1 0 6.2 0 3.1 0 3.1 3.1 15.5 0 3.1 0 18.6 0-58.9 3.1 3.1 0 6.2 0 6.2 0 3.1 0 24.8 0 6.2 0 18.6 0-55.8 3.1-3.1 3.1 18.6 0 9.3 0 9.3 0 24.8 0 6.2 0-52.7 3.1 3.1 0 27.9 3.1 24.8 0-46.5 3.1 18.6 0 9.3 0 24.8 0-37.2 3.1 18.6 0 34.1 0-96.1 3.1 12.4 0 3.1 0 40.3 0 3.1 0 21.7 0-24.8 3.1 12.4 0 3.1 0 15.5 0-105.4 3.1 52.7 3.1-58.9 3.1 18.6 0 34.1 0 21.7 0-74.4 3.1 37.2 0 37.2 0-34.1 3.1 31 0-3.1 3.1-24.8 3.1-15.5 3.1 15.5 0 6.2 0 46.5 0 3.1 0-108.5 3.1 40.3 0 80.6 0 3.1 0 6.2 0 31 0-158.1 3.1 68.2 0 55.8 0-120.9 3.1 24.8 0 31 0-55.8 3.1 3.1 0 24.8 0 74.4 0-108.5 3.1 24.8 0 21.7 0 3.1 0 74.4 0 3.1 0-108.5 3.1 27.9 0 120.9 0 3.1 0-167.4 3.1-12.4 3.1 9.3 0 49.6 0 3.1 0 0 3.1-62 3.1 62 0-49.6 6.2 40.3 0-43.4 3.1 9.3 0 15.5 0-31 3.1 52.7 0-52.7 3.1 12.4 0 37.2 0-31 3.1 9.3 3.1 12.4 0 6.2 0 3.1 0-24.8 3.1 9.3 0 12.4 0 18.6 0-6.2 6.2 3.1 0-15.5 3.1 62 0 12.4 6.2-52.7 3.1 52.7 0-62 3.1 9.3 0 37.2 0 3.1 0 6.2 3.1" class="mk" style="marker:url(#m15)"/>
<path d="M912.9 1933.2l-15.5 3.1 15.5 3.1-9.3 3.1 34.1 0-27.9 3.1 9.3 0-12.4 3.1 15.5 3.1-15.5 6.2 6.2 0 43.4 0-37.2 3.1 9.3 0 37.2 0-71.3 3.1 6.2 0 34.1 0 31 0 6.2 0-89.9 3.1 3.1 0 6.2 0 43.4 0 12.4 0-55.8 3.1 15.5 0 15.5 0 46.5 0 6.2 0-89.9 3.1 31 0 62 0 6.2 0-96.1 3.1 9.3 0 21.7 0 27.9 0-55.8 3.1 6.2 0 27.9 0 37.2 0 12.4 0-71.3 3.1 40.3 0 37.2 0-102.3 3.1 21.7 0 6.2 0 18.6 0-52.7 3.1 27.9 0 34.1 0-43.4 3.1 21.7 0 6.2 0 9.3 0-43.4 3.1 12.4 0 9.3 0 24.8 0 18.6 0-55.8 3.1 65.1 0 18.6 0-114.7 3.1 31 0 37.2 0 6.2 0 24.8 0 18.6 0 6.2 0-27.9 3.1 6.2 0-96.1 3.1 49.6 0 21.7 0 40.3 0 12.4 0 3.1 0 12.4 0 12.4 0-148.8 3.1 9.3 0 37.2 0 6.2 0 31 0 12.4 0 15.5 0 12.4 0 9.3 0-148.8 3.1 105.4 0 3.1 0-62 3.1 105.4 0 21.7 0 3.1 0-139.5 3.1 3.1 0 136.4 0-182.9 3.1 43.4 0 130.2 0 9.3 0-155 3.1 6.2 3.1-3.1 3.1-31 3.1 43.4 0-37.2 3.1 12.4 0 12.4 0 3.1 0-27.9 3.1 18.6 0 15.5 0 3.1 0 6.2 0 9.3 0-52.7 3.1 3.1 0 46.5 3.1-31 3.1 21.7 0-24.8 6.2 12.4 0 6.2 0 6.2 0 18.6 0-18.6 9.3 58.9 0-55.8 6.2 3.1 0 3.1 0 3.1 0 49.6 0-49.6 3.1 3.1 0 3.1 0 3.1 0 46.5 0-46.5 3.1 46.5 0-40.3 6.2" class="mk" style="marker:url(#m16)"/>
<path d="M990.4 1979.7l6.2 52.7 31 3.1-31 15.5 12.4 15.5" class="mk" style="marker:url(#m17)"/>
<path d="M956.3 1982.8l49.6 3.1-43.4 117.8" class="mk" style="marker:url(#m18)"/>
<path d="M953.2 1992.1l24.8 0 21.7 0-34.1 3.1-15.5 18.6 6.2 0-37.2 3.1 12.4 0 37.2 3.1-27.9 40.3 37.2 0 0 34.1 6.2 0" class="mk" style="marker:url(#m19)"/>
<path d="M987.3 1995.2l-49.6 18.6 6.2 18.6-24.8 12.4 24.8 9.3 43.4 24.8-24.8 15.5" class="mk" style="marker:url(#m20)"/>
<path d="M987.3 1998.3l-40.3 18.6 6.2 9.3 27.9 0-49.6 12.4 12.4 9.3 37.2 15.5-49.6 21.7 40.3 3.1 21.7 12.4" class="mk" style="marker:url(#m21)"/>
<path d="M1024.5 1998.3l-37.2 27.9 12.4 24.8 9.3 12.4" class="mk" style="marker:url(#m22)"/>
<path d="M1040 2004.5l-99.2 65.1 9.3 0 52.7 6.2-49.6 15.5" class="mk" style="marker:url(#m23)"/>
</g></g>
<rect x="863.0" y="1954.0" width="161.8" height="132.0" fill="none" stroke="#fff" stroke-width="3.6" stroke-dasharray="3.7 3.75"/>
<rect x="477.4" y="2162.0" width="560.2" height="272.0" fill="#040102"/>
<path d="M640 2206l9 0-44 4 61 0-67 2 4 3 47 1-44 5-4 3 24 1 38 2-91 8 11 0 15 2 48 1-42 1 29 0 19 1-43 3 33 0 8 10-49 2 66 4-115 1 22 1 86 4-23 1 29 2 58 2-158 3 55 3 10 1-41 2 66 3-4 2-57 2 98 0-14 1-54 1-63 2 42 0-33 1 149 0-152 1 154 1-183 1 111 4 19 3-126 1 23 0 8 1 127 0-145 2-26 3 95 2 7 0 75 5-101 3 87 0-123 2 9 2 0 2 30 1 14 0 8 0-72 2-14 4 151 2-151 2 32 0 63 0 32 2-95 5 100 0 35 1-123 3-56 1 46 0 54 0-113 2 26 5-3 3 47 3 1 2-3 1-73 3 69 1-53 6 14 1-31 15 12 9 17 8-31 1-11 13 22 0" class="mk" style="marker:url(#m24)"/>
<path d="M622 2184l15 12-15 5-1 3-34 16-13 6 2 2 7 3 95 0-9 1-100 2 65 1-2 3 71 10-45 2 29 10-64 10 49 7-81 5-49 1 76 0-46 7 9 0 88 3 54 2-146 2-21 5 168 4-167 4 20 0 27 1-49 3 51 5 18 0 103 1-167 3 130 0-152 2 53 2 46 6 29 2 42 1-167 1 135 4 52 1-130 1 94 3-21 8-157 7 54 1 11 0-51 5 40 0-43 1 2 0 16 1-19 4 49 1-50 1 0 2 33 2-31 11 32 1-18 3-17 9" class="mk" style="marker:url(#m24)" opacity="0.55"/>
<path d="M639 2187l19 9-43 1 19 0-21 1 5 1 2 0 14 1-11 1 1 0 11 0-16 1 19 0-2 1-22 1 6 0 0 1 4 0-18 1 8 0 14 0-10 1-10 1 4 0 16 0 18 0-40 1 19 0 1 0 1 0 20 0-36 1-10 1 6 0 3 0 2 0 1 0-5 1 3 0 1 0 12 0-12 1 1 0-1 1-4 1 1 0 2 0 30 0-27 1 11 0 5 0-21 1 4 0-13 1 7 0 14 0 38 0 15 0-70 1 2 0 6 0 35 0-48 1 7 0 3 0 7 0 2 0 5 0 23 0 14 0-54 1 2 0 2 0 1 0 5 0 1 0 38 0-50 1 3 0 3 0 2 0 2 0 7 0 3 0 40 0 2 0-81 1 11 0 1 0 13 0 6 0 4 0 29 0 8 0 12 0 2 0-24 1 6 0-52 1 7 0 4 0 2 0 46 0 1 0 9 0 3 0-71 1 1 1 11 0 1 0 54 0 3 0-6 1 1 0 1 0 9 0-17 1 9 0-86 1 24 0 12 0 42 0 6 0 1 1 6 0 1 0-74 1 1 0 2 0 18 0 31 0 16 0 2 0-72 1 22 0-30 1 9 0 62 0 3 0 4 0 4 0-97 1 40 0 56 0 14 0-97 1 4 0 9 0 7 0-23 1 10 0 14 0-26 1 2 0 5 0 3 0 4 0 73 0 2 0-76 1 3 0 11 0-17 1 1 0 10 0 3 0 18 0 38 0-68 1 2 0 8 0 1 0 5 0 10 0 16 0 39 0-96 1 4 0 9 0 10 0 60 0 5 0 13 0-102 1 95 0 2 0-107 1 26 0 5 0 3 0 2 0 75 0-103 1 17 0 10 0 1 0 1 0 65 0 10 0-101 1 11 0 3 0 8 0 2 0-22 1 10 0 78 0-80 1 2 0-5 1 4 0 26 0 54 0-115 1 36 0 2 0 16 0 1 0 60 0 4 1-91 1 2 0 1 0 2 0 2 0 2 0 1 0 2 0 3 0 8 0 65 0 4 0 2 0 4 0 1 0-111 1 5 0 10 0 1 0 7 0 78 0-96 1 7 0 2 0 1 0 6 0 4 0 5 0 80 0-91 1 2 0 2 0 6 0 2 0 78 0-87 1 8 0 15 0-43 1 17 0 2 0 77 0-81 1 6 0 75 0 14 0 1 0 1 0-113 1 7 0 4 0 5 0 3 0 1 0 90 0-106 1 12 0 4 0 14 0 5 0 27 0 39 0 4 0-96 1 2 0 5 0 85 0 4 0 3 0-95 1 2 0 86 0-83 1 49 0 32 0 3 0 2 0-94 1 4 0 4 0 4 0 2 0 72 0-98 1 1 0 34 0-32 1 3 0 1 0 7 0 4 0 4 0 4 0 82 0-103 1 9 0 1 0 5 0 1 0 1 0 82 0-107 1 1 0 1 0 1 0 4 0 3 0 2 0 18 0-26 1 2 0 1 0 1 0 6 0 21 0-21 1 21 0 93 0-127 1 1 0 1 0 10 0 3 0 93 0-110 1 5 0 1 0 6 0 99 0-110 1 118 0-102 1 89 0 13 0-112 1 109 0 2 0 2 0-141 1 16 0 7 0 17 0 2 0 92 0 6 0-123 1 2 0 1 0 4 0 6 0 7 0 87 0 10 0 3 0 3 0-122 1 2 0 30 0 91 0 7 0-134 1 5 0 2 0 5 0 3 0 1 0 7 0 4 0 92 0-114 1 16 0 6 0 2 0 2 0 63 0-95 1 3 0 8 0 1 0 2 0-19 1 7 0 14 0 3 0 2 0 97 0 1 0 10 0-119 1 1 0 116 0 11 0-123 1 19 0 94 0-158 1 36 0 2 0 6 0 100 0 10 0 3 0 1 0 13 0-131 1 27 0 84 0 1 0 2 0 10 0-132 1 6 0 1 0 7 0 3 0 104 0-127 1 3 0 5 0 11 0 111 0-126 1 4 0 2 0 2 0 10 0 1 0 2 0 104 0-134 1 2 0 10 0 10 0 2 0 2 0 102 0 1 0 2 0 13 0-135 1 2 0 1 0 12 0 2 0 4 0 99 0 2 0 1 0 5 0 6 0 1 0-136 1 2 0 1 0 3 0 10 0 1 0 115 0 4 0-132 1 5 0 8 0 102 0 19 0 2 0-148 1 3 0 22 0 1 0 3 0 104 0 10 0-161 1 28 0 2 0 11 0 103 0-114 1 109 0 20 0 3 0-120 1 2 0 34 0-51 1 18 0 8 0 90 0 2 0 14 0-136 1 17 0 1 0 7 0 111 0-132 1 14 0 2 0 106 0 6 0-134 1 11 0 123 0 1 0-127 1 127 0 14 0-162 1 24 0 122 0 1 0-134 1 6 1 2 0 4 0 13 0-26 1 3 0-5 1 5 0 4 0 22 0 102 0 9 0-145 1 10 0 5 0 11 0 4 0 106 0-138 1 3 0 2 0 6 0 5 0 6 0 39 0-66 1 8 0 7 0 5 0 2 0-10 1 2 0 5 0 52 0 73 0-125 1 2 0 128 0-137 1 8 0 1 0 5 0 2 0 118 0 2 0-126 1 1 0 2 0 1 0 2 0-25 1 19 0 16 0 119 0 2 0 3 0-147 1 1 0 2 0 2 0 1 0 1 0 89 0 30 0 9 0 4 0 4 0-142 1 3 0 0 1 9 0 131 0 2 0-160 1 7 0 20 0-28 1 8 0 147 0 4 0-149 1 1 0 155 0-162 1 10 0-13 1 1 0 1 0 5 0 84 0-88 1 5 0-5 1 2 0 3 0 11 0 4 0 149 0-166 1 11 0 1 0 102 0 31 0-147 1 10 0 45 0 93 0-149 1 9 0 2 0 6 0 19 0 9 0 40 0-90 1 5 0 7 0 4 0 1 0 5 0-23 1 5 0 1 0 14 0 3 0 5 0-31 1 6 0 3 0 6 0-1 1 1 0 2 0-5 1 10 0 3 0-7 1-24 1 23 0 167 0-153 1-30 2-3 1 20 0 129 0-155 1 15 0 16 0-26 1 10 0 7 0 3 0 7 0 8 0 17 0 60 0-109 1 12 0 3 0-8 1 11 0 2 0 3 0-31 1 6 0 2 0 3 0 1 0 3 0 2 0 3 0-9 1 6 0 1 0 5 0 1 0-11 1 8 0 4 0-15 1 1 0 4 0 9 0 9 0-25 1 3 0 1 0 7 0 3 0-22 1 12 0 14 0 25 0-43 1 11 0-9 1 53 0-55 1 2 0 2 0 5 0 2 0-11 1 1 0 12 0-12 1 6 0-5 1 5 0 4 0 7 0-17 1 4 0 31 0-50 1 16 0 3 0 1 0 3 0 1 0 39 0-63 1 23 0 4 0-14 1 8 0 1 0-29 1 4 0 2 0 2 0 12 0 5 0-19 1 2 0 11 0 7 0-23 1 15 0 12 0-21 1 6 0 5 0-20 2 11 0 7 0 2 0 1 0 6 0 1 0 1 0 5 0-33 1 2 0 26 0-28 1 23 0 4 0-14 1 6 0 4 0-19 1 1 0 14 0-16 2 4 0 7 0 1 0-15 1 10 0 2 0-8 1 33 0-32 1 3 0-10 1 5 0 3 0 3 0 1 0 1 0 6 0 17 0-31 1 10 0-16 1 1 0 16 0 15 0-30 1 7 0 3 0 5 0 12 0-30 2 2 0 3 0 3 0 7 0-11 1 14 0 12 0-14 1 2 0 4 0 3 0-23 1 18 0 7 0-28 1 6 0 1 0-6 1 5 0 3 0 3 0 11 0-4 1-28 1 18 0 3 0 6 0-9 1 3 0 6 0 16 0-23 1 9 0-19 1 10 0-11 1 9 0 3 0-14 1-11 1 10 0 12 0 4 0-4 3 3 0 3 0-5 1 3 1-25 1 10 0-2 1 7 0 5 0 13 0-21 1 2 0 3 0-11 1 5 0 1 0-14 1 7 0 2 0 2 0 1 0 1 0-4 1 0 1 13 0-14 1 1 0 1 0 11 0 8 0-18 1 11 0 3 0 3 0-3 1 2 0 8 0-39 1 12 0 1 0 1 0 20 0-25 1 2 0 1 0 1 0 19 0-25 1 2 0 4 0 4 0-8 1 7 0 2 0-13 1 9 0 17 0-20 1 3 0-12 1 1 0 3 0 7 0 2 0 1 0 7 1-23 1-2 1 8 0 1 0 1 0 4 0 8 0 1 0 2 0-27 1 11 0 5 0 8 0 2 0-14 1 2 0 2 0 6 0 1 0-9 1 1 0 10 0-14 1 4 0 1 0 2 0 3 0 2 0 1 0 1 0-5 1-11 1 5 0 1 0 0 1 1 0 0 1" class="mk" style="marker:url(#m25)"/>
<path d="M618 2197l3 3-1 1-3 2 15 0-9 1-10 1 1 0 13 0 4 0-21 2 6 0 1 0 8 0 3 0 18 0-36 1 3 0 20 0 7 0-31 1 1 0 4 0 3 0 11 0 4 0-42 1 17 0-2 1 2 1 3 0-1 1 19 0-18 1 13 0-26 1 8 0 1 0 6 0 18 0-24 1 2 0 5 0-28 1 14 0-10 1 17 0-6 1 14 0-10 1 4 0 10 1 3 0-4 1 37 0 3 1-51 1-3 1 15 0 1 0 1 0-15 1 71 0-71 1 54 0 10 0-61 1 1 0 52 0 12 0 1 0-66 1 56 0-3 1 9 0-64 2-1 1 13 0 38 0-54 2-3 1 74 0 1 0-89 1 14 0 14 0-19 2 1 0 1 0 92 0-107 1 31 0 66 0 3 0-94 1 83 0-97 1 8 0 7 0 9 0 1 0 85 1-95 1 88 0 2 0 5 0-102 1 13 0 7 0 77 0 2 0-95 1 10 0 80 0-69 1 60 0-85 1 26 0 67 0-80 1 82 0-95 1 2 0 8 0 93 0-79 1 1 0 78 0-87 1 2 0 66 0 12 0 5 0-96 1 9 0 92 0-93 1 4 0 5 0 71 0-84 1 2 0 8 0 76 0-91 1 2 0 4 0 1 2 6 0-8 1 11 0 83 0-88 1-2 1-3 1 90 0 3 0-92 1-5 1-11 1 6 0 12 0 89 0-89 1 7 0 65 1 3 0-89 1 21 0 80 0-106 1 110 0 17 0-115 1-38 1 24 0 5 0 7 0 4 0 121 0-136 1 12 2 76 0 13 0-82 1 44 0 45 0-97 1 5 0 80 0 23 0-125 1 5 0 20 0-16 1 12 0 12 0 85 0 9 0-142 1 17 0 9 0 18 0 3 0 90 0 1 0-116 1 2 0 1 0 8 0 6 0 4 0 80 0 3 0 16 0-117 1 8 0 4 0-14 1 1 0 2 0-39 1 25 0 20 0 98 0 4 0-121 1 2 0 5 0 4 0 1 0 11 0 9 0 90 0 4 0-127 1 34 0-32 1 3 0 2 0 2 0 7 0 2 0 114 0-128 1 116 0 5 0 6 0-128 1 4 0 112 0-117 1 5 0 10 0 3 0 103 0-98 1 99 0 4 0-115 1 1 1 3 0-6 1 1 0 5 0 118 0-139 1 3 0 3 0 21 1-27 1 5 0 135 0-132 1 24 0 104 0-1 1 11 0-160 1 35 0 111 0 14 0 26 0-153 1 117 0 3 0-140 1 131 0 1 0-144 1 24 0 39 0 82 0 13 0-12 1-8 1 13 0-142 1 9 0 129 0 14 0-142 1 128 1 1 0 9 0-125 1 116 0 1 0 3 0-141 1 15 0-14 1 4 0 3 0 128 0 7 0-136 1 137 0-143 1 6 0 5 0 1 0 8 0-2 1 52 0 59 0 12 0-140 1 4 0-2 1 7 0 3 1 135 0-144 2 3 0 1 0 124 0 16 0-153 1 11 0 3 0 133 0-45 2 57 1-14 1-138 1 137 0 8 0-150 1 8 0-28 2 33 0-28 1 3 0 6 0 12 0-3 1-20 1 3 0 2 0 144 0-135 1 11 0 4 1-14 1 5 0 7 0-19 1 7 0-2 2 14 0-25 1-4 1 3 0 167 0-168 1 0 1 10 0 6 0-19 1 2 0 1 0 52 0 70 0 35 0-140 2 3 0-14 1 10 0-9 1 88 0-92 1 4 0 2 0 8 0 8 0-46 1 27 0-9 1 2 0 11 0-7 1 1 0 3 0 4 0 10 0 22 0-43 4 9 0 6 1-14 1 6 0 8 0-15 1 1 0 9 0 1 0-7 1 109 0-109 1-1 1 10 0-11 1 48 0-52 1-1 1 5 0 7 0 2 0-29 2 5 0 13 0 6 0 10 1-11 1-11 1 15 0-27 2 1 0 7 0 13 0-19 1 1 0 8 0 26 0-25 2 21 0 1 0-25 1 1 0 2 0-6 1 6 0-23 1 6 1-1 3 17 0-15 1 6 0 7 0 2 0-9 1 14 0-17 1 13 0 12 0-41 1 14 1 12 0 5 0 2 1-5 1-15 1 5 0 10 0 5 0-17 1 3 0 12 2 6 1-14 1 13 0-31 1 28 0 1 0-6 1-7 2-16 1 9 2 1 1 5 0-24 2 12 0-3 3 0 2 2 0-5 1 1 1 0 1 12 0-6 1-6 1-4 1 3 0 1 1 7 0 4 0 1 0 5 0-30 1 1 0 3 0 3 0 22 0-23 1 5 0 5 0-7 3 15 0-3 2 1 0-10 1 1 0 8 0-10 1 2 0" class="mk" style="marker:url(#m25)" opacity="0.55"/>
<path d="M650 2191l3 2-45 6 22 2 5 0 30 0-17 1-22 1 8 1 13 0-30 1 23 1-11 1 3 0-1 1 1 1 1 0 3 0 1 0 1 0 8 0-25 1 12 0-3 1 8 0-19 1 6 0 10 0 1 0 10 0 2 0 1 0 1 0 7 0-31 1 1 0 7 0 2 0 3 0 4 0-15 1 2 0 2 0 3 0 1 0 1 0 2 0-22 1 12 0 13 0 5 0 6 0 3 0-33 1 6 0 3 0 47 0-52 1 1 0 9 0-17 1 1 0 1 0 3 0 1 0 2 0 2 0 1 0-8 1 32 0 8 0-58 1 14 0 5 0 6 0 21 0-19 1 1 0 1 0 1 0 33 0-44 1 7 0-9 1 12 0 22 0-35 1 3 0 4 0 2 0 35 0 7 0-62 1 1 0 4 0 12 0 46 0-65 1 3 0 3 0 5 0 14 0 1 0 2 0 36 0 6 0-70 1 3 0 12 0 2 0 4 0 1 0 1 0 41 0 1 0-66 1 9 0 59 0-75 1 13 0 3 0 12 0 5 0 42 0-64 1 3 0 51 0 2 0 17 0-80 1 7 0 3 0 16 0 9 0 45 0-84 1 16 0 11 0 1 0-11 1 60 0-79 1 15 0 12 0 3 0 49 0-71 1 1 0 18 0 3 0 42 0 4 0 1 0 1 0 2 0 10 0-92 1 13 0 65 0 1 0 4 0 8 0-56 1 42 0 12 0-78 1 21 0 44 0 5 0-81 1 2 0 12 0 8 0 4 0 3 0 48 0-65 1 1 0 2 0 4 0 1 0 1 0 2 0 9 0-15 1 5 0 1 0 1 0-14 1 3 0 35 0 31 0 1 0-67 1 4 0 4 0 1 0 2 0 2 0 3 0 49 0 1 0 4 0 2 0-73 1 2 0 5 0 8 0 18 0-34 1 1 0 3 0 3 0 3 0 4 0 3 0 47 0 17 0-80 1 11 0 52 0 4 0 2 0-71 1 1 0 11 0 56 0 3 0-63 1 2 0 61 0-76 1 6 0 1 0 15 0-58 1 51 0 1 0 65 0-68 1 16 0 52 0-82 1 5 0 4 0 58 0 14 0-76 1 2 0-32 2 21 0 15 0 64 0-82 1 1 0 17 0-26 1 14 0 8 0 2 0 10 0 71 0-105 1 22 0 3 0 77 0 3 0 14 0-107 1 7 0 1 0 3 0-13 1 4 0 4 0 78 0 4 0-80 1 4 0 6 0 2 0 63 0 8 0 7 0 2 0-143 1 26 0 4 0 21 0 3 0 6 0 4 0 75 0-91 1 9 0 81 0-91 1 4 0 9 0 62 0 13 0 1 0 2 0-101 1 2 0 13 0 79 0-92 1 7 0 6 0 69 0 5 0 10 0 13 0-101 1 2 0 1 0 5 0 66 0-92 1 6 0 12 0 4 0 5 0 77 0-101 1 8 0 3 0 64 0 23 0 16 0-103 1 4 0 4 0 2 0 2 0 76 0-89 1 4 0 2 0-5 1 2 0 3 0 2 0 2 0 1 0 77 0-96 1 16 0 2 0 1 0 74 0-82 1 9 0-10 1 11 1 74 0 4 0 3 0 0 1 8 0 2 0-119 1 15 0 75 0 18 0-108 1-5 1 114 0-117 1 14 0 5 0 13 0 6 0 67 0 19 0 7 0-129 1 3 0 13 0 110 0 5 0-121 1 101 0 12 0 2 0 1 0-118 1 3 0 3 0 1 0 9 0 2 0 3 0 4 0 91 0-127 1 7 0 10 0 6 0 1 0 6 0-3 1 97 0 1 0-117 1 16 0 93 0 5 0-123 1 2 0 11 0 1 0 2 0 8 0 28 0 66 0-107 1 3 0 3 0 12 0 94 0 7 0-115 1 1 0 2 0 3 0 100 0 10 0-108 1 21 0 94 0-138 1 20 0 10 0 114 0-138 1 8 0 5 0 1 0 99 0 8 0 8 0 2 0-128 1 5 0 8 0-63 1 47 0 1 0 7 0 4 0 1 0 2 0 6 0 91 0 1 0 5 0-100 1 33 0 24 0 36 0 13 0-123 1 3 0 118 0-137 1 19 0 2 0 3 0 7 0 103 0 4 0-121 1 3 0 4 0 5 0 109 0 2 0 14 0-152 1 7 0 5 0 2 0 3 0 3 0 106 0 25 0-143 1 4 0 1 0 7 0 5 0 5 0 1 0 1 0 96 0 1 0-118 1 1 0 1 0 2 0 4 0 7 0 12 0 100 0-134 1 4 0 1 0 2 0 5 0 2 0 1 0 1 0 3 0 5 0 4 0 102 0 4 0-132 1 4 0 6 0 113 0 7 0 8 0-133 1 1 0 8 0 4 0 4 0 111 0-132 1 1 0 4 0 1 0 3 0 1 0 5 0 7 0 11 0 88 0-123 1 2 0 3 0 1 0 4 0 6 0 3 0 86 0-111 1 10 0 3 0 2 0 3 0 1 0 1 0 11 0 107 0-125 1 2 0 2 0 120 0-129 1 2 0 2 0 23 0 72 0 4 0 35 0-138 1 12 0 2 0 3 0 66 0-85 1 2 0 8 0 1 0 19 0 96 0 1 0 14 0-140 1 1 0 20 0 116 0-139 1 13 0 5 0 118 0 4 0 2 0-150 1 13 0 13 0 7 0 89 0-127 1 15 0 2 0 1 0 2 0 81 0 42 0 18 0-154 1 10 0 1 0 1 0 122 0 3 0 3 0 5 0-140 1 1 0 3 0 12 0 3 0 110 0 20 0-146 1 3 0 2 0 1 0 5 0 117 0 15 0-160 1 7 0 4 0 11 0 1 0 1 0 7 0-38 1 14 0 2 0 15 0 4 0 118 0 4 0-144 1 3 0 13 0 1 0 1 0 2 0 127 0-157 1 23 0 4 0 124 0-136 1 2 0 8 0 1 0 1 0 1 0 5 0 70 0-89 1 2 0 133 0-138 1 3 0 25 0 116 0-144 1 16 0 3 0 3 1 24 0 97 0-128 1 8 0 71 0 52 0 3 0-156 1 4 0 2 0 5 0 2 0 1 0 5 0 1 0 6 0 96 0-110 1 1 0 2 0 2 0 3 0 1 0 2 0 3 0 2 0-16 1 5 0 1 0 4 0-19 1 8 0 3 0-13 1 1 0 2 0 3 0 7 0 5 0 2 0 2 0 2 0 2 0-22 1 17 0 111 0-112 1 3 0-21 1 3 0 15 0 105 0 22 0-152 1 3 0 20 0 3 0-36 1 13 0 31 0-34 1 18 0 4 0 14 0 135 0-152 1 1 0 118 1-124 1 9 0 4 1-42 1 28 0 12 0 122 0-127 1 1 1 114 0 12 0-133 1 142 0-142 1 8 1-19 1 11 0-16 1 6 0 1 0 2 0 1 0 4 0 10 0-24 1 8 0 10 0 21 0-36 1 7 0 5 0 4 0 36 0-37 1 1 0 7 0-36 1 11 0 9 0 8 0-22 1 1 0 3 0 13 0 5 0 6 0-33 1 5 0 7 0 16 0-23 1 13 0 5 0-25 1 6 0 3 0 2 0-1 1 14 0 6 0-19 1-12 1 8 1-13 1 23 0 10 0-13 1 18 0-24 1 6 0 11 0-27 1 3 0 10 0 1 0 2 0 16 0-33 1 1 0 2 0 9 0 1 0 1 0 19 0 3 0-33 1 3 0 1 0 1 0 1 0 2 0 3 0 2 0 4 0-28 1 1 0 11 0 3 0 3 0 1 0 7 0-30 1 18 0 4 0 1 0 7 0 1 0 1 0-9 1 1 0 31 0-52 1 10 0 2 0 3 0 8 0 3 0-35 1 26 0 5 0-23 1 16 0 4 0 4 0 3 0-16 1 10 0 6 0 1 0-25 1 5 0 2 0 11 0 2 0 4 0 2 0-21 1 14 0 5 0 1 0-10 1 3 0 2 0 2 0 2 0-23 1 17 0 14 0-15 1 7 0 7 0-12 1 1 0 1 0 7 0 3 0-31 1 1 0 13 0 7 0-20 1 1 0 17 0 4 0-9 1 3 0 3 0-17 1 15 0 7 0-26 1 2 0 15 0 2 0 2 0-22 1 22 0-10 1 2 0 10 0-18 1 4 0 2 0 7 0 1 0 2 0 1 0 1 0-17 1 4 0 1 0-16 1 13 0 4 0 1 0 1 0 6 0 1 0-11 1 3 0 11 0-13 1 4 0 2 0 4 0-11 1-15 1 13 0 10 0-7 1 2 0 9 0 3 0-34 1 4 0 4 0 9 0 2 0-17 1 30 0-36 1 5 0 1 0 1 0 27 0-33 1 15 0-14 1 6 0 5 0 21 0-35 1 10 0 1 0 5 0 16 0-15 1 1 0-5 1 2 0 1 0-15 1 6 0 6 0 1 0 1 0 2 0-19 1 2 0 4 0 7 0 1 0 4 0-15 1 5 0 10 0-20 1 12 0 6 0 2 0 7 0-24 1 1 0 17 0-4 1 1 0 1 0 1 1-2 1-10 1 5 0 3 0 1 0 5 0-8 1-1 1 1 0 1 0-15 1 7 0 4 0 3 0 1 0-6 1 4 0 2 0 2 0-8 1-6 1 2 0 1 0 6 0 1 0 1 0 1 0 1 1-17 1 5 0 9 0 2 0 1 0-16 2 5 0 2 0-6 1 3 0" class="mk" style="marker:url(#m26)"/>
<path d="M643 2188l-33 8 17 7 9 0 8 1-2 2-11 1-4 1 3 0 4 0 1 0-5 1 9 0-7 1 3 0-8 1 9 0 11 0-23 1 3 0 3 0 1 0 1 0 5 0 2 0 15 2-20 1 23 0-40 1 18 0 22 0 6 1-60 1 21 0 4 1 26 0-29 1 7 0-12 1 10 0 1 0 24 0-41 1 1 0 6 1 9 0 2 0-12 2 3 0 2 0 14 0 35 0-56 1 50 0-58 1 2 0 8 0-12 1 2 0 29 0-37 1 67 0-56 1 5 0 15 0 35 0 2 0-62 1 25 0 34 0 1 0-49 1 37 0 9 0 22 0-12 1-54 1 48 0 6 0-64 1 60 0 2 0 4 0-72 1 1 0 19 0 55 0 5 0-69 1 5 0-10 1 14 0 48 0-84 1 89 0-72 1 16 0 3 0-17 1 9 0 6 0 49 0 7 0 4 0-78 1 14 0 53 0 18 0-84 1-15 1 16 0 4 0 1 0 9 0-19 1 4 0 9 0 62 0 1 0-72 1 17 0 51 0 2 0-46 1-25 2 9 0 1 0 1 0 2 0-17 1 9 0 9 0-10 1 72 0 7 2-91 1 12 0 66 0-77 1-3 1 1 0 9 0 0 1 24 0-33 1 2 0 12 1 16 0 66 0-94 1 6 0 5 0 64 0 16 0-100 1 10 0 3 0 12 0 64 0 8 0 4 0 5 1-105 1 16 0-16 1 21 0-15 1 11 0 81 0 1 0-102 1 5 0 11 0-20 1 7 0 4 0 6 0 9 0-6 1 7 0 67 0-68 1 1 0-17 1 4 0 4 0 83 0-92 1 15 0 76 0-89 1 5 0 85 0 5 0-88 1 89 0 35 0-119 2 89 2-94 1 92 0-87 1 87 0 13 0-117 1 15 0 2 0-25 1 21 0 5 0 96 0-118 1 8 0 7 0 7 0-32 1 6 0 4 0 18 0-18 1 3 1 10 0 3 0-13 1 10 0-3 1 4 0-61 1 153 0-117 1 3 0 106 0 13 0-107 1-7 1 111 1 14 0-133 1 26 1 92 0 1 0 23 0-134 1 1 0 67 0 39 0 9 0 3 0 14 0-134 1 10 0 109 0 3 0-118 1 1 0 2 0 107 0-102 1 104 1-111 1 2 0 89 0 22 0-123 1 5 0 12 0 85 0 26 0-141 1 16 0 8 0 103 0 27 0-137 1 9 0 18 0 93 0-138 1 11 0 3 0 1 0 3 0 4 0 1 0 9 0-20 1 6 0 1 0 6 0 1 0 104 0 4 0 5 0-116 1 121 0-132 1 8 0 3 0 130 1-132 1 3 0 6 0 110 0-129 1 11 0 7 0 106 0-118 1 3 0 1 0-14 1 2 0 13 0 111 0-122 1 10 0 5 0 97 0 12 0 14 0-140 1 1 0 17 0-22 1 4 0 1 0 128 0 5 0-133 1 129 0 1 0-135 1 1 0 2 0 1 0 5 0 12 0 110 0 3 0 5 0 3 0 6 0-152 2 146 0-146 1 9 0 11 0 116 0-134 1 6 0 4 0-5 1 2 1 2 0 4 0 122 0-126 1-22 1 152 0-129 1 3 0 5 0 14 0 36 0 69 0 5 0-131 1-16 1 3 0 15 0 1 0 2 0 6 0-9 1 5 0-17 1 3 0 9 0-6 1 7 0 2 0 138 0-157 1 13 0 8 0-12 1 8 0-10 1 13 0-33 1 33 0-21 2 18 0-23 1 9 0 12 0-28 1 11 0 15 1 9 0 81 0 17 0-109 2 9 0-22 1 14 0-11 1 7 0 2 0-2 1 115 1-131 1 35 0-16 1-18 1-9 1 6 0 3 1 11 0 7 0-26 1 23 0-34 1 13 0 2 0 3 0 7 1 4 0 6 0 4 0-26 1 4 0 25 0-28 1 6 0-21 1 8 0 16 0 10 0 2 0-19 2 1 0 18 0-26 1 9 0 1 0-12 2 1 0 2 0 1 0-3 1 5 0-30 1 27 0 19 0-17 1 7 0-2 1 1 0 1 0-25 2 11 0 8 1-5 1 2 0-10 1 6 0 7 0-6 2 3 1 1 0-17 1 10 0 4 0-3 1 11 0 1 1 8 0-7 1 10 0-37 1 17 0-5 1 1 0 14 0-13 1 2 0 6 0 1 0-3 1 3 0-25 1 32 2-15 1 2 1 10 0-21 2 1 1 13 0-11 1 2 1 21 0-46 1 32 0 10 0-20 1 17 1-12 1 4 0-4 1-22 3 6 1-8 1 4 0 3 0 4 0 19 0-43 1 26 1-8 2 3 0 7 0 1 0-14 1-9 1 11 0 5 1-3 1 3 1 2 0 10 0-9 1 7 0-22 1 9 0 3 0 1 0 1 0-23 1 7 0 11 0 2 0 1 0 7 1-12 1 9 0 4 0-9 1-15 1 16 0 5 0-8 1 1 1 2 2-14 3" class="mk" style="marker:url(#m26)" opacity="0.55"/>
<path d="M633.9 2180.5C638.9 2181.6 645.1 2185.2 650.6 2188.2C656.2 2191.1 662.6 2194.0 667.4 2198.2C672.1 2202.4 675.2 2208.5 679.1 2213.2C683.0 2218.0 687.1 2222.2 690.8 2226.6C694.4 2231.1 696.9 2235.5 700.8 2240.0C704.7 2244.4 710.3 2248.9 714.2 2253.4C718.1 2257.8 721.4 2262.3 724.2 2266.7C727.0 2271.2 729.5 2275.7 730.9 2280.1C732.3 2284.6 732.0 2288.5 732.6 2293.5C733.1 2298.5 733.7 2305.2 734.2 2310.2C734.8 2315.2 736.2 2319.1 735.9 2323.6C735.6 2328.1 734.0 2333.4 732.6 2337.0C731.2 2340.6 731.2 2343.4 727.6 2345.3C723.9 2347.3 716.4 2347.6 710.8 2348.7C705.3 2349.8 699.7 2350.9 694.1 2352.0C688.5 2353.1 683.0 2354.3 677.4 2355.4C671.8 2356.5 666.2 2357.8 660.7 2358.7C655.1 2359.7 648.4 2360.8 643.9 2361.1C639.5 2361.3 635.9 2361.6 633.9 2360.4C632.0 2359.2 632.0 2355.7 632.2 2353.7C632.5 2351.8 637.0 2349.2 635.6 2348.7C634.2 2348.1 627.8 2349.8 623.9 2350.4C620.0 2350.9 616.1 2350.9 612.2 2352.0C608.3 2353.1 604.4 2354.8 600.5 2357.0C596.6 2359.3 592.7 2362.1 588.8 2365.4C584.9 2368.8 581.2 2373.2 577.1 2377.1C572.9 2381.0 568.1 2384.9 563.7 2388.8C559.2 2392.7 554.8 2396.3 550.3 2400.5C545.8 2404.7 541.1 2410.3 536.9 2413.9C532.7 2417.5 529.1 2420.1 525.2 2422.3C521.3 2424.4 517.4 2426.1 513.5 2426.6C509.6 2427.2 505.2 2426.3 501.8 2425.6C498.5 2424.9 494.4 2425.3 493.4 2422.3C492.5 2419.2 495.0 2412.5 496.1 2407.2C497.2 2401.9 497.8 2396.6 500.1 2390.5C502.5 2384.4 507.1 2377.1 510.2 2370.4C513.2 2363.7 516.3 2357.0 518.5 2350.4C520.8 2343.7 521.9 2337.0 523.5 2330.3C525.2 2323.6 527.2 2316.9 528.6 2310.2C530.0 2303.5 529.7 2296.3 531.9 2290.2C534.1 2284.0 538.6 2279.0 541.9 2273.4C545.3 2267.9 548.6 2262.0 552.0 2256.7C555.3 2251.4 558.4 2246.7 562.0 2241.7C565.6 2236.6 570.1 2231.4 573.7 2226.6C577.3 2221.9 580.4 2217.4 583.7 2213.2C587.1 2209.1 589.9 2205.7 593.8 2201.5C597.7 2197.3 602.7 2191.5 607.2 2188.2C611.6 2184.8 616.1 2182.7 620.5 2181.5C625.0 2180.2 628.9 2179.3 633.9 2180.5Z" fill="none" stroke="#f4f4f4" stroke-width="3" stroke-linecap="round" stroke-dasharray="0.1 5.35"/>
<text x="505.0" y="2194.4" font-size="24" fill="#c97f8e" font-style="italic" textLength="70.4" lengthAdjust="spacingAndGlyphs">EPGN</text>
<text x="687.4" y="2194.4" font-size="24" fill="#b3d98c" font-style="italic" textLength="67.6" lengthAdjust="spacingAndGlyphs">EGFR</text>
<path d="M658.5 2246.5L685 2232L693 2247L667 2262Z" fill="none" stroke="#fff" stroke-width="3.8" stroke-dasharray="3.8 2.6"/>
<line x1="688.0" y1="2234.0" x2="863.0" y2="2234.0" stroke="#fff" stroke-width="3.3" stroke-dasharray="3.4 3.4"/>
<line x1="674.0" y1="2262.0" x2="863.0" y2="2366.0" stroke="#fff" stroke-width="3.3" stroke-dasharray="3.4 3.4"/>
<rect x="863.1" y="2234.0" width="161.9" height="132.0" fill="#040102"/>
<g clip-path="url(#cp2)"><g transform="rotate(30 944.0 2300.0)">
<path d="M951 2226.5l3.5 24.5 10.5 3.5 24.5 0-17.5 3.5-52.5 3.5 73.5 0-91 3.5 31.5 7 59.5 0-91 7 24.5 3.5-10.5 7-3.5 7 31.5 7-28 3.5 98 0-101.5 3.5 42 7-14 7 7 7-3.5 3.5-7 14 28 0 0 7-7 7" class="mk" style="marker:url(#m27)"/>
<path d="M954.5 2226.5l14 28 17.5 3.5-14 7 3.5 3.5 21 0-94.5 3.5 17.5 0 21 0-35 7-10.5 3.5 24.5 3.5-21 3.5 21 0 7 0 10.5 0-21 3.5 7 0-14 7 108.5 0 0 3.5-98 17.5 38.5 3.5-35 3.5 21 3.5-3.5 14 17.5 0" class="mk" style="marker:url(#m28)"/>
<path d="M958 2240.5l-14 10.5-73.5 14 115.5 3.5-112 7 108.5 0 3.5 0-126 3.5 129.5 0 3.5 0-80.5 7 45.5 0 31.5 0 10.5 0 7 0-28 3.5 14 0 14 0-3.5 3.5-115.5 3.5 35 0 87.5 0-108.5 3.5 35 0 3.5 0-7 3.5 24.5 0 10.5 3.5 17.5 0-98 3.5 7 0 10.5 0 84 3.5 10.5 0-94.5 3.5 73.5 0 14 0-91 7 63 0-73.5 3.5 28 0 0 3.5-7 3.5 10.5 0 31.5 0 10.5 0 17.5 0-3.5 3.5-66.5 3.5" class="mk" style="marker:url(#m29)"/>
<path d="M968.5 2244l-31.5 7 56 0-21 3.5 14 7 28 7-108.5 3.5 0 3.5 38.5 0-3.5 7 66.5 0 10.5 0-112 3.5 105 0 17.5 3.5-42 3.5-70 3.5 77 0 17.5 10.5 21 0-115.5 3.5 17.5 0 10.5 3.5 3.5 3.5 10.5 10.5-10.5 7 3.5 10.5 3.5 0" class="mk" style="marker:url(#m30)"/>
<path d="M993 2247.5l-98 3.5-10.5 10.5 3.5 3.5 87.5 0 24.5 3.5-73.5 10.5 7 7 7 3.5 77 3.5-98 3.5 70 7-59.5 3.5 10.5 0 10.5 0 66.5 7-91 3.5 24.5 0 84 3.5-112 3.5 94.5 7-49 17.5" class="mk" style="marker:url(#m31)"/>
<path d="M923 2254.5l-14 14-42 3.5 140 0-14 3.5-84 3.5 73.5 0 3.5 0-7 3.5 7 0 7 0 7 0-147 7 80.5 0 17.5 0 28 3.5 28 0-129.5 3.5 14 0 52.5 3.5 28 0 3.5 0 31.5 0 7 0-112 3.5 28 0 66.5 7-112 3.5 10.5 0 73.5 0 7 3.5-17.5 3.5 21 0-10.5 3.5-73.5 3.5 3.5 0 17.5 0-24.5 3.5 10.5 0 21 0 45.5 0-66.5 7 3.5 0 3.5 0 17.5 0 42 0-14 3.5 7 0 21 7-45.5 7 3.5 7" class="mk" style="marker:url(#m32)"/>
<path d="M951 2254.5l45.5 0-112 10.5 98 0 7 0-52.5 3.5 28 0 28 0-52.5 10.5 0 7 70 3.5-84 3.5 3.5 0 7 0 84 10.5-87.5 3.5 3.5 3.5-14 3.5 94.5 7-91 3.5 21 14 0 10.5" class="mk" style="marker:url(#m33)"/>
<path d="M923 2258l17.5 10.5-24.5 3.5 66.5 0-70 3.5 3.5 0 7 0-52.5 3.5 38.5 7 77 3.5-21 3.5-66.5 7-3.5 3.5 10.5 0 31.5 0-80.5 3.5 38.5 0 59.5 0-63 3.5 7 3.5 56 0 3.5 0 7 0 7 0 14 0-98 3.5 3.5 0 17.5 0-10.5 3.5 0 10.5 7 0 91 0-77 3.5 38.5 0-42 3.5 91 0-105 3.5 7 7" class="mk" style="marker:url(#m34)"/>
<path d="M989.5 2258l14 0-24.5 3.5 3.5 7 35 0-7 7-77 3.5 80.5 7-24.5 10.5-77 3.5 7 3.5 7 10.5 7 0 73.5 0 3.5 0 14 7-87.5 3.5 10.5 0-17.5 3.5 14 10.5 0 10.5 17.5 10.5" class="mk" style="marker:url(#m35)"/>
<path d="M923 2261.5l42 10.5-101.5 3.5 45.5 0 80.5 0-133 3.5 38.5 0 28 0 24.5 0 24.5 0 21 7 3.5 0-7 3.5-108.5 7 119 0 3.5 0 3.5 0-122.5 3.5 35 0 49 0 42 0-129.5 3.5 10.5 0 80.5 0 35 0 3.5 0-45.5 3.5-56 3.5 63 0-66.5 3.5 56 0-66.5 3.5 66.5 0-73.5 3.5 94.5 0-94.5 3.5 28 0 63 3.5-66.5 3.5 42 0-52.5 3.5 59.5 0 0 3.5 3.5 3.5-66.5 3.5 31.5 0 49 3.5" class="mk" style="marker:url(#m36)"/>
</g></g>
<rect x="863.1" y="2234.0" width="161.9" height="132.0" fill="none" stroke="#fff" stroke-width="3.6" stroke-dasharray="3.7 3.75"/>
<text x="941.6" y="2398.5" font-size="26" fill="#fff" textLength="81.9" lengthAdjust="spacingAndGlyphs">200 &#181;m</text>
<rect x="965.0" y="2409.5" width="28.4" height="4.3" fill="#fff"/>
<text x="1055.6" y="1871.5" font-size="40" fill="#1a1110" font-weight="bold">g</text>
<text x="1113.8" y="1876.9" font-size="25" fill="#000" textLength="100.0" lengthAdjust="spacingAndGlyphs">Epithelial</text>
<text x="1145.0" y="1906.7" font-size="25" fill="#000" textLength="36.4" lengthAdjust="spacingAndGlyphs">cell</text>
<text x="1331.0" y="1906.7" font-size="25" fill="#000" textLength="108.5" lengthAdjust="spacingAndGlyphs">Fibroblast</text>
<path d="M1214.3 1921.8C1274.1 1921.8 1274.1 2300.0 1333.9 2300.0L1333.9 2385.2C1274.1 2385.2 1274.1 2007.0 1214.3 2007.0Z" fill="#7fb0b2" fill-opacity="0.45"/>
<path d="M1214.3 2007.0C1274.1 2007.0 1274.1 1921.8 1333.9 1921.8L1333.9 1999.9C1274.1 1999.9 1274.1 2084.7 1214.3 2084.7Z" fill="#a6dbe2" fill-opacity="0.48"/>
<path d="M1214.3 2084.7C1274.1 2084.7 1274.1 1999.9 1333.9 1999.9L1333.9 2119.1C1274.1 2119.1 1274.1 2204.3 1214.3 2204.3Z" fill="#4b6a6b" fill-opacity="0.6"/>
<path d="M1214.3 2204.3C1274.1 2204.3 1274.1 2209.1 1333.9 2209.1L1333.9 2300.0C1274.1 2300.0 1274.1 2295.1 1214.3 2295.1Z" fill="#7fb0b2" fill-opacity="0.48"/>
<path d="M1214.3 2295.1C1274.1 2295.1 1274.1 2119.1 1333.9 2119.1L1333.9 2209.1C1274.1 2209.1 1274.1 2385.2 1214.3 2385.2Z" fill="#7fb0b2" fill-opacity="0.45"/>
<rect x="1111.6" y="1921.8" width="102.7" height="463.4" fill="#fff" stroke="#000" stroke-width="2"/>
<line x1="1111.6" y1="2007.0" x2="1214.3" y2="2007.0" stroke="#000" stroke-width="2"/>
<line x1="1111.6" y1="2084.7" x2="1214.3" y2="2084.7" stroke="#000" stroke-width="2"/>
<line x1="1111.6" y1="2204.3" x2="1214.3" y2="2204.3" stroke="#000" stroke-width="2"/>
<line x1="1111.6" y1="2295.1" x2="1214.3" y2="2295.1" stroke="#000" stroke-width="2"/>
<text x="1162.9" y="1973.0" font-size="20.7" fill="#cf5560" text-anchor="middle" font-style="italic">AGRN</text>
<text x="1162.9" y="2051.4" font-size="20.7" fill="#000" text-anchor="middle" font-style="italic">IGFBP3</text>
<text x="1162.9" y="2152.7" font-size="20.7" fill="#000" text-anchor="middle" font-style="italic">NECTIN1</text>
<text x="1162.9" y="2259.8" font-size="20.7" fill="#000" text-anchor="middle" font-style="italic">SDC1</text>
<text x="1162.9" y="2350.1" font-size="20.7" fill="#cf5560" text-anchor="middle" font-style="italic">WNT5A</text>
<rect x="1333.9" y="1921.8" width="103.0" height="463.4" fill="#fff" stroke="#000" stroke-width="2"/>
<line x1="1333.9" y1="1999.9" x2="1436.9" y2="1999.9" stroke="#000" stroke-width="2"/>
<line x1="1333.9" y1="2119.1" x2="1436.9" y2="2119.1" stroke="#000" stroke-width="2"/>
<line x1="1333.9" y1="2209.1" x2="1436.9" y2="2209.1" stroke="#000" stroke-width="2"/>
<line x1="1333.9" y1="2300.0" x2="1436.9" y2="2300.0" stroke="#000" stroke-width="2"/>
<text x="1385.4" y="1968.2" font-size="20.7" fill="#000" text-anchor="middle" font-style="italic">TMEM219</text>
<text x="1385.4" y="2066.7" font-size="20.7" fill="#000" text-anchor="middle" font-style="italic">NECTIN4</text>
<text x="1385.4" y="2168.3" font-size="20.7" fill="#cf5560" text-anchor="middle" font-style="italic">SFRP2</text>
<text x="1385.4" y="2265.4" font-size="20.7" fill="#000" text-anchor="middle" font-style="italic">ADGRA2</text>
<text x="1385.4" y="2352.9" font-size="20.7" fill="#cf5560" text-anchor="middle" font-style="italic">PTPRS</text>
<text x="1125.7" y="2416.4" font-size="25" fill="#555" textLength="73.3" lengthAdjust="spacingAndGlyphs">Ligand</text>
<text x="1335.9" y="2416.4" font-size="25" fill="#555" textLength="99.6" lengthAdjust="spacingAndGlyphs">Receptor</text>
<rect x="1495.2" y="1870.1" width="554.4" height="265.2" fill="#040102"/>
<path d="M1637 1886l17 1 7 2-3 1-15 4 33 1-45 2 30 1 4 1-19 2 6 0-11 1 33 0 9 0-38 1 32 0-29 1 28 0 7 0 3 0-1 1-19 1 7 0 3 0 12 0-40 1 32 0 7 0-32 1 23 0 7 0-75 1 71 0 3 0-5 1-22 1 7 0 17 0 2 0-22 1 21 0 2 1 1 0-42 1 31 0 8 0-36 1 15 0 20 0 1 1-26 1 3 0 1 0 8 0 3 0 3 0 5 0 5 0 7 0 6 0-45 1 4 0 23 0 5 0 2 0 1 0-64 1 29 0 5 0 19 0 1 0 3 0 1 0 1 0 1 0 1 0-9 1 1 0 2 0 4 0 2 0-45 1 26 0 16 0-62 1 6 0 23 0 14 0 2 0 2 0 6 0 25 0-68 1 21 0 15 0 2 0-50 1 37 0 8 0 4 0 5 0 3 0 12 0-29 1 2 0 2 0 1 0 6 0 1 0 8 0 5 0-67 1 35 0 1 0 3 0 10 0 2 0 3 0 2 0 5 0 2 0 1 0-23 1 8 0 1 0 12 0 5 0-25 1 2 0 5 0 1 0 3 0 1 0 2 0 7 0-21 1 6 0 2 0 1 0 3 0-45 1 34 0 5 0 3 0-23 1 6 0 2 0 4 0 1 0 2 0-63 1 35 0 35 0 2 0 3 0 1 0 2 0-26 1 2 0 3 0 10 0 7 0-32 1 5 0 12 0 9 0-24 1 17 0 14 0-27 1 8 0 2 0 1 0-57 1 28 0 29 0 1 0 1 0-68 1 6 0 46 0 4 0 12 0 2 0 3 0 26 0-44 1 13 0 3 0 24 0 9 0-47 1 13 0 24 0-46 1 6 0 3 0 12 0 36 0 2 0-46 1 4 0 49 0-81 1 4 0 24 0 5 0 10 0 22 0 7 0-38 1 3 0 1 0 19 0-93 1 6 0 47 0 4 0 9 0 10 0 27 0-99 1 36 0 2 0 14 0 1 0 1 0 3 0 3 0 2 0 3 0 4 0-47 1 34 0 5 0 2 0 2 0 22 0 13 0-98 1 31 0 19 0 4 0 3 0 1 0 6 0 4 0 1 0 3 0 24 0-104 1 56 0 2 0 1 0 2 0 4 0 2 0 35 0 3 0-106 1 37 0 5 0 39 0 14 0 11 0 5 0-64 1 25 0 40 0 28 0-82 1 6 0 1 0 1 0 3 0 13 0 13 0-61 1 29 0 5 0 15 0 10 0 3 0 1 0 15 0-108 1 23 0 13 0 10 0 17 0 12 0 2 0 15 0-33 1 3 0 1 0 21 0-8 1 4 0 11 0 9 0 3 0 2 0 39 0-80 1 19 0 50 0-45 1 15 0 9 0-90 1 46 0 21 0 18 0 1 0-40 1 27 0 5 0-58 1 19 0 1 0 30 0 2 0 17 0-70 1 2 0 24 0 31 0 4 0 7 0-58 1 17 0-82 1 55 0 4 0 5 0 4 0 8 0 6 0 24 0-68 1 29 0 1 0 39 0 58 0-102 1 2 0 1 0 2 0 69 0-75 1 1 0 1 0 2 0 1 0 33 0 66 0-108 1 8 0 1 0 7 0 21 0-61 1 24 0 1 0 1 0 2 0 5 0 46 0-77 1 25 0 1 0 20 0 22 0 56 0-104 1 1 0 1 0 4 0 1 0 11 0 82 0 10 0-117 1 10 0 12 0 2 0 24 0 19 0 34 0-95 1 29 0-49 1 19 0 20 0 50 0-72 1-3 1 8 0 17 0 4 0 19 0 50 0 3 0 1 0-99 1 2 0 41 0 52 0 13 0-91 1 31 0 5 0 57 0-165 1 12 0 37 0 13 0 1 0 10 0 78 0 14 0 10 0-169 1 46 0 4 0 6 0 60 0 49 0-166 1 29 0 18 0 4 0 4 0-14 1 11 0 1 0 1 0 2 0 2 0 8 0 69 0-92 1 3 0 3 0 3 0 2 0 1 0 103 0 4 0 6 0-168 1 46 0 9 0 10 0 3 0 69 0 4 0 28 0-169 1 37 0 8 0 3 0 6 0 12 0 4 0 12 0 73 0-148 1 36 0 22 0 33 0 1 0 6 0 38 0 5 0-152 1 48 0 11 0 2 0 3 0 7 0 34 0 6 0 6 0 44 0 5 0-119 1 2 0 21 0 34 0 25 0-89 1 23 0 32 0 8 0 20 0 1 0-114 1 5 0 35 0 5 0 6 0 4 0 45 0-68 1 20 0 3 0 52 0 5 0 53 0-134 1 3 0 35 0 20 0 14 0 7 0-77 1 2 0 2 0 12 0 2 0 28 0 39 0 14 0-85 1 17 0 4 0 74 0-108 1 2 0 8 0 3 0 61 0 19 0 3 0-92 1 5 0 20 0 41 0 26 0 5 0-103 1 2 0 12 0 8 0 1 0 7 0 39 0 36 0-91 1 2 0 3 0 54 0 3 0 31 0 1 0-120 1 15 0 12 0 3 0 1 0 54 0 3 0 31 0 2 0 8 0 1 0-158 1 7 0 33 0 2 0 57 0 1 0 26 0-119 1 32 0 4 0 9 0 4 0 1 0 2 0 1 0 12 0 21 0 71 0-127 1 2 0 4 0 11 0 3 0 1 0 22 0 13 0 34 0 19 0 5 0 6 0 3 0 7 0-125 1 1 0 1 0 2 0 6 0 4 0 59 0 3 0 34 0 10 0 3 0 2 0 2 0-169 1 33 0 8 0 2 0 3 0 11 0 16 0 7 0 18 0 17 0 28 0 6 0 1 0 7 0 19 0-141 1 4 0 2 0 1 0 5 0 43 0 28 0 9 0 28 0 1 0 3 0 9 0 7 0-151 1 3 0 7 0 8 0 1 0 4 0 62 0 9 0 18 0 7 0 7 0 1 0 5 0 2 0 6 0-169 1 7 0 29 0 1 0 2 0 2 0 1 0 5 0 1 0 52 0 2 0 15 0 14 0 20 0 1 0 8 0 3 0-129 1 2 0 10 0 16 0 41 0 15 0 7 0 9 0 14 0 4 0 20 0 2 0-175 1 38 0 1 0 2 0 3 0 1 0 6 0 9 0 1 0 13 0 28 0 42 0 7 0 3 0 1 0 1 0 18 0 1 0 2 0-179 1 8 0 31 0 8 0 4 0 12 0 6 0 5 0 54 0 6 0 1 0-131 1 38 0 4 0 1 0 2 0 10 0 21 0 29 0 15 0 1 0 1 0 1 0 29 0 2 0 7 0 4 0-138 1 13 0 4 0 70 0 1 0 4 0 1 0 31 0-119 1 5 0 3 0 3 0 2 0 71 0 2 0 5 0 26 0 2 0 4 0 3 0 2 0-175 1 17 0 44 0 13 0 6 0 30 0 25 0 36 0 3 0 2 0-131 1 4 0 3 0 6 0 6 0 6 0 20 0 18 0 14 0 5 0 44 0 2 0 1 0-127 1 1 0 7 0 7 0 49 0 6 0 9 0 46 0 3 0-133 1 10 0 3 0 6 0 4 0 51 0 16 0 2 0 39 0 2 0-124 1 4 0 18 0 35 0 4 0 10 0 6 0 39 0-127 1 8 0 3 0 4 0 1 0 43 0 10 0 61 0-123 1 8 0 1 0 15 0 44 0 25 0-108 1 1 0 10 0 5 0 3 0 1 0 72 0 7 0 11 0 15 0 7 0 10 0 2 0-133 1 5 0 3 0 23 0 43 0 31 0 3 0 23 0 2 0-128 1 14 0 8 0 22 0 19 0 27 0 21 0 2 0 2 0-115 1 5 0 15 0 42 0 26 0 11 0 11 0 15 0 4 0 6 0 2 0-192 1 55 0 3 0 3 0 60 0 2 0 29 0 27 0 5 0-131 1 1 0 5 0 2 0 46 0 27 0 10 0 21 0 3 0 12 0 3 0-132 1 6 0 4 0 73 0 15 0 16 0 1 0 8 0 5 0 2 0 8 0 1 0-180 1 42 0 6 0 2 0 3 0 24 0 27 0 88 0-168 1 26 0 2 0 3 0 1 0 73 0 26 0 6 0 2 0 3 0 12 0 3 0 1 0 3 0-185 1 12 0 5 0 24 0 2 0 8 0 4 0 2 0 1 0 44 0 1 0 7 0 20 0 1 0 51 0-182 1 14 0 31 0 5 0 2 0 1 0 3 0 45 0 26 0 3 0 6 0 18 0 18 0 1 0 1 0-182 1 36 0 10 0 4 0 4 0 55 0 27 0 3 0-143 1 18 0 38 0 6 0 1 0 2 0 1 0 107 0 2 0 17 0-139 1 8 0 2 0 1 0 1 0 8 0 30 0 37 0 5 0 48 0-171 1 27 0 19 0 2 0 42 0 35 0 29 0 9 0 5 0 1 0-137 1 5 0 5 0 75 0-83 1 7 0 5 0 4 0 47 0 62 0 2 0-141 1 11 0 4 0 2 0 3 0 7 0 37 0 75 0 6 0-143 1 58 0 81 0 10 0-179 1 28 0 38 0 37 0 16 0 47 0 3 0 2 0 2 0-132 1 1 0 130 0 1 0 3 0-74 1 21 0 53 0-129 1 59 0 4 0 23 0 1 0 19 0-116 1 15 0 26 0 54 0-103 1 80 0 3 0 23 0 1 0 22 0-54 1 23 0 21 0 7 0-91 1 31 0 10 0 4 0 6 0 3 0 6 0 21 0 1 0-116 1 21 0 16 0 10 0 25 0 1 0 6 0 28 0 1 0 6 0 6 0-123 1 9 0 3 0 88 0 19 0 5 0 3 0-158 1 39 0 1 0 1 0 65 0 12 0 6 0 3 0 21 0 2 0 6 0 2 0-106 1 80 0 1 0 4 0 7 0 2 0 2 0 1 0 2 0-148 1 24 0 10 0 2 0 62 0 23 0 8 0 1 0 8 0 1 0 5 0-107 1 27 0 53 0 14 0 7 0 1 0-147 1 3 0 14 0 12 0 14 0 2 0 2 0 1 0 2 0 21 0 61 0 1 0 1 0-107 1 2 0 1 0 19 0 17 0 66 0-131 1 27 0 22 0 82 0-128 1 23 0 1 0 17 0 82 0-90 1 3 0-11 1 1 0 7 0 1 0-8 1 5 0 4 0 5 0 1 0-14 1 2 0 1 0 3 0 3 0 2 0-44 1 3 0 26 0 1 0 2 0 5 0 6 0-45 1 38 0 2 0 4 0 2 0-23 1 16 0 3 0 6 0-44 1 35 0-15 1 13 0 9 0-14 1 5 0 6 0-30 1 8 0 10 0 11 0 2 0-34 1 14 0 1 0 2 0-7 1 10 0 5 0 11 0-25 1 23 0-21 1 1 1 3 0 2 0 0 1 5 0 1 0 16 0-35 1 10 0 4 0 2 0-16 1-14 1 12 0 17 0 7 0 1 0-10 1 1 0 1 0 1 0 11 0-29 1 12 0 3 0 7 0-8 1 8 0-9 1 2 0 1 0 3 0 5 0 1 0-14 1 4 0 1 0 3 0-29 1 1 1 15 0 6 0 3 0 2 0 1 0 3 0-31 1 13 0 3 0 13 0-15 1 1 0 10 0 1 0 4 0-56 1 43 0 9 0 1 0 4 0-17 1 5 0 7 0-27 1 4 0 21 0 2 0-9 1 5 0 6 0-26 1 12 0 1 0-4 1 4 0-10 1 11 0 2 0 7 0-22 1 1 0 7 0 4 0-8 1 1 0 2 0 2 0 10 0-24 1 11 0 1 0-3 1 2 0 2 0 1 0-33 1 28 0 1 0 4 0-16 1 3 0 2 0 18 0-44 1 19 0 25 0-14 1 4 0 2 0 6 0-8 1 2 0 1 0 2 0-20 1 3 0 12 0 4 0 1 0-19 1-24 1 25 1 9 0-32 1 11 1 8 2 3 0 10 0-14 1 14 0-5 2 0 1 2 0-2 1 1 0-4 1-10 2-4 1 4 0 4 0-2 1-19 1 17 2" class="mk" style="marker:url(#m37)"/>
<path d="M1635 1893l10 2-5 1-2 2-21 4 58 0 3 1 4 2-15 1 8 0-36 1 17 0 3 0 8 0 10 0 5 0-23 1 18 0 5 0-21 2 23 0 1 0 0 1-21 1 23 0-4 1-21 1 20 1-3 1 6 0 5 0-49 1 16 0 15 0 6 0 5 1 14 1-50 1 11 0 21 0 20 0-74 1 26 0 3 0 3 0 2 0 16 0 1 0 1 0 1 0 22 0-35 1 2 0 8 0 3 1-11 1 3 0 12 0-68 1 38 0 8 0 5 0-16 1 6 0 10 0 2 0 1 0-19 1 6 0 14 0 1 0-12 1 2 0 6 0 1 0 17 0-26 1 4 0-17 1 4 0 12 0 6 0 2 0 5 0-33 1 19 0 2 0 10 0 1 0-32 1 21 0 6 0-27 1 3 0 6 0 1 0 2 0 3 0 14 0 2 0-36 1 19 0-11 1 2 0 2 1 7 0 2 1 3 0-6 1 34 0-33 1-1 2-10 1 11 0 28 0-80 1 47 0-7 1 14 0-58 1 58 0 1 0 31 0-33 1 4 0 16 0 2 0-21 1 29 0-69 1 39 0 2 0 17 0 9 0 2 0-99 1 26 0 34 0 2 0 14 0 19 0 39 0-99 1 22 0 2 0 3 0 4 0 7 0 32 0 2 0-53 1 7 0 32 0 38 1-57 1 48 0-30 1-18 1-14 1 29 0 14 1-82 1 20 0 20 0 48 0-6 1 5 0-67 1 29 2 20 0-24 2 28 0-55 2 6 0 22 0 23 0 13 0-66 1 17 0 27 0 10 0-47 1 10 0 34 0 6 0 15 0 4 0 3 0 7 0-75 1 73 0 28 0-136 1 27 0 1 0 39 0 8 0 19 0 15 0-36 1 15 0 21 0 26 0-108 1 6 0 9 0-37 1 15 0 23 0-18 1 3 0 1 0 11 0-34 1 17 0 3 0 17 0 31 0-100 1 41 0 9 0 25 0 20 1 53 0-140 1 36 0 11 0 1 0 76 0-132 1 49 0 5 0 2 0 20 0-24 1 1 0 14 0 1 0 2 0-27 1 1 0 6 0 117 0-134 1 44 0-41 1 17 0 22 0-30 1 8 0 1 0 37 0 52 0 17 0-132 1 8 0 6 0 22 0 40 0 2 0-49 1 23 0 37 0 43 0-96 1 46 0 46 0-116 1 22 0 37 0 4 0 48 0-104 1 14 0 37 0 7 0-61 1-2 1 5 0 10 0-3 1-1 1 3 0 42 0 44 0 4 0-108 1 16 0 2 0 20 0 37 0-74 1 8 0 5 0 57 0-59 1 5 0 1 0-72 1 138 0 10 0 10 0-106 1 3 0 14 0 2 0 89 0-92 1 35 0 41 0 20 0-97 1 2 0 22 0 67 0 2 0 30 0-159 1 38 0 6 0 14 0 40 0 33 0 8 0-123 1 12 0 8 0 2 0 4 0 5 0 58 0 23 0 8 0 2 0 13 0 1 0 7 0-123 1 7 0 1 0 24 0 25 0 3 0 3 0 29 0 4 0 7 0-149 1 33 0 4 0 5 0 10 0 34 0 3 0 18 0 33 0 1 0 4 0 8 0-102 1 5 0 86 0 18 0 2 0-124 1 8 0 38 0 53 0 5 0 10 0 9 0 7 0-135 1 4 0 1 0 9 0 26 0 18 0 23 0 3 0 26 0-123 1 3 0 7 0 6 0 1 0 1 0 3 0 74 0 11 0 17 0-113 1 3 0 10 0 7 0 55 0 3 0-87 1 7 0 5 0 9 0 1 0 7 0 61 0 10 0 7 0 10 0 8 0-120 1 78 0 4 0 5 0 29 0 2 0-7 1-114 1 4 0 110 0 6 0 5 0-108 1 23 0 63 0 15 0 5 0 1 0-173 1 66 0 26 0 29 0 19 0 14 0 22 0-127 1 5 0 3 0 7 0 42 0-61 1 5 0 4 0 36 0 3 0 35 0 9 0 1 0 14 0-152 1 48 0 44 0 35 0 7 0 35 0 1 0-124 1 3 0 3 0 5 0 11 0 50 0 4 0 12 0 34 0 5 0 1 0-129 1 19 0 13 0 32 0 7 0 1 0 2 0 41 0 7 0 9 0-112 1 46 0 68 0 10 0-126 1 1 0 72 0 20 0 7 0 20 0-42 1 30 0 19 0 1 0-91 1 60 0 1 0 12 0-123 1 43 0 66 0 13 0 2 0-106 1 37 0 52 0 13 0-124 1 1 0 2 0 8 0 1 0 3 0 97 0-111 1 1 0 56 0 56 0 11 0-179 1 54 0 4 0 42 0 47 0 27 0-171 1 53 0 4 0 6 0 24 0 56 0 4 0 19 0 10 0 2 0 14 0-140 1 118 0 2 0 4 0-118 1 9 0 3 0 98 0 6 0-38 1 30 0-125 1 1 0 4 0 2 0 5 0 28 0 103 0-174 1 44 0 7 0 43 0-38 1 39 0 23 0 11 0-102 1 66 0 85 0-146 1 6 0 3 0 12 0 7 0-13 1 45 0 34 0 43 0 4 0-131 1 6 0 3 0 11 0 1 0 85 0-118 1 1 0 153 0-201 1 57 0 13 0 3 1 1 0 2 0 59 0 15 0 35 0-128 1 3 0 23 0-17 1 106 0-129 1 3 0 13 0 1 0 42 0 28 0 1 0 39 0 2 0-129 1 3 0 26 0 65 0 12 0-102 1 31 0 55 0 3 0 22 0 8 0-147 1 36 0 1 0 18 0 81 0 5 0 13 0-116 1 17 0 70 0 11 0 3 0 5 0 3 0 2 0 6 0-112 1 109 0-115 1 1 0 7 0 13 0 80 0 6 0 3 0-156 1 43 0 5 0 1 0 3 0 77 0 23 0-145 1 23 0 30 0 63 0 18 0 8 0-119 1 11 0 2 0 1 0 9 0 74 0-124 1 35 0 15 0 5 0-17 1 4 0 17 0-68 1 33 0 4 0 16 0 3 0-23 1 5 0 2 0 2 1 6 0-32 1 28 0 2 0-42 1 43 0-5 1-21 1 2 0 10 1 10 0 6 1-23 1 24 0-64 2 29 1 0 2 11 0 4 0 16 0-27 1 30 1 1 0-41 2 23 0-16 1 26 1-25 1 9 0 6 0 8 0-30 1 21 0 3 0-1 1-30 1 38 0-6 1-15 2 11 0 2 0-10 1 9 0-46 1 33 0 11 0-3 1 6 0 2 0-25 1 9 0 2 0 11 0-13 1 2 0-42 1 42 0 7 0 2 1-24 1 13 0-4 1 2 0-8 1-1 2 7 1-16 1 11 0-10 1 3 0-10 1 5 0 4 0 7 0-22 1 12 0-14 1 2 0-13 1 33 3-33 1 1 0 32 0 0 1 2 0-10 1-17 1 26 2-6 1 4 0-21 1 19 0-9 3" class="mk" style="marker:url(#m37)" opacity="0.55"/>
<path d="M1638 1897l24 2 13 1-2 2-10 7 1 0 26 1-45 5 19 3 2 0 16 0-23 2 2 0 3 2 17 0-4 1 2 1-9 1-1 1-7 2 3 0 4 0-4 2 6 0 2 0 14 0-59 2 37 0 41 0-54 1 16 1-19 1 17 0 1 1 9 1-13 1 3 0-15 1 11 0 49 0-19 2-40 2 8 0-16 1 17 1-19 2 33 0 3 1 0 2 36 0-79 1 44 0-39 2 2 0 14 1-17 1 4 2 1 0 40 0 33 0-55 1-26 1 16 0 8 0-17 1 7 0 42 0-52 1 9 0 65 1-65 2-3 2 5 0 21 0-78 1 56 0-28 3 11 0 40 0-35 1-3 1 5 0 21 1 20 0 41 0-41 1-42 2 8 0 23 0-33 1-14 1 4 1 2 0 99 0-101 3 6 0 49 0 35 0-142 1 156 1-73 1-34 1 61 0 51 0-5 3-108 1 80 0-65 1 40 1 27 0-73 1 31 0 24 1 49 0-116 1 56 0-33 1 78 0 23 0-84 1 54 1-33 1-66 1 97 0-60 1 41 0 48 0-75 1 58 0 3 2 20 0-126 1-2 1 2 0 4 0-2 1 52 0 3 0 72 0-98 1 81 0 15 0 1 0-173 2 39 1 130 0 2 0-132 1 5 0 79 0 38 0-164 1 172 0-119 1 114 1-12 1-73 1 24 0 57 0-117 1 100 0-110 1 72 0 49 0-181 1 134 0 58 0-11 1 7 1 7 0-35 2-36 1 19 1 26 0-83 1 69 0 23 0 12 1-3 1-131 1 87 0 37 1-58 1-59 1 114 0 8 0-52 1 48 0-39 2-102 1 2 0 5 0 3 0 31 0-36 1 3 0 6 0 114 0 7 0-130 1 3 0-9 1 14 0 121 0-163 1 26 0 86 0 23 0-112 1 13 0 20 1 110 0-46 1 31 0-121 1 107 0-98 1-5 1 1 1 2 0 84 0 17 0 9 0 6 0-120 1 117 0-132 1 115 0 15 0 3 0-37 1-84 1 95 0-95 2-21 1 23 0-5 1-17 2 25 0-11 1-2 2-23 3 3 0 4 1 3 0 2 0 2 1 3 1-16 1 27 3-26 4 7 2 19 1-25 1 11 1-5 1 6 0 4 0-16 1 7 0 6 0 2 0-20 1 3 0 2 0 8 5 6 2-24 3-6 6 8 0 5 0-8 2 1 0 8 0-18 1 10 0 2 0-26 4 25 1 3 0 2 1-3 1-12 7" class="mk" style="marker:url(#m38)"/>
<path d="M1685 1904l-68 1-3 1 60 4-17 3 10 2 16 2-41 1 39 3-12 1 15 1-22 3 18 1 2 0 1 0-57 1 39 1 5 0-8 1-13 1 16 0 1 0-1 2-31 1 69 0-23 1-8 1-14 2 45 0-25 1-55 3 28 1 58 4-64 1 57 4-22 1-40 3 1 0 0 2 17 0 8 2-64 3 29 4-8 3 10 1 4 0 73 0-73 1-3 6 91 0-109 1 75 0-60 3-11 1 10 0 6 0-14 1 4 2-8 2 9 0 5 1 34 0-29 1-26 2 95 0-78 1 18 1-33 1 5 0 88 1-29 1 35 0-35 1 4 0-83 1 107 1-147 3 161 0-46 4 23 0-76 1 22 0 8 0-32 1 3 0 65 0 2 0 58 3-64 2-69 1 66 1-59 1 118 2-61 2 43 2-40 1 35 1 5 0 0 1-36 1-123 3 78 1-49 1 2 0 133 0-123 1 14 1-31 1 24 0 105 0-133 1 6 0 14 2 65 0 56 2-181 1 177 0-123 1 6 0 70 1 25 1-100 2 1 0 96 2 1 0-114 1 21 0 103 0 2 1-22 1-103 1 103 0-108 1 7 2-4 1 4 0 8 1-1 1-1 1 5 0-21 4-3 2 16 0-15 3 18 0-58 4 27 4-1 1 19 3 3 0-11 2 11 1-30 3 17 0 6 6-1 2-8 3-14 3-2 1 3 1 0 1 9 0-6 2-23 1 25 2-18 8-2 7" class="mk" style="marker:url(#m38)" opacity="0.55"/>
<path d="M1650.9 1882.4C1656.0 1883.3 1662.5 1887.6 1668.1 1890.5C1673.6 1893.5 1679.7 1896.5 1684.3 1900.3C1688.9 1904.0 1691.8 1908.6 1695.6 1913.2C1699.4 1917.8 1703.5 1923.0 1707.0 1927.8C1710.5 1932.7 1713.2 1938.1 1716.7 1942.4C1720.2 1946.7 1724.5 1950.0 1728.1 1953.8C1731.6 1957.5 1735.1 1961.1 1737.8 1965.1C1740.5 1969.2 1742.5 1973.5 1744.3 1978.1C1746.1 1982.7 1747.5 1987.5 1748.5 1992.7C1749.5 1997.8 1749.7 2004.0 1750.1 2008.9C1750.5 2013.7 1751.2 2017.5 1750.8 2021.9C1750.3 2026.2 1748.9 2031.0 1747.5 2034.8C1746.2 2038.6 1746.2 2042.4 1742.6 2044.6C1739.1 2046.7 1731.8 2046.6 1726.4 2047.8C1721.0 2049.0 1715.6 2050.5 1710.2 2051.7C1704.8 2052.9 1699.4 2053.8 1694.0 2054.9C1688.6 2056.0 1683.2 2057.2 1677.8 2058.2C1672.4 2059.1 1666.0 2060.4 1661.6 2060.8C1657.2 2061.1 1653.2 2061.3 1651.2 2060.1C1649.2 2058.9 1649.2 2055.7 1649.6 2053.6C1650.0 2051.6 1654.7 2048.6 1653.5 2047.8C1652.2 2047.0 1645.9 2048.2 1642.1 2048.8C1638.3 2049.3 1634.6 2050.0 1630.8 2051.0C1627.0 2052.1 1623.2 2053.0 1619.4 2054.9C1615.6 2056.8 1611.9 2059.3 1608.1 2062.4C1604.3 2065.5 1600.8 2070.0 1596.7 2073.7C1592.7 2077.5 1588.1 2081.0 1583.8 2085.1C1579.4 2089.1 1575.1 2094.0 1570.8 2098.1C1566.5 2102.1 1561.9 2106.2 1557.8 2109.4C1553.8 2112.6 1550.3 2115.1 1546.5 2117.5C1542.7 2119.9 1538.9 2123.1 1535.1 2124.0C1531.3 2124.9 1527.3 2123.7 1523.8 2123.0C1520.3 2122.4 1515.4 2122.9 1514.0 2120.1C1512.7 2117.3 1514.7 2111.2 1515.7 2106.2C1516.6 2101.1 1517.4 2095.9 1519.6 2089.9C1521.7 2084.0 1525.6 2077.0 1528.6 2070.5C1531.7 2064.0 1535.3 2057.5 1537.7 2051.0C1540.1 2044.6 1541.5 2038.1 1543.2 2031.6C1545.0 2025.1 1546.6 2018.6 1548.1 2012.1C1549.6 2005.6 1549.8 1998.6 1552.0 1992.7C1554.1 1986.7 1557.9 1981.9 1561.1 1976.5C1564.2 1971.1 1567.5 1965.4 1570.8 1960.2C1574.0 1955.1 1577.0 1950.5 1580.5 1945.7C1584.0 1940.8 1588.4 1935.7 1591.9 1931.1C1595.4 1926.5 1598.4 1922.1 1601.6 1918.1C1604.8 1914.0 1607.5 1910.8 1611.3 1906.7C1615.1 1902.7 1620.0 1897.4 1624.3 1893.8C1628.6 1890.2 1632.8 1886.9 1637.3 1885.0C1641.7 1883.1 1645.7 1881.5 1650.9 1882.4Z" fill="none" stroke="#f4f4f4" stroke-width="3" stroke-linecap="round" stroke-dasharray="0.1 5.35"/>
<text x="1527.0" y="1898.6" font-size="24" fill="#c97f8e" font-style="italic" textLength="73.0" lengthAdjust="spacingAndGlyphs">AGRN</text>
<text x="1695.6" y="1898.6" font-size="24" fill="#b3d98c" font-style="italic" textLength="82.7" lengthAdjust="spacingAndGlyphs">PTPRS</text>
<rect x="1689.0" y="1955.4" width="31.0" height="19.4" fill="none" stroke="#fff" stroke-width="2.8" stroke-dasharray="3.7 3.75"/>
<line x1="1720.0" y1="1955.4" x2="1876.2" y2="1937.9" stroke="#fff" stroke-width="3.3" stroke-dasharray="3.4 3.4"/>
<line x1="1720.0" y1="1974.8" x2="1876.2" y2="2067.2" stroke="#fff" stroke-width="3.3" stroke-dasharray="3.4 3.4"/>
<rect x="1876.2" y="1937.9" width="158.9" height="129.3" fill="#040102"/>
<g clip-path="url(#cp3)"><g transform="rotate(25 1955.7 2002.6)">
<path d="M1991.7 1914.6l-20 36-60 8 96 8-84 8-12 4 88 4 20 0-72 8 60 4 4 0-56 4 16 0-48 4 36 0 8 0-12 4-48 4 36 0-32 4 28 0 80 4-40 4 28 0-128 4 72 0 8 0 8 0 44 0-128 4 128 0-76 8 36 4 12 0 16 4-12 12-24 8" class="mk" style="marker:url(#m39)"/>
<path d="M1999.7 1918.6l-12 8-4 8 0 8-80 24-20 8 4 4 112 0-140 4 120 8 0 8 8 0-40 4-68 8 16 8 12 8 84 8-4 20-88 12 44 8" class="mk" style="marker:url(#m40)"/>
<path d="M1987.7 1922.6l-44 20 20 4 16 4-72 8 16 4-24 8 68 0 40 0-80 4 32 0-20 8 12 4-12 4-8 4 28 0 12 0-36 4 4 0 8 0 16 0 40 4-52 4 48 12-44 4 4 0 4 4 20 0-24 4 48 0-68 4 28 0 8 8 32 4" class="mk" style="marker:url(#m41)"/>
<path d="M1991.7 1922.6l-80 44 84 12-20 4-4 8-104 4 76 4-16 16 28 0 36 12 16 8-20 4 24 0" class="mk" style="marker:url(#m42)"/>
<path d="M1975.7 1930.6l-60 60 64 12-80 8 88 24-52 20 40 8 8 0-72 32" class="mk" style="marker:url(#m43)"/>
<path d="M1947.7 1934.6l52 0-28 20 44 0-64 4-44 16 56 0-44 4 8 8 68 0 32 0-100 4 8 4 4 0 28 4 68 0-80 4 16 0 72 0-108 8 28 0 28 4-68 16 44 0 48 4-32 16" class="mk" style="marker:url(#m44)"/>
<path d="M1967.7 1942.6l12 32 28 0 8 8-48 4-36 4 68 0 16 4-96 8 44 12-12 4 4 0 16 0 16 0-56 8 12 4 40 8-80 4 68 4 8 0 24 4" class="mk" style="marker:url(#m45)"/>
<path d="M1971.7 1946.6l-16 4-36 16 92 8-8 4-72 8 12 0 20 0 44 0 8 0-56 4 52 0-20 4-64 4 24 0-20 4 32 0-16 8 4 0 8 0 20 0 4 0-104 4 72 0 28 4-28 4 12 0 12 0 8 0 20 4-32 4 44 0-112 8 60 0 8 0 8 16-20 8" class="mk" style="marker:url(#m46)"/>
<path d="M1907.7 1962.6l-44 16 16 4 40 12-52 4 12 0 96 0-92 4 56 0 4 0 0 4 4 0 44 24 0 12-52 28-20 8 0 12" class="mk" style="marker:url(#m47)"/>
<path d="M1959.7 1970.6l12 0 48 8-104 8 20 0 56 0 24 4-88 4 28 0 8 0 44 4-56 4-16 4 4 0 16 4 16 0 16 0 12 0-20 4-32 4 88 0-92 8 32 0 68 0-164 4 32 4 36 0 64 0-44 4 0 8" class="mk" style="marker:url(#m48)"/>
</g></g>
<rect x="1876.2" y="1937.9" width="158.9" height="129.3" fill="none" stroke="#fff" stroke-width="3.6" stroke-dasharray="3.7 3.75"/>
<rect x="1496.2" y="2142.5" width="553.4" height="291.5" fill="#040102"/>
<path d="M1645 2205l42 2-29 1 10 0-23 2 50 0-58 1-10 1 48 0-18 2 6 0-45 2 15 0 27 0-6 1 4 0 4 0-22 1 8 0 29 0-26 1 15 0-18 2 1 0 5 0 2 0 5 0 3 0-22 1 3 0 9 0 11 0 14 0-55 1 4 0 12 0 26 0 11 0 25 0-91 1 33 0 57 0 4 0 1 0-86 1 5 0 12 0-3 1 15 0 2 0 15 0 6 0 27 0-76 1 13 0 56 0 8 0 3 0-78 1 29 0 37 0 14 0-61 1 26 0 38 0 1 0-86 1 26 0 31 0 12 0-35 1 13 0 9 0 11 0-55 1 2 0 15 0 3 0-35 1 5 0 27 0-6 1 6 0 17 0 36 0-57 1 10 1 21 0 1 0-54 1 21 0 4 0-24 1 11 0 7 0 4 0 3 0 59 0 4 0-76 1 77 0-73 1 8 0 6 0 1 0 54 0-76 1 2 0 2 0 41 0 37 0-80 1 35 0-50 1 11 0 26 0 14 0 26 0 3 0-41 1 37 0 17 0 2 0-105 1 20 0 11 0 28 0 3 0-65 1 47 0 26 0 2 0 3 0 18 0-95 1 29 0 31 0 17 1-68 1 41 0 23 0 1 0 4 0 16 0-96 1 5 0 5 0 33 0 35 0 7 0 3 0 26 0-101 1 2 0 38 0 10 0 5 0 23 0-79 1 2 0 18 0 33 0 30 0 19 0-127 1 6 0 14 0 7 0 3 0 24 0 29 0 17 0-91 1 14 0 6 0 36 0 17 0 5 0 1 0 1 0 3 0 11 0 8 0 11 0 6 0-120 1 9 0 5 0 3 0 1 0 34 0 22 0 2 0 22 0 9 0-94 1 101 0-92 1 21 0 8 0 5 0 25 0 23 0 11 0 1 0-93 1 68 0 14 0 25 1-123 1 16 0 45 0 21 0 18 0 21 0-67 1 11 0 2 0 16 0 34 0-98 1 45 0 1 0 33 0 1 0 18 0 7 0-125 1 4 0 1 0 23 0 55 0-80 1 15 0 93 0 9 0-128 1 17 0 11 0 6 0 2 0 89 0 6 0-120 1 27 0 98 0-114 1 74 0 4 0 12 0 4 0 15 0-19 1 3 0-99 1 26 0 91 0-131 1 34 0 56 0 1 0 27 0-119 1 6 0 7 0 4 0 2 0 111 0 2 0-150 1 24 0 5 0 18 0 12 0 31 0 12 0 30 0 8 0 8 0-136 1 4 0 2 0 5 0 5 0 1 0 13 0 4 0 71 0 29 0-129 1 1 0 1 0 11 0 16 0 38 0 2 0 51 0 8 0 2 0-126 1 14 0 6 0 15 0 27 0 36 0 2 0 3 0 11 0-119 1 2 0 6 0 10 0 6 0 17 0 77 0 2 0 4 0-141 1 27 0 71 0 25 0 20 0-114 1 2 0 6 0 26 0 13 0 62 0-108 1 63 0 46 0 19 0-133 1 3 0 16 0 4 0 12 0 6 0 7 0 3 0 15 0 10 0 52 0 4 0-149 1 2 0 10 0 14 0 6 0 1 0 2 0 2 0 1 0 1 0 14 0 3 0 10 0 70 0 11 0 1 0-142 1 1 0 3 0 10 0 7 0 21 0 2 0 14 0 2 0 27 0 2 0 27 0 32 0-150 1 4 0 8 0 13 0 4 0 8 0 8 0 18 0 52 0 5 0 25 0-124 1 8 0 20 0 2 0 8 0 2 0 3 0 22 0 5 0-93 1 29 0 7 0 8 0 3 0 1 0 5 0 9 0 13 0 2 0 3 0 5 0 6 0 3 0 19 0 4 0 14 0-129 1 32 0 8 0 2 0 2 0 15 0 2 0 24 0 1 0 27 0 22 0 11 0 1 0-149 1 25 0 2 0 7 0 1 0 8 0 19 0 1 0 17 0 9 0 2 0 21 0 20 0 1 0 10 0 4 0-110 1 18 0 7 0 23 0 4 0 42 0 5 0-121 1 15 0 20 0 16 0 9 0 2 0 7 0 6 0 5 0 21 0 30 0-130 1 2 0 15 0 6 0 16 0 23 0 5 0 34 0 16 0 4 0 1 0-135 1 15 0 22 0 12 0 10 0 16 0 4 0 5 0 30 0 2 0 12 0 2 0 14 0 8 0-170 1 8 0 49 0 5 0 2 0 42 0 21 0 29 0-149 1 9 0 34 0 4 0 3 0 5 0 17 0 2 0 24 0 11 0 9 0 22 0 2 0-134 1 15 0 1 0 46 0 2 0 28 0 11 0 11 0 18 0 19 0 5 0-150 1 6 0 28 0 5 0 6 0 63 0 18 0 2 0 1 0 17 0-163 1 51 0 4 0 92 0-139 1 6 0 15 0 10 0 2 0 6 0 6 0 2 0 17 0 77 0-139 1 1 0 1 0 3 0 36 0 5 0 3 0 2 0 1 0 12 0 9 0 25 0 5 0 6 0 22 0 2 0 1 0 2 0 15 0 4 0-162 1 7 0 8 0 5 0 14 0 24 0 9 0 4 0 26 0 21 0 24 0 4 0-147 1 9 0 4 0 2 0 4 0 28 0 13 0 11 0 9 0 14 0 4 0 17 0 4 0-106 1 35 0 12 0 9 0 7 0 1 0 18 0 22 0 14 0 20 0-144 1 7 0 1 0 23 0 18 0 15 0 4 0 2 0 1 0 11 0 4 0 18 0 19 0 14 0-128 1 4 0 13 0 3 0 20 0 14 0 10 0 15 0 1 0 4 0 1 0 20 0 2 0 6 0-116 1 3 0 19 0 1 0 46 0 4 0 17 0 35 0-131 1 9 0 18 0 1 0 2 0 16 0 1 0 13 0 12 0 5 0 1 0 2 0 10 0 25 0 2 0 1 0 15 0 2 0 7 0-130 1 16 0 21 0 19 0 5 0 3 0 3 0 1 0 28 0 25 0 7 0 1 0 1 0-141 1 12 0 9 0 4 0 46 0 2 0 26 0 7 0 8 0 32 0 3 0-149 1 4 0 2 0 2 0 4 0 8 0 3 0 3 0 72 0 17 0 1 0 25 0 8 0-136 1 9 0 25 0 5 0 6 0 4 0 3 0 1 0 1 0 3 0 36 0 9 0 4 0 30 0-135 1 11 0 1 0 1 0 15 0 1 0 1 0 15 0 11 0 9 0 2 0 4 0 35 0 27 0-133 1 4 0 1 0 4 0 4 0 38 0 19 0 4 0 20 0 2 0 34 0-140 1 11 0 5 0 2 0 22 0 1 0 17 0 22 0 24 0 5 0 11 0 6 0 13 0-147 1 17 0 3 0 9 0 3 0 5 0 12 0 20 0 13 0 35 0 41 0-144 1 11 0 8 0 12 0 12 0 2 0 1 0 27 0 4 0 24 0 3 0 6 0 14 0 1 0 5 0 10 0-161 1 24 0 7 0 7 0 1 0 3 0 14 0 44 0 2 0 3 0 2 0 10 0 7 0 7 0 4 0 1 0 12 0-130 1 8 0 12 0 1 0 2 0 1 0 16 0 9 0 1 0 20 0 4 0 9 0 3 0 3 0 1 0 6 0 3 0 6 0 9 0 17 0-127 1 15 0 14 0 8 0 6 0 34 0 7 0 24 0 11 0 6 0 5 0-134 1 2 0 2 0 16 0 1 0 2 0 2 0 16 0 2 0 41 0 2 0 2 0 3 0 12 0 5 0 3 0 12 0 2 0 2 0-125 1 10 0 9 0 23 0 1 0 17 0 15 0 16 0 11 0 7 0-112 1 14 0 2 0 5 0 20 0 1 0 2 0 7 0 9 0 18 0 32 0 3 0 14 0 12 0-147 1 10 0 2 0 8 0 21 0 14 0 2 0 15 0 8 0 13 0 3 0 16 0 3 0 12 0 12 0 14 0-144 1 3 0 12 0 8 0 2 0 6 0 2 0 9 0 2 0 8 0 19 0 4 0 16 0 6 0 30 0 20 0-158 1 10 0 20 0 1 0 7 0 6 0 8 0 1 0 1 0 6 0 4 0 3 0 5 0 9 0 15 0 8 0 28 0 6 0 2 0 6 0 7 0-129 1 3 0 4 0 1 0 3 0 3 0 14 0 1 0 2 0 2 0 1 0 4 0 4 0 5 0 2 0 10 0 2 0 51 0 1 0 2 0 1 0 2 0 9 0 2 0-146 1 2 0 6 0 15 0 13 0 31 0 3 0 2 0 5 0 5 0 3 0 22 0 3 0 9 0 10 0 16 0 1 0 1 0 5 0-151 1 1 0 10 0 8 0 10 0 6 0 1 0 17 0 2 0 21 0 4 0 3 0 8 0 16 0 16 0 8 0 5 0-154 1 13 0 3 0 9 0 6 0 3 0 1 0 3 0 1 0 11 0 4 0 13 0 6 0 15 0 9 0 3 0 11 0 13 0 4 0 17 0 1 0 1 0 3 0 2 0 3 0 10 0 1 0-147 1 11 0 20 0 11 0 4 0 22 0 9 0 3 0 6 0 6 0 1 0 9 0 14 0 14 0 9 0 3 0-146 1 1 0 1 0 1 0 4 0 20 0 11 0 6 0 6 0 6 0 3 0 73 0-124 1 14 0 14 0 7 0 23 0 16 0 2 0 1 0 26 0 17 0 1 0 2 0-132 1 5 0 2 0 1 0 25 0 76 0 3 0 9 0 11 0-135 1 7 0 4 0 14 0 33 0 2 0 9 0 15 0 4 0 33 0 1 0 18 0 8 0-136 1 2 0 8 0 14 0 1 0 2 0 1 0 20 0 2 0 8 0 7 0 37 0 23 0-141 1 9 0 58 0 22 0 26 0 23 0-131 1 2 0 12 0 18 0 5 0 19 0 10 0 5 0 4 0 2 0 33 0 5 0 2 0 1 0 2 0 3 0 1 0 1 0 4 0 5 0 5 0 12 0-164 1 12 0 33 0 26 0 1 0 6 0 13 0 7 0 20 0 1 0 8 0 1 0 7 0 1 0 1 0 27 0-164 1 23 0 47 0 1 0 3 0 8 0 4 0 33 0 5 0 8 0 2 0 6 0 14 0-141 1 8 0 21 0 22 0 3 0 7 0 8 0 8 0 32 0 10 0 7 0 19 0 4 0-160 1 9 0 9 0 4 0 41 0 24 0 1 0 1 0 21 0 7 0 5 0 8 0 6 0 15 0-139 1 53 0 2 0 14 0 26 0 2 0 8 0 1 0 1 0 12 0 2 0 3 0 11 0 3 0-155 1 6 0 9 0 29 0 12 0 5 0 15 0 1 0 3 0 11 0 2 0 29 0 25 0 3 0 6 0 1 0-152 1 1 0 10 0 6 0 18 0 1 0 2 0 19 0 14 0 1 0 13 0 30 0 17 0 9 0 1 0 6 0 6 0-142 1 50 0 2 0 2 0 1 0 22 0 18 0 12 0 13 0 3 0 1 0 4 0-145 1 2 0 2 0 11 0 8 0 48 0 42 0 9 0 11 0 6 0 4 0 1 0-142 1 35 0 33 0 36 0 18 0 13 0-134 1 33 0 29 0 1 0 25 0 2 0 18 0 3 0 7 0 22 0 2 0 1 0-64 1 13 0 47 0-136 1 20 0 11 0 46 0 10 0 1 0 5 0 22 0-120 1 8 0 17 0 3 0 5 0 58 0 25 0 2 0 9 0-113 1 15 0 2 0 43 0 1 0 2 0 49 0-132 1 37 0 14 0 28 0 9 0 12 0 1 0 16 0 14 0-112 1 14 0 88 0-92 1 1 0 6 0 3 0 3 0 3 0 39 0 17 0 14 0-114 1 32 0 49 0 3 0-97 1 10 0 16 0 1 0 14 0 3 0 3 0 3 0 3 0 41 0-63 1 11 0 5 0 2 0 50 0-78 1 22 0 7 0 43 0 13 0-106 1 4 0 19 0 1 0 8 0 6 0 65 0-76 1 3 0 6 0 1 0 12 0-54 1 22 0 14 0 7 0-42 1 13 0 3 0 6 0-25 1 26 0 9 0 7 0-23 1 7 0 20 0 5 0-50 1 24 0 6 0-2 1-14 1 1 0 24 0-14 1 3 0 7 0 6 0 2 0 0 1 3 0-59 1 5 0 6 0 1 0 1 0 21 0 24 0-47 1 34 0 5 0-6 2 3 0 6 0-53 1 16 0 1 0 30 0 2 0-49 1 47 0 3 0-53 1 16 0 5 0 12 0 17 0-45 1 43 0 1 0-52 1 4 0 15 0 7 0-18 1 16 0 12 0 15 0-21 1 19 0-10 1 3 0-34 1 1 0 16 0 3 0 6 0 2 0 1 0 4 0-28 1 11 0 8 0-20 1 13 0 5 0 3 0 12 0-42 1 2 0 2 0 11 0 2 0 8 0 1 0 1 0 1 0 2 0 2 0 2 0-38 1 2 0 3 0 38 0-41 1 10 0 3 0 20 0 2 0-33 1 1 0 11 0 4 0 2 0 18 0 4 0-31 1 3 0 8 0 4 0-10 1 8 0 7 0 11 0-50 1 31 0 1 0 2 0-20 1 7 0 15 0-38 1 17 0 12 0 4 0-21 1 1 0 20 0 5 0 9 0-13 1 2 0 11 0-38 1 1 0 26 0 9 0 1 0-36 1 22 0 1 0 10 0-43 1 14 0 7 0 3 0 6 0 3 0-23 1 16 0-10 1 4 0 5 0 2 0-10 1 6 0 2 0 8 0-9 1 2 0 1 0 3 0 3 0-17 1-2 1 20 0-14 1 4 3-6 4-18 1 18 0-18 1 4 1 4 0 4 0 5 0-10 1 2 0 1 1-15 1 20 0-17 1-1 1 15 1-2 1" class="mk" style="marker:url(#m49)"/>
<path d="M1674 2211l-37 3 56 1-28 1 28 1-52 1 18 0-23 1-3 2 34 0 2 0 26 0-19 1-46 1 18 0 41 0-57 1 2 0 13 1 53 0-65 1 67 0 5 0 1 0-66 1 27 0 35 0 2 0 2 0-29 1-33 1 36 0 1 0 2 0 21 0-58 1 42 0 6 0-29 1 10 0 4 0-33 1 3 0 6 0 15 0 1 0-50 1 11 0 21 0 19 1-23 1 10 0 3 0 13 1-35 2 2 0 14 0-2 4-8 2 13 1-37 1 21 0 1 0 46 0-88 1 5 0 13 0 14 0 67 0 3 0-22 1-11 1 15 0-76 1 1 0 58 0 17 0 8 0 7 0 1 0-100 1 52 0 61 0-114 1 26 0 10 0 50 0 1 0-73 1 25 0 10 0 52 0 8 0-88 1 17 0-16 1 87 0-96 1 5 0 71 0-79 1 54 0 10 0 16 0-73 1 62 0 4 0 2 0 1 0 33 0-41 1 43 0-33 1-23 1 61 0-39 1 30 0 7 0-48 1 22 0 16 0 11 0-112 1-7 1 64 0 49 0-2 1-114 1 33 0 52 0 5 0-74 1 97 0-105 1-15 2 2 0 9 0 57 0-51 1 69 0 3 0 3 0 18 0 2 0 16 0-131 1 19 0 17 0 30 0-37 1 9 0 38 0-67 1 11 0-6 1 1 0 1 0 2 0 19 0-25 1 16 0 35 0 38 0-68 1-23 1 23 0 2 0 48 0 5 0 8 0 30 0 8 0-135 1 12 0 39 0 13 0 18 0 69 0-124 1 67 0 49 0-146 1 24 0 6 0 1 0 2 0 19 0 60 0-74 1-34 1 16 0 9 0 15 0 23 0 22 0 27 0 18 0-91 1 13 0 6 0 27 0 5 0 59 1 1 0-106 1 1 0 6 0 25 0 5 0 12 0 20 0 6 0-107 1 28 0 6 0 16 0 2 0 25 0 6 0 19 0 12 0 1 0 19 0 3 0-107 1 48 0 25 0-102 1 28 0 15 0 4 0 56 0 27 0 6 0-136 1 2 0 41 0 3 0 4 0-25 1 3 0 7 0 13 0 48 0 8 0 17 0 12 0-135 1 35 0 73 0-124 1 45 0 38 0 7 0-94 1 17 0 1 0 38 0 63 0 28 0-140 1 8 0 3 0 25 0 9 0 5 0 1 0-63 1 38 1 15 0 3 0 5 0 5 0 47 0 15 0 18 0 5 0-146 1 8 0 47 0 4 0 13 0 2 0 35 0 6 0-115 1 34 0 25 0 53 0-99 1 21 0 82 0 4 0 8 0 2 0-123 1 54 0 31 0 15 0-95 1 1 0 57 0 4 0 41 0 13 0-121 1 102 0 3 0 8 0-52 1 5 0 21 0 23 0 20 0-129 1 154 0-150 1 4 0 13 0 51 0 42 0 3 0-95 1 14 0 2 0 29 0 3 0 4 0 67 0 13 0-160 1 12 0 6 0 16 0-17 1 2 0 48 0 5 0 6 0 12 0 1 0 27 0 3 0 31 0 2 0-140 1 40 0 9 0 4 0 24 0 27 0 14 0 30 0-155 1 4 0 2 1 8 0 3 0 1 0 5 0 1 0 30 0 22 0 27 0 2 0 10 0 4 0-96 1 28 0 5 0 64 0 19 0-154 1 41 0 1 0 11 0 10 0-33 1 11 0 17 0 72 0 15 0-125 1 9 0 14 0 2 0 6 0 19 0 73 0 4 0-143 1 25 0 63 0 14 0-105 1 64 0 2 0 1 0 23 0 8 0 22 0 19 0 10 0 17 0-163 1 19 0 1 0 3 0 38 0 59 0 3 0-90 1 18 0 1 0 4 0 57 0 3 0 4 0 19 0 8 0 1 0 10 0-156 1 12 0 12 0 2 0 3 0 29 0 57 0 1 0 12 0 2 0 9 0 6 0 10 0 2 0-141 1 2 0 7 0 9 0 13 0 20 0 8 0 1 0 2 0 1 0 10 0 19 0 7 0 47 0 1 0-153 1 18 0 23 0 1 0 1 0 40 0 15 0 10 0 18 0 14 0-117 1 13 0 4 0 20 0 41 0 21 0 7 0 6 0 7 0 8 0 2 0-100 1 12 0 14 0 46 0-118 1 24 0 93 0 7 0-144 1 3 0 16 0 9 0 1 0 1 0 1 0 127 0 1 0-127 1 13 0 6 0 22 0 20 0 41 0-114 1 12 0 3 0 34 0 54 0-121 1 2 0 5 0 19 0 2 0 1 0 16 0 50 0 33 0-125 1 12 0 2 0 101 0 3 0 4 0 3 0 15 0-141 1 8 0 2 0 2 0 2 0 31 0 47 0 2 0-81 1 4 0 44 0 17 0 38 0 3 0 8 0-113 1 5 0 48 0 1 0 1 0 51 0 19 0 20 0-116 1-8 1 3 0 24 0 4 0 19 0 26 0 15 0 2 0 1 0 16 0 4 0-142 1 33 0 3 0 26 0 9 0 33 0 1 0 12 0 5 0 15 0 5 0-146 1 3 0 5 0 25 0 5 0 28 0 2 0 40 0 4 0 12 0 5 0-127 1 8 0 103 0 1 0 12 0 22 0-98 1 7 0 4 0 38 0 11 0 4 0 9 0 2 0-142 1 12 0 72 0 9 0 6 0 1 0 22 0 4 0-82 1 3 0 1 0 3 0 2 0 21 0 4 0 21 0 22 0 5 0 21 0-106 1 5 0 6 0 17 0 76 0 6 0-107 1 27 0 5 0 22 0 22 0 34 0-151 1 119 0 9 0 10 0 10 0-50 1 28 0-124 1 8 0 18 0 55 0 30 0 12 0 15 0-99 1 36 0 37 0-106 1 1 0 21 0 4 0 59 0 29 0-106 1 9 0 7 0 6 0 42 0 18 0 10 0 12 0-90 1 1 0 47 0 16 0-86 1 14 0 22 0-7 1 1 0-40 1 24 0 2 0-14 1 10 0 5 0 53 0-92 1 30 0 5 0 1 0 57 0-49 1-21 1-33 1 6 0 3 0 33 0-28 1 30 1-10 1 7 0 4 0-45 2 49 0-22 1 3 0 17 0-22 1 3 0 18 0 2 0-20 1 6 0 4 1 2 1 2 0-43 1 28 0-17 1 17 0 8 2-48 1 21 0 30 0-50 1 34 0-30 2 20 0 24 0-24 1 7 0 5 0-14 1 1 0 3 0 1 0 4 0-16 1 9 0 1 0 9 0-20 1 18 0-38 1 15 0 17 0 3 0-33 1 3 0 13 0-23 1 28 0 9 0-29 1 1 0 5 0 14 0-15 1 9 0 8 0 14 0-41 1 17 0 11 0 9 0-39 1 18 0 5 0 8 0-23 1 5 0 13 0 1 0-12 1-9 1 10 0 26 1-14 1 12 0-12 1 12 0-12 2 12 0 1 0-18 1-29 1 32 0 1 2-3 1 1 0-26 1 20 0-4 1 15 0-2 2-14 2 5 0 1 2-12 8" class="mk" style="marker:url(#m49)" opacity="0.55"/>
<path d="M1674 2206l0 2-1 3 16 3-3 1-39 1 4 0 42 0-61 3 36 0-33 1 38 0-33 2 32 0-43 2 3 0 14 0 13 0-16 2 12 0 1 1 50 0-59 1 15 0-51 3 62 0-14 2 26 1 12 0 1 0-38 1 10 0-43 1 38 0-44 1 47 0 5 0 15 1-70 1 2 0 35 0 7 0 17 0-52 2 25 0 35 0 23 0-94 1 41 0 3 0-31 1 44 0-42 1 21 0-7 1 66 1 6 0 4 0-77 1 1 0-17 2 63 0 35 0-80 1 48 0-82 1 68 0 41 0-88 1 84 0-101 1 5 0 67 0 3 0 11 0-2 2 23 0-118 1 7 0 25 0-31 1 20 0 25 0 12 0 53 0-87 1 52 0 14 0 6 0 12 0-90 1 30 0 2 0 33 0-39 1 27 0 45 0 9 0-2 1-80 1 30 0 1 0 20 0-76 1 57 0 45 0 2 0 4 0-127 1 44 0 1 0-16 1 6 0 8 0-60 1 52 0 6 0 87 0-104 1 13 0 3 0 25 1 22 0-92 1 112 0 22 0-135 1 65 0 75 0-130 1 23 0 17 0 20 0 3 0 36 0-113 1 4 0 144 0-46 1-106 1 68 0 9 0 62 0 10 0-143 1 48 1 26 0 55 0-93 1 9 0 29 0 22 0 26 0-137 1 76 0 50 0 4 0-89 1 21 0 5 0-7 1 23 0 55 0 1 0-101 1 8 0 14 0 25 0 39 0 19 0-124 1 30 0 34 0 4 0 11 0 44 0-119 1 23 0 95 0-118 1 75 0 10 0-80 1 9 0 20 0 13 0 12 0 13 0 65 0-132 1 56 0 31 0-69 1 3 0 36 0 12 0 44 0-110 1 27 0 36 0 67 0-138 1 35 0 12 0 1 0 27 0 18 0 4 0 10 0-93 1 50 0 3 0 10 0 26 0 7 0-103 1 10 0 97 0-108 1 38 0 52 0 10 0-95 1 13 0 9 0 90 0-106 1 19 0 44 0-90 1 8 0 13 0 1 0 2 0 22 0 4 0 2 0 47 0 18 0-108 1 36 0 1 0 54 0 12 0 4 0-107 1 7 0 6 0 23 0 7 0 2 0 3 0 24 0 27 0 5 0-124 1 8 0 3 0 6 0 2 0 13 0 1 0 27 0 26 0 50 0 4 0-141 1 8 0 22 0 106 0-107 1 38 0 52 0 2 0 14 0-48 1 6 0 30 0 4 0-99 1 13 0 89 0-122 1 2 0 6 0 18 0 3 0 1 0 16 0 23 0 55 0-112 1 4 0 8 0 24 0 18 0-21 1 8 0 43 0 13 0-103 1 3 0 24 0 1 0 8 0 102 0-135 1 5 0 4 0 1 0 100 0 10 0 17 0-114 1 15 0 33 0 8 0 26 0 15 0 16 0-148 1 44 0 80 0 6 0 3 0 1 0-132 1 16 0 1 0 2 0 3 0 17 0 103 0 17 0-37 1 7 0-116 1 22 0 8 0-54 1 24 0 23 0 15 0 37 0 21 0 6 0 1 0-107 1 40 0 19 0 36 0 23 0 34 0-147 1 23 0 13 0 4 0 3 0 47 0 27 0-143 1 22 0 5 0 17 0 3 0 9 0 17 0 31 0 15 0 20 0 13 0-139 1 4 0 63 0 7 0 17 0 45 0-126 1 15 0 6 0 1 0 4 0 5 0 2 0 8 0 19 0 65 0-126 1 13 0 3 0 7 0 8 0 24 0-49 1 53 0 6 0 4 0 44 0 3 0 12 0 5 0-141 1 34 0 1 0 8 0 18 0 8 0 38 0 9 0 30 0 11 0-150 1 40 0 43 0 1 0 48 0-131 1 56 0 1 0 12 0 14 0 24 0 37 0 1 0-165 1 49 0 1 0 74 0 39 0 7 0-121 1 9 0-59 1 27 0 44 0 7 0 1 0 48 0-103 1 47 0 4 0 2 0 4 0 22 0 41 0 6 0-153 1 23 0 4 0 53 0 50 0 15 0 6 0 12 0-28 1 11 0 10 0 5 0-141 1 30 0 54 0 27 0 2 0 9 0 15 0 1 0-136 1 57 0 26 0 6 0 26 0 23 0-60 1 13 0 17 0 15 0 9 0 4 0-92 1 5 0 15 0 33 0 11 0 12 0 1 0 10 0-78 1 31 0 28 0 8 0-143 1 3 0 1 0 15 0 12 0 62 0 32 0 9 0 9 0 2 0 3 0 3 0-125 1 30 0 13 0 13 0 44 0 24 0 1 0-133 1 9 0 27 0 22 0 23 0 27 0-97 1 13 0 84 0 24 0-142 1 19 0 37 0 40 0 13 0 31 0 5 0 5 0 2 0-103 1 1 0 35 0 4 0 2 0 3 0 21 0 3 0 2 0 10 0 4 0 17 0-140 1 3 0 29 0 4 0 3 0 75 0-118 1 14 0 44 0 2 0 7 0 10 0 5 0 5 0 32 0 3 0 5 0-112 1 81 0 3 0 18 0 12 0 2 0 1 0-119 1 81 0 27 0 2 0 14 0-137 1 3 0 1 0 26 0 7 0 28 0 5 0 21 0 4 0 34 0 5 0 6 0-107 1 45 0 20 0 23 0 2 0 5 0 2 0-140 1 10 0 4 0 5 0 36 0 29 0 8 0 17 0 14 0 2 0 7 0-83 1 4 0 24 0 31 0 26 0 3 0-124 1 114 0-124 1 28 0-20 1 14 0-20 1 38 0 75 0-103 1 2 0 57 0-70 1 4 0 30 0 44 0 4 0-86 1 8 0 1 0 1 0 6 0 62 0 7 0-101 1 21 0 25 0 51 0-87 1 16 0 4 0-35 1 28 0 3 0 4 1 1 0-37 1 24 0 14 0 6 0-11 1 4 0-14 1 3 0 20 0-36 1 27 0-23 1 8 0 21 0-2 1-4 1 6 0-40 1 12 0 21 1 4 0-45 1 14 0 8 0 19 0 2 0-48 1 35 0-21 1 31 0-20 1 2 0 9 0-34 1-11 2 23 0 5 1 19 0 3 0 2 0-49 1 3 0 42 0-14 1 14 0 3 0-22 1-26 1 46 0-33 2 1 0-17 3 2 1-5 1 5 1 8 0-4 1 23 0 8 0-37 1 3 0 17 2-14 1 16 0 2 0 9 0-32 1 21 0 7 0-30 1 4 0 3 0 2 0 14 0 4 0 1 0 6 0-37 1 9 3 6 0-6 1 19 0-36 1 8 0 2 1 20 0 4 0 3 1-21 1 1 0 8 1 1 0 5 3-36 1 32 1-14 4-13 3 10 3" class="mk" style="marker:url(#m50)"/>
<path d="M1640 2208l31 9 13 7 16 1-59 1 32 0-44 2 17 2 20 5 9 0 5 0-64 1 51 0-41 2 31 0 9 0 33 1-74 1-3 1 4 0 0 3-13 1 60 0 18 0-88 1 75 0-7 1-59 1 89 2 17 0-61 1 0 2 2 1 59 0-64 1 74 0-56 1 19 0 4 0 8 1-50 1 32 1-12 1 11 0 5 1 11 1-94 1 13 0 73 0-80 1 113 1 11 1-89 1 26 0 6 0-11 1 70 1-91 1 25 0 22 0 18 0-65 1 55 1-41 1 82 2-97 1 39 1-23 1 31 0 28 0-125 1 72 0-51 1 6 0 3 1 3 0 14 1 29 0-69 1 19 0 20 0 16 0 61 0-98 1 78 0 19 0-102 1 31 0 27 1 20 0-45 1 21 0-59 1 36 0 4 0 13 0 5 0 5 0 20 0-83 2 14 0 15 0 5 0 6 0-45 1 16 0 15 0 75 0 9 0-112 1 0 1 39 0 30 0 32 0-99 1 9 0 16 0 18 0 24 0-1 1-63 1 31 0-10 1 69 0-9 1-25 1-23 1 21 0 15 0-87 1 16 0 28 0 31 0 39 0-89 1 5 0 16 0-35 1 30 0 67 0-91 1 7 0 78 0-91 1 6 0 4 0 19 0 37 0 31 0 2 0 16 0 12 0-128 1 89 0-56 1-28 1 25 0 37 0 38 0 34 0-116 1 48 1-73 1 22 0 49 0 30 0 14 0-129 1 18 0 30 0 96 0-105 1 2 0 103 0-128 1 33 0 37 0 37 0 10 0-108 1 18 0 63 0-61 1 90 0-122 1 1 0 1 0 5 0 8 0 28 0 9 0 40 0-107 1 7 0 8 0 1 0 32 0 68 0-56 1 14 0 64 0 4 0-96 1 27 0 18 0 19 0 9 0-74 1 32 0 37 0-45 1 30 1-86 1 33 0 41 0 42 0-61 1 13 0 38 0-62 1-45 1 113 0-72 1 9 0 73 0 5 0-127 1 55 0 25 0-78 1 19 0 65 0 39 0-135 1 147 0 7 0-174 1 3 0 15 0 100 0-87 1 78 0 34 0 16 0 2 0-41 1 7 0-42 1 48 0-6 1-123 1 103 0 17 0 24 0 9 0-137 1 18 0 92 0-22 1 14 0 6 0-117 1 23 0 82 0-47 1 61 0 14 0-147 1 160 0 7 0-165 1 119 0 27 0 7 0 6 0 3 0-115 1 105 0 10 0-10 1-151 1 60 0 9 0 25 0 20 0 36 0-136 1 94 1-57 2 42 0-94 1 2 0 15 0 75 0-82 1 6 0 29 4-59 2 34 0-33 1 11 1 18 0-18 1 8 0 6 0-29 1 32 0-16 1 16 0-15 2 8 1 1 1-2 1 6 1-9 1 19 0 5 0-24 1 1 0-10 1 8 1 2 0-39 1 3 0 38 0-31 1 37 0 3 0-38 4 23 0-32 1 9 0 21 3-30 1 4 1 37 0 2 0-36 1 2 0 3 1 1 0 8 0-25 1 11 1 23 0-12 2 7 0-31 2 22 0 17 1-10 1 7 0 1 0-10 1 2 1-4 3-3 4-14 1 9 1-1 4-12 9" class="mk" style="marker:url(#m50)" opacity="0.55"/>
<path d="M1651.9 2180.8C1657.0 2181.7 1663.5 2186.0 1669.1 2188.9C1674.6 2191.9 1680.7 2194.9 1685.3 2198.7C1689.9 2202.4 1692.8 2207.0 1696.6 2211.6C1700.4 2216.2 1704.5 2221.4 1708.0 2226.2C1711.5 2231.1 1714.2 2236.5 1717.7 2240.8C1721.2 2245.1 1725.5 2248.4 1729.1 2252.2C1732.6 2255.9 1736.1 2259.5 1738.8 2263.5C1741.5 2267.6 1743.5 2271.9 1745.3 2276.5C1747.1 2281.1 1748.5 2285.9 1749.5 2291.1C1750.5 2296.2 1750.7 2302.4 1751.1 2307.3C1751.5 2312.1 1752.2 2315.9 1751.8 2320.3C1751.3 2324.6 1749.9 2329.4 1748.5 2333.2C1747.2 2337.0 1747.2 2340.8 1743.6 2343.0C1740.1 2345.1 1732.8 2345.0 1727.4 2346.2C1722.0 2347.4 1716.6 2348.9 1711.2 2350.1C1705.8 2351.3 1700.4 2352.2 1695.0 2353.3C1689.6 2354.4 1684.2 2355.6 1678.8 2356.6C1673.4 2357.5 1667.0 2358.8 1662.6 2359.2C1658.2 2359.5 1654.2 2359.7 1652.2 2358.5C1650.2 2357.3 1650.2 2354.1 1650.6 2352.0C1651.0 2350.0 1655.7 2347.0 1654.5 2346.2C1653.2 2345.4 1646.9 2346.6 1643.1 2347.2C1639.3 2347.7 1635.6 2348.4 1631.8 2349.4C1628.0 2350.5 1624.2 2351.4 1620.4 2353.3C1616.6 2355.2 1612.9 2357.7 1609.1 2360.8C1605.3 2363.9 1601.8 2368.4 1597.7 2372.1C1593.7 2375.9 1589.1 2379.4 1584.8 2383.5C1580.4 2387.5 1576.1 2392.4 1571.8 2396.5C1567.5 2400.5 1562.9 2404.6 1558.8 2407.8C1554.8 2411.0 1551.3 2413.5 1547.5 2415.9C1543.7 2418.3 1539.9 2421.5 1536.1 2422.4C1532.3 2423.3 1528.3 2422.1 1524.8 2421.4C1521.3 2420.8 1516.4 2421.3 1515.0 2418.5C1513.7 2415.7 1515.7 2409.6 1516.7 2404.6C1517.6 2399.5 1518.4 2394.3 1520.6 2388.3C1522.7 2382.4 1526.6 2375.4 1529.6 2368.9C1532.7 2362.4 1536.3 2355.9 1538.7 2349.4C1541.1 2343.0 1542.5 2336.5 1544.2 2330.0C1546.0 2323.5 1547.6 2317.0 1549.1 2310.5C1550.6 2304.0 1550.8 2297.0 1553.0 2291.1C1555.1 2285.1 1558.9 2280.3 1562.1 2274.9C1565.2 2269.5 1568.5 2263.8 1571.8 2258.6C1575.0 2253.5 1578.0 2248.9 1581.5 2244.1C1585.0 2239.2 1589.4 2234.1 1592.9 2229.5C1596.4 2224.9 1599.4 2220.5 1602.6 2216.5C1605.8 2212.4 1608.5 2209.2 1612.3 2205.1C1616.1 2201.1 1621.0 2195.8 1625.3 2192.2C1629.6 2188.6 1633.8 2185.3 1638.3 2183.4C1642.7 2181.5 1646.7 2179.9 1651.9 2180.8Z" fill="none" stroke="#f4f4f4" stroke-width="3" stroke-linecap="round" stroke-dasharray="0.1 5.35"/>
<text x="1544.9" y="2166.8" font-size="24" fill="#c97f8e" font-style="italic" textLength="84.9" lengthAdjust="spacingAndGlyphs">WNT5A</text>
<text x="1665.5" y="2166.8" font-size="24" fill="#b3d98c" font-style="italic" textLength="79.7" lengthAdjust="spacingAndGlyphs">SFRP2</text>
<path d="M1676.5 2243L1690 2232L1713 2256L1694 2271Z" fill="none" stroke="#fff" stroke-width="4" stroke-dasharray="4 2.6"/>
<line x1="1713.0" y1="2257.0" x2="1876.5" y2="2237.1" stroke="#fff" stroke-width="3.3" stroke-dasharray="3.4 3.4"/>
<line x1="1695.0" y1="2272.0" x2="1876.5" y2="2366.9" stroke="#fff" stroke-width="3.3" stroke-dasharray="3.4 3.4"/>
<rect x="1876.5" y="2237.1" width="159.7" height="129.8" fill="#040102"/>
<g clip-path="url(#cp4)"><g transform="rotate(-28 1956.3 2302.0)">
<path d="M1921.9 2220.3l43 12.9-21.5 8.6 21.5 4.3-51.6 4.3 25.8 0 12.9 8.6-4.2 8.6 51.5 0-68.8 4.3 12.9 12.9 4.4 0-47.4 4.3 12.9 8.6-21.5 4.3 8.6 12.9 25.8 4.3-8.6 4.3-17.2 4.3 81.7 43 21.5 0-34.4 4.3 21.6 4.3" class="mk" style="marker:url(#m51)"/>
<path d="M1904.8 2224.6l21.4 12.9 38.7 0 8.6 0-51.6 4.3 21.5 4.3 0 8.6 4.4 0 38.6 4.3-34.4 4.3 4.3 12.9-4.3 4.3 12.9 0-34.4 12.9-51.6 8.6 4.3 0 17.2 17.2 86 47.3 12.9 0-12.9 8.6 12.9 8.6-8.5 4.3" class="mk" style="marker:url(#m52)"/>
<path d="M1921.9 2224.6l0 12.9 90.3 21.5-73.1 4.3 4.3 0 4.4 0 12.8 0 8.6 0 0 4.3-25.8 4.3-47.3 12.9 21.5 0-4.3 43-43 4.3 120.5 30.1 0 4.3-4.4 12.9" class="mk" style="marker:url(#m53)"/>
<path d="M1947.8 2228.9l-30.2 12.9 43 0-4.3 4.3-17.2 8.6-8.6 4.3 17.3 0 25.7 0-64.5 38.7-4.2 8.6 4.2 4.3 21.5 12.9-4.3 17.2-4.3 12.9 73.1 4.3-4.2 12.9" class="mk" style="marker:url(#m54)"/>
<path d="M1952 2228.9l-38.7 8.6 17.2 4.3-21.5 4.3 43 0-25.8 12.9 34.4 0-47.3 4.3 17.2 0 25.8 0 4.3 12.9 34.4 0-86 4.3 8.6 21.5 12.9 0-21.5 12.9-25.8 8.6-4.3 4.3 43 21.5 81.7 4.3-8.6 8.6-12.9 4.3 12.9 25.8" class="mk" style="marker:url(#m55)"/>
<path d="M1909 2237.5l38.8 4.3-30.2 4.3 8.6 0 17.2 4.3-8.6 4.3-21.5 4.3 43 0-30.1 4.3 55.9 4.3-111.8 25.8 30.1 12.9 30.1 8.6 4.3 0-38.7 4.3 17.2 0 21.5 4.3-38.7 8.6 94.7 25.8 8.5 17.2" class="mk" style="marker:url(#m56)"/>
<path d="M2020.8 2263.3l8.6 8.6-86 17.2 25.8 0-30.1 4.3 25.8 0-21.5 8.6 12.9 8.6 4.3 0 4.3 0-12.9 4.3 4.3 0 4.3 0 8.6 0 55.9 0-51.6 4.3 43 4.3 8.6 0-60.2 4.3 25.9 4.3 17.1 0 0 4.3-43 4.3 4.3 0-4.3 4.3-8.6 8.6" class="mk" style="marker:url(#m57)"/>
<path d="M2016.5 2267.6l8.6 0 4.3 8.6-73.1 8.6-8.5 8.6 43 0-43 4.3 17.1 0 86 0-64.5 12.9-21.5 4.3 12.9 4.3 17.2 0 8.6 0-12.8 4.3-21.6 4.3 12.9 0-73.1 4.3 4.3 0 38.7 0 12.9 4.3-51.6 4.3 81.7 0-21.5 4.3" class="mk" style="marker:url(#m58)"/>
<path d="M2007.9 2276.2l43 0-98.9 21.5 68.8 0-81.7 4.3 17.2 0 55.9 0 30.1 0-90.3 4.3 4.3 0 43 0-4.3 4.3-4.2 4.3 4.2 0 8.6 0-21.5 4.3 17.2 0-43 4.3 30.1 0 21.5 0-30.1 4.3-34.4 4.3 4.4 0-34.5 4.3 25.8 0 77.4 0-111.7 4.3 81.6 4.3-21.5 12.9" class="mk" style="marker:url(#m59)"/>
<path d="M2046.6 2280.5l-77.4 4.3-8.6 8.6 25.8 4.3 38.7 0-47.3 4.3 25.8 0-55.8 4.3-8.7 4.3 12.9 0 21.5 4.3-8.6 4.3 51.6 0-12.9 4.3-68.8 4.3-17.2 4.3 17.2 0 51.6 0 43 0-120.4 8.6 34.4 0 12.9 0 4.3 0 43 0-8.6 4.3-17.2 8.6-34.4 12.9" class="mk" style="marker:url(#m60)"/>
</g></g>
<rect x="1876.5" y="2237.1" width="159.7" height="129.8" fill="none" stroke="#fff" stroke-width="3.6" stroke-dasharray="3.7 3.75"/>
<text x="1963.0" y="2396.4" font-size="26" fill="#fff" textLength="82.8" lengthAdjust="spacingAndGlyphs">200 &#181;m</text>
<rect x="1985.8" y="2406.8" width="28.6" height="3.8" fill="#fff"/>
</g>
</svg>
</body></html>
